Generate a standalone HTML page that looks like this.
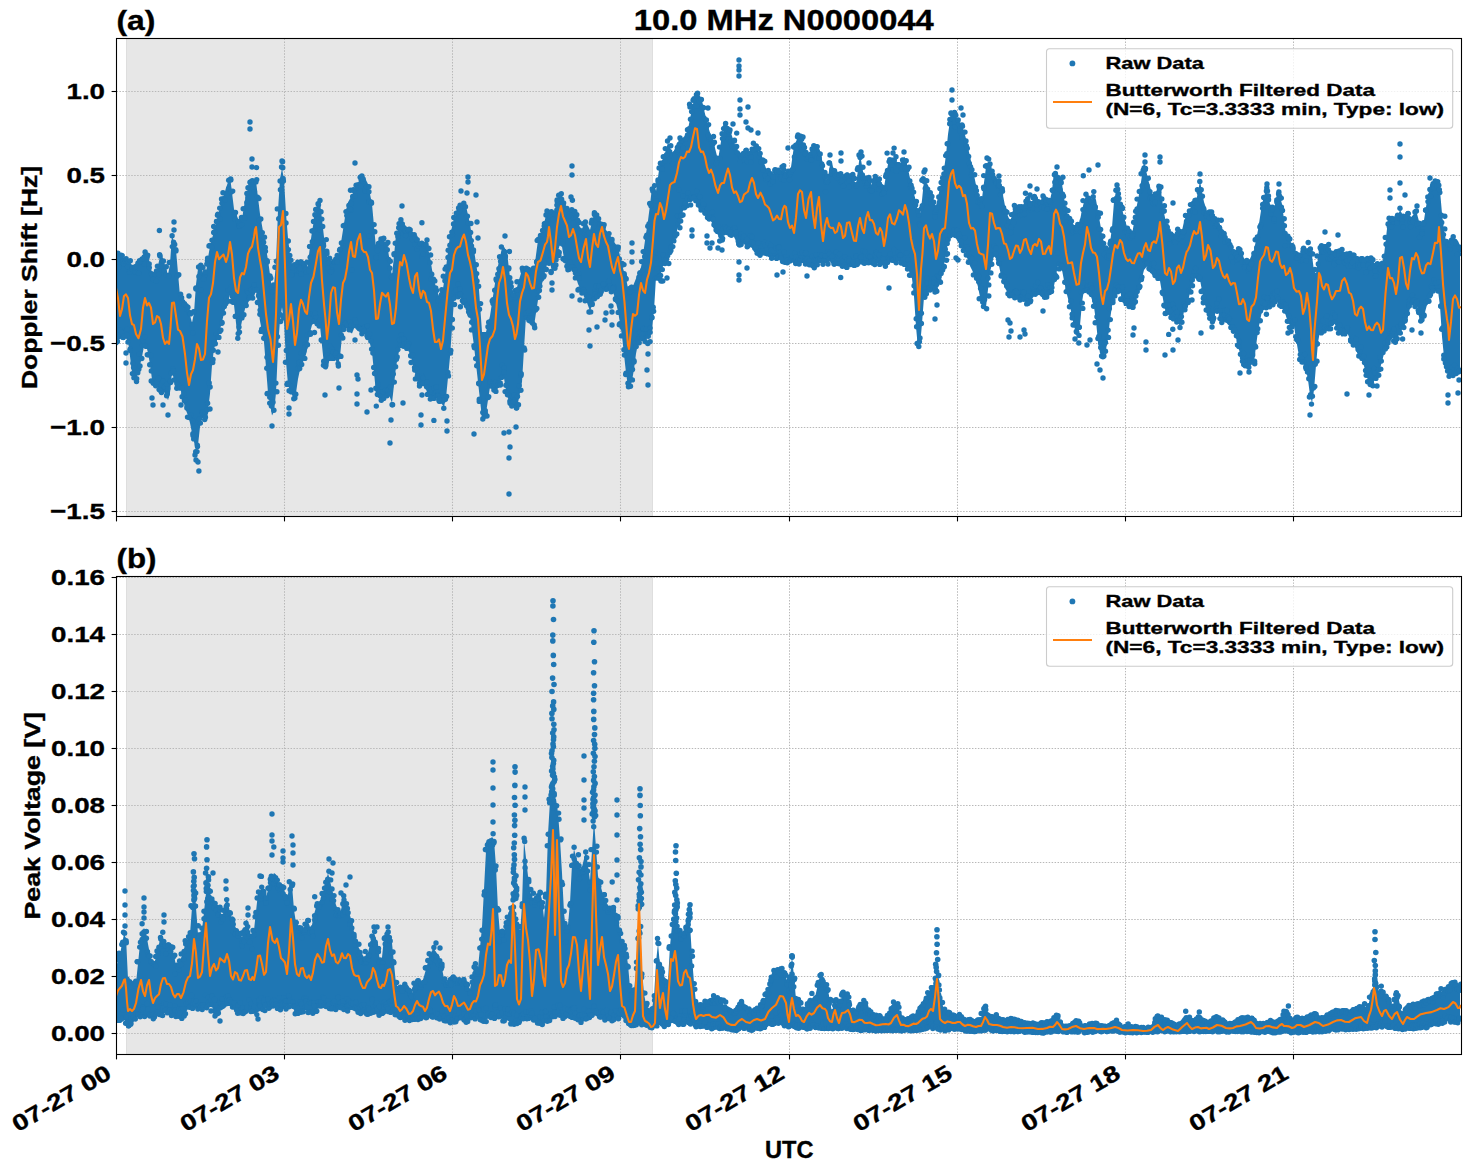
<!DOCTYPE html><html><head><meta charset="utf-8"><style>html,body{margin:0;padding:0;background:#fff;}svg{display:block;}text{font-family:"Liberation Sans",sans-serif;font-weight:bold;fill:#000;stroke:#000;stroke-width:0.35px;}</style></head><body>
<svg width="1471" height="1172" viewBox="0 0 1471 1172">
<rect width="1471" height="1172" fill="#fff"/>
<defs>
<clipPath id="c0"><rect x="116.5" y="38.5" width="1345" height="478"/></clipPath>
<clipPath id="c1"><rect x="116.5" y="576.5" width="1345" height="478"/></clipPath>
</defs>
<g clip-path="url(#c0)">
<rect x="126" y="38.5" width="527" height="478" fill="#e7e7e7"/>
<line x1="126.5" y1="38.5" x2="126.5" y2="516.5" stroke="#dedede" stroke-width="1"/>
<line x1="652.5" y1="38.5" x2="652.5" y2="516.5" stroke="#dedede" stroke-width="1"/>
<line x1="116.5" y1="38.5" x2="116.5" y2="516.5" stroke="#b8b8b8" stroke-width="1.05" stroke-dasharray="1.45,1.5"/>
<line x1="284.5" y1="38.5" x2="284.5" y2="516.5" stroke="#b8b8b8" stroke-width="1.05" stroke-dasharray="1.45,1.5"/>
<line x1="452.5" y1="38.5" x2="452.5" y2="516.5" stroke="#b8b8b8" stroke-width="1.05" stroke-dasharray="1.45,1.5"/>
<line x1="620.5" y1="38.5" x2="620.5" y2="516.5" stroke="#b8b8b8" stroke-width="1.05" stroke-dasharray="1.45,1.5"/>
<line x1="789.5" y1="38.5" x2="789.5" y2="516.5" stroke="#b8b8b8" stroke-width="1.05" stroke-dasharray="1.45,1.5"/>
<line x1="957.5" y1="38.5" x2="957.5" y2="516.5" stroke="#b8b8b8" stroke-width="1.05" stroke-dasharray="1.45,1.5"/>
<line x1="1125.5" y1="38.5" x2="1125.5" y2="516.5" stroke="#b8b8b8" stroke-width="1.05" stroke-dasharray="1.45,1.5"/>
<line x1="1293.5" y1="38.5" x2="1293.5" y2="516.5" stroke="#b8b8b8" stroke-width="1.05" stroke-dasharray="1.45,1.5"/>
<line x1="116.5" y1="91.5" x2="1461.5" y2="91.5" stroke="#b8b8b8" stroke-width="1.05" stroke-dasharray="1.45,1.5"/>
<line x1="116.5" y1="175.5" x2="1461.5" y2="175.5" stroke="#b8b8b8" stroke-width="1.05" stroke-dasharray="1.45,1.5"/>
<line x1="116.5" y1="259.5" x2="1461.5" y2="259.5" stroke="#b8b8b8" stroke-width="1.05" stroke-dasharray="1.45,1.5"/>
<line x1="116.5" y1="343.5" x2="1461.5" y2="343.5" stroke="#b8b8b8" stroke-width="1.05" stroke-dasharray="1.45,1.5"/>
<line x1="116.5" y1="427.5" x2="1461.5" y2="427.5" stroke="#b8b8b8" stroke-width="1.05" stroke-dasharray="1.45,1.5"/>
<line x1="116.5" y1="511.5" x2="1461.5" y2="511.5" stroke="#b8b8b8" stroke-width="1.05" stroke-dasharray="1.45,1.5"/>
<g fill="#1f77b4">
<path d="M116,255 L118,255 L120,255 L122,256.5 L124,258 L126,259 L128,260 L130,262.5 L132,265 L134,266.5 L136,268 L138,264.8 L140,261.6 L142,258 L144,254 L146,253.5 L148,256.5 L150,263 L152,273 L154,276 L156,272 L158,265.5 L160,256.5 L162,255.2 L164,261.8 L166,268.2 L168,274.8 L170,263.7 L172,235 L174,242.5 L176,250 L178,273 L180,296 L182,298 L184,300 L186,303.5 L188,308.5 L190,315 L192,323 L194,312.8 L196,284.2 L198,268.8 L200,266.2 L202,269 L204,277 L206,273.2 L208,257.8 L210,246.2 L212,238.8 L214,231 L216,223 L218,215.2 L220,207.8 L222,200.8 L224,194.4 L226,188 L228,182 L230,176 L232,192.5 L234,209 L236,214 L238,219 L240,219 L242,219 L244,206.5 L246,194 L248,189 L250,184 L252,182.5 L254,181 L256,181 L258,197.5 L260,214 L262,225.5 L264,237 L266,248.5 L268,260 L270,274.4 L272,288.8 L274,285 L276,263 L278,210.3 L280,178.8 L282,168.2 L284,179.8 L286,213.2 L288,238.2 L290,254.8 L292,263.8 L294,265.2 L296,265.2 L298,263.8 L300,263 L302,263 L304,265.5 L306,270.5 L308,264 L310,246 L312,231.4 L314,220.2 L316,209 L318,205.5 L320,202 L322,219.5 L324,237 L326,252.3 L328,260 L330,260 L332,260.8 L334,262.2 L336,261 L338,257 L340,248.8 L342,236.2 L344,223.5 L346,210.5 L348,202.2 L350,198.8 L352,195 L354,191 L356,187 L358,183 L360,179 L362,177.5 L364,176 L366,180 L368,184 L370,194 L372,204 L374,226 L376,248 L378,242.5 L380,237 L382,238.5 L384,240 L386,245 L388,250 L390,263 L392,276 L394,255.5 L396,235 L398,229.5 L400,224 L402,224 L404,224 L406,226 L408,228 L410,230.5 L412,233.5 L414,236.2 L416,238.8 L418,241.2 L420,243.8 L422,245 L424,245 L426,246.2 L428,248.8 L430,256.5 L432,269.5 L434,279.8 L436,287.2 L438,293.5 L440,298.5 L442,294.8 L444,282.2 L446,267.8 L448,251.4 L450,235 L452,227 L454,219 L456,214 L458,209 L460,206.5 L462,204 L464,205 L466,206 L468,215 L470,224 L472,237 L474,250 L476,263 L478,276 L480,304 L482,332 L484,332 L486,332 L488,324 L490,316 L492,302.8 L494,289.6 L496,277.2 L498,265.8 L500,256.2 L502,248.8 L504,246.8 L506,250.2 L508,260.5 L510,277.5 L512,288.5 L514,293.5 L516,291.7 L518,283 L520,276.5 L522,270 L524,269 L526,268 L528,269 L530,270 L532,270 L534,270 L536,255 L538,240 L540,236 L542,232 L544,224.8 L546,214.2 L548,209 L550,210.2 L552,212.8 L554,211.5 L556,206.5 L558,200.8 L560,194.2 L562,195.5 L564,204.5 L566,210.2 L568,212.8 L570,212.8 L572,210.2 L574,211.5 L576,216.5 L578,221.8 L580,227.2 L582,228.4 L584,225.2 L586,222 L588,226 L590,230 L592,222 L594,214 L596,216.5 L598,219 L600,220.5 L602,222 L604,226 L606,230 L608,232.5 L610,235 L612,238.5 L614,242 L616,244.5 L618,247 L620,256 L622,265 L624,271.4 L626,277.8 L628,288.5 L630,293.5 L632,288.5 L634,283.5 L636,278.5 L638,274.5 L640,271.5 L642,262.5 L644,247.5 L646,233.5 L648,220.5 L650,205 L652,187 L654,182.3 L656,191 L658,177 L660,163 L662,160.5 L664,158 L666,150 L668,142 L670,147.5 L672,153 L674,151 L676,149 L678,146.5 L680,143.5 L682,141.5 L684,140.5 L686,136.2 L688,128.8 L690,119.2 L692,107.8 L694,100 L696,96 L698,94.5 L700,95.5 L702,100.5 L704,109.5 L706,118 L708,126 L710,132.5 L712,137.5 L714,144 L716,152 L718,160 L720,147.5 L722,135 L724,130 L726,125 L728,127.5 L730,130 L732,136 L734,142 L736,147.5 L738,153 L740,153 L742,153 L744,151.5 L746,150 L748,151.5 L750,153 L752,149 L754,145 L756,147.5 L758,150 L760,154 L762,158 L764,162.8 L766,168.2 L768,172.2 L770,174.8 L772,174.8 L774,172.2 L776,171 L778,171 L780,171 L782,171 L784,171.3 L786,172 L788,173 L790,174 L792,160 L794,146 L796,141.5 L798,137 L800,138 L802,139 L804,146.5 L806,154 L808,152.8 L810,151.6 L812,149.8 L814,147.2 L816,146 L818,146 L820,150.5 L822,159.5 L824,169.2 L826,179.8 L828,178 L830,164 L832,162 L834,172 L836,176.2 L838,174.8 L840,174.8 L842,176.2 L844,177 L846,177 L848,176.4 L850,175.2 L852,174 L854,179.5 L856,185 L858,169.5 L860,154 L862,165.5 L864,177 L866,177 L868,177 L870,181 L872,185 L874,181 L876,177 L878,181 L880,185 L882,186 L884,187 L886,175.5 L888,164 L890,160.5 L892,157 L894,159 L896,161 L898,162.5 L900,163.5 L902,161.5 L904,156.5 L906,159 L908,169 L910,178 L912,186 L914,193.8 L916,201.2 L918,212.5 L920,215 L922,200 L924,180 L926,182.5 L928,185 L930,191.5 L932,198 L934,202 L936,206 L938,197 L940,188 L942,178.8 L944,169.6 L946,154.8 L948,134.2 L950,120.8 L952,114.2 L954,113 L956,117 L958,120.2 L960,122.8 L962,126.5 L964,131.5 L966,138.5 L968,147.5 L970,156.5 L972,165.5 L974,175 L976,185 L978,194 L980,202 L982,198.2 L984,182.6 L986,167 L988,166 L990,165 L992,172.5 L994,180 L996,180 L998,180 L1000,185 L1002,190 L1004,200.5 L1006,211 L1008,216 L1010,221 L1012,216 L1014,211 L1016,208.5 L1018,206 L1020,207 L1022,208 L1024,203 L1026,198 L1028,200 L1030,202 L1032,201.2 L1034,197.8 L1036,198.5 L1038,203.5 L1040,204.8 L1042,202.2 L1044,199.8 L1046,197.2 L1048,197.2 L1050,199.8 L1052,191 L1054,171 L1056,175 L1058,179 L1060,181.5 L1062,184 L1064,197 L1066,210 L1068,215 L1070,220 L1072,222.5 L1074,225 L1076,225 L1078,225 L1080,220 L1082,210 L1084,201.8 L1086,195.2 L1088,194.5 L1090,199.5 L1092,200 L1094,196 L1096,199.8 L1098,211.2 L1100,222.8 L1102,234.2 L1104,242.8 L1106,248.2 L1108,248.2 L1110,242.8 L1112,227.2 L1114,201.8 L1116,191.2 L1118,195.6 L1120,200 L1122,208.5 L1124,217 L1126,223.5 L1128,230 L1130,232.5 L1132,235 L1134,222.5 L1136,210 L1138,199.5 L1140,189 L1142,175 L1144,161 L1146,170 L1148,179 L1150,186.5 L1152,194 L1154,193 L1156,192 L1158,188 L1160,184 L1162,198.4 L1164,212.8 L1166,222.5 L1168,227.5 L1170,232.5 L1172,237.5 L1174,237 L1176,231 L1178,229.8 L1180,233.2 L1182,230.5 L1184,221.5 L1186,216 L1188,214 L1190,209 L1192,204 L1194,203 L1196,202 L1198,191.5 L1200,181 L1202,191.5 L1204,202 L1206,208 L1208,214 L1210,213.2 L1212,212.4 L1214,214 L1216,218 L1218,221.8 L1220,225.2 L1222,229 L1224,233 L1226,237.5 L1228,242.5 L1230,246.2 L1232,248.8 L1234,250 L1236,250 L1238,250 L1240,250 L1242,252.8 L1244,258.2 L1246,261 L1248,261 L1250,258.8 L1252,254.4 L1254,250 L1256,240 L1258,230 L1260,217 L1262,204 L1264,196.5 L1266,189 L1268,196.5 L1270,204 L1272,206.5 L1274,209 L1276,199 L1278,189 L1280,196.5 L1282,204 L1284,219.5 L1286,235 L1288,237.5 L1290,240 L1292,245 L1294,250 L1296,252 L1298,254 L1300,253.8 L1302,251.2 L1304,250 L1306,250 L1308,250 L1310,250 L1312,255.5 L1314,271 L1316,273.2 L1318,257.8 L1320,248.7 L1322,246 L1324,246 L1326,246 L1328,248.5 L1330,251 L1332,252 L1334,253 L1336,252 L1338,251 L1340,251 L1342,251 L1344,251.8 L1346,252.6 L1348,253.8 L1350,255.2 L1352,256 L1354,256 L1356,256 L1358,256 L1360,257.2 L1362,259.8 L1364,261 L1366,261 L1368,260.2 L1370,258.8 L1372,259.5 L1374,262.5 L1376,264.5 L1378,265.5 L1380,265.5 L1382,264.5 L1384,255.2 L1386,237.6 L1388,220 L1390,220 L1392,220 L1394,220 L1396,220 L1398,215 L1400,210 L1402,213.5 L1404,217 L1406,216 L1408,215 L1410,216 L1412,217 L1414,213.5 L1416,210 L1418,217.5 L1420,225 L1422,222.5 L1424,220 L1426,207 L1428,194 L1430,190 L1432,186 L1434,182.8 L1436,180.2 L1438,179 L1440,190.5 L1442,213.5 L1444,230.2 L1446,240.8 L1448,246 L1450,244.5 L1452,241.5 L1454,241.5 L1456,244.5 L1458,246.5 L1460,247.5 L1460,369.2 L1458,371.8 L1456,373 L1454,373 L1452,374.2 L1450,376.8 L1448,375.5 L1446,367.8 L1444,357.2 L1442,336.8 L1440,306.2 L1438,291 L1436,291 L1434,291 L1432,293 L1430,297 L1428,301 L1426,308.5 L1424,316 L1422,319 L1420,322 L1418,311.5 L1416,301 L1414,301 L1412,301 L1410,308.5 L1408,316 L1406,321.5 L1404,327 L1402,329.5 L1400,332 L1398,337 L1396,342 L1394,339.5 L1392,337 L1390,339.5 L1388,342 L1386,348 L1384,354 L1382,361 L1380,369 L1378,374.2 L1376,376.8 L1374,380.5 L1372,385.5 L1370,385.5 L1368,380.5 L1366,374 L1364,366 L1362,360.8 L1360,358.2 L1358,354.5 L1356,349.5 L1354,345.8 L1352,343.2 L1350,339.5 L1348,334.5 L1346,333 L1344,335 L1342,337 L1340,334.5 L1338,332 L1336,327 L1334,322 L1332,324.5 L1330,327 L1328,327 L1326,327 L1324,329.5 L1322,332 L1320,331.3 L1318,342.5 L1316,365.5 L1314,390 L1312,403 L1310,395.2 L1308,379.8 L1306,369.5 L1304,364.5 L1302,360.8 L1300,358.2 L1298,350.8 L1296,338.4 L1294,326 L1292,326 L1290,326 L1288,321 L1286,316 L1284,311 L1282,306 L1280,303.5 L1278,301 L1276,301 L1274,301 L1272,303.5 L1270,306 L1268,306 L1266,306 L1264,308.5 L1262,311 L1260,321 L1258,331 L1256,346.5 L1254,362 L1252,364 L1250,366 L1248,367 L1246,367 L1244,364.5 L1242,359.5 L1240,353.2 L1238,345.8 L1236,338 L1234,330 L1232,326 L1230,326 L1228,324.8 L1226,322.2 L1224,321 L1222,321 L1220,317.2 L1218,309.8 L1216,309.8 L1214,317.2 L1212,320 L1210,318 L1208,316 L1206,308.5 L1204,301 L1202,290.5 L1200,280 L1198,277.5 L1196,275 L1194,280 L1192,285 L1190,293 L1188,301 L1186,304.3 L1184,311.2 L1182,321.8 L1180,325.8 L1178,323.2 L1176,320.5 L1174,317.5 L1172,316 L1170,316 L1168,314.8 L1166,312.2 L1164,305 L1162,293 L1160,281 L1158,278 L1156,275 L1154,272.5 L1152,270 L1150,267.5 L1148,265 L1146,267.5 L1144,270 L1142,278 L1140,286 L1138,293.5 L1136,301 L1134,303.5 L1132,306 L1130,306 L1128,306 L1126,306 L1124,306 L1122,298.5 L1120,291 L1118,291 L1116,291 L1114,296 L1112,306 L1110,320 L1108,338 L1106,349.5 L1104,354.5 L1102,355.8 L1100,353.2 L1098,341.8 L1096,321.2 L1094,307.2 L1092,299.8 L1090,293.5 L1088,288.5 L1086,287.2 L1084,289.8 L1082,302.5 L1080,325.5 L1078,335 L1076,331 L1074,327 L1072,316.5 L1070,306 L1068,298.5 L1066,291 L1064,280.5 L1062,270 L1060,267.5 L1058,265 L1056,275.5 L1054,286 L1052,290.7 L1050,294 L1048,296 L1046,296.5 L1044,295.5 L1042,293.8 L1040,291.2 L1038,291.2 L1036,293.8 L1034,296.2 L1032,298.8 L1030,300.6 L1028,301.8 L1026,303 L1024,300 L1022,297 L1020,298.5 L1018,300 L1016,298.5 L1014,297 L1012,296 L1010,295 L1008,292.5 L1006,290 L1004,285 L1002,280 L1000,270.5 L998,261 L996,258.5 L994,256 L992,264 L990,272 L988,289.5 L986,307 L984,305 L982,303 L980,297 L978,287 L976,279.5 L974,274.5 L972,270 L970,266 L968,260.8 L966,254.2 L964,249.8 L962,247.2 L960,244.8 L958,242.2 L956,238.5 L954,233.5 L952,232.2 L950,234.8 L948,242.2 L946,254.8 L944,265.2 L942,273.6 L940,282 L938,284.5 L936,287 L934,289.5 L932,292 L930,289.5 L928,287 L926,292 L924,297 L922,323.7 L920,346 L918,348.5 L916,326.8 L914,296.2 L912,278.5 L910,273.5 L908,269 L906,265 L904,262.5 L902,261.5 L900,261 L898,261 L896,261 L894,261 L892,261 L890,262 L888,263 L886,264.5 L884,266 L882,264.5 L880,263 L878,263 L876,263 L874,264.5 L872,266 L870,263.5 L868,261 L866,262 L864,263 L862,263 L860,263 L858,264.5 L856,266 L854,264.5 L852,263 L850,264.2 L848,265.4 L846,266 L844,266 L842,265.2 L840,263.8 L838,263 L836,263 L834,262.5 L832,261.5 L830,261.5 L828,262.5 L826,263 L824,263 L822,263 L820,263 L818,263.8 L816,265.2 L814,266 L812,266 L810,265.4 L808,264.2 L806,263 L804,263 L802,263 L800,263 L798,263 L796,262 L794,261 L792,261 L790,261 L788,261 L786,261 L784,261.7 L782,260.8 L780,258.2 L778,257 L776,257 L774,257 L772,257 L770,255.8 L768,253.2 L766,252.8 L764,254.2 L762,254.6 L760,253.8 L758,253 L756,251 L754,249 L752,248 L750,247 L748,246 L746,245 L744,244 L742,243 L740,244 L738,245 L736,241 L734,237 L732,235 L730,233 L728,231 L726,229 L724,234 L722,239 L720,236 L718,233 L716,229.8 L714,226.6 L712,223 L710,219 L708,215.8 L706,213.2 L704,210.8 L702,208.2 L700,205.8 L698,203.2 L696,200.8 L694,198.2 L692,198.2 L690,200.8 L688,203 L686,205 L684,208.5 L682,213.5 L680,219.8 L678,227.2 L676,234.2 L674,240.6 L672,247 L670,254.5 L668,262 L666,262 L664,262 L662,269.5 L660,277 L658,277 L656,277 L654,310.3 L652,329.2 L650,333.8 L648,337.2 L646,339.8 L644,339.8 L642,337.2 L640,338.5 L638,343.5 L636,353.8 L634,369.2 L632,380.8 L630,388.2 L628,387 L626,372.8 L624,354.4 L622,336 L620,323.5 L618,311 L616,303 L614,295 L612,290 L610,285 L608,287.5 L606,290 L604,290 L602,290 L600,292.5 L598,295 L596,297.5 L594,300 L592,305.5 L590,311 L588,305.5 L586,300 L584,296 L582,292 L580,288 L578,284 L576,277.5 L574,268.5 L572,265.5 L570,268.5 L568,268.5 L566,265.5 L564,258.2 L562,246.8 L560,244.2 L558,250.8 L556,259.2 L554,269.8 L552,271 L550,263 L548,261.5 L546,268 L544,276 L542,284 L540,292 L538,300 L536,313 L534,326 L532,323.5 L530,321 L528,318.5 L526,316 L524,349 L522,382 L520,392.5 L518,403 L516,406.3 L514,406.8 L512,404.2 L510,401.5 L508,398.5 L506,390.8 L504,378.2 L502,375.8 L500,383.2 L498,388.2 L496,390.8 L494,391 L492,389 L490,387 L488,400 L486,413 L484,415.5 L482,418 L480,400 L478,382 L476,364 L474,346 L472,331 L470,316 L468,310.5 L466,305 L464,302.5 L462,300 L460,297.5 L458,295 L456,297.5 L454,300 L452,328.5 L450,357 L448,377.4 L446,397.8 L444,406.8 L442,404.2 L440,400.2 L438,394.8 L436,394 L434,398 L432,399.2 L430,397.8 L428,394.5 L426,389.5 L424,386.5 L422,385.5 L420,384.2 L418,382.8 L416,377.5 L414,368.5 L412,360.8 L410,354.2 L408,350 L406,348 L404,346 L402,346 L400,346 L398,356.5 L396,367 L394,385 L392,403 L390,397.5 L388,392 L386,394.5 L384,397 L382,398.5 L380,400 L378,396.5 L376,393 L374,372.5 L372,352 L370,344 L368,336 L366,335 L364,334 L362,332.5 L360,331 L358,329 L356,327 L354,328.5 L352,333.5 L350,332.2 L348,324.8 L346,322.2 L344,324.8 L342,336.2 L340,356.8 L338,365 L336,361 L334,357.2 L332,353.8 L330,357 L328,367 L326,369.7 L324,365 L322,345.5 L320,326 L318,323.5 L316,321 L314,323 L312,325 L310,332.5 L308,345.5 L306,354.5 L304,359.5 L302,364.5 L300,369.5 L298,379 L296,393 L294,398.2 L292,394.8 L290,390.2 L288,384.8 L286,361.8 L284,321.2 L282,307.2 L280,319.8 L278,348.3 L276,393 L274,411.7 L272,415.4 L270,404.2 L268,393 L266,367.5 L264,342 L262,331.5 L260,321 L258,305.5 L256,290 L254,297 L252,298.5 L250,300 L248,302.5 L246,305 L244,313 L242,321 L240,331 L238,341 L236,323 L234,305 L232,300 L230,295 L228,300 L226,305 L224,313.4 L222,321.8 L220,329.8 L218,337.2 L216,343.5 L214,348.5 L212,365.2 L210,393.8 L208,410.5 L206,415.5 L204,418 L202,418 L200,427 L198,445 L196,450 L194,442 L192,433 L190,423 L188,415.5 L186,410.5 L184,403.8 L182,395.4 L180,387 L178,387 L176,387 L174,379.5 L172,372 L170,392.7 L168,400.2 L166,394.8 L164,392 L162,392 L160,390.2 L158,386.8 L156,385.5 L154,386.5 L152,379.5 L150,364.5 L148,353 L146,345 L144,346.2 L142,356.8 L140,365.6 L138,372.8 L136,380 L134,376 L132,372 L130,356.5 L128,341 L126,338.5 L124,336 L122,337.5 L120,339 L118,340 L116,341Z"/>
<circle cx="115.3" cy="255.5" r="2.7"/><circle cx="115.1" cy="335.8" r="2.7"/><circle cx="115.7" cy="258.4" r="2.7"/><circle cx="116" cy="342.7" r="2.7"/><circle cx="117.9" cy="253.3" r="2.7"/><circle cx="117.2" cy="341.6" r="2.7"/><circle cx="118.7" cy="256.8" r="2.7"/><circle cx="117.4" cy="341.3" r="2.7"/><circle cx="120.9" cy="259.8" r="2.7"/><circle cx="119.8" cy="335" r="2.7"/><circle cx="119.1" cy="266.7" r="2.7"/><circle cx="119.6" cy="329.8" r="2.7"/><circle cx="121.2" cy="255.3" r="2.7"/><circle cx="122.6" cy="337.2" r="2.7"/><circle cx="122.2" cy="255.6" r="2.7"/><circle cx="121.7" cy="332.5" r="2.7"/><circle cx="123.1" cy="261.5" r="2.7"/><circle cx="123.4" cy="337.6" r="2.7"/><circle cx="123.9" cy="263.8" r="2.7"/><circle cx="124.2" cy="335.6" r="2.7"/><circle cx="125.6" cy="261.1" r="2.7"/><circle cx="126.4" cy="330.6" r="2.7"/><circle cx="126.1" cy="258.7" r="2.7"/><circle cx="126.8" cy="335.3" r="2.7"/><circle cx="127.6" cy="266.7" r="2.7"/><circle cx="127.2" cy="329.2" r="2.7"/><circle cx="128.5" cy="261.7" r="2.7"/><circle cx="128" cy="342.1" r="2.7"/><circle cx="130.3" cy="260.8" r="2.7"/><circle cx="130.1" cy="349.2" r="2.7"/><circle cx="129.6" cy="272" r="2.7"/><circle cx="130.2" cy="350.5" r="2.7"/><circle cx="131.9" cy="269.1" r="2.7"/><circle cx="132.9" cy="363.2" r="2.7"/><circle cx="132.3" cy="267.4" r="2.7"/><circle cx="132.4" cy="373.6" r="2.7"/><circle cx="135" cy="271.7" r="2.7"/><circle cx="133.6" cy="367.6" r="2.7"/><circle cx="134.3" cy="267.7" r="2.7"/><circle cx="133.9" cy="377.8" r="2.7"/><circle cx="135.2" cy="267" r="2.7"/><circle cx="136.5" cy="381.6" r="2.7"/><circle cx="135.5" cy="266.7" r="2.7"/><circle cx="136.7" cy="378.7" r="2.7"/><circle cx="137.9" cy="263.2" r="2.7"/><circle cx="138.8" cy="369.2" r="2.7"/><circle cx="138.7" cy="273.2" r="2.7"/><circle cx="137.8" cy="372.8" r="2.7"/><circle cx="140.8" cy="262.5" r="2.7"/><circle cx="139.3" cy="354.3" r="2.7"/><circle cx="139.5" cy="260.7" r="2.7"/><circle cx="140" cy="366" r="2.7"/><circle cx="141.5" cy="262.2" r="2.7"/><circle cx="141.8" cy="358.5" r="2.7"/><circle cx="142.1" cy="259" r="2.7"/><circle cx="142.4" cy="345.6" r="2.7"/><circle cx="144.2" cy="257" r="2.7"/><circle cx="143.1" cy="340.6" r="2.7"/><circle cx="144.6" cy="264" r="2.7"/><circle cx="144.6" cy="336.8" r="2.7"/><circle cx="145.8" cy="254.8" r="2.7"/><circle cx="146.3" cy="346.4" r="2.7"/><circle cx="145.1" cy="251.9" r="2.7"/><circle cx="145.3" cy="345.7" r="2.7"/><circle cx="147.1" cy="257.2" r="2.7"/><circle cx="147.3" cy="354.8" r="2.7"/><circle cx="147.7" cy="255.1" r="2.7"/><circle cx="148.7" cy="354.8" r="2.7"/><circle cx="149.3" cy="267.6" r="2.7"/><circle cx="149.7" cy="364.8" r="2.7"/><circle cx="149.2" cy="264" r="2.7"/><circle cx="151" cy="355.5" r="2.7"/><circle cx="152" cy="275.3" r="2.7"/><circle cx="151.2" cy="381" r="2.7"/><circle cx="151.5" cy="273.7" r="2.7"/><circle cx="151.3" cy="370.9" r="2.7"/><circle cx="154.9" cy="274.2" r="2.7"/><circle cx="153.3" cy="383.3" r="2.7"/><circle cx="153.1" cy="279.5" r="2.7"/><circle cx="155" cy="383.3" r="2.7"/><circle cx="156.4" cy="281.3" r="2.7"/><circle cx="155.7" cy="385.7" r="2.7"/><circle cx="156.5" cy="271" r="2.7"/><circle cx="156.6" cy="382.2" r="2.7"/><circle cx="157.4" cy="266.1" r="2.7"/><circle cx="159" cy="378.5" r="2.7"/><circle cx="158.6" cy="274.5" r="2.7"/><circle cx="158.5" cy="378.4" r="2.7"/><circle cx="160" cy="256" r="2.7"/><circle cx="159.1" cy="389.4" r="2.7"/><circle cx="159.6" cy="254.7" r="2.7"/><circle cx="160.4" cy="390.4" r="2.7"/><circle cx="161.9" cy="266.5" r="2.7"/><circle cx="163" cy="381.2" r="2.7"/><circle cx="161.7" cy="266.5" r="2.7"/><circle cx="161.5" cy="392.6" r="2.7"/><circle cx="163.4" cy="261" r="2.7"/><circle cx="164.8" cy="387.2" r="2.7"/><circle cx="164" cy="270.6" r="2.7"/><circle cx="164.6" cy="386.7" r="2.7"/><circle cx="166.3" cy="266.7" r="2.7"/><circle cx="166.6" cy="384.5" r="2.7"/><circle cx="166" cy="275.3" r="2.7"/><circle cx="166.6" cy="395.7" r="2.7"/><circle cx="168.6" cy="275.4" r="2.7"/><circle cx="167.8" cy="388.7" r="2.7"/><circle cx="168.9" cy="276.2" r="2.7"/><circle cx="167.3" cy="393.7" r="2.7"/><circle cx="169.3" cy="262.4" r="2.7"/><circle cx="170.6" cy="382.5" r="2.7"/><circle cx="170.7" cy="262.5" r="2.7"/><circle cx="170.3" cy="380.9" r="2.7"/><circle cx="172.1" cy="235.8" r="2.7"/><circle cx="171" cy="373.3" r="2.7"/><circle cx="172.3" cy="246.6" r="2.7"/><circle cx="172.9" cy="368.8" r="2.7"/><circle cx="174.7" cy="244.4" r="2.7"/><circle cx="173.4" cy="371" r="2.7"/><circle cx="173.6" cy="242.2" r="2.7"/><circle cx="174.2" cy="379.9" r="2.7"/><circle cx="175.8" cy="249.8" r="2.7"/><circle cx="176.8" cy="388.3" r="2.7"/><circle cx="175.9" cy="250.9" r="2.7"/><circle cx="176.8" cy="382.9" r="2.7"/><circle cx="178.8" cy="274.7" r="2.7"/><circle cx="178.1" cy="384.2" r="2.7"/><circle cx="177" cy="276.2" r="2.7"/><circle cx="177.4" cy="385" r="2.7"/><circle cx="180.6" cy="294.2" r="2.7"/><circle cx="179.9" cy="388" r="2.7"/><circle cx="180.1" cy="302.6" r="2.7"/><circle cx="180" cy="386.5" r="2.7"/><circle cx="182.6" cy="301.7" r="2.7"/><circle cx="182.1" cy="396.8" r="2.7"/><circle cx="181.6" cy="297.7" r="2.7"/><circle cx="182" cy="387.9" r="2.7"/><circle cx="184.5" cy="303.8" r="2.7"/><circle cx="183.9" cy="393.5" r="2.7"/><circle cx="184" cy="304.6" r="2.7"/><circle cx="184.4" cy="400.8" r="2.7"/><circle cx="186.1" cy="305.6" r="2.7"/><circle cx="186.9" cy="408" r="2.7"/><circle cx="186.8" cy="309.6" r="2.7"/><circle cx="185.5" cy="399.6" r="2.7"/><circle cx="188.9" cy="312.2" r="2.7"/><circle cx="187.3" cy="406.7" r="2.7"/><circle cx="187.9" cy="307.2" r="2.7"/><circle cx="187.5" cy="417.1" r="2.7"/><circle cx="190.3" cy="313.4" r="2.7"/><circle cx="190.8" cy="415.3" r="2.7"/><circle cx="190.4" cy="313.9" r="2.7"/><circle cx="189.3" cy="417.6" r="2.7"/><circle cx="192.9" cy="332.7" r="2.7"/><circle cx="192.9" cy="433.6" r="2.7"/><circle cx="192" cy="324.4" r="2.7"/><circle cx="192.7" cy="421" r="2.7"/><circle cx="193.9" cy="311.7" r="2.7"/><circle cx="193.7" cy="438.9" r="2.7"/><circle cx="193.6" cy="312" r="2.7"/><circle cx="193" cy="435.5" r="2.7"/><circle cx="195.9" cy="287.9" r="2.7"/><circle cx="195.7" cy="451.8" r="2.7"/><circle cx="196" cy="289" r="2.7"/><circle cx="197" cy="451.6" r="2.7"/><circle cx="198.9" cy="276.5" r="2.7"/><circle cx="197.5" cy="446.4" r="2.7"/><circle cx="198.6" cy="267" r="2.7"/><circle cx="197.3" cy="445.1" r="2.7"/><circle cx="200.8" cy="268" r="2.7"/><circle cx="199.5" cy="418.6" r="2.7"/><circle cx="200.8" cy="265.1" r="2.7"/><circle cx="200.4" cy="423.1" r="2.7"/><circle cx="201.1" cy="267.5" r="2.7"/><circle cx="201.9" cy="412.1" r="2.7"/><circle cx="202.9" cy="267.4" r="2.7"/><circle cx="202.6" cy="413" r="2.7"/><circle cx="204.7" cy="275.5" r="2.7"/><circle cx="204.7" cy="419.6" r="2.7"/><circle cx="203.7" cy="279.2" r="2.7"/><circle cx="204.9" cy="414.4" r="2.7"/><circle cx="205.3" cy="273.2" r="2.7"/><circle cx="205.5" cy="412.3" r="2.7"/><circle cx="205.3" cy="271.9" r="2.7"/><circle cx="205.4" cy="417.2" r="2.7"/><circle cx="207.6" cy="258.1" r="2.7"/><circle cx="207.6" cy="403.3" r="2.7"/><circle cx="207.4" cy="260.6" r="2.7"/><circle cx="207" cy="409.7" r="2.7"/><circle cx="209" cy="246" r="2.7"/><circle cx="210.1" cy="387" r="2.7"/><circle cx="209.9" cy="245.4" r="2.7"/><circle cx="209.2" cy="383" r="2.7"/><circle cx="211.9" cy="247.1" r="2.7"/><circle cx="212.7" cy="362.5" r="2.7"/><circle cx="212" cy="240.1" r="2.7"/><circle cx="213" cy="359.4" r="2.7"/><circle cx="214.7" cy="231.7" r="2.7"/><circle cx="214.3" cy="342.3" r="2.7"/><circle cx="213.7" cy="232.5" r="2.7"/><circle cx="213.3" cy="350.2" r="2.7"/><circle cx="216.5" cy="221.4" r="2.7"/><circle cx="215.3" cy="343.7" r="2.7"/><circle cx="216.7" cy="221.5" r="2.7"/><circle cx="216.3" cy="334.1" r="2.7"/><circle cx="217.5" cy="215.3" r="2.7"/><circle cx="217.9" cy="337.1" r="2.7"/><circle cx="217.9" cy="214.2" r="2.7"/><circle cx="218.9" cy="337.4" r="2.7"/><circle cx="220.1" cy="219.3" r="2.7"/><circle cx="220.9" cy="330.1" r="2.7"/><circle cx="219.7" cy="208.1" r="2.7"/><circle cx="219.8" cy="331.5" r="2.7"/><circle cx="222" cy="203.2" r="2.7"/><circle cx="222" cy="322.5" r="2.7"/><circle cx="221.5" cy="199" r="2.7"/><circle cx="221.8" cy="323.3" r="2.7"/><circle cx="223" cy="192.7" r="2.7"/><circle cx="223.5" cy="313.1" r="2.7"/><circle cx="224.1" cy="198.5" r="2.7"/><circle cx="224.3" cy="306.4" r="2.7"/><circle cx="226.8" cy="194.4" r="2.7"/><circle cx="225.7" cy="303.7" r="2.7"/><circle cx="225.3" cy="199.9" r="2.7"/><circle cx="226.3" cy="298.4" r="2.7"/><circle cx="228.7" cy="180.3" r="2.7"/><circle cx="228.3" cy="290.1" r="2.7"/><circle cx="228.6" cy="188.7" r="2.7"/><circle cx="228" cy="301.2" r="2.7"/><circle cx="230.7" cy="178.9" r="2.7"/><circle cx="230.7" cy="286.9" r="2.7"/><circle cx="230.8" cy="180.1" r="2.7"/><circle cx="230.4" cy="289.2" r="2.7"/><circle cx="231.1" cy="192" r="2.7"/><circle cx="231.7" cy="301.2" r="2.7"/><circle cx="232.7" cy="191.1" r="2.7"/><circle cx="232.3" cy="296.3" r="2.7"/><circle cx="234.4" cy="213.8" r="2.7"/><circle cx="233" cy="302.3" r="2.7"/><circle cx="234.5" cy="217" r="2.7"/><circle cx="234.1" cy="302.1" r="2.7"/><circle cx="235.1" cy="219.4" r="2.7"/><circle cx="235.5" cy="316.2" r="2.7"/><circle cx="235.5" cy="212.4" r="2.7"/><circle cx="235.4" cy="316.4" r="2.7"/><circle cx="239" cy="225.8" r="2.7"/><circle cx="237.8" cy="338.3" r="2.7"/><circle cx="238.4" cy="221.5" r="2.7"/><circle cx="238.2" cy="333.6" r="2.7"/><circle cx="239.2" cy="224.1" r="2.7"/><circle cx="239.5" cy="332.1" r="2.7"/><circle cx="239.6" cy="225.9" r="2.7"/><circle cx="239" cy="327.1" r="2.7"/><circle cx="241.5" cy="217.4" r="2.7"/><circle cx="242.4" cy="315.4" r="2.7"/><circle cx="241.6" cy="224.7" r="2.7"/><circle cx="241.9" cy="317.9" r="2.7"/><circle cx="243.2" cy="208.8" r="2.7"/><circle cx="243.4" cy="303.1" r="2.7"/><circle cx="244.9" cy="218.2" r="2.7"/><circle cx="243.9" cy="314.8" r="2.7"/><circle cx="246.9" cy="202.4" r="2.7"/><circle cx="245.5" cy="302.9" r="2.7"/><circle cx="246.9" cy="193.4" r="2.7"/><circle cx="246.2" cy="305.6" r="2.7"/><circle cx="248" cy="187.8" r="2.7"/><circle cx="247.3" cy="291.3" r="2.7"/><circle cx="248" cy="197.4" r="2.7"/><circle cx="248.4" cy="292.7" r="2.7"/><circle cx="250.8" cy="183.5" r="2.7"/><circle cx="249" cy="297.4" r="2.7"/><circle cx="250" cy="182.2" r="2.7"/><circle cx="249.6" cy="297.9" r="2.7"/><circle cx="251.7" cy="181.3" r="2.7"/><circle cx="252.7" cy="298.1" r="2.7"/><circle cx="252.5" cy="180.7" r="2.7"/><circle cx="251.2" cy="289.7" r="2.7"/><circle cx="254.4" cy="191.6" r="2.7"/><circle cx="253.6" cy="286.9" r="2.7"/><circle cx="253.8" cy="182.1" r="2.7"/><circle cx="254.2" cy="284.8" r="2.7"/><circle cx="255.9" cy="181.9" r="2.7"/><circle cx="255.1" cy="290" r="2.7"/><circle cx="256.7" cy="179.6" r="2.7"/><circle cx="256.9" cy="289.9" r="2.7"/><circle cx="257.5" cy="197.2" r="2.7"/><circle cx="257.4" cy="302.5" r="2.7"/><circle cx="258.9" cy="198.6" r="2.7"/><circle cx="258.6" cy="295.8" r="2.7"/><circle cx="260.8" cy="218.9" r="2.7"/><circle cx="260.1" cy="310.1" r="2.7"/><circle cx="259.1" cy="220.5" r="2.7"/><circle cx="259.9" cy="314.3" r="2.7"/><circle cx="262.3" cy="232.6" r="2.7"/><circle cx="261.1" cy="331.4" r="2.7"/><circle cx="261.3" cy="236.1" r="2.7"/><circle cx="261.7" cy="329.1" r="2.7"/><circle cx="264.5" cy="237.2" r="2.7"/><circle cx="263.5" cy="330.3" r="2.7"/><circle cx="263.6" cy="242.3" r="2.7"/><circle cx="263.8" cy="338.3" r="2.7"/><circle cx="265.3" cy="247.5" r="2.7"/><circle cx="266.8" cy="368.2" r="2.7"/><circle cx="265.4" cy="251.3" r="2.7"/><circle cx="267" cy="357.3" r="2.7"/><circle cx="267.3" cy="262.1" r="2.7"/><circle cx="267.2" cy="393.8" r="2.7"/><circle cx="267.2" cy="260.7" r="2.7"/><circle cx="267.5" cy="393.4" r="2.7"/><circle cx="270.8" cy="278.3" r="2.7"/><circle cx="269.8" cy="397.2" r="2.7"/><circle cx="270" cy="276" r="2.7"/><circle cx="269.7" cy="403.1" r="2.7"/><circle cx="271.6" cy="287.2" r="2.7"/><circle cx="271.3" cy="403.9" r="2.7"/><circle cx="272.3" cy="291.7" r="2.7"/><circle cx="271.4" cy="406.1" r="2.7"/><circle cx="273.5" cy="284.9" r="2.7"/><circle cx="273.9" cy="410.2" r="2.7"/><circle cx="274.7" cy="296.2" r="2.7"/><circle cx="273" cy="402.2" r="2.7"/><circle cx="276.4" cy="261.3" r="2.7"/><circle cx="275.9" cy="383.1" r="2.7"/><circle cx="275" cy="267.2" r="2.7"/><circle cx="276.9" cy="391.7" r="2.7"/><circle cx="278.7" cy="218.8" r="2.7"/><circle cx="277.5" cy="336.7" r="2.7"/><circle cx="277.3" cy="208.9" r="2.7"/><circle cx="278.4" cy="345.2" r="2.7"/><circle cx="280.4" cy="189.7" r="2.7"/><circle cx="280.5" cy="314.6" r="2.7"/><circle cx="280.1" cy="181" r="2.7"/><circle cx="280.6" cy="321.5" r="2.7"/><circle cx="282.8" cy="167.8" r="2.7"/><circle cx="281.6" cy="302.1" r="2.7"/><circle cx="281.5" cy="167" r="2.7"/><circle cx="282.4" cy="302.3" r="2.7"/><circle cx="283.1" cy="178.4" r="2.7"/><circle cx="284.2" cy="318.1" r="2.7"/><circle cx="283.4" cy="181" r="2.7"/><circle cx="283" cy="316.8" r="2.7"/><circle cx="285.9" cy="213.5" r="2.7"/><circle cx="286.3" cy="350.5" r="2.7"/><circle cx="286" cy="222.9" r="2.7"/><circle cx="285.5" cy="362.2" r="2.7"/><circle cx="288.4" cy="249.6" r="2.7"/><circle cx="287" cy="384.4" r="2.7"/><circle cx="288.3" cy="241" r="2.7"/><circle cx="287.5" cy="383.1" r="2.7"/><circle cx="290.9" cy="260.3" r="2.7"/><circle cx="289.1" cy="390.7" r="2.7"/><circle cx="289.8" cy="255.4" r="2.7"/><circle cx="289.4" cy="384.5" r="2.7"/><circle cx="292.5" cy="271.7" r="2.7"/><circle cx="291.4" cy="391.9" r="2.7"/><circle cx="291.6" cy="275.3" r="2.7"/><circle cx="291.5" cy="386.4" r="2.7"/><circle cx="294.5" cy="264.7" r="2.7"/><circle cx="294.9" cy="398.1" r="2.7"/><circle cx="293.4" cy="268" r="2.7"/><circle cx="293.8" cy="398.8" r="2.7"/><circle cx="296.9" cy="270.7" r="2.7"/><circle cx="295.8" cy="394.2" r="2.7"/><circle cx="296.9" cy="264.6" r="2.7"/><circle cx="295.1" cy="394.2" r="2.7"/><circle cx="297.8" cy="262.1" r="2.7"/><circle cx="298.8" cy="369" r="2.7"/><circle cx="299" cy="270.5" r="2.7"/><circle cx="297.7" cy="368.3" r="2.7"/><circle cx="300.9" cy="262.1" r="2.7"/><circle cx="299.1" cy="362.5" r="2.7"/><circle cx="299.8" cy="268.5" r="2.7"/><circle cx="299.7" cy="368.4" r="2.7"/><circle cx="301" cy="262" r="2.7"/><circle cx="301.7" cy="364.5" r="2.7"/><circle cx="301.2" cy="274.2" r="2.7"/><circle cx="301.4" cy="353.1" r="2.7"/><circle cx="304.6" cy="266.4" r="2.7"/><circle cx="303.9" cy="351.1" r="2.7"/><circle cx="303.9" cy="263.8" r="2.7"/><circle cx="304.8" cy="358.4" r="2.7"/><circle cx="305.7" cy="269.7" r="2.7"/><circle cx="305.1" cy="344.5" r="2.7"/><circle cx="306.6" cy="272.1" r="2.7"/><circle cx="305.1" cy="347.1" r="2.7"/><circle cx="307.1" cy="262.3" r="2.7"/><circle cx="307.5" cy="335" r="2.7"/><circle cx="308.8" cy="271" r="2.7"/><circle cx="307.5" cy="344.8" r="2.7"/><circle cx="310.2" cy="257.3" r="2.7"/><circle cx="310.4" cy="332.7" r="2.7"/><circle cx="309.6" cy="246.4" r="2.7"/><circle cx="310.5" cy="334.3" r="2.7"/><circle cx="312.3" cy="241.8" r="2.7"/><circle cx="311" cy="314" r="2.7"/><circle cx="312" cy="231" r="2.7"/><circle cx="312.9" cy="313.8" r="2.7"/><circle cx="313.5" cy="221.5" r="2.7"/><circle cx="314" cy="321.2" r="2.7"/><circle cx="313.4" cy="230.8" r="2.7"/><circle cx="314.5" cy="315" r="2.7"/><circle cx="316.5" cy="217.4" r="2.7"/><circle cx="315.7" cy="316.5" r="2.7"/><circle cx="315.7" cy="209.5" r="2.7"/><circle cx="315.2" cy="313.3" r="2.7"/><circle cx="318.5" cy="204.7" r="2.7"/><circle cx="317.1" cy="323.8" r="2.7"/><circle cx="318.1" cy="203.8" r="2.7"/><circle cx="319" cy="323" r="2.7"/><circle cx="321" cy="211.7" r="2.7"/><circle cx="319.2" cy="326.1" r="2.7"/><circle cx="320" cy="200.5" r="2.7"/><circle cx="319.9" cy="319.7" r="2.7"/><circle cx="321.8" cy="219.1" r="2.7"/><circle cx="322.3" cy="340.8" r="2.7"/><circle cx="322.7" cy="226.5" r="2.7"/><circle cx="321.2" cy="340" r="2.7"/><circle cx="323.6" cy="245.8" r="2.7"/><circle cx="323.7" cy="361.2" r="2.7"/><circle cx="323.4" cy="243.8" r="2.7"/><circle cx="323.5" cy="365.3" r="2.7"/><circle cx="326.8" cy="251.2" r="2.7"/><circle cx="325.7" cy="365.6" r="2.7"/><circle cx="327" cy="253.7" r="2.7"/><circle cx="325.5" cy="366.7" r="2.7"/><circle cx="328.3" cy="268.2" r="2.7"/><circle cx="327.2" cy="355" r="2.7"/><circle cx="328.6" cy="262.5" r="2.7"/><circle cx="328.8" cy="358.2" r="2.7"/><circle cx="329.6" cy="258.3" r="2.7"/><circle cx="329.4" cy="358.3" r="2.7"/><circle cx="330.2" cy="271.6" r="2.7"/><circle cx="329.7" cy="346.3" r="2.7"/><circle cx="331.9" cy="270.1" r="2.7"/><circle cx="332.6" cy="353.9" r="2.7"/><circle cx="331.2" cy="271.8" r="2.7"/><circle cx="332.2" cy="349.4" r="2.7"/><circle cx="333.7" cy="261.7" r="2.7"/><circle cx="333.4" cy="358.4" r="2.7"/><circle cx="334.2" cy="262" r="2.7"/><circle cx="333.4" cy="352" r="2.7"/><circle cx="335.7" cy="259.2" r="2.7"/><circle cx="335.4" cy="355.3" r="2.7"/><circle cx="335.4" cy="261.4" r="2.7"/><circle cx="336.1" cy="353.1" r="2.7"/><circle cx="337.2" cy="255.4" r="2.7"/><circle cx="338.1" cy="363.6" r="2.7"/><circle cx="337.2" cy="262" r="2.7"/><circle cx="338.4" cy="366" r="2.7"/><circle cx="339.6" cy="250.3" r="2.7"/><circle cx="340.9" cy="356.4" r="2.7"/><circle cx="340.1" cy="249.1" r="2.7"/><circle cx="339.8" cy="355.9" r="2.7"/><circle cx="343" cy="245.5" r="2.7"/><circle cx="341.4" cy="335.3" r="2.7"/><circle cx="341.4" cy="242.9" r="2.7"/><circle cx="342.8" cy="338" r="2.7"/><circle cx="344.6" cy="225.2" r="2.7"/><circle cx="344.8" cy="323.2" r="2.7"/><circle cx="343.3" cy="225.8" r="2.7"/><circle cx="344.1" cy="326.5" r="2.7"/><circle cx="346.8" cy="215.6" r="2.7"/><circle cx="346.2" cy="323.8" r="2.7"/><circle cx="346" cy="211.6" r="2.7"/><circle cx="345.6" cy="323.4" r="2.7"/><circle cx="348.9" cy="205.4" r="2.7"/><circle cx="348" cy="326.1" r="2.7"/><circle cx="348.9" cy="210.3" r="2.7"/><circle cx="347.3" cy="325.5" r="2.7"/><circle cx="351" cy="209.7" r="2.7"/><circle cx="349.1" cy="329.7" r="2.7"/><circle cx="349.8" cy="209.3" r="2.7"/><circle cx="350.2" cy="322.1" r="2.7"/><circle cx="351.3" cy="203.5" r="2.7"/><circle cx="351.4" cy="325.8" r="2.7"/><circle cx="352.7" cy="196.5" r="2.7"/><circle cx="351.4" cy="324.9" r="2.7"/><circle cx="353.8" cy="190.4" r="2.7"/><circle cx="353.8" cy="325.4" r="2.7"/><circle cx="353.5" cy="189.7" r="2.7"/><circle cx="354.8" cy="321.9" r="2.7"/><circle cx="356.1" cy="185.3" r="2.7"/><circle cx="355.1" cy="319.8" r="2.7"/><circle cx="355.2" cy="195.8" r="2.7"/><circle cx="356.1" cy="322.6" r="2.7"/><circle cx="357.6" cy="187.8" r="2.7"/><circle cx="358.2" cy="327.3" r="2.7"/><circle cx="358.3" cy="184.8" r="2.7"/><circle cx="357.9" cy="326.9" r="2.7"/><circle cx="360.2" cy="177.2" r="2.7"/><circle cx="359.5" cy="328.3" r="2.7"/><circle cx="360.6" cy="186.3" r="2.7"/><circle cx="359.4" cy="328.8" r="2.7"/><circle cx="361.2" cy="179.9" r="2.7"/><circle cx="361.9" cy="333.8" r="2.7"/><circle cx="361.9" cy="176" r="2.7"/><circle cx="361.1" cy="329.5" r="2.7"/><circle cx="363.2" cy="181" r="2.7"/><circle cx="364.6" cy="327.3" r="2.7"/><circle cx="363.1" cy="179" r="2.7"/><circle cx="363.8" cy="331.1" r="2.7"/><circle cx="365.3" cy="191.1" r="2.7"/><circle cx="367" cy="325.9" r="2.7"/><circle cx="366.6" cy="186.7" r="2.7"/><circle cx="367" cy="335.8" r="2.7"/><circle cx="368.9" cy="186.7" r="2.7"/><circle cx="367.3" cy="325.6" r="2.7"/><circle cx="368.9" cy="191.8" r="2.7"/><circle cx="367.7" cy="337.6" r="2.7"/><circle cx="369.3" cy="201.2" r="2.7"/><circle cx="369.5" cy="334" r="2.7"/><circle cx="369.3" cy="202.3" r="2.7"/><circle cx="370.8" cy="341.1" r="2.7"/><circle cx="371.5" cy="203.3" r="2.7"/><circle cx="371.6" cy="349.1" r="2.7"/><circle cx="371.4" cy="202.3" r="2.7"/><circle cx="372.9" cy="353" r="2.7"/><circle cx="374.8" cy="231.7" r="2.7"/><circle cx="374.6" cy="373.5" r="2.7"/><circle cx="374.1" cy="224.6" r="2.7"/><circle cx="373.7" cy="367.5" r="2.7"/><circle cx="376.1" cy="257.5" r="2.7"/><circle cx="376.8" cy="388.9" r="2.7"/><circle cx="377" cy="246.6" r="2.7"/><circle cx="375.8" cy="388.1" r="2.7"/><circle cx="377.5" cy="250.5" r="2.7"/><circle cx="378.2" cy="384.5" r="2.7"/><circle cx="378.5" cy="243.4" r="2.7"/><circle cx="377.4" cy="394.5" r="2.7"/><circle cx="379.1" cy="243.9" r="2.7"/><circle cx="379.5" cy="391.6" r="2.7"/><circle cx="381" cy="242" r="2.7"/><circle cx="380.3" cy="395.8" r="2.7"/><circle cx="381" cy="238.9" r="2.7"/><circle cx="381.3" cy="400.2" r="2.7"/><circle cx="381.9" cy="243.1" r="2.7"/><circle cx="382.8" cy="395.5" r="2.7"/><circle cx="383.5" cy="238.7" r="2.7"/><circle cx="383" cy="391.7" r="2.7"/><circle cx="383.7" cy="238.2" r="2.7"/><circle cx="383.7" cy="398.4" r="2.7"/><circle cx="386.2" cy="244.5" r="2.7"/><circle cx="385.4" cy="390.3" r="2.7"/><circle cx="385.9" cy="249.8" r="2.7"/><circle cx="386.9" cy="395.7" r="2.7"/><circle cx="387.3" cy="249.7" r="2.7"/><circle cx="388.3" cy="393.5" r="2.7"/><circle cx="388.6" cy="259.4" r="2.7"/><circle cx="387.5" cy="390.5" r="2.7"/><circle cx="390.3" cy="261.2" r="2.7"/><circle cx="389.7" cy="393.7" r="2.7"/><circle cx="389.9" cy="268.2" r="2.7"/><circle cx="390.5" cy="386.7" r="2.7"/><circle cx="392.8" cy="275.7" r="2.7"/><circle cx="392.1" cy="404.7" r="2.7"/><circle cx="391.5" cy="277.5" r="2.7"/><circle cx="392.6" cy="404.7" r="2.7"/><circle cx="394.1" cy="253.7" r="2.7"/><circle cx="393.3" cy="374.1" r="2.7"/><circle cx="394.2" cy="254.8" r="2.7"/><circle cx="394.3" cy="382.1" r="2.7"/><circle cx="395.3" cy="243.3" r="2.7"/><circle cx="395.6" cy="366.7" r="2.7"/><circle cx="396.8" cy="233.3" r="2.7"/><circle cx="396.4" cy="359.3" r="2.7"/><circle cx="398.7" cy="227.7" r="2.7"/><circle cx="397.9" cy="349.6" r="2.7"/><circle cx="397.9" cy="236.4" r="2.7"/><circle cx="397.2" cy="357" r="2.7"/><circle cx="399.1" cy="223.6" r="2.7"/><circle cx="400.5" cy="345.4" r="2.7"/><circle cx="400.7" cy="230" r="2.7"/><circle cx="399.5" cy="339.7" r="2.7"/><circle cx="401.9" cy="227.6" r="2.7"/><circle cx="402" cy="338.2" r="2.7"/><circle cx="402.3" cy="223.9" r="2.7"/><circle cx="401.4" cy="334.6" r="2.7"/><circle cx="403" cy="233.6" r="2.7"/><circle cx="403.5" cy="346.2" r="2.7"/><circle cx="404.9" cy="230.9" r="2.7"/><circle cx="403.7" cy="339" r="2.7"/><circle cx="405.7" cy="235.6" r="2.7"/><circle cx="406.8" cy="348.4" r="2.7"/><circle cx="406.4" cy="230.9" r="2.7"/><circle cx="407" cy="342.5" r="2.7"/><circle cx="408.7" cy="230.4" r="2.7"/><circle cx="408.7" cy="343.9" r="2.7"/><circle cx="408.4" cy="229.9" r="2.7"/><circle cx="407.6" cy="346.1" r="2.7"/><circle cx="410.2" cy="229.9" r="2.7"/><circle cx="410.8" cy="355.8" r="2.7"/><circle cx="409.1" cy="229.3" r="2.7"/><circle cx="410.9" cy="355.7" r="2.7"/><circle cx="411.3" cy="234.2" r="2.7"/><circle cx="411.1" cy="362.5" r="2.7"/><circle cx="412.3" cy="239.5" r="2.7"/><circle cx="412.5" cy="354.7" r="2.7"/><circle cx="414.2" cy="234.6" r="2.7"/><circle cx="414.6" cy="367.5" r="2.7"/><circle cx="414.8" cy="244.6" r="2.7"/><circle cx="414.7" cy="370.1" r="2.7"/><circle cx="416.9" cy="249.1" r="2.7"/><circle cx="415.4" cy="378.9" r="2.7"/><circle cx="415.1" cy="237.4" r="2.7"/><circle cx="416.6" cy="368.6" r="2.7"/><circle cx="418.7" cy="246.2" r="2.7"/><circle cx="417.6" cy="377.8" r="2.7"/><circle cx="417.2" cy="239.8" r="2.7"/><circle cx="417.4" cy="375.6" r="2.7"/><circle cx="419.8" cy="244.2" r="2.7"/><circle cx="419.5" cy="386" r="2.7"/><circle cx="420.4" cy="243.8" r="2.7"/><circle cx="419.6" cy="383.2" r="2.7"/><circle cx="422" cy="256.4" r="2.7"/><circle cx="422.2" cy="376.5" r="2.7"/><circle cx="421.8" cy="243.3" r="2.7"/><circle cx="422.5" cy="383.6" r="2.7"/><circle cx="424.4" cy="245.8" r="2.7"/><circle cx="423.4" cy="383.1" r="2.7"/><circle cx="423.2" cy="254.2" r="2.7"/><circle cx="423.3" cy="378.1" r="2.7"/><circle cx="425.4" cy="244.5" r="2.7"/><circle cx="427" cy="382.2" r="2.7"/><circle cx="426" cy="244.5" r="2.7"/><circle cx="426.6" cy="386.8" r="2.7"/><circle cx="428" cy="247.9" r="2.7"/><circle cx="428.7" cy="393.7" r="2.7"/><circle cx="428.9" cy="248.6" r="2.7"/><circle cx="427.4" cy="394.4" r="2.7"/><circle cx="430" cy="262.6" r="2.7"/><circle cx="430.3" cy="399.1" r="2.7"/><circle cx="430.6" cy="255" r="2.7"/><circle cx="430.6" cy="391.7" r="2.7"/><circle cx="431.7" cy="274.3" r="2.7"/><circle cx="431.8" cy="397.8" r="2.7"/><circle cx="431.2" cy="279.3" r="2.7"/><circle cx="431.1" cy="389.5" r="2.7"/><circle cx="433.5" cy="279.1" r="2.7"/><circle cx="434" cy="387.9" r="2.7"/><circle cx="434.8" cy="280.9" r="2.7"/><circle cx="433.9" cy="398.4" r="2.7"/><circle cx="436.5" cy="290.5" r="2.7"/><circle cx="436.3" cy="386.9" r="2.7"/><circle cx="435.7" cy="288" r="2.7"/><circle cx="436.7" cy="395.1" r="2.7"/><circle cx="438.5" cy="298.9" r="2.7"/><circle cx="437.9" cy="395.7" r="2.7"/><circle cx="438.2" cy="301" r="2.7"/><circle cx="437.9" cy="396" r="2.7"/><circle cx="439.5" cy="308.2" r="2.7"/><circle cx="439.6" cy="401.1" r="2.7"/><circle cx="440.7" cy="304.7" r="2.7"/><circle cx="439.3" cy="401.3" r="2.7"/><circle cx="441.7" cy="294.4" r="2.7"/><circle cx="441.3" cy="401.1" r="2.7"/><circle cx="441.4" cy="295.3" r="2.7"/><circle cx="442.5" cy="392.6" r="2.7"/><circle cx="444.9" cy="280.8" r="2.7"/><circle cx="443.8" cy="408.2" r="2.7"/><circle cx="444.6" cy="294.1" r="2.7"/><circle cx="443.9" cy="400" r="2.7"/><circle cx="446.3" cy="267" r="2.7"/><circle cx="445.4" cy="399.2" r="2.7"/><circle cx="445.1" cy="269.1" r="2.7"/><circle cx="446.6" cy="396.4" r="2.7"/><circle cx="448" cy="257.4" r="2.7"/><circle cx="447.9" cy="372.5" r="2.7"/><circle cx="448.2" cy="250.2" r="2.7"/><circle cx="448.5" cy="375.9" r="2.7"/><circle cx="449.9" cy="245.2" r="2.7"/><circle cx="450.5" cy="353" r="2.7"/><circle cx="449.5" cy="236.7" r="2.7"/><circle cx="450.8" cy="350.5" r="2.7"/><circle cx="452.4" cy="234.5" r="2.7"/><circle cx="452.4" cy="319.5" r="2.7"/><circle cx="451.9" cy="232.1" r="2.7"/><circle cx="452.3" cy="328.1" r="2.7"/><circle cx="453.8" cy="217.5" r="2.7"/><circle cx="454.4" cy="292.3" r="2.7"/><circle cx="453.5" cy="223.9" r="2.7"/><circle cx="453.9" cy="298.3" r="2.7"/><circle cx="455.8" cy="218.7" r="2.7"/><circle cx="456.9" cy="291.8" r="2.7"/><circle cx="456.3" cy="213.1" r="2.7"/><circle cx="455.8" cy="289.9" r="2.7"/><circle cx="458.9" cy="211.7" r="2.7"/><circle cx="458.1" cy="296.7" r="2.7"/><circle cx="458.6" cy="208" r="2.7"/><circle cx="458" cy="284.1" r="2.7"/><circle cx="460.1" cy="205.1" r="2.7"/><circle cx="460.4" cy="294.1" r="2.7"/><circle cx="460.3" cy="209.5" r="2.7"/><circle cx="460" cy="288.9" r="2.7"/><circle cx="462.9" cy="205.6" r="2.7"/><circle cx="462.4" cy="300.6" r="2.7"/><circle cx="462.5" cy="205.3" r="2.7"/><circle cx="463" cy="301.3" r="2.7"/><circle cx="463.1" cy="205.9" r="2.7"/><circle cx="463.8" cy="302.5" r="2.7"/><circle cx="463.8" cy="203.2" r="2.7"/><circle cx="464.4" cy="300.8" r="2.7"/><circle cx="465.5" cy="206.8" r="2.7"/><circle cx="466.5" cy="305.5" r="2.7"/><circle cx="466.1" cy="216.9" r="2.7"/><circle cx="466.6" cy="305.6" r="2.7"/><circle cx="467.4" cy="216.3" r="2.7"/><circle cx="468.6" cy="311.8" r="2.7"/><circle cx="468.3" cy="223.2" r="2.7"/><circle cx="468.1" cy="308.1" r="2.7"/><circle cx="470.9" cy="223.5" r="2.7"/><circle cx="470.3" cy="315.2" r="2.7"/><circle cx="470.6" cy="232.4" r="2.7"/><circle cx="469.6" cy="313.6" r="2.7"/><circle cx="471.3" cy="240.6" r="2.7"/><circle cx="471.7" cy="322.3" r="2.7"/><circle cx="471.5" cy="246" r="2.7"/><circle cx="471.5" cy="329.9" r="2.7"/><circle cx="473.4" cy="251.8" r="2.7"/><circle cx="474.4" cy="347.8" r="2.7"/><circle cx="473.5" cy="250" r="2.7"/><circle cx="474" cy="345.7" r="2.7"/><circle cx="476.3" cy="264.8" r="2.7"/><circle cx="475.7" cy="358.6" r="2.7"/><circle cx="476.7" cy="273.6" r="2.7"/><circle cx="476.7" cy="365.7" r="2.7"/><circle cx="478.6" cy="286.2" r="2.7"/><circle cx="478.7" cy="383.2" r="2.7"/><circle cx="477" cy="280.9" r="2.7"/><circle cx="478.9" cy="383.8" r="2.7"/><circle cx="479.5" cy="309.3" r="2.7"/><circle cx="479.3" cy="401.4" r="2.7"/><circle cx="480.6" cy="303.6" r="2.7"/><circle cx="479.3" cy="399.2" r="2.7"/><circle cx="482.6" cy="342.1" r="2.7"/><circle cx="482.8" cy="419" r="2.7"/><circle cx="482.6" cy="336.5" r="2.7"/><circle cx="482.8" cy="412.5" r="2.7"/><circle cx="484.7" cy="339.8" r="2.7"/><circle cx="484.4" cy="416.3" r="2.7"/><circle cx="484.5" cy="335.3" r="2.7"/><circle cx="484.8" cy="413.6" r="2.7"/><circle cx="485.5" cy="335.7" r="2.7"/><circle cx="485.3" cy="413.4" r="2.7"/><circle cx="485.1" cy="334.7" r="2.7"/><circle cx="485.3" cy="410.7" r="2.7"/><circle cx="488" cy="326.7" r="2.7"/><circle cx="488.7" cy="396.6" r="2.7"/><circle cx="488.7" cy="322.2" r="2.7"/><circle cx="488.1" cy="397.6" r="2.7"/><circle cx="490.7" cy="321.4" r="2.7"/><circle cx="489.8" cy="385.9" r="2.7"/><circle cx="489.2" cy="327.2" r="2.7"/><circle cx="490.3" cy="382.1" r="2.7"/><circle cx="492.2" cy="301" r="2.7"/><circle cx="492.9" cy="383.2" r="2.7"/><circle cx="493" cy="303.4" r="2.7"/><circle cx="492" cy="386" r="2.7"/><circle cx="493.1" cy="299.6" r="2.7"/><circle cx="494.3" cy="384.6" r="2.7"/><circle cx="494.7" cy="290.3" r="2.7"/><circle cx="493.9" cy="390" r="2.7"/><circle cx="496.5" cy="280.5" r="2.7"/><circle cx="495.9" cy="391.4" r="2.7"/><circle cx="496.1" cy="279" r="2.7"/><circle cx="495.6" cy="382.2" r="2.7"/><circle cx="497.8" cy="274.3" r="2.7"/><circle cx="497.5" cy="385.4" r="2.7"/><circle cx="498.9" cy="268.7" r="2.7"/><circle cx="498.6" cy="382.9" r="2.7"/><circle cx="499.6" cy="256.8" r="2.7"/><circle cx="500.2" cy="383" r="2.7"/><circle cx="500.6" cy="261.2" r="2.7"/><circle cx="500.4" cy="385" r="2.7"/><circle cx="502.1" cy="258.5" r="2.7"/><circle cx="501.6" cy="377.4" r="2.7"/><circle cx="501.4" cy="247" r="2.7"/><circle cx="502.2" cy="365.3" r="2.7"/><circle cx="504.6" cy="252.1" r="2.7"/><circle cx="504.2" cy="368" r="2.7"/><circle cx="504.3" cy="251.4" r="2.7"/><circle cx="504.2" cy="372.2" r="2.7"/><circle cx="505.4" cy="256" r="2.7"/><circle cx="505.9" cy="385.2" r="2.7"/><circle cx="505.2" cy="257.5" r="2.7"/><circle cx="505.1" cy="391.6" r="2.7"/><circle cx="508.8" cy="268" r="2.7"/><circle cx="507.7" cy="393.2" r="2.7"/><circle cx="508.6" cy="268.9" r="2.7"/><circle cx="507.5" cy="394.7" r="2.7"/><circle cx="509.8" cy="277.8" r="2.7"/><circle cx="509.9" cy="401.1" r="2.7"/><circle cx="510.9" cy="282.6" r="2.7"/><circle cx="510.1" cy="403.2" r="2.7"/><circle cx="511.2" cy="286.8" r="2.7"/><circle cx="512.2" cy="396.1" r="2.7"/><circle cx="511.9" cy="298.9" r="2.7"/><circle cx="511.8" cy="406" r="2.7"/><circle cx="514.9" cy="297.8" r="2.7"/><circle cx="514" cy="395" r="2.7"/><circle cx="513.2" cy="295.1" r="2.7"/><circle cx="513.4" cy="401.6" r="2.7"/><circle cx="515" cy="290.6" r="2.7"/><circle cx="516.4" cy="408.1" r="2.7"/><circle cx="516.9" cy="290.3" r="2.7"/><circle cx="516.7" cy="407.8" r="2.7"/><circle cx="517" cy="281.7" r="2.7"/><circle cx="517.5" cy="396.5" r="2.7"/><circle cx="517.4" cy="289.7" r="2.7"/><circle cx="518.5" cy="404.7" r="2.7"/><circle cx="520.7" cy="282.9" r="2.7"/><circle cx="519.2" cy="385.8" r="2.7"/><circle cx="520.4" cy="281.4" r="2.7"/><circle cx="520.9" cy="390.3" r="2.7"/><circle cx="522.9" cy="269.8" r="2.7"/><circle cx="521" cy="375.6" r="2.7"/><circle cx="522.3" cy="268.2" r="2.7"/><circle cx="521.2" cy="373.7" r="2.7"/><circle cx="524.5" cy="269.4" r="2.7"/><circle cx="524.7" cy="350" r="2.7"/><circle cx="523.1" cy="271.6" r="2.7"/><circle cx="524.1" cy="348" r="2.7"/><circle cx="526.4" cy="268.8" r="2.7"/><circle cx="526.6" cy="317.4" r="2.7"/><circle cx="526.3" cy="268.1" r="2.7"/><circle cx="525.8" cy="313.2" r="2.7"/><circle cx="528.6" cy="269.4" r="2.7"/><circle cx="528.6" cy="311.2" r="2.7"/><circle cx="527.6" cy="271.2" r="2.7"/><circle cx="528.9" cy="320.2" r="2.7"/><circle cx="530.7" cy="274" r="2.7"/><circle cx="530.2" cy="321" r="2.7"/><circle cx="530.7" cy="278.1" r="2.7"/><circle cx="529.6" cy="318.3" r="2.7"/><circle cx="532.8" cy="271" r="2.7"/><circle cx="532.4" cy="323.1" r="2.7"/><circle cx="532.8" cy="273" r="2.7"/><circle cx="531.6" cy="317.7" r="2.7"/><circle cx="533.5" cy="268.2" r="2.7"/><circle cx="534.2" cy="325" r="2.7"/><circle cx="534.8" cy="276.3" r="2.7"/><circle cx="534.7" cy="327.7" r="2.7"/><circle cx="536.7" cy="261.5" r="2.7"/><circle cx="535.5" cy="310.1" r="2.7"/><circle cx="536.6" cy="262.1" r="2.7"/><circle cx="536.8" cy="308.5" r="2.7"/><circle cx="537.2" cy="240.4" r="2.7"/><circle cx="538.6" cy="297.2" r="2.7"/><circle cx="538.5" cy="239.1" r="2.7"/><circle cx="537.5" cy="291.2" r="2.7"/><circle cx="540.4" cy="239.2" r="2.7"/><circle cx="539.4" cy="290.5" r="2.7"/><circle cx="540.5" cy="235.5" r="2.7"/><circle cx="539.9" cy="286.1" r="2.7"/><circle cx="542.6" cy="230.4" r="2.7"/><circle cx="541.5" cy="278.9" r="2.7"/><circle cx="542.8" cy="234.6" r="2.7"/><circle cx="542" cy="277.2" r="2.7"/><circle cx="544.2" cy="226.1" r="2.7"/><circle cx="543.4" cy="277.1" r="2.7"/><circle cx="544.4" cy="223.6" r="2.7"/><circle cx="544.1" cy="275.8" r="2.7"/><circle cx="546" cy="215" r="2.7"/><circle cx="545.1" cy="269.3" r="2.7"/><circle cx="545.7" cy="223.2" r="2.7"/><circle cx="546.3" cy="269.5" r="2.7"/><circle cx="547.3" cy="214.4" r="2.7"/><circle cx="547.7" cy="258.7" r="2.7"/><circle cx="547" cy="210.9" r="2.7"/><circle cx="549" cy="263.3" r="2.7"/><circle cx="550" cy="216.9" r="2.7"/><circle cx="549.5" cy="260.5" r="2.7"/><circle cx="549.9" cy="215.5" r="2.7"/><circle cx="550.5" cy="255.1" r="2.7"/><circle cx="552.9" cy="219.3" r="2.7"/><circle cx="551.1" cy="271.5" r="2.7"/><circle cx="551.4" cy="211.8" r="2.7"/><circle cx="551.1" cy="272.6" r="2.7"/><circle cx="554.7" cy="214.2" r="2.7"/><circle cx="554.9" cy="268.2" r="2.7"/><circle cx="553.1" cy="219.6" r="2.7"/><circle cx="553.8" cy="266.5" r="2.7"/><circle cx="556.9" cy="205.1" r="2.7"/><circle cx="556.1" cy="259.8" r="2.7"/><circle cx="556.9" cy="209.9" r="2.7"/><circle cx="555.8" cy="255.5" r="2.7"/><circle cx="557.3" cy="201.7" r="2.7"/><circle cx="559" cy="243" r="2.7"/><circle cx="557.1" cy="199.9" r="2.7"/><circle cx="557.7" cy="251.4" r="2.7"/><circle cx="560.8" cy="201" r="2.7"/><circle cx="559.1" cy="238.5" r="2.7"/><circle cx="560.4" cy="199.3" r="2.7"/><circle cx="561" cy="241" r="2.7"/><circle cx="561.3" cy="193.8" r="2.7"/><circle cx="562.9" cy="242" r="2.7"/><circle cx="561.6" cy="199.2" r="2.7"/><circle cx="562.5" cy="244.1" r="2.7"/><circle cx="563.6" cy="203" r="2.7"/><circle cx="563.2" cy="258.8" r="2.7"/><circle cx="563.3" cy="206" r="2.7"/><circle cx="563.3" cy="259" r="2.7"/><circle cx="565" cy="214.4" r="2.7"/><circle cx="565.4" cy="260.8" r="2.7"/><circle cx="566.9" cy="208.5" r="2.7"/><circle cx="566.9" cy="266.3" r="2.7"/><circle cx="568.8" cy="219.8" r="2.7"/><circle cx="567.9" cy="269.8" r="2.7"/><circle cx="568.9" cy="211.2" r="2.7"/><circle cx="568.3" cy="261.9" r="2.7"/><circle cx="569.7" cy="214.1" r="2.7"/><circle cx="570" cy="262.2" r="2.7"/><circle cx="569.3" cy="216.2" r="2.7"/><circle cx="569.1" cy="269.3" r="2.7"/><circle cx="572.1" cy="214.9" r="2.7"/><circle cx="572.7" cy="266.8" r="2.7"/><circle cx="571.8" cy="209.8" r="2.7"/><circle cx="571.5" cy="266.7" r="2.7"/><circle cx="573.7" cy="218.3" r="2.7"/><circle cx="574" cy="269.6" r="2.7"/><circle cx="574.8" cy="211.5" r="2.7"/><circle cx="575" cy="269.9" r="2.7"/><circle cx="576.8" cy="214.8" r="2.7"/><circle cx="575.4" cy="273" r="2.7"/><circle cx="575.6" cy="218.4" r="2.7"/><circle cx="575.4" cy="277.9" r="2.7"/><circle cx="579" cy="222.4" r="2.7"/><circle cx="578.9" cy="273.6" r="2.7"/><circle cx="577.6" cy="220.2" r="2.7"/><circle cx="577.1" cy="275.5" r="2.7"/><circle cx="579.6" cy="232.7" r="2.7"/><circle cx="579" cy="278.2" r="2.7"/><circle cx="579.7" cy="234" r="2.7"/><circle cx="579" cy="289.3" r="2.7"/><circle cx="582.1" cy="235.9" r="2.7"/><circle cx="581.9" cy="293" r="2.7"/><circle cx="581.4" cy="237.4" r="2.7"/><circle cx="581.3" cy="288.7" r="2.7"/><circle cx="584.5" cy="224.3" r="2.7"/><circle cx="583.4" cy="289.8" r="2.7"/><circle cx="583.2" cy="223.6" r="2.7"/><circle cx="584" cy="291.6" r="2.7"/><circle cx="585.4" cy="222" r="2.7"/><circle cx="586.4" cy="295.4" r="2.7"/><circle cx="586.2" cy="230.2" r="2.7"/><circle cx="585.1" cy="300.7" r="2.7"/><circle cx="587.8" cy="232.7" r="2.7"/><circle cx="587.1" cy="299" r="2.7"/><circle cx="587.7" cy="234.2" r="2.7"/><circle cx="588.7" cy="296.7" r="2.7"/><circle cx="589" cy="232.7" r="2.7"/><circle cx="590" cy="300.8" r="2.7"/><circle cx="589.5" cy="239.4" r="2.7"/><circle cx="590.7" cy="311.9" r="2.7"/><circle cx="591.3" cy="223" r="2.7"/><circle cx="592.2" cy="304.4" r="2.7"/><circle cx="592" cy="220.2" r="2.7"/><circle cx="592" cy="303.5" r="2.7"/><circle cx="594.4" cy="212.7" r="2.7"/><circle cx="594.7" cy="291.7" r="2.7"/><circle cx="594.4" cy="214.5" r="2.7"/><circle cx="594.5" cy="298.8" r="2.7"/><circle cx="596.7" cy="214.9" r="2.7"/><circle cx="596" cy="286.3" r="2.7"/><circle cx="596.1" cy="219.5" r="2.7"/><circle cx="595" cy="294.1" r="2.7"/><circle cx="597.4" cy="230.5" r="2.7"/><circle cx="597.2" cy="295.9" r="2.7"/><circle cx="598.6" cy="218.7" r="2.7"/><circle cx="597.2" cy="296.7" r="2.7"/><circle cx="599.4" cy="226.6" r="2.7"/><circle cx="600.2" cy="294.3" r="2.7"/><circle cx="600" cy="224.5" r="2.7"/><circle cx="599.2" cy="286.3" r="2.7"/><circle cx="602.4" cy="230.9" r="2.7"/><circle cx="601.2" cy="291.7" r="2.7"/><circle cx="602" cy="224.5" r="2.7"/><circle cx="601.2" cy="290.1" r="2.7"/><circle cx="603.3" cy="227.2" r="2.7"/><circle cx="604.7" cy="286.4" r="2.7"/><circle cx="604.1" cy="224.8" r="2.7"/><circle cx="603.3" cy="283.9" r="2.7"/><circle cx="606.9" cy="236.9" r="2.7"/><circle cx="605.8" cy="289.2" r="2.7"/><circle cx="606.1" cy="237.2" r="2.7"/><circle cx="606.9" cy="289.1" r="2.7"/><circle cx="607.7" cy="238" r="2.7"/><circle cx="607.7" cy="288.2" r="2.7"/><circle cx="609" cy="233.6" r="2.7"/><circle cx="608.8" cy="281.5" r="2.7"/><circle cx="610.7" cy="240.5" r="2.7"/><circle cx="610" cy="286.7" r="2.7"/><circle cx="610.9" cy="242.6" r="2.7"/><circle cx="609.8" cy="285.7" r="2.7"/><circle cx="611.7" cy="241.7" r="2.7"/><circle cx="611.1" cy="288" r="2.7"/><circle cx="612" cy="239.4" r="2.7"/><circle cx="611.3" cy="291.8" r="2.7"/><circle cx="614.6" cy="250.3" r="2.7"/><circle cx="614.3" cy="287.2" r="2.7"/><circle cx="614.8" cy="247.8" r="2.7"/><circle cx="613.1" cy="288.1" r="2.7"/><circle cx="615.5" cy="248.4" r="2.7"/><circle cx="615.5" cy="298.6" r="2.7"/><circle cx="616.8" cy="247.1" r="2.7"/><circle cx="615.5" cy="299.4" r="2.7"/><circle cx="617.9" cy="249.6" r="2.7"/><circle cx="617.6" cy="301.2" r="2.7"/><circle cx="618.3" cy="247.1" r="2.7"/><circle cx="618.2" cy="312.4" r="2.7"/><circle cx="620" cy="266.5" r="2.7"/><circle cx="619.9" cy="323.7" r="2.7"/><circle cx="619.3" cy="259" r="2.7"/><circle cx="619.3" cy="324.8" r="2.7"/><circle cx="621.8" cy="265.2" r="2.7"/><circle cx="621.5" cy="335.9" r="2.7"/><circle cx="622.1" cy="263.5" r="2.7"/><circle cx="622.2" cy="327.3" r="2.7"/><circle cx="624.3" cy="275.3" r="2.7"/><circle cx="624.4" cy="355.1" r="2.7"/><circle cx="624.1" cy="273.7" r="2.7"/><circle cx="623.9" cy="349.8" r="2.7"/><circle cx="625.5" cy="278.2" r="2.7"/><circle cx="626" cy="373.3" r="2.7"/><circle cx="626.2" cy="279" r="2.7"/><circle cx="625.7" cy="374.6" r="2.7"/><circle cx="627.5" cy="297.7" r="2.7"/><circle cx="628" cy="383.3" r="2.7"/><circle cx="629" cy="288.6" r="2.7"/><circle cx="628.5" cy="386.8" r="2.7"/><circle cx="629.1" cy="292.4" r="2.7"/><circle cx="629.9" cy="378.8" r="2.7"/><circle cx="629.8" cy="291.9" r="2.7"/><circle cx="630.5" cy="386.3" r="2.7"/><circle cx="631.5" cy="287.1" r="2.7"/><circle cx="632.5" cy="369.5" r="2.7"/><circle cx="631.7" cy="287.4" r="2.7"/><circle cx="632.4" cy="379.9" r="2.7"/><circle cx="634.7" cy="288.2" r="2.7"/><circle cx="634" cy="360.8" r="2.7"/><circle cx="634.5" cy="290.3" r="2.7"/><circle cx="634" cy="362" r="2.7"/><circle cx="636.4" cy="286.2" r="2.7"/><circle cx="635.3" cy="343.4" r="2.7"/><circle cx="635" cy="287.9" r="2.7"/><circle cx="636.2" cy="346.4" r="2.7"/><circle cx="638.9" cy="277.1" r="2.7"/><circle cx="637.8" cy="339.8" r="2.7"/><circle cx="638.7" cy="281.8" r="2.7"/><circle cx="637.8" cy="339.2" r="2.7"/><circle cx="639.9" cy="273.4" r="2.7"/><circle cx="639.6" cy="332.5" r="2.7"/><circle cx="640.1" cy="272.6" r="2.7"/><circle cx="639.6" cy="337.5" r="2.7"/><circle cx="642.7" cy="270.2" r="2.7"/><circle cx="641.9" cy="334.4" r="2.7"/><circle cx="641.6" cy="261.6" r="2.7"/><circle cx="642.2" cy="338.4" r="2.7"/><circle cx="643.2" cy="251.6" r="2.7"/><circle cx="643.6" cy="329.3" r="2.7"/><circle cx="644.7" cy="256.4" r="2.7"/><circle cx="643.4" cy="328.5" r="2.7"/><circle cx="646.8" cy="235.3" r="2.7"/><circle cx="645.1" cy="341.5" r="2.7"/><circle cx="646" cy="237.3" r="2.7"/><circle cx="646.5" cy="329.3" r="2.7"/><circle cx="649" cy="223.9" r="2.7"/><circle cx="648" cy="334.2" r="2.7"/><circle cx="647.8" cy="226.3" r="2.7"/><circle cx="648.2" cy="336.3" r="2.7"/><circle cx="650.9" cy="205.8" r="2.7"/><circle cx="650.1" cy="328.1" r="2.7"/><circle cx="649.7" cy="203.5" r="2.7"/><circle cx="650.1" cy="332.3" r="2.7"/><circle cx="652.8" cy="191" r="2.7"/><circle cx="652" cy="317.8" r="2.7"/><circle cx="652.2" cy="189" r="2.7"/><circle cx="651.7" cy="317.1" r="2.7"/><circle cx="654.6" cy="185.6" r="2.7"/><circle cx="653.6" cy="311.3" r="2.7"/><circle cx="654.7" cy="194.1" r="2.7"/><circle cx="653.2" cy="307.3" r="2.7"/><circle cx="656.4" cy="200.9" r="2.7"/><circle cx="657" cy="268.6" r="2.7"/><circle cx="655.8" cy="200.8" r="2.7"/><circle cx="655.6" cy="278.1" r="2.7"/><circle cx="658" cy="180" r="2.7"/><circle cx="657.4" cy="277.8" r="2.7"/><circle cx="658.2" cy="181.9" r="2.7"/><circle cx="659" cy="276.2" r="2.7"/><circle cx="659.1" cy="168" r="2.7"/><circle cx="660.6" cy="275.4" r="2.7"/><circle cx="660.4" cy="163.3" r="2.7"/><circle cx="659.6" cy="278.8" r="2.7"/><circle cx="662.2" cy="169.3" r="2.7"/><circle cx="661.4" cy="264" r="2.7"/><circle cx="662.1" cy="163.3" r="2.7"/><circle cx="662.3" cy="269.6" r="2.7"/><circle cx="665" cy="161.3" r="2.7"/><circle cx="663.8" cy="258" r="2.7"/><circle cx="663.3" cy="156.7" r="2.7"/><circle cx="663.2" cy="254.8" r="2.7"/><circle cx="665.3" cy="148.6" r="2.7"/><circle cx="666.6" cy="258.8" r="2.7"/><circle cx="666.6" cy="154.6" r="2.7"/><circle cx="665" cy="263.6" r="2.7"/><circle cx="667.6" cy="149.4" r="2.7"/><circle cx="667.7" cy="255.6" r="2.7"/><circle cx="667.5" cy="141" r="2.7"/><circle cx="668.8" cy="263.5" r="2.7"/><circle cx="669.7" cy="151.6" r="2.7"/><circle cx="669.8" cy="252.4" r="2.7"/><circle cx="670.8" cy="145.8" r="2.7"/><circle cx="670.9" cy="250.4" r="2.7"/><circle cx="672.2" cy="155" r="2.7"/><circle cx="671.1" cy="247.3" r="2.7"/><circle cx="672.7" cy="163.7" r="2.7"/><circle cx="672.8" cy="246.6" r="2.7"/><circle cx="673.6" cy="159.3" r="2.7"/><circle cx="674.9" cy="236.2" r="2.7"/><circle cx="674.9" cy="153.8" r="2.7"/><circle cx="673.8" cy="240.9" r="2.7"/><circle cx="675.4" cy="155.4" r="2.7"/><circle cx="676.8" cy="233.9" r="2.7"/><circle cx="676.6" cy="151.6" r="2.7"/><circle cx="675.3" cy="234.5" r="2.7"/><circle cx="677.4" cy="147.4" r="2.7"/><circle cx="677.6" cy="215.7" r="2.7"/><circle cx="677.2" cy="150.3" r="2.7"/><circle cx="677.8" cy="223.9" r="2.7"/><circle cx="679.1" cy="145" r="2.7"/><circle cx="680.7" cy="221.1" r="2.7"/><circle cx="679.5" cy="144.3" r="2.7"/><circle cx="679.6" cy="220.6" r="2.7"/><circle cx="681.1" cy="141.1" r="2.7"/><circle cx="681.7" cy="208" r="2.7"/><circle cx="682.4" cy="140.4" r="2.7"/><circle cx="681.5" cy="215" r="2.7"/><circle cx="683.3" cy="148.7" r="2.7"/><circle cx="684.7" cy="206.7" r="2.7"/><circle cx="683.3" cy="148.1" r="2.7"/><circle cx="684.4" cy="207.8" r="2.7"/><circle cx="686.9" cy="137.3" r="2.7"/><circle cx="686.9" cy="205.7" r="2.7"/><circle cx="685.5" cy="139" r="2.7"/><circle cx="685.3" cy="203" r="2.7"/><circle cx="687.5" cy="135" r="2.7"/><circle cx="688.2" cy="193" r="2.7"/><circle cx="687.5" cy="129.8" r="2.7"/><circle cx="687.4" cy="198.5" r="2.7"/><circle cx="689.2" cy="128.7" r="2.7"/><circle cx="690.1" cy="197.7" r="2.7"/><circle cx="690.5" cy="119.2" r="2.7"/><circle cx="690.3" cy="199.5" r="2.7"/><circle cx="691.6" cy="111.6" r="2.7"/><circle cx="691.2" cy="196.9" r="2.7"/><circle cx="692.7" cy="106.8" r="2.7"/><circle cx="692.3" cy="197.8" r="2.7"/><circle cx="694.1" cy="98.6" r="2.7"/><circle cx="694" cy="197.3" r="2.7"/><circle cx="693.1" cy="100.2" r="2.7"/><circle cx="693.5" cy="197.9" r="2.7"/><circle cx="696.4" cy="94.7" r="2.7"/><circle cx="695.8" cy="200.7" r="2.7"/><circle cx="696.5" cy="106.2" r="2.7"/><circle cx="696.7" cy="191.1" r="2.7"/><circle cx="697.6" cy="93.2" r="2.7"/><circle cx="698.4" cy="205" r="2.7"/><circle cx="697.7" cy="100" r="2.7"/><circle cx="698.3" cy="201.7" r="2.7"/><circle cx="699.5" cy="101.6" r="2.7"/><circle cx="699.7" cy="196.8" r="2.7"/><circle cx="699.4" cy="100.4" r="2.7"/><circle cx="700.8" cy="207.1" r="2.7"/><circle cx="702.4" cy="107.2" r="2.7"/><circle cx="701.1" cy="210" r="2.7"/><circle cx="701.4" cy="99.5" r="2.7"/><circle cx="701.8" cy="208" r="2.7"/><circle cx="703.6" cy="107.8" r="2.7"/><circle cx="703.4" cy="205.7" r="2.7"/><circle cx="704.1" cy="118.3" r="2.7"/><circle cx="703.5" cy="204.3" r="2.7"/><circle cx="706.4" cy="119.9" r="2.7"/><circle cx="705" cy="212.5" r="2.7"/><circle cx="706.6" cy="126.7" r="2.7"/><circle cx="705.1" cy="213.2" r="2.7"/><circle cx="708.2" cy="135.1" r="2.7"/><circle cx="707.5" cy="217.4" r="2.7"/><circle cx="708.6" cy="124.6" r="2.7"/><circle cx="708.8" cy="216.4" r="2.7"/><circle cx="709.2" cy="139.5" r="2.7"/><circle cx="709.8" cy="213" r="2.7"/><circle cx="710.7" cy="139.5" r="2.7"/><circle cx="709.2" cy="219" r="2.7"/><circle cx="711.8" cy="148.5" r="2.7"/><circle cx="712.4" cy="212.3" r="2.7"/><circle cx="712.7" cy="144.3" r="2.7"/><circle cx="711.9" cy="218.1" r="2.7"/><circle cx="714.4" cy="142.3" r="2.7"/><circle cx="714" cy="224.8" r="2.7"/><circle cx="713.3" cy="154.6" r="2.7"/><circle cx="713.1" cy="219.3" r="2.7"/><circle cx="716.6" cy="158.2" r="2.7"/><circle cx="716.1" cy="230" r="2.7"/><circle cx="716.3" cy="163.5" r="2.7"/><circle cx="715.5" cy="226.3" r="2.7"/><circle cx="717.7" cy="158.4" r="2.7"/><circle cx="717.4" cy="231.4" r="2.7"/><circle cx="717.3" cy="160.4" r="2.7"/><circle cx="718.3" cy="226.8" r="2.7"/><circle cx="719.5" cy="147.1" r="2.7"/><circle cx="719.9" cy="233" r="2.7"/><circle cx="719.7" cy="158.3" r="2.7"/><circle cx="720.8" cy="235.8" r="2.7"/><circle cx="722.1" cy="133.8" r="2.7"/><circle cx="722.6" cy="238.4" r="2.7"/><circle cx="722.5" cy="138.6" r="2.7"/><circle cx="722.3" cy="240" r="2.7"/><circle cx="723.9" cy="134.4" r="2.7"/><circle cx="724.7" cy="226.7" r="2.7"/><circle cx="723.6" cy="128.6" r="2.7"/><circle cx="723.4" cy="233.1" r="2.7"/><circle cx="725.6" cy="123.4" r="2.7"/><circle cx="726.4" cy="229.8" r="2.7"/><circle cx="725.2" cy="127.1" r="2.7"/><circle cx="725.9" cy="228.5" r="2.7"/><circle cx="727.3" cy="128.5" r="2.7"/><circle cx="727" cy="232.6" r="2.7"/><circle cx="728.5" cy="139.5" r="2.7"/><circle cx="728.4" cy="232.5" r="2.7"/><circle cx="730.1" cy="141.8" r="2.7"/><circle cx="730" cy="234.4" r="2.7"/><circle cx="729.4" cy="131.9" r="2.7"/><circle cx="729" cy="229.5" r="2.7"/><circle cx="732.3" cy="146.4" r="2.7"/><circle cx="732.9" cy="230.2" r="2.7"/><circle cx="731.5" cy="141.3" r="2.7"/><circle cx="731.3" cy="235.3" r="2.7"/><circle cx="734.5" cy="140.2" r="2.7"/><circle cx="733.6" cy="228.2" r="2.7"/><circle cx="734.3" cy="141.1" r="2.7"/><circle cx="734.9" cy="228.1" r="2.7"/><circle cx="736.6" cy="146.5" r="2.7"/><circle cx="736.5" cy="232.4" r="2.7"/><circle cx="735.4" cy="148" r="2.7"/><circle cx="735.6" cy="232.5" r="2.7"/><circle cx="738.1" cy="154" r="2.7"/><circle cx="738.7" cy="244" r="2.7"/><circle cx="737.1" cy="152.6" r="2.7"/><circle cx="738.3" cy="241.2" r="2.7"/><circle cx="740.4" cy="161.4" r="2.7"/><circle cx="740.9" cy="233.9" r="2.7"/><circle cx="740" cy="155.7" r="2.7"/><circle cx="739.6" cy="245.1" r="2.7"/><circle cx="741.2" cy="157.1" r="2.7"/><circle cx="741.3" cy="237.1" r="2.7"/><circle cx="742.9" cy="155" r="2.7"/><circle cx="741.1" cy="244.5" r="2.7"/><circle cx="743.4" cy="153.5" r="2.7"/><circle cx="743" cy="237.5" r="2.7"/><circle cx="744.7" cy="160.3" r="2.7"/><circle cx="743.9" cy="236.3" r="2.7"/><circle cx="746.3" cy="150.1" r="2.7"/><circle cx="745.8" cy="242" r="2.7"/><circle cx="745.9" cy="150.7" r="2.7"/><circle cx="746.7" cy="239.5" r="2.7"/><circle cx="747.3" cy="161.6" r="2.7"/><circle cx="747.9" cy="245.8" r="2.7"/><circle cx="747.7" cy="155.3" r="2.7"/><circle cx="747.2" cy="246.8" r="2.7"/><circle cx="749.9" cy="153.5" r="2.7"/><circle cx="750.8" cy="235.4" r="2.7"/><circle cx="750.9" cy="162.3" r="2.7"/><circle cx="750.2" cy="235.6" r="2.7"/><circle cx="751.1" cy="157.2" r="2.7"/><circle cx="752.2" cy="242.3" r="2.7"/><circle cx="752.1" cy="149.2" r="2.7"/><circle cx="752" cy="236.8" r="2.7"/><circle cx="753.6" cy="150.2" r="2.7"/><circle cx="754.8" cy="248.3" r="2.7"/><circle cx="753.4" cy="143.2" r="2.7"/><circle cx="753.9" cy="243.3" r="2.7"/><circle cx="756.3" cy="146" r="2.7"/><circle cx="756.2" cy="249.9" r="2.7"/><circle cx="756.1" cy="149.1" r="2.7"/><circle cx="755.8" cy="247.2" r="2.7"/><circle cx="757.4" cy="148.6" r="2.7"/><circle cx="758.1" cy="243.2" r="2.7"/><circle cx="758.7" cy="148.6" r="2.7"/><circle cx="757.2" cy="253.2" r="2.7"/><circle cx="759.5" cy="157.3" r="2.7"/><circle cx="760.1" cy="251.1" r="2.7"/><circle cx="760.1" cy="153.5" r="2.7"/><circle cx="760" cy="255.2" r="2.7"/><circle cx="761.2" cy="162.2" r="2.7"/><circle cx="761.1" cy="253.1" r="2.7"/><circle cx="762.7" cy="160" r="2.7"/><circle cx="762.4" cy="251" r="2.7"/><circle cx="763.2" cy="169.9" r="2.7"/><circle cx="764.4" cy="242.3" r="2.7"/><circle cx="764.7" cy="161.3" r="2.7"/><circle cx="763.3" cy="252.9" r="2.7"/><circle cx="766.1" cy="179.6" r="2.7"/><circle cx="765.3" cy="245.2" r="2.7"/><circle cx="765.1" cy="175.8" r="2.7"/><circle cx="765.7" cy="253.2" r="2.7"/><circle cx="768.2" cy="170.5" r="2.7"/><circle cx="767.6" cy="253.9" r="2.7"/><circle cx="767.9" cy="178.5" r="2.7"/><circle cx="768.2" cy="243.5" r="2.7"/><circle cx="770.1" cy="184.2" r="2.7"/><circle cx="770.7" cy="245.4" r="2.7"/><circle cx="770.5" cy="173.8" r="2.7"/><circle cx="770.5" cy="255" r="2.7"/><circle cx="772.7" cy="180.5" r="2.7"/><circle cx="771.7" cy="258.3" r="2.7"/><circle cx="772.9" cy="181.5" r="2.7"/><circle cx="771.1" cy="250.5" r="2.7"/><circle cx="773.2" cy="176.7" r="2.7"/><circle cx="774.6" cy="253.4" r="2.7"/><circle cx="774.9" cy="170.9" r="2.7"/><circle cx="773.5" cy="251.3" r="2.7"/><circle cx="775.9" cy="170.2" r="2.7"/><circle cx="776.2" cy="248.2" r="2.7"/><circle cx="775" cy="169.6" r="2.7"/><circle cx="776.6" cy="258.4" r="2.7"/><circle cx="778.1" cy="170.1" r="2.7"/><circle cx="778.4" cy="256.9" r="2.7"/><circle cx="777.3" cy="172.2" r="2.7"/><circle cx="778.1" cy="247.5" r="2.7"/><circle cx="780.6" cy="176.9" r="2.7"/><circle cx="779" cy="247.2" r="2.7"/><circle cx="779.3" cy="171.7" r="2.7"/><circle cx="780.7" cy="255.4" r="2.7"/><circle cx="781.1" cy="179" r="2.7"/><circle cx="782.6" cy="261.6" r="2.7"/><circle cx="781.8" cy="176.7" r="2.7"/><circle cx="781.3" cy="258.3" r="2.7"/><circle cx="783.8" cy="180.2" r="2.7"/><circle cx="784.2" cy="252.2" r="2.7"/><circle cx="783.7" cy="169.8" r="2.7"/><circle cx="784.8" cy="262.3" r="2.7"/><circle cx="785.1" cy="176.2" r="2.7"/><circle cx="785.7" cy="262" r="2.7"/><circle cx="786.2" cy="174.4" r="2.7"/><circle cx="785.7" cy="259.7" r="2.7"/><circle cx="788.2" cy="171.2" r="2.7"/><circle cx="787" cy="260.4" r="2.7"/><circle cx="789" cy="175.2" r="2.7"/><circle cx="787.3" cy="262.7" r="2.7"/><circle cx="789.5" cy="179.6" r="2.7"/><circle cx="790" cy="261" r="2.7"/><circle cx="790.1" cy="173.8" r="2.7"/><circle cx="790.9" cy="257.8" r="2.7"/><circle cx="791.1" cy="172" r="2.7"/><circle cx="792.5" cy="257.3" r="2.7"/><circle cx="792.5" cy="169.5" r="2.7"/><circle cx="792.3" cy="256.1" r="2.7"/><circle cx="793.6" cy="147" r="2.7"/><circle cx="794.7" cy="253.1" r="2.7"/><circle cx="794.4" cy="156.9" r="2.7"/><circle cx="794.5" cy="260.7" r="2.7"/><circle cx="796" cy="148.3" r="2.7"/><circle cx="795.7" cy="257" r="2.7"/><circle cx="795.8" cy="145.1" r="2.7"/><circle cx="795.7" cy="263.6" r="2.7"/><circle cx="799" cy="137.5" r="2.7"/><circle cx="797.7" cy="260.5" r="2.7"/><circle cx="797.5" cy="136.7" r="2.7"/><circle cx="797.3" cy="262.2" r="2.7"/><circle cx="800.7" cy="136.2" r="2.7"/><circle cx="799.9" cy="260.9" r="2.7"/><circle cx="799.6" cy="141.9" r="2.7"/><circle cx="799.1" cy="264" r="2.7"/><circle cx="801.6" cy="139.3" r="2.7"/><circle cx="802.1" cy="256.4" r="2.7"/><circle cx="801.7" cy="149.8" r="2.7"/><circle cx="802.2" cy="252.5" r="2.7"/><circle cx="803.4" cy="144.9" r="2.7"/><circle cx="805" cy="258.9" r="2.7"/><circle cx="804.5" cy="147.4" r="2.7"/><circle cx="804.7" cy="261.2" r="2.7"/><circle cx="806" cy="152.4" r="2.7"/><circle cx="805.6" cy="253" r="2.7"/><circle cx="805" cy="153.8" r="2.7"/><circle cx="805.5" cy="264" r="2.7"/><circle cx="807.4" cy="159" r="2.7"/><circle cx="807.4" cy="262.8" r="2.7"/><circle cx="808.7" cy="157.2" r="2.7"/><circle cx="807.4" cy="259" r="2.7"/><circle cx="810.9" cy="158.3" r="2.7"/><circle cx="809.2" cy="261" r="2.7"/><circle cx="810.8" cy="159.8" r="2.7"/><circle cx="809.3" cy="264.7" r="2.7"/><circle cx="812.1" cy="148.9" r="2.7"/><circle cx="812.3" cy="256.5" r="2.7"/><circle cx="811.4" cy="160.3" r="2.7"/><circle cx="812.5" cy="265.5" r="2.7"/><circle cx="813.8" cy="152.5" r="2.7"/><circle cx="813.7" cy="260.3" r="2.7"/><circle cx="813.8" cy="145.6" r="2.7"/><circle cx="814.3" cy="267.7" r="2.7"/><circle cx="816" cy="146.6" r="2.7"/><circle cx="815.5" cy="260.9" r="2.7"/><circle cx="815" cy="148.3" r="2.7"/><circle cx="816.1" cy="254.7" r="2.7"/><circle cx="817.1" cy="157.9" r="2.7"/><circle cx="818.4" cy="259.1" r="2.7"/><circle cx="817.2" cy="146.6" r="2.7"/><circle cx="817.3" cy="264.8" r="2.7"/><circle cx="819.2" cy="157.9" r="2.7"/><circle cx="819.8" cy="254.7" r="2.7"/><circle cx="820.2" cy="153.9" r="2.7"/><circle cx="820.3" cy="259.3" r="2.7"/><circle cx="821.7" cy="163.9" r="2.7"/><circle cx="821.5" cy="256.1" r="2.7"/><circle cx="822.5" cy="165.8" r="2.7"/><circle cx="821.6" cy="255.5" r="2.7"/><circle cx="825" cy="176.7" r="2.7"/><circle cx="823.6" cy="260.9" r="2.7"/><circle cx="824.9" cy="172.4" r="2.7"/><circle cx="823" cy="264.3" r="2.7"/><circle cx="826.3" cy="182.2" r="2.7"/><circle cx="825.7" cy="255.5" r="2.7"/><circle cx="825.5" cy="191.7" r="2.7"/><circle cx="825.2" cy="255.8" r="2.7"/><circle cx="827.3" cy="176.2" r="2.7"/><circle cx="828" cy="264.1" r="2.7"/><circle cx="827.4" cy="181.7" r="2.7"/><circle cx="827.7" cy="251.6" r="2.7"/><circle cx="829.4" cy="162.9" r="2.7"/><circle cx="830.8" cy="254.7" r="2.7"/><circle cx="829.1" cy="163" r="2.7"/><circle cx="829.5" cy="253.9" r="2.7"/><circle cx="832" cy="173.8" r="2.7"/><circle cx="831.7" cy="256.5" r="2.7"/><circle cx="831.9" cy="170" r="2.7"/><circle cx="832.8" cy="261" r="2.7"/><circle cx="834.5" cy="170.6" r="2.7"/><circle cx="834.3" cy="264.1" r="2.7"/><circle cx="834.7" cy="173.5" r="2.7"/><circle cx="834.1" cy="264.1" r="2.7"/><circle cx="836.8" cy="177.8" r="2.7"/><circle cx="836.3" cy="252" r="2.7"/><circle cx="835.5" cy="175.7" r="2.7"/><circle cx="835.9" cy="263.2" r="2.7"/><circle cx="837.4" cy="174.3" r="2.7"/><circle cx="838.3" cy="255.8" r="2.7"/><circle cx="839" cy="175" r="2.7"/><circle cx="838.1" cy="263.6" r="2.7"/><circle cx="840.7" cy="173.7" r="2.7"/><circle cx="839.5" cy="254.4" r="2.7"/><circle cx="840.6" cy="181.8" r="2.7"/><circle cx="839.7" cy="263.7" r="2.7"/><circle cx="842.8" cy="178.9" r="2.7"/><circle cx="842.4" cy="266.3" r="2.7"/><circle cx="841.9" cy="180.6" r="2.7"/><circle cx="842.8" cy="261.2" r="2.7"/><circle cx="844.8" cy="176.4" r="2.7"/><circle cx="844.6" cy="265.1" r="2.7"/><circle cx="843.4" cy="186.3" r="2.7"/><circle cx="845" cy="256.7" r="2.7"/><circle cx="845" cy="177.2" r="2.7"/><circle cx="846.9" cy="267.4" r="2.7"/><circle cx="846.8" cy="175.2" r="2.7"/><circle cx="846.5" cy="267.1" r="2.7"/><circle cx="847.3" cy="174.9" r="2.7"/><circle cx="847.2" cy="259.6" r="2.7"/><circle cx="848.8" cy="177.1" r="2.7"/><circle cx="848.8" cy="259" r="2.7"/><circle cx="849.1" cy="186.9" r="2.7"/><circle cx="850.6" cy="264.6" r="2.7"/><circle cx="849.1" cy="181.1" r="2.7"/><circle cx="849.5" cy="261.3" r="2.7"/><circle cx="851.2" cy="175.8" r="2.7"/><circle cx="853" cy="264.8" r="2.7"/><circle cx="852.8" cy="174.4" r="2.7"/><circle cx="852" cy="264.3" r="2.7"/><circle cx="853.9" cy="178.3" r="2.7"/><circle cx="854.4" cy="265.4" r="2.7"/><circle cx="854.5" cy="178.4" r="2.7"/><circle cx="853.2" cy="261.7" r="2.7"/><circle cx="856" cy="185.9" r="2.7"/><circle cx="855.7" cy="255.6" r="2.7"/><circle cx="856.9" cy="184.4" r="2.7"/><circle cx="856.5" cy="256.3" r="2.7"/><circle cx="857.4" cy="169.5" r="2.7"/><circle cx="857.1" cy="264.6" r="2.7"/><circle cx="858" cy="167.8" r="2.7"/><circle cx="858.1" cy="263" r="2.7"/><circle cx="859" cy="155" r="2.7"/><circle cx="860.3" cy="257.1" r="2.7"/><circle cx="860.1" cy="157.5" r="2.7"/><circle cx="861" cy="257.1" r="2.7"/><circle cx="862.4" cy="175" r="2.7"/><circle cx="861.6" cy="261.6" r="2.7"/><circle cx="862.9" cy="167.2" r="2.7"/><circle cx="861.8" cy="261.7" r="2.7"/><circle cx="863.3" cy="178.6" r="2.7"/><circle cx="863" cy="250.8" r="2.7"/><circle cx="864.9" cy="181.5" r="2.7"/><circle cx="864.2" cy="263.2" r="2.7"/><circle cx="865.5" cy="178.1" r="2.7"/><circle cx="865.2" cy="262.7" r="2.7"/><circle cx="866.6" cy="185.9" r="2.7"/><circle cx="865.1" cy="251.8" r="2.7"/><circle cx="867.6" cy="183" r="2.7"/><circle cx="868.1" cy="255.8" r="2.7"/><circle cx="868.9" cy="177.4" r="2.7"/><circle cx="868.5" cy="262.8" r="2.7"/><circle cx="870" cy="190.1" r="2.7"/><circle cx="871" cy="259.2" r="2.7"/><circle cx="870.3" cy="180.6" r="2.7"/><circle cx="869.8" cy="256.6" r="2.7"/><circle cx="871.8" cy="191.3" r="2.7"/><circle cx="872.2" cy="262.8" r="2.7"/><circle cx="871.6" cy="190.7" r="2.7"/><circle cx="872.1" cy="261.1" r="2.7"/><circle cx="874.2" cy="180.5" r="2.7"/><circle cx="874.8" cy="264.6" r="2.7"/><circle cx="874.4" cy="183.4" r="2.7"/><circle cx="874" cy="261.4" r="2.7"/><circle cx="875.3" cy="176.5" r="2.7"/><circle cx="876.1" cy="252.4" r="2.7"/><circle cx="876.1" cy="180.2" r="2.7"/><circle cx="875.5" cy="254.7" r="2.7"/><circle cx="878.6" cy="180" r="2.7"/><circle cx="878.3" cy="260.8" r="2.7"/><circle cx="878.8" cy="189.5" r="2.7"/><circle cx="877.1" cy="253.6" r="2.7"/><circle cx="880.7" cy="186.2" r="2.7"/><circle cx="879.2" cy="254.7" r="2.7"/><circle cx="879.5" cy="183.9" r="2.7"/><circle cx="879.7" cy="264.4" r="2.7"/><circle cx="882" cy="194.1" r="2.7"/><circle cx="881.2" cy="262.4" r="2.7"/><circle cx="883" cy="187.4" r="2.7"/><circle cx="881.9" cy="258.5" r="2.7"/><circle cx="884.6" cy="189.5" r="2.7"/><circle cx="883.3" cy="258.8" r="2.7"/><circle cx="883.7" cy="192.8" r="2.7"/><circle cx="883.5" cy="262.9" r="2.7"/><circle cx="885.7" cy="176.6" r="2.7"/><circle cx="885" cy="263.3" r="2.7"/><circle cx="886.1" cy="174.8" r="2.7"/><circle cx="885.4" cy="266.2" r="2.7"/><circle cx="887.5" cy="170.4" r="2.7"/><circle cx="887.5" cy="262.5" r="2.7"/><circle cx="887.2" cy="172.7" r="2.7"/><circle cx="888.7" cy="258" r="2.7"/><circle cx="889.8" cy="159.8" r="2.7"/><circle cx="890.2" cy="254.2" r="2.7"/><circle cx="889.1" cy="161.6" r="2.7"/><circle cx="889.7" cy="260" r="2.7"/><circle cx="891.6" cy="163.3" r="2.7"/><circle cx="892.3" cy="259.5" r="2.7"/><circle cx="891.7" cy="165.2" r="2.7"/><circle cx="892.2" cy="259.8" r="2.7"/><circle cx="893.4" cy="169.6" r="2.7"/><circle cx="894.4" cy="249.4" r="2.7"/><circle cx="894.3" cy="160.1" r="2.7"/><circle cx="893.1" cy="260.4" r="2.7"/><circle cx="895.8" cy="168.1" r="2.7"/><circle cx="896" cy="257.8" r="2.7"/><circle cx="896.5" cy="171.1" r="2.7"/><circle cx="896.2" cy="262.8" r="2.7"/><circle cx="897.9" cy="164.8" r="2.7"/><circle cx="897.8" cy="252.2" r="2.7"/><circle cx="898.8" cy="164.9" r="2.7"/><circle cx="898" cy="259" r="2.7"/><circle cx="900.6" cy="166.5" r="2.7"/><circle cx="900.5" cy="255.4" r="2.7"/><circle cx="899.1" cy="165" r="2.7"/><circle cx="900.1" cy="255.2" r="2.7"/><circle cx="902.5" cy="168.9" r="2.7"/><circle cx="901.4" cy="262.8" r="2.7"/><circle cx="902.6" cy="159.9" r="2.7"/><circle cx="901.2" cy="262.9" r="2.7"/><circle cx="904.1" cy="163.6" r="2.7"/><circle cx="904.4" cy="264.2" r="2.7"/><circle cx="904" cy="162.8" r="2.7"/><circle cx="904.4" cy="264.2" r="2.7"/><circle cx="906.2" cy="160.7" r="2.7"/><circle cx="906.6" cy="252.8" r="2.7"/><circle cx="905.3" cy="168.4" r="2.7"/><circle cx="906" cy="264.4" r="2.7"/><circle cx="909" cy="167.2" r="2.7"/><circle cx="907.5" cy="269" r="2.7"/><circle cx="907.5" cy="169.4" r="2.7"/><circle cx="908.1" cy="259.8" r="2.7"/><circle cx="909.8" cy="181" r="2.7"/><circle cx="909.6" cy="275.2" r="2.7"/><circle cx="910.6" cy="187.3" r="2.7"/><circle cx="909.5" cy="264.4" r="2.7"/><circle cx="911.1" cy="185.3" r="2.7"/><circle cx="911.7" cy="275.1" r="2.7"/><circle cx="912" cy="188.3" r="2.7"/><circle cx="911.7" cy="274.4" r="2.7"/><circle cx="913.4" cy="201.8" r="2.7"/><circle cx="914.1" cy="285.8" r="2.7"/><circle cx="913.6" cy="192.1" r="2.7"/><circle cx="913.8" cy="292.9" r="2.7"/><circle cx="915.6" cy="205.1" r="2.7"/><circle cx="916.6" cy="326.8" r="2.7"/><circle cx="916.4" cy="201.4" r="2.7"/><circle cx="916.2" cy="318.7" r="2.7"/><circle cx="918.9" cy="214.7" r="2.7"/><circle cx="918.8" cy="346.5" r="2.7"/><circle cx="917.9" cy="210.8" r="2.7"/><circle cx="917.1" cy="343.5" r="2.7"/><circle cx="919.1" cy="224.3" r="2.7"/><circle cx="919.4" cy="341.7" r="2.7"/><circle cx="920.1" cy="225.5" r="2.7"/><circle cx="920" cy="338" r="2.7"/><circle cx="922.3" cy="205.6" r="2.7"/><circle cx="921.4" cy="323.5" r="2.7"/><circle cx="921.3" cy="208.8" r="2.7"/><circle cx="921.4" cy="313.3" r="2.7"/><circle cx="923.2" cy="178.6" r="2.7"/><circle cx="924.9" cy="289.3" r="2.7"/><circle cx="924.3" cy="181.6" r="2.7"/><circle cx="924.8" cy="297.2" r="2.7"/><circle cx="925.3" cy="188.4" r="2.7"/><circle cx="926.4" cy="293.7" r="2.7"/><circle cx="926.7" cy="180.8" r="2.7"/><circle cx="925.5" cy="291.8" r="2.7"/><circle cx="927.6" cy="189.1" r="2.7"/><circle cx="927.3" cy="283.3" r="2.7"/><circle cx="927.6" cy="195.3" r="2.7"/><circle cx="927.3" cy="278.2" r="2.7"/><circle cx="931" cy="199.5" r="2.7"/><circle cx="929.1" cy="288.2" r="2.7"/><circle cx="930.3" cy="192.7" r="2.7"/><circle cx="930.1" cy="290" r="2.7"/><circle cx="931.9" cy="196.5" r="2.7"/><circle cx="931.9" cy="285.4" r="2.7"/><circle cx="931.2" cy="203.7" r="2.7"/><circle cx="931.2" cy="283.4" r="2.7"/><circle cx="935" cy="212.5" r="2.7"/><circle cx="934.1" cy="278.6" r="2.7"/><circle cx="933.7" cy="202.1" r="2.7"/><circle cx="934" cy="282.5" r="2.7"/><circle cx="935.2" cy="216.7" r="2.7"/><circle cx="936.7" cy="284.4" r="2.7"/><circle cx="936.1" cy="210.3" r="2.7"/><circle cx="935.3" cy="288.5" r="2.7"/><circle cx="938.8" cy="196.9" r="2.7"/><circle cx="937.5" cy="275.6" r="2.7"/><circle cx="937.1" cy="207.5" r="2.7"/><circle cx="938.9" cy="280.1" r="2.7"/><circle cx="940.9" cy="188.7" r="2.7"/><circle cx="939.1" cy="276.7" r="2.7"/><circle cx="939.9" cy="188.6" r="2.7"/><circle cx="940.5" cy="282.3" r="2.7"/><circle cx="942.6" cy="177.9" r="2.7"/><circle cx="941.1" cy="273.4" r="2.7"/><circle cx="941.2" cy="182.5" r="2.7"/><circle cx="942.6" cy="270" r="2.7"/><circle cx="943.9" cy="173.9" r="2.7"/><circle cx="944" cy="266.9" r="2.7"/><circle cx="944.3" cy="168.1" r="2.7"/><circle cx="944.2" cy="266.5" r="2.7"/><circle cx="945.7" cy="155.6" r="2.7"/><circle cx="945.3" cy="249.3" r="2.7"/><circle cx="946.9" cy="153.8" r="2.7"/><circle cx="946.7" cy="254.2" r="2.7"/><circle cx="948" cy="143.7" r="2.7"/><circle cx="947.2" cy="243.4" r="2.7"/><circle cx="947.2" cy="143.8" r="2.7"/><circle cx="948.1" cy="239.5" r="2.7"/><circle cx="949.9" cy="119.4" r="2.7"/><circle cx="950.1" cy="235.8" r="2.7"/><circle cx="949.7" cy="123.7" r="2.7"/><circle cx="949.8" cy="235.5" r="2.7"/><circle cx="951.3" cy="113.5" r="2.7"/><circle cx="952.7" cy="232.6" r="2.7"/><circle cx="952.8" cy="117.1" r="2.7"/><circle cx="952.9" cy="234" r="2.7"/><circle cx="954.6" cy="115.6" r="2.7"/><circle cx="954.4" cy="229.6" r="2.7"/><circle cx="954.5" cy="112.5" r="2.7"/><circle cx="953.5" cy="234.6" r="2.7"/><circle cx="955.8" cy="115.3" r="2.7"/><circle cx="955.6" cy="235.4" r="2.7"/><circle cx="955.2" cy="126.8" r="2.7"/><circle cx="955.5" cy="234.5" r="2.7"/><circle cx="958.6" cy="124.6" r="2.7"/><circle cx="957.1" cy="235.9" r="2.7"/><circle cx="958.2" cy="119.9" r="2.7"/><circle cx="957.1" cy="230.4" r="2.7"/><circle cx="960.4" cy="127.4" r="2.7"/><circle cx="959.7" cy="236.5" r="2.7"/><circle cx="959.9" cy="131" r="2.7"/><circle cx="959" cy="234.3" r="2.7"/><circle cx="961.8" cy="137.4" r="2.7"/><circle cx="961.2" cy="245.7" r="2.7"/><circle cx="962.5" cy="126.2" r="2.7"/><circle cx="961.3" cy="241.5" r="2.7"/><circle cx="963.3" cy="132.2" r="2.7"/><circle cx="963.4" cy="250.5" r="2.7"/><circle cx="965" cy="132.1" r="2.7"/><circle cx="964.6" cy="237.6" r="2.7"/><circle cx="966" cy="141" r="2.7"/><circle cx="966.8" cy="246.7" r="2.7"/><circle cx="966.3" cy="145.6" r="2.7"/><circle cx="966.3" cy="255" r="2.7"/><circle cx="968.6" cy="156.4" r="2.7"/><circle cx="968.4" cy="262.2" r="2.7"/><circle cx="967.3" cy="148.3" r="2.7"/><circle cx="968.3" cy="249.3" r="2.7"/><circle cx="969.3" cy="163.5" r="2.7"/><circle cx="970.9" cy="257.4" r="2.7"/><circle cx="970.5" cy="166.6" r="2.7"/><circle cx="970.6" cy="257.4" r="2.7"/><circle cx="971.9" cy="169.7" r="2.7"/><circle cx="972.6" cy="261.5" r="2.7"/><circle cx="971.6" cy="174.9" r="2.7"/><circle cx="972.1" cy="258.7" r="2.7"/><circle cx="973.2" cy="186" r="2.7"/><circle cx="974.6" cy="263" r="2.7"/><circle cx="974.7" cy="174.7" r="2.7"/><circle cx="973.4" cy="274.9" r="2.7"/><circle cx="975.5" cy="187.2" r="2.7"/><circle cx="976.8" cy="276.8" r="2.7"/><circle cx="976.4" cy="190.8" r="2.7"/><circle cx="976.6" cy="278.2" r="2.7"/><circle cx="978.4" cy="201.9" r="2.7"/><circle cx="978.7" cy="276.1" r="2.7"/><circle cx="977.2" cy="195.5" r="2.7"/><circle cx="978.7" cy="281.7" r="2.7"/><circle cx="980.2" cy="202.7" r="2.7"/><circle cx="980.6" cy="288.3" r="2.7"/><circle cx="980" cy="200.2" r="2.7"/><circle cx="979.2" cy="298.8" r="2.7"/><circle cx="981.8" cy="206.4" r="2.7"/><circle cx="981.9" cy="298.5" r="2.7"/><circle cx="981.4" cy="198.8" r="2.7"/><circle cx="982.7" cy="302.1" r="2.7"/><circle cx="983.6" cy="187.3" r="2.7"/><circle cx="983.5" cy="306.5" r="2.7"/><circle cx="983.9" cy="188.7" r="2.7"/><circle cx="984.6" cy="299.6" r="2.7"/><circle cx="986.4" cy="165.7" r="2.7"/><circle cx="986.6" cy="308.7" r="2.7"/><circle cx="985.5" cy="166.1" r="2.7"/><circle cx="985.7" cy="295.7" r="2.7"/><circle cx="988.8" cy="165.5" r="2.7"/><circle cx="988.8" cy="284.9" r="2.7"/><circle cx="988" cy="167.4" r="2.7"/><circle cx="988" cy="278.3" r="2.7"/><circle cx="989.4" cy="176.9" r="2.7"/><circle cx="989.3" cy="263.4" r="2.7"/><circle cx="989" cy="168.2" r="2.7"/><circle cx="990.9" cy="272.9" r="2.7"/><circle cx="992.6" cy="174.7" r="2.7"/><circle cx="991.7" cy="264.3" r="2.7"/><circle cx="992.1" cy="171.1" r="2.7"/><circle cx="992" cy="254.8" r="2.7"/><circle cx="994.9" cy="181.1" r="2.7"/><circle cx="994.3" cy="246.1" r="2.7"/><circle cx="994.2" cy="178.4" r="2.7"/><circle cx="994.9" cy="254" r="2.7"/><circle cx="996.3" cy="181" r="2.7"/><circle cx="995.8" cy="253.6" r="2.7"/><circle cx="996.4" cy="183.2" r="2.7"/><circle cx="996" cy="248.3" r="2.7"/><circle cx="999" cy="181" r="2.7"/><circle cx="998.7" cy="262.7" r="2.7"/><circle cx="998.1" cy="185.8" r="2.7"/><circle cx="998.5" cy="258.9" r="2.7"/><circle cx="1000.5" cy="194.8" r="2.7"/><circle cx="999.1" cy="263.5" r="2.7"/><circle cx="999.3" cy="185.5" r="2.7"/><circle cx="1000.8" cy="259.3" r="2.7"/><circle cx="1002.2" cy="188.8" r="2.7"/><circle cx="1001.1" cy="276" r="2.7"/><circle cx="1002.5" cy="191.3" r="2.7"/><circle cx="1001.6" cy="274.9" r="2.7"/><circle cx="1003.6" cy="207.8" r="2.7"/><circle cx="1003.8" cy="281.5" r="2.7"/><circle cx="1004.3" cy="212.2" r="2.7"/><circle cx="1004.4" cy="276.9" r="2.7"/><circle cx="1006.9" cy="212.2" r="2.7"/><circle cx="1006.4" cy="283.7" r="2.7"/><circle cx="1005.3" cy="211" r="2.7"/><circle cx="1006.7" cy="286" r="2.7"/><circle cx="1007.7" cy="223.9" r="2.7"/><circle cx="1008" cy="293.7" r="2.7"/><circle cx="1007.3" cy="225.6" r="2.7"/><circle cx="1007.3" cy="285.7" r="2.7"/><circle cx="1009.1" cy="221.4" r="2.7"/><circle cx="1009.8" cy="294.8" r="2.7"/><circle cx="1010.9" cy="232.5" r="2.7"/><circle cx="1009.6" cy="295.8" r="2.7"/><circle cx="1011.4" cy="227" r="2.7"/><circle cx="1011.9" cy="295.5" r="2.7"/><circle cx="1011.5" cy="214.6" r="2.7"/><circle cx="1011.8" cy="294.6" r="2.7"/><circle cx="1013.5" cy="222.4" r="2.7"/><circle cx="1014.8" cy="297.7" r="2.7"/><circle cx="1014.7" cy="213.1" r="2.7"/><circle cx="1014.6" cy="292" r="2.7"/><circle cx="1015.3" cy="208.9" r="2.7"/><circle cx="1015.9" cy="291.3" r="2.7"/><circle cx="1016.3" cy="212.2" r="2.7"/><circle cx="1015.6" cy="291.4" r="2.7"/><circle cx="1018.8" cy="207" r="2.7"/><circle cx="1017.6" cy="296.7" r="2.7"/><circle cx="1017.5" cy="210.9" r="2.7"/><circle cx="1017.1" cy="292.6" r="2.7"/><circle cx="1020.1" cy="215.5" r="2.7"/><circle cx="1020.9" cy="297.6" r="2.7"/><circle cx="1019.5" cy="206.9" r="2.7"/><circle cx="1020.1" cy="300.1" r="2.7"/><circle cx="1022.4" cy="215.1" r="2.7"/><circle cx="1022.6" cy="295.4" r="2.7"/><circle cx="1021.6" cy="206.6" r="2.7"/><circle cx="1022.9" cy="291.9" r="2.7"/><circle cx="1024.4" cy="208" r="2.7"/><circle cx="1023.8" cy="292.5" r="2.7"/><circle cx="1024.5" cy="213.9" r="2.7"/><circle cx="1023.8" cy="299.3" r="2.7"/><circle cx="1025.7" cy="206.1" r="2.7"/><circle cx="1026.7" cy="303.9" r="2.7"/><circle cx="1026" cy="201.3" r="2.7"/><circle cx="1026.8" cy="297.4" r="2.7"/><circle cx="1027.7" cy="198.8" r="2.7"/><circle cx="1027.8" cy="303.4" r="2.7"/><circle cx="1028.7" cy="202.8" r="2.7"/><circle cx="1028.2" cy="296.3" r="2.7"/><circle cx="1030.1" cy="203.5" r="2.7"/><circle cx="1030.7" cy="300.6" r="2.7"/><circle cx="1030.7" cy="209.8" r="2.7"/><circle cx="1030.3" cy="301.7" r="2.7"/><circle cx="1032" cy="208.4" r="2.7"/><circle cx="1032.8" cy="288.8" r="2.7"/><circle cx="1032.6" cy="208.2" r="2.7"/><circle cx="1032.8" cy="293.5" r="2.7"/><circle cx="1034.4" cy="196.5" r="2.7"/><circle cx="1034.2" cy="290.1" r="2.7"/><circle cx="1033.1" cy="197.7" r="2.7"/><circle cx="1034.6" cy="291.8" r="2.7"/><circle cx="1035.4" cy="198.5" r="2.7"/><circle cx="1035.2" cy="294.3" r="2.7"/><circle cx="1036.9" cy="204.2" r="2.7"/><circle cx="1035.7" cy="285.7" r="2.7"/><circle cx="1037.1" cy="209.6" r="2.7"/><circle cx="1037.7" cy="282.5" r="2.7"/><circle cx="1038.3" cy="201.7" r="2.7"/><circle cx="1037.6" cy="292.5" r="2.7"/><circle cx="1039.9" cy="203.1" r="2.7"/><circle cx="1040.6" cy="287.6" r="2.7"/><circle cx="1040.7" cy="203" r="2.7"/><circle cx="1039.4" cy="292.6" r="2.7"/><circle cx="1041.7" cy="207.1" r="2.7"/><circle cx="1042.1" cy="293.2" r="2.7"/><circle cx="1042.6" cy="201.7" r="2.7"/><circle cx="1042.7" cy="294.4" r="2.7"/><circle cx="1044.1" cy="207.9" r="2.7"/><circle cx="1044.6" cy="297.2" r="2.7"/><circle cx="1044" cy="198" r="2.7"/><circle cx="1043.1" cy="293.8" r="2.7"/><circle cx="1046.4" cy="202.1" r="2.7"/><circle cx="1045.8" cy="292.4" r="2.7"/><circle cx="1046.2" cy="200.2" r="2.7"/><circle cx="1046.7" cy="297" r="2.7"/><circle cx="1048.6" cy="209.4" r="2.7"/><circle cx="1047.7" cy="284.7" r="2.7"/><circle cx="1047.1" cy="209.1" r="2.7"/><circle cx="1047.3" cy="293.5" r="2.7"/><circle cx="1050.4" cy="201.9" r="2.7"/><circle cx="1049.9" cy="287.7" r="2.7"/><circle cx="1049.4" cy="200.5" r="2.7"/><circle cx="1049.6" cy="292.5" r="2.7"/><circle cx="1052.5" cy="190.2" r="2.7"/><circle cx="1051.9" cy="287.6" r="2.7"/><circle cx="1052.4" cy="190.2" r="2.7"/><circle cx="1051.5" cy="291.4" r="2.7"/><circle cx="1054.4" cy="174.7" r="2.7"/><circle cx="1054.5" cy="274.4" r="2.7"/><circle cx="1054.8" cy="182.1" r="2.7"/><circle cx="1054.4" cy="279.5" r="2.7"/><circle cx="1055.4" cy="173.4" r="2.7"/><circle cx="1056.7" cy="277.3" r="2.7"/><circle cx="1056.3" cy="181.5" r="2.7"/><circle cx="1055.7" cy="275.6" r="2.7"/><circle cx="1058.3" cy="178" r="2.7"/><circle cx="1057.6" cy="253" r="2.7"/><circle cx="1057.4" cy="177.3" r="2.7"/><circle cx="1058.8" cy="264.1" r="2.7"/><circle cx="1059.9" cy="189.6" r="2.7"/><circle cx="1059.2" cy="268.9" r="2.7"/><circle cx="1060.6" cy="180.4" r="2.7"/><circle cx="1061" cy="265.1" r="2.7"/><circle cx="1062.6" cy="194.3" r="2.7"/><circle cx="1062.6" cy="267.5" r="2.7"/><circle cx="1061.2" cy="182.7" r="2.7"/><circle cx="1062" cy="266.2" r="2.7"/><circle cx="1063.5" cy="196.3" r="2.7"/><circle cx="1064.8" cy="282.3" r="2.7"/><circle cx="1064.9" cy="203.3" r="2.7"/><circle cx="1063.9" cy="268.7" r="2.7"/><circle cx="1065.8" cy="216.7" r="2.7"/><circle cx="1066.7" cy="282.8" r="2.7"/><circle cx="1065" cy="208.8" r="2.7"/><circle cx="1066.2" cy="291.6" r="2.7"/><circle cx="1067" cy="216.2" r="2.7"/><circle cx="1068.6" cy="289.9" r="2.7"/><circle cx="1067.1" cy="217.3" r="2.7"/><circle cx="1068.1" cy="288.7" r="2.7"/><circle cx="1069.6" cy="218.4" r="2.7"/><circle cx="1070.8" cy="301.2" r="2.7"/><circle cx="1070.3" cy="222.6" r="2.7"/><circle cx="1069.5" cy="306.7" r="2.7"/><circle cx="1071.8" cy="232.7" r="2.7"/><circle cx="1072.2" cy="317.9" r="2.7"/><circle cx="1071.4" cy="221.2" r="2.7"/><circle cx="1072.2" cy="314.3" r="2.7"/><circle cx="1074.4" cy="230" r="2.7"/><circle cx="1073.1" cy="325" r="2.7"/><circle cx="1073.1" cy="231.6" r="2.7"/><circle cx="1073.8" cy="324.6" r="2.7"/><circle cx="1076.4" cy="230.6" r="2.7"/><circle cx="1076.3" cy="331.4" r="2.7"/><circle cx="1075.9" cy="231" r="2.7"/><circle cx="1076.8" cy="332.2" r="2.7"/><circle cx="1077.1" cy="229.4" r="2.7"/><circle cx="1079" cy="335.4" r="2.7"/><circle cx="1077.8" cy="224.5" r="2.7"/><circle cx="1078.6" cy="327.2" r="2.7"/><circle cx="1080.5" cy="225" r="2.7"/><circle cx="1079.2" cy="327.2" r="2.7"/><circle cx="1080.6" cy="231.7" r="2.7"/><circle cx="1079.1" cy="327.2" r="2.7"/><circle cx="1082.9" cy="209.6" r="2.7"/><circle cx="1082.3" cy="303.1" r="2.7"/><circle cx="1082.3" cy="220.7" r="2.7"/><circle cx="1081.5" cy="292.1" r="2.7"/><circle cx="1083" cy="200.6" r="2.7"/><circle cx="1083.2" cy="282.6" r="2.7"/><circle cx="1084.4" cy="213.4" r="2.7"/><circle cx="1084.6" cy="290.6" r="2.7"/><circle cx="1086" cy="194.2" r="2.7"/><circle cx="1086.6" cy="288.7" r="2.7"/><circle cx="1086.8" cy="205.1" r="2.7"/><circle cx="1086.7" cy="289" r="2.7"/><circle cx="1088.6" cy="198.2" r="2.7"/><circle cx="1088.2" cy="285.6" r="2.7"/><circle cx="1088.6" cy="198.8" r="2.7"/><circle cx="1087.1" cy="290.1" r="2.7"/><circle cx="1089.6" cy="203" r="2.7"/><circle cx="1089" cy="292.1" r="2.7"/><circle cx="1089" cy="206.4" r="2.7"/><circle cx="1090.6" cy="284.9" r="2.7"/><circle cx="1091.2" cy="202.2" r="2.7"/><circle cx="1091.4" cy="294.5" r="2.7"/><circle cx="1091.2" cy="201.8" r="2.7"/><circle cx="1092.1" cy="288.1" r="2.7"/><circle cx="1093.2" cy="196.8" r="2.7"/><circle cx="1094.7" cy="300.6" r="2.7"/><circle cx="1093.2" cy="205" r="2.7"/><circle cx="1093.6" cy="306.2" r="2.7"/><circle cx="1095.3" cy="207" r="2.7"/><circle cx="1097" cy="316.8" r="2.7"/><circle cx="1095" cy="207.1" r="2.7"/><circle cx="1095.2" cy="322.8" r="2.7"/><circle cx="1098.2" cy="217.2" r="2.7"/><circle cx="1097.9" cy="338.6" r="2.7"/><circle cx="1098.2" cy="212.8" r="2.7"/><circle cx="1098.8" cy="336.5" r="2.7"/><circle cx="1100.6" cy="229.5" r="2.7"/><circle cx="1100.7" cy="343" r="2.7"/><circle cx="1099.1" cy="229.2" r="2.7"/><circle cx="1100.7" cy="347.5" r="2.7"/><circle cx="1102.8" cy="236.1" r="2.7"/><circle cx="1102.9" cy="356.7" r="2.7"/><circle cx="1102.4" cy="236.2" r="2.7"/><circle cx="1101.6" cy="356" r="2.7"/><circle cx="1103.6" cy="243.5" r="2.7"/><circle cx="1103.9" cy="356" r="2.7"/><circle cx="1104.3" cy="254.5" r="2.7"/><circle cx="1104.5" cy="343.8" r="2.7"/><circle cx="1107" cy="257" r="2.7"/><circle cx="1105.5" cy="342.4" r="2.7"/><circle cx="1105.8" cy="248" r="2.7"/><circle cx="1105.5" cy="351.3" r="2.7"/><circle cx="1108.8" cy="258" r="2.7"/><circle cx="1108.5" cy="337.4" r="2.7"/><circle cx="1108.8" cy="255.8" r="2.7"/><circle cx="1108.1" cy="330.1" r="2.7"/><circle cx="1110.7" cy="241.3" r="2.7"/><circle cx="1110.3" cy="319.6" r="2.7"/><circle cx="1110.1" cy="243.8" r="2.7"/><circle cx="1109.3" cy="308.6" r="2.7"/><circle cx="1112.3" cy="230.5" r="2.7"/><circle cx="1112.9" cy="302.6" r="2.7"/><circle cx="1112.8" cy="228.8" r="2.7"/><circle cx="1112.9" cy="300.1" r="2.7"/><circle cx="1113.4" cy="200.2" r="2.7"/><circle cx="1114.8" cy="295.9" r="2.7"/><circle cx="1113.5" cy="200" r="2.7"/><circle cx="1115" cy="289.6" r="2.7"/><circle cx="1115.9" cy="190.3" r="2.7"/><circle cx="1116.4" cy="285.1" r="2.7"/><circle cx="1116.5" cy="198.2" r="2.7"/><circle cx="1115.5" cy="291.3" r="2.7"/><circle cx="1118.4" cy="193.8" r="2.7"/><circle cx="1117.5" cy="291.7" r="2.7"/><circle cx="1118.3" cy="207" r="2.7"/><circle cx="1118.3" cy="286.8" r="2.7"/><circle cx="1120.4" cy="204.3" r="2.7"/><circle cx="1119.1" cy="290.7" r="2.7"/><circle cx="1119" cy="198.4" r="2.7"/><circle cx="1119.3" cy="290.1" r="2.7"/><circle cx="1122" cy="207.1" r="2.7"/><circle cx="1122.4" cy="287" r="2.7"/><circle cx="1122.5" cy="208.5" r="2.7"/><circle cx="1121.2" cy="299.4" r="2.7"/><circle cx="1123.8" cy="217.3" r="2.7"/><circle cx="1123.9" cy="300.1" r="2.7"/><circle cx="1123.2" cy="223.6" r="2.7"/><circle cx="1123.7" cy="295.3" r="2.7"/><circle cx="1125.1" cy="232.1" r="2.7"/><circle cx="1125.5" cy="297.4" r="2.7"/><circle cx="1126.6" cy="232.6" r="2.7"/><circle cx="1125.6" cy="300.4" r="2.7"/><circle cx="1127.4" cy="228.2" r="2.7"/><circle cx="1127.3" cy="295.9" r="2.7"/><circle cx="1128.2" cy="235.4" r="2.7"/><circle cx="1127.4" cy="300.6" r="2.7"/><circle cx="1129.2" cy="231.3" r="2.7"/><circle cx="1129.8" cy="294.2" r="2.7"/><circle cx="1130.1" cy="237.8" r="2.7"/><circle cx="1129.1" cy="306.5" r="2.7"/><circle cx="1132.7" cy="233.2" r="2.7"/><circle cx="1132.9" cy="307.3" r="2.7"/><circle cx="1132.4" cy="235.9" r="2.7"/><circle cx="1132.6" cy="307.2" r="2.7"/><circle cx="1133.7" cy="222.2" r="2.7"/><circle cx="1133.2" cy="300.3" r="2.7"/><circle cx="1134.6" cy="222.2" r="2.7"/><circle cx="1133.8" cy="303.4" r="2.7"/><circle cx="1135.4" cy="217.3" r="2.7"/><circle cx="1135.4" cy="301.8" r="2.7"/><circle cx="1135.7" cy="211.2" r="2.7"/><circle cx="1135.9" cy="295.9" r="2.7"/><circle cx="1137.1" cy="208.9" r="2.7"/><circle cx="1138.7" cy="288" r="2.7"/><circle cx="1137.1" cy="199.1" r="2.7"/><circle cx="1137.2" cy="291.6" r="2.7"/><circle cx="1140.4" cy="191.2" r="2.7"/><circle cx="1139.2" cy="287.5" r="2.7"/><circle cx="1139.3" cy="191.5" r="2.7"/><circle cx="1139.9" cy="286.5" r="2.7"/><circle cx="1141.1" cy="173.7" r="2.7"/><circle cx="1141.9" cy="277.1" r="2.7"/><circle cx="1142.1" cy="185.8" r="2.7"/><circle cx="1141.4" cy="279.6" r="2.7"/><circle cx="1144.1" cy="167.9" r="2.7"/><circle cx="1144.9" cy="260.6" r="2.7"/><circle cx="1143.2" cy="170.2" r="2.7"/><circle cx="1144" cy="259" r="2.7"/><circle cx="1145.3" cy="169.6" r="2.7"/><circle cx="1145.4" cy="258.2" r="2.7"/><circle cx="1145.5" cy="168.5" r="2.7"/><circle cx="1145.9" cy="257" r="2.7"/><circle cx="1147.1" cy="185.7" r="2.7"/><circle cx="1147.6" cy="262.9" r="2.7"/><circle cx="1148.3" cy="178.3" r="2.7"/><circle cx="1147.2" cy="264.1" r="2.7"/><circle cx="1150" cy="198.3" r="2.7"/><circle cx="1149" cy="268.4" r="2.7"/><circle cx="1150" cy="191.8" r="2.7"/><circle cx="1149.9" cy="269.3" r="2.7"/><circle cx="1152.1" cy="200.9" r="2.7"/><circle cx="1152" cy="270.4" r="2.7"/><circle cx="1152.3" cy="198.5" r="2.7"/><circle cx="1152.6" cy="271.2" r="2.7"/><circle cx="1154.5" cy="204" r="2.7"/><circle cx="1153.7" cy="263.4" r="2.7"/><circle cx="1153.4" cy="203.1" r="2.7"/><circle cx="1154.2" cy="273" r="2.7"/><circle cx="1155.2" cy="202.1" r="2.7"/><circle cx="1155.1" cy="275.6" r="2.7"/><circle cx="1155.3" cy="194" r="2.7"/><circle cx="1156.5" cy="275.8" r="2.7"/><circle cx="1158.9" cy="192.1" r="2.7"/><circle cx="1158.4" cy="276.5" r="2.7"/><circle cx="1158.9" cy="186.2" r="2.7"/><circle cx="1158" cy="278.4" r="2.7"/><circle cx="1160.9" cy="187" r="2.7"/><circle cx="1161" cy="278.3" r="2.7"/><circle cx="1159.4" cy="188.7" r="2.7"/><circle cx="1159.4" cy="272.3" r="2.7"/><circle cx="1161.9" cy="210.6" r="2.7"/><circle cx="1162.9" cy="293.5" r="2.7"/><circle cx="1161.8" cy="198.9" r="2.7"/><circle cx="1162.3" cy="292.3" r="2.7"/><circle cx="1163.7" cy="211" r="2.7"/><circle cx="1164.7" cy="306" r="2.7"/><circle cx="1164.2" cy="211" r="2.7"/><circle cx="1163.9" cy="305.2" r="2.7"/><circle cx="1166.4" cy="226.3" r="2.7"/><circle cx="1165.5" cy="313.5" r="2.7"/><circle cx="1166.9" cy="221.2" r="2.7"/><circle cx="1165.3" cy="313.4" r="2.7"/><circle cx="1168.2" cy="230.7" r="2.7"/><circle cx="1167.1" cy="305" r="2.7"/><circle cx="1167.3" cy="227.1" r="2.7"/><circle cx="1167.9" cy="310.6" r="2.7"/><circle cx="1170.8" cy="234" r="2.7"/><circle cx="1170.7" cy="310.6" r="2.7"/><circle cx="1169.5" cy="243.7" r="2.7"/><circle cx="1169.8" cy="305.1" r="2.7"/><circle cx="1172.8" cy="235.8" r="2.7"/><circle cx="1171" cy="317.4" r="2.7"/><circle cx="1171.6" cy="237.6" r="2.7"/><circle cx="1172.7" cy="304.5" r="2.7"/><circle cx="1174.1" cy="238.7" r="2.7"/><circle cx="1174.6" cy="308.5" r="2.7"/><circle cx="1174" cy="242.3" r="2.7"/><circle cx="1173.5" cy="318.9" r="2.7"/><circle cx="1176.2" cy="236.4" r="2.7"/><circle cx="1176.8" cy="312.5" r="2.7"/><circle cx="1175.4" cy="242.4" r="2.7"/><circle cx="1176.8" cy="322.1" r="2.7"/><circle cx="1177.4" cy="233.7" r="2.7"/><circle cx="1177.5" cy="317.3" r="2.7"/><circle cx="1177.7" cy="229.3" r="2.7"/><circle cx="1178.4" cy="320.1" r="2.7"/><circle cx="1180.5" cy="231.7" r="2.7"/><circle cx="1179.9" cy="321" r="2.7"/><circle cx="1180.6" cy="238.9" r="2.7"/><circle cx="1180" cy="327.5" r="2.7"/><circle cx="1182.4" cy="236.2" r="2.7"/><circle cx="1181.4" cy="316.6" r="2.7"/><circle cx="1182.6" cy="241.8" r="2.7"/><circle cx="1181.9" cy="322.2" r="2.7"/><circle cx="1183.4" cy="232.8" r="2.7"/><circle cx="1184.9" cy="309.7" r="2.7"/><circle cx="1183.5" cy="231.5" r="2.7"/><circle cx="1183.7" cy="304.5" r="2.7"/><circle cx="1186.5" cy="221.5" r="2.7"/><circle cx="1185.4" cy="305.6" r="2.7"/><circle cx="1185.5" cy="215.4" r="2.7"/><circle cx="1185.3" cy="306.1" r="2.7"/><circle cx="1187.8" cy="215.5" r="2.7"/><circle cx="1188.2" cy="302.6" r="2.7"/><circle cx="1188.2" cy="224.9" r="2.7"/><circle cx="1188.4" cy="300.1" r="2.7"/><circle cx="1189.4" cy="210.9" r="2.7"/><circle cx="1189" cy="290.4" r="2.7"/><circle cx="1189.3" cy="214.7" r="2.7"/><circle cx="1190.9" cy="292" r="2.7"/><circle cx="1192.7" cy="211.4" r="2.7"/><circle cx="1192.3" cy="279.9" r="2.7"/><circle cx="1192.9" cy="210.2" r="2.7"/><circle cx="1192.5" cy="285.8" r="2.7"/><circle cx="1193.5" cy="203.2" r="2.7"/><circle cx="1194.2" cy="271.6" r="2.7"/><circle cx="1194.8" cy="212" r="2.7"/><circle cx="1193.4" cy="275.8" r="2.7"/><circle cx="1196.1" cy="200.2" r="2.7"/><circle cx="1195.5" cy="268.4" r="2.7"/><circle cx="1195" cy="200.4" r="2.7"/><circle cx="1196.4" cy="276" r="2.7"/><circle cx="1197.5" cy="189.7" r="2.7"/><circle cx="1198.4" cy="277.6" r="2.7"/><circle cx="1197" cy="203.4" r="2.7"/><circle cx="1198.9" cy="278.9" r="2.7"/><circle cx="1199.3" cy="192.5" r="2.7"/><circle cx="1200" cy="279.4" r="2.7"/><circle cx="1199.8" cy="181.5" r="2.7"/><circle cx="1199.5" cy="277.5" r="2.7"/><circle cx="1201.2" cy="189.8" r="2.7"/><circle cx="1201.2" cy="291.5" r="2.7"/><circle cx="1202.4" cy="196.3" r="2.7"/><circle cx="1202.6" cy="290.6" r="2.7"/><circle cx="1203.7" cy="208.6" r="2.7"/><circle cx="1203.4" cy="298.3" r="2.7"/><circle cx="1204.1" cy="212.6" r="2.7"/><circle cx="1203.3" cy="302.7" r="2.7"/><circle cx="1205.8" cy="214" r="2.7"/><circle cx="1205.5" cy="302.1" r="2.7"/><circle cx="1206.6" cy="215.9" r="2.7"/><circle cx="1206.2" cy="310" r="2.7"/><circle cx="1208.4" cy="213.2" r="2.7"/><circle cx="1208.6" cy="307.9" r="2.7"/><circle cx="1207.2" cy="213.5" r="2.7"/><circle cx="1208.1" cy="310.5" r="2.7"/><circle cx="1209.4" cy="212" r="2.7"/><circle cx="1209.2" cy="313.9" r="2.7"/><circle cx="1209.5" cy="218.2" r="2.7"/><circle cx="1209.8" cy="318.2" r="2.7"/><circle cx="1212.4" cy="215.7" r="2.7"/><circle cx="1212.4" cy="321.7" r="2.7"/><circle cx="1211.6" cy="211.9" r="2.7"/><circle cx="1212.4" cy="314.9" r="2.7"/><circle cx="1214.8" cy="218.6" r="2.7"/><circle cx="1213.6" cy="317.9" r="2.7"/><circle cx="1213.5" cy="219.4" r="2.7"/><circle cx="1213.5" cy="318.3" r="2.7"/><circle cx="1216.7" cy="225.4" r="2.7"/><circle cx="1216.9" cy="303.3" r="2.7"/><circle cx="1215.6" cy="225.9" r="2.7"/><circle cx="1216.4" cy="309.3" r="2.7"/><circle cx="1218.2" cy="220.1" r="2.7"/><circle cx="1217.1" cy="311.3" r="2.7"/><circle cx="1217.3" cy="224.8" r="2.7"/><circle cx="1218.8" cy="299" r="2.7"/><circle cx="1219.4" cy="227.5" r="2.7"/><circle cx="1220" cy="318.6" r="2.7"/><circle cx="1219.7" cy="228.4" r="2.7"/><circle cx="1220.1" cy="310.8" r="2.7"/><circle cx="1221.2" cy="236.5" r="2.7"/><circle cx="1221.8" cy="322.6" r="2.7"/><circle cx="1221.5" cy="231.6" r="2.7"/><circle cx="1221.4" cy="315.4" r="2.7"/><circle cx="1224" cy="233.4" r="2.7"/><circle cx="1224.5" cy="314.7" r="2.7"/><circle cx="1223.9" cy="234.1" r="2.7"/><circle cx="1224.9" cy="310.4" r="2.7"/><circle cx="1225.2" cy="242.2" r="2.7"/><circle cx="1226.3" cy="320.1" r="2.7"/><circle cx="1225.1" cy="237.5" r="2.7"/><circle cx="1226.8" cy="310.5" r="2.7"/><circle cx="1227.9" cy="241.2" r="2.7"/><circle cx="1227.6" cy="320" r="2.7"/><circle cx="1228.5" cy="240.9" r="2.7"/><circle cx="1227.9" cy="317.3" r="2.7"/><circle cx="1229.8" cy="244.7" r="2.7"/><circle cx="1230.9" cy="327.5" r="2.7"/><circle cx="1229.6" cy="244.6" r="2.7"/><circle cx="1229.3" cy="318.6" r="2.7"/><circle cx="1231.1" cy="247.3" r="2.7"/><circle cx="1232.1" cy="327" r="2.7"/><circle cx="1231.3" cy="257.4" r="2.7"/><circle cx="1232.5" cy="326.9" r="2.7"/><circle cx="1233.7" cy="251.8" r="2.7"/><circle cx="1233.5" cy="331.3" r="2.7"/><circle cx="1233.2" cy="261.6" r="2.7"/><circle cx="1234.5" cy="330.2" r="2.7"/><circle cx="1236.8" cy="259.9" r="2.7"/><circle cx="1236.9" cy="335.6" r="2.7"/><circle cx="1235.6" cy="254.4" r="2.7"/><circle cx="1236.4" cy="335.7" r="2.7"/><circle cx="1237.3" cy="256.7" r="2.7"/><circle cx="1238.9" cy="346.5" r="2.7"/><circle cx="1238.6" cy="248.6" r="2.7"/><circle cx="1237.5" cy="345.1" r="2.7"/><circle cx="1239.9" cy="249.8" r="2.7"/><circle cx="1239.3" cy="341.3" r="2.7"/><circle cx="1239.6" cy="259.1" r="2.7"/><circle cx="1240.5" cy="354.2" r="2.7"/><circle cx="1241.4" cy="253.5" r="2.7"/><circle cx="1242.6" cy="357.8" r="2.7"/><circle cx="1242.1" cy="262" r="2.7"/><circle cx="1242.5" cy="361.3" r="2.7"/><circle cx="1244.8" cy="262.7" r="2.7"/><circle cx="1243.7" cy="353.4" r="2.7"/><circle cx="1244.6" cy="267.2" r="2.7"/><circle cx="1243.7" cy="364.6" r="2.7"/><circle cx="1245.7" cy="262.1" r="2.7"/><circle cx="1245.2" cy="365.8" r="2.7"/><circle cx="1246.8" cy="260.5" r="2.7"/><circle cx="1246.3" cy="365.4" r="2.7"/><circle cx="1248.5" cy="270.8" r="2.7"/><circle cx="1248.8" cy="367.3" r="2.7"/><circle cx="1249" cy="269.1" r="2.7"/><circle cx="1248.5" cy="360.4" r="2.7"/><circle cx="1249.5" cy="267.1" r="2.7"/><circle cx="1249.8" cy="360.7" r="2.7"/><circle cx="1249.3" cy="267.6" r="2.7"/><circle cx="1249.7" cy="362.6" r="2.7"/><circle cx="1251.7" cy="262.8" r="2.7"/><circle cx="1252.7" cy="355.1" r="2.7"/><circle cx="1251.3" cy="264" r="2.7"/><circle cx="1252.5" cy="353.2" r="2.7"/><circle cx="1254.3" cy="255.7" r="2.7"/><circle cx="1254.7" cy="363.7" r="2.7"/><circle cx="1253.9" cy="253.5" r="2.7"/><circle cx="1254.6" cy="361.3" r="2.7"/><circle cx="1256.7" cy="247.7" r="2.7"/><circle cx="1255.7" cy="347.1" r="2.7"/><circle cx="1255.2" cy="239.7" r="2.7"/><circle cx="1255.1" cy="346" r="2.7"/><circle cx="1257.5" cy="237.9" r="2.7"/><circle cx="1257.1" cy="332.6" r="2.7"/><circle cx="1257.4" cy="236.9" r="2.7"/><circle cx="1257.8" cy="328.7" r="2.7"/><circle cx="1260.9" cy="225" r="2.7"/><circle cx="1260.3" cy="320.7" r="2.7"/><circle cx="1259.9" cy="226.9" r="2.7"/><circle cx="1260.5" cy="311" r="2.7"/><circle cx="1262.7" cy="204.4" r="2.7"/><circle cx="1261.2" cy="307.1" r="2.7"/><circle cx="1262.7" cy="208.2" r="2.7"/><circle cx="1262" cy="307.9" r="2.7"/><circle cx="1264.8" cy="198.1" r="2.7"/><circle cx="1263.4" cy="303" r="2.7"/><circle cx="1263.7" cy="197.5" r="2.7"/><circle cx="1264.4" cy="297.2" r="2.7"/><circle cx="1266.8" cy="187.7" r="2.7"/><circle cx="1266.2" cy="307.7" r="2.7"/><circle cx="1266.4" cy="190.9" r="2.7"/><circle cx="1265.2" cy="304.2" r="2.7"/><circle cx="1268.6" cy="199.7" r="2.7"/><circle cx="1267.7" cy="298.2" r="2.7"/><circle cx="1268.5" cy="196" r="2.7"/><circle cx="1267.4" cy="298" r="2.7"/><circle cx="1271" cy="213.7" r="2.7"/><circle cx="1269.8" cy="304.1" r="2.7"/><circle cx="1270.9" cy="210.3" r="2.7"/><circle cx="1269.6" cy="306.7" r="2.7"/><circle cx="1272.5" cy="207.1" r="2.7"/><circle cx="1272.1" cy="304.3" r="2.7"/><circle cx="1272.3" cy="209.3" r="2.7"/><circle cx="1272.9" cy="304.7" r="2.7"/><circle cx="1274.1" cy="221.2" r="2.7"/><circle cx="1273.4" cy="293.1" r="2.7"/><circle cx="1274.1" cy="219.2" r="2.7"/><circle cx="1274.7" cy="293.8" r="2.7"/><circle cx="1276.8" cy="200" r="2.7"/><circle cx="1275" cy="301.7" r="2.7"/><circle cx="1276.8" cy="201.9" r="2.7"/><circle cx="1276.9" cy="291" r="2.7"/><circle cx="1278.9" cy="192" r="2.7"/><circle cx="1277.3" cy="297.3" r="2.7"/><circle cx="1278.6" cy="193.9" r="2.7"/><circle cx="1278.2" cy="299.3" r="2.7"/><circle cx="1279.6" cy="196.3" r="2.7"/><circle cx="1280" cy="301.8" r="2.7"/><circle cx="1279.2" cy="198.9" r="2.7"/><circle cx="1279.7" cy="305.3" r="2.7"/><circle cx="1282.5" cy="210.4" r="2.7"/><circle cx="1281.5" cy="306.4" r="2.7"/><circle cx="1281.4" cy="207.1" r="2.7"/><circle cx="1282.8" cy="301.6" r="2.7"/><circle cx="1284.2" cy="218.8" r="2.7"/><circle cx="1284.5" cy="304.5" r="2.7"/><circle cx="1284.4" cy="225.8" r="2.7"/><circle cx="1284.7" cy="311.1" r="2.7"/><circle cx="1285.1" cy="245.6" r="2.7"/><circle cx="1285.9" cy="305" r="2.7"/><circle cx="1285.1" cy="233.5" r="2.7"/><circle cx="1286.4" cy="308.1" r="2.7"/><circle cx="1287.9" cy="236.3" r="2.7"/><circle cx="1289" cy="316" r="2.7"/><circle cx="1288.5" cy="238.1" r="2.7"/><circle cx="1287.4" cy="321.3" r="2.7"/><circle cx="1289.8" cy="239" r="2.7"/><circle cx="1289.6" cy="321.3" r="2.7"/><circle cx="1289.4" cy="239" r="2.7"/><circle cx="1289.4" cy="327.5" r="2.7"/><circle cx="1292" cy="245.4" r="2.7"/><circle cx="1292" cy="326.9" r="2.7"/><circle cx="1292.9" cy="247" r="2.7"/><circle cx="1292.9" cy="323.4" r="2.7"/><circle cx="1293.4" cy="252.4" r="2.7"/><circle cx="1293.3" cy="321.7" r="2.7"/><circle cx="1293.1" cy="249" r="2.7"/><circle cx="1294.9" cy="319.9" r="2.7"/><circle cx="1295.7" cy="253.5" r="2.7"/><circle cx="1295.7" cy="336.6" r="2.7"/><circle cx="1295.8" cy="257.9" r="2.7"/><circle cx="1296.7" cy="339.5" r="2.7"/><circle cx="1297" cy="257.9" r="2.7"/><circle cx="1298.5" cy="341.8" r="2.7"/><circle cx="1298.3" cy="254.9" r="2.7"/><circle cx="1297.8" cy="340.3" r="2.7"/><circle cx="1299.6" cy="255.6" r="2.7"/><circle cx="1300.3" cy="354.6" r="2.7"/><circle cx="1300.9" cy="260.5" r="2.7"/><circle cx="1299.7" cy="359.4" r="2.7"/><circle cx="1302.6" cy="260.3" r="2.7"/><circle cx="1302.4" cy="356.5" r="2.7"/><circle cx="1302.9" cy="251.9" r="2.7"/><circle cx="1301.8" cy="357.2" r="2.7"/><circle cx="1303.2" cy="249.1" r="2.7"/><circle cx="1304.6" cy="354.5" r="2.7"/><circle cx="1303.6" cy="248.2" r="2.7"/><circle cx="1304" cy="362" r="2.7"/><circle cx="1306.8" cy="251" r="2.7"/><circle cx="1306.1" cy="368.7" r="2.7"/><circle cx="1306.3" cy="260.7" r="2.7"/><circle cx="1305.7" cy="367" r="2.7"/><circle cx="1308.2" cy="251.3" r="2.7"/><circle cx="1307.5" cy="372" r="2.7"/><circle cx="1307.8" cy="251.1" r="2.7"/><circle cx="1308.8" cy="378.8" r="2.7"/><circle cx="1309.6" cy="253.4" r="2.7"/><circle cx="1310.6" cy="394.6" r="2.7"/><circle cx="1310.4" cy="248.9" r="2.7"/><circle cx="1309.4" cy="397" r="2.7"/><circle cx="1312.6" cy="253.9" r="2.7"/><circle cx="1311.5" cy="404.1" r="2.7"/><circle cx="1311.5" cy="253.8" r="2.7"/><circle cx="1312.4" cy="396.3" r="2.7"/><circle cx="1314.9" cy="281.2" r="2.7"/><circle cx="1314.8" cy="386.4" r="2.7"/><circle cx="1314.9" cy="269.5" r="2.7"/><circle cx="1313.4" cy="388.1" r="2.7"/><circle cx="1316.7" cy="280.2" r="2.7"/><circle cx="1315.2" cy="364.3" r="2.7"/><circle cx="1316.5" cy="282.7" r="2.7"/><circle cx="1317" cy="361.2" r="2.7"/><circle cx="1317.1" cy="256" r="2.7"/><circle cx="1317" cy="343.8" r="2.7"/><circle cx="1318.3" cy="264" r="2.7"/><circle cx="1317.3" cy="343.9" r="2.7"/><circle cx="1320.2" cy="247.8" r="2.7"/><circle cx="1320.9" cy="325.7" r="2.7"/><circle cx="1321" cy="249.6" r="2.7"/><circle cx="1319.8" cy="329.4" r="2.7"/><circle cx="1321.5" cy="245.8" r="2.7"/><circle cx="1323" cy="320.4" r="2.7"/><circle cx="1321.4" cy="252.2" r="2.7"/><circle cx="1321.3" cy="332.9" r="2.7"/><circle cx="1324.5" cy="246.8" r="2.7"/><circle cx="1324.1" cy="331.1" r="2.7"/><circle cx="1323.1" cy="251.8" r="2.7"/><circle cx="1324.6" cy="327.5" r="2.7"/><circle cx="1325.9" cy="250" r="2.7"/><circle cx="1326.2" cy="317.4" r="2.7"/><circle cx="1325.8" cy="246.7" r="2.7"/><circle cx="1326.7" cy="316" r="2.7"/><circle cx="1328.1" cy="258.8" r="2.7"/><circle cx="1327.4" cy="328.2" r="2.7"/><circle cx="1328.4" cy="249.7" r="2.7"/><circle cx="1328.6" cy="328.8" r="2.7"/><circle cx="1330" cy="258.7" r="2.7"/><circle cx="1330.6" cy="328.8" r="2.7"/><circle cx="1330.3" cy="252.6" r="2.7"/><circle cx="1330.5" cy="323.1" r="2.7"/><circle cx="1332.9" cy="253.5" r="2.7"/><circle cx="1332.9" cy="313.3" r="2.7"/><circle cx="1331.6" cy="256.6" r="2.7"/><circle cx="1331.5" cy="323.4" r="2.7"/><circle cx="1334.6" cy="262.7" r="2.7"/><circle cx="1334.6" cy="314.6" r="2.7"/><circle cx="1334.4" cy="264.5" r="2.7"/><circle cx="1334.5" cy="321.6" r="2.7"/><circle cx="1336.2" cy="251.8" r="2.7"/><circle cx="1336.7" cy="328.1" r="2.7"/><circle cx="1335.6" cy="254.7" r="2.7"/><circle cx="1335.2" cy="316.5" r="2.7"/><circle cx="1338.5" cy="261.7" r="2.7"/><circle cx="1338.5" cy="333.1" r="2.7"/><circle cx="1338.8" cy="254.9" r="2.7"/><circle cx="1337.9" cy="327.8" r="2.7"/><circle cx="1339.2" cy="261.7" r="2.7"/><circle cx="1339.2" cy="326.9" r="2.7"/><circle cx="1339.2" cy="251" r="2.7"/><circle cx="1339.9" cy="325.1" r="2.7"/><circle cx="1341.5" cy="257.6" r="2.7"/><circle cx="1342.3" cy="330.3" r="2.7"/><circle cx="1342" cy="249.5" r="2.7"/><circle cx="1341.4" cy="330.5" r="2.7"/><circle cx="1343.6" cy="257.1" r="2.7"/><circle cx="1344.8" cy="333.9" r="2.7"/><circle cx="1345" cy="262.7" r="2.7"/><circle cx="1344.1" cy="333.2" r="2.7"/><circle cx="1346.5" cy="260.8" r="2.7"/><circle cx="1346.7" cy="330.8" r="2.7"/><circle cx="1346.9" cy="254" r="2.7"/><circle cx="1345.2" cy="330.6" r="2.7"/><circle cx="1347.3" cy="260.8" r="2.7"/><circle cx="1347.1" cy="328.8" r="2.7"/><circle cx="1348.1" cy="265.7" r="2.7"/><circle cx="1347.3" cy="327.6" r="2.7"/><circle cx="1349.8" cy="260.3" r="2.7"/><circle cx="1350.6" cy="339.8" r="2.7"/><circle cx="1350" cy="253.5" r="2.7"/><circle cx="1350.7" cy="341" r="2.7"/><circle cx="1351.1" cy="265.9" r="2.7"/><circle cx="1351.9" cy="340.9" r="2.7"/><circle cx="1352.5" cy="262.5" r="2.7"/><circle cx="1352.9" cy="342.5" r="2.7"/><circle cx="1353.3" cy="255.1" r="2.7"/><circle cx="1353.2" cy="337.5" r="2.7"/><circle cx="1354" cy="255.1" r="2.7"/><circle cx="1353.3" cy="345.1" r="2.7"/><circle cx="1355.9" cy="266.7" r="2.7"/><circle cx="1355.5" cy="341.8" r="2.7"/><circle cx="1355.4" cy="266.3" r="2.7"/><circle cx="1356.2" cy="339.3" r="2.7"/><circle cx="1358.5" cy="267.6" r="2.7"/><circle cx="1358.1" cy="349.6" r="2.7"/><circle cx="1357.9" cy="265.1" r="2.7"/><circle cx="1358.8" cy="356" r="2.7"/><circle cx="1360.4" cy="265.4" r="2.7"/><circle cx="1359.5" cy="351.3" r="2.7"/><circle cx="1360.6" cy="259.5" r="2.7"/><circle cx="1360.8" cy="346.9" r="2.7"/><circle cx="1362.4" cy="258.7" r="2.7"/><circle cx="1361.8" cy="357.1" r="2.7"/><circle cx="1361.3" cy="258.8" r="2.7"/><circle cx="1362" cy="358.4" r="2.7"/><circle cx="1363.7" cy="260.9" r="2.7"/><circle cx="1364.5" cy="362.4" r="2.7"/><circle cx="1363.3" cy="265.2" r="2.7"/><circle cx="1363.7" cy="356.3" r="2.7"/><circle cx="1367" cy="272.3" r="2.7"/><circle cx="1366.2" cy="375.2" r="2.7"/><circle cx="1365.8" cy="272.5" r="2.7"/><circle cx="1365.6" cy="370.5" r="2.7"/><circle cx="1367.4" cy="258.5" r="2.7"/><circle cx="1367.6" cy="381.8" r="2.7"/><circle cx="1368.1" cy="265.1" r="2.7"/><circle cx="1368.4" cy="369.4" r="2.7"/><circle cx="1370.9" cy="259.7" r="2.7"/><circle cx="1370.1" cy="380.5" r="2.7"/><circle cx="1370.3" cy="268" r="2.7"/><circle cx="1370.2" cy="384.6" r="2.7"/><circle cx="1372.9" cy="259.7" r="2.7"/><circle cx="1372.9" cy="385.8" r="2.7"/><circle cx="1371" cy="257.9" r="2.7"/><circle cx="1371.4" cy="381.9" r="2.7"/><circle cx="1373.2" cy="265.4" r="2.7"/><circle cx="1374.3" cy="371.8" r="2.7"/><circle cx="1374.9" cy="268.3" r="2.7"/><circle cx="1374.4" cy="368.5" r="2.7"/><circle cx="1375" cy="270.9" r="2.7"/><circle cx="1375.9" cy="378.4" r="2.7"/><circle cx="1375.6" cy="276" r="2.7"/><circle cx="1375" cy="372.9" r="2.7"/><circle cx="1378.8" cy="267.1" r="2.7"/><circle cx="1378.6" cy="370" r="2.7"/><circle cx="1377.4" cy="263.7" r="2.7"/><circle cx="1378.7" cy="375.2" r="2.7"/><circle cx="1380.9" cy="264.1" r="2.7"/><circle cx="1380.8" cy="369.1" r="2.7"/><circle cx="1379.6" cy="268.6" r="2.7"/><circle cx="1379.8" cy="357.5" r="2.7"/><circle cx="1381.1" cy="270.6" r="2.7"/><circle cx="1383" cy="352.4" r="2.7"/><circle cx="1382.5" cy="263.1" r="2.7"/><circle cx="1381.3" cy="361.1" r="2.7"/><circle cx="1384.3" cy="256.2" r="2.7"/><circle cx="1385" cy="342.8" r="2.7"/><circle cx="1384.2" cy="267.3" r="2.7"/><circle cx="1383.3" cy="348.7" r="2.7"/><circle cx="1386.1" cy="244.2" r="2.7"/><circle cx="1386.8" cy="347.1" r="2.7"/><circle cx="1385.3" cy="237.4" r="2.7"/><circle cx="1385.3" cy="349.1" r="2.7"/><circle cx="1388.6" cy="224.2" r="2.7"/><circle cx="1388" cy="343.1" r="2.7"/><circle cx="1388.1" cy="224" r="2.7"/><circle cx="1388.1" cy="340.4" r="2.7"/><circle cx="1389.1" cy="218.2" r="2.7"/><circle cx="1389.5" cy="337.8" r="2.7"/><circle cx="1389.5" cy="227.2" r="2.7"/><circle cx="1389.5" cy="331" r="2.7"/><circle cx="1392" cy="218.5" r="2.7"/><circle cx="1391.7" cy="335.7" r="2.7"/><circle cx="1391.4" cy="227.3" r="2.7"/><circle cx="1392.7" cy="331.4" r="2.7"/><circle cx="1394" cy="222.1" r="2.7"/><circle cx="1394.2" cy="329" r="2.7"/><circle cx="1393.1" cy="219.1" r="2.7"/><circle cx="1393.7" cy="341" r="2.7"/><circle cx="1396.3" cy="218.5" r="2.7"/><circle cx="1395.6" cy="340.3" r="2.7"/><circle cx="1396.9" cy="223" r="2.7"/><circle cx="1395.3" cy="342.3" r="2.7"/><circle cx="1397.6" cy="215.3" r="2.7"/><circle cx="1398.4" cy="326.8" r="2.7"/><circle cx="1397.3" cy="216.8" r="2.7"/><circle cx="1397.2" cy="338.7" r="2.7"/><circle cx="1400.3" cy="218.9" r="2.7"/><circle cx="1400.3" cy="333.1" r="2.7"/><circle cx="1400" cy="208.3" r="2.7"/><circle cx="1399.2" cy="331.4" r="2.7"/><circle cx="1402.4" cy="220.4" r="2.7"/><circle cx="1401.3" cy="326.5" r="2.7"/><circle cx="1401.9" cy="219.1" r="2.7"/><circle cx="1401.2" cy="324.1" r="2.7"/><circle cx="1403" cy="227.1" r="2.7"/><circle cx="1403.8" cy="327.5" r="2.7"/><circle cx="1403.2" cy="216.3" r="2.7"/><circle cx="1405" cy="321.1" r="2.7"/><circle cx="1405.5" cy="216.6" r="2.7"/><circle cx="1405.4" cy="315.9" r="2.7"/><circle cx="1406.4" cy="217.4" r="2.7"/><circle cx="1405.3" cy="319.7" r="2.7"/><circle cx="1408.1" cy="213.4" r="2.7"/><circle cx="1408.8" cy="304" r="2.7"/><circle cx="1408" cy="213.6" r="2.7"/><circle cx="1407.4" cy="313.4" r="2.7"/><circle cx="1410" cy="221.6" r="2.7"/><circle cx="1409.6" cy="300.3" r="2.7"/><circle cx="1410.6" cy="226.7" r="2.7"/><circle cx="1409.3" cy="306.1" r="2.7"/><circle cx="1411.3" cy="219.6" r="2.7"/><circle cx="1412.4" cy="295.1" r="2.7"/><circle cx="1413" cy="221" r="2.7"/><circle cx="1412.4" cy="302.7" r="2.7"/><circle cx="1413.2" cy="221.5" r="2.7"/><circle cx="1413.1" cy="300.5" r="2.7"/><circle cx="1414.4" cy="217.6" r="2.7"/><circle cx="1414.4" cy="300.2" r="2.7"/><circle cx="1416.4" cy="211" r="2.7"/><circle cx="1417" cy="301" r="2.7"/><circle cx="1415" cy="211.9" r="2.7"/><circle cx="1416.5" cy="302.5" r="2.7"/><circle cx="1418.3" cy="226.8" r="2.7"/><circle cx="1418.7" cy="312.6" r="2.7"/><circle cx="1417.2" cy="223.9" r="2.7"/><circle cx="1418.3" cy="310.3" r="2.7"/><circle cx="1419.1" cy="223.2" r="2.7"/><circle cx="1420.7" cy="321.1" r="2.7"/><circle cx="1419.6" cy="237.1" r="2.7"/><circle cx="1420.6" cy="311.8" r="2.7"/><circle cx="1422.2" cy="231.8" r="2.7"/><circle cx="1422.3" cy="307.5" r="2.7"/><circle cx="1422.1" cy="233.6" r="2.7"/><circle cx="1422" cy="319.8" r="2.7"/><circle cx="1423.7" cy="222.6" r="2.7"/><circle cx="1424" cy="314.9" r="2.7"/><circle cx="1423.4" cy="224.2" r="2.7"/><circle cx="1424" cy="316" r="2.7"/><circle cx="1425.8" cy="209.9" r="2.7"/><circle cx="1425.4" cy="303" r="2.7"/><circle cx="1425.6" cy="210.3" r="2.7"/><circle cx="1426.4" cy="301.1" r="2.7"/><circle cx="1428" cy="201.6" r="2.7"/><circle cx="1428.9" cy="301.3" r="2.7"/><circle cx="1427.8" cy="197" r="2.7"/><circle cx="1427.8" cy="300.9" r="2.7"/><circle cx="1430.6" cy="196.3" r="2.7"/><circle cx="1430.5" cy="294.4" r="2.7"/><circle cx="1429.9" cy="189.4" r="2.7"/><circle cx="1429.6" cy="296.1" r="2.7"/><circle cx="1432.5" cy="186.9" r="2.7"/><circle cx="1431.4" cy="286.3" r="2.7"/><circle cx="1432.6" cy="185.6" r="2.7"/><circle cx="1432.4" cy="287.7" r="2.7"/><circle cx="1434.4" cy="187.7" r="2.7"/><circle cx="1433.1" cy="291" r="2.7"/><circle cx="1433.1" cy="183.7" r="2.7"/><circle cx="1434" cy="279.6" r="2.7"/><circle cx="1436.9" cy="185.8" r="2.7"/><circle cx="1435.5" cy="282.9" r="2.7"/><circle cx="1435.2" cy="180.9" r="2.7"/><circle cx="1436.5" cy="283.1" r="2.7"/><circle cx="1437.7" cy="181.6" r="2.7"/><circle cx="1438" cy="291.1" r="2.7"/><circle cx="1438.8" cy="185.3" r="2.7"/><circle cx="1438.7" cy="282" r="2.7"/><circle cx="1439.8" cy="192.5" r="2.7"/><circle cx="1440.9" cy="305.9" r="2.7"/><circle cx="1439.3" cy="189.6" r="2.7"/><circle cx="1440.8" cy="306.2" r="2.7"/><circle cx="1441.7" cy="222.5" r="2.7"/><circle cx="1442.8" cy="327.7" r="2.7"/><circle cx="1441.4" cy="215.3" r="2.7"/><circle cx="1441.7" cy="329.3" r="2.7"/><circle cx="1444.8" cy="228.9" r="2.7"/><circle cx="1443.8" cy="355.3" r="2.7"/><circle cx="1443.5" cy="234.6" r="2.7"/><circle cx="1443.8" cy="359" r="2.7"/><circle cx="1445" cy="241.9" r="2.7"/><circle cx="1446.5" cy="366.7" r="2.7"/><circle cx="1446.4" cy="241.4" r="2.7"/><circle cx="1445.4" cy="363" r="2.7"/><circle cx="1448.3" cy="244.2" r="2.7"/><circle cx="1447.6" cy="370.9" r="2.7"/><circle cx="1448.7" cy="245.3" r="2.7"/><circle cx="1447.5" cy="365.3" r="2.7"/><circle cx="1450.1" cy="248.7" r="2.7"/><circle cx="1449.1" cy="376.3" r="2.7"/><circle cx="1450.3" cy="245" r="2.7"/><circle cx="1450" cy="372.3" r="2.7"/><circle cx="1451.4" cy="240.2" r="2.7"/><circle cx="1451.8" cy="373.9" r="2.7"/><circle cx="1452.8" cy="242.5" r="2.7"/><circle cx="1453" cy="375.6" r="2.7"/><circle cx="1454.7" cy="241.1" r="2.7"/><circle cx="1454.2" cy="373.3" r="2.7"/><circle cx="1453.1" cy="242.6" r="2.7"/><circle cx="1454.6" cy="365.1" r="2.7"/><circle cx="1456.6" cy="244.4" r="2.7"/><circle cx="1457" cy="370.5" r="2.7"/><circle cx="1455.8" cy="242.8" r="2.7"/><circle cx="1456.2" cy="373.5" r="2.7"/><circle cx="1458.7" cy="254.1" r="2.7"/><circle cx="1457.8" cy="368.2" r="2.7"/><circle cx="1457.2" cy="254.5" r="2.7"/><circle cx="1458.5" cy="371.9" r="2.7"/><circle cx="1461" cy="249.5" r="2.7"/><circle cx="1459.9" cy="370.7" r="2.7"/><circle cx="1459" cy="246.9" r="2.7"/><circle cx="1459.2" cy="370.7" r="2.7"/>
<circle cx="159.4" cy="230.5" r="2.7"/>
<circle cx="198.9" cy="471" r="2.7"/>
<circle cx="206.8" cy="264.1" r="2.7"/>
<circle cx="213.7" cy="226.5" r="2.7"/>
<circle cx="256.5" cy="167.6" r="2.7"/>
<circle cx="282.6" cy="161.7" r="2.7"/>
<circle cx="314.9" cy="214.7" r="2.7"/>
<circle cx="314.5" cy="332.5" r="2.7"/>
<circle cx="326.3" cy="239.6" r="2.7"/>
<circle cx="331.5" cy="358.3" r="2.7"/>
<circle cx="343.7" cy="329.5" r="2.7"/>
<circle cx="350.5" cy="190.3" r="2.7"/>
<circle cx="376.3" cy="406.1" r="2.7"/>
<circle cx="387.9" cy="242.5" r="2.7"/>
<circle cx="400.9" cy="219.8" r="2.7"/>
<circle cx="421.9" cy="222.8" r="2.7"/>
<circle cx="433.9" cy="420.4" r="2.7"/>
<circle cx="438.8" cy="399.5" r="2.7"/>
<circle cx="441.8" cy="289.8" r="2.7"/>
<circle cx="443.3" cy="276.3" r="2.7"/>
<circle cx="454.5" cy="304.5" r="2.7"/>
<circle cx="460.4" cy="306.7" r="2.7"/>
<circle cx="509.4" cy="251.5" r="2.7"/>
<circle cx="555.9" cy="264.9" r="2.7"/>
<circle cx="558.7" cy="195.2" r="2.7"/>
<circle cx="558.9" cy="255.6" r="2.7"/>
<circle cx="559.2" cy="252.4" r="2.7"/>
<circle cx="572.4" cy="200.2" r="2.7"/>
<circle cx="624" cy="264.6" r="2.7"/>
<circle cx="639.2" cy="342.7" r="2.7"/>
<circle cx="647.8" cy="343.5" r="2.7"/>
<circle cx="650.1" cy="341.6" r="2.7"/>
<circle cx="662.8" cy="281" r="2.7"/>
<circle cx="679.9" cy="227.7" r="2.7"/>
<circle cx="689.6" cy="104.3" r="2.7"/>
<circle cx="690.6" cy="204.9" r="2.7"/>
<circle cx="713.5" cy="136.4" r="2.7"/>
<circle cx="719.7" cy="241" r="2.7"/>
<circle cx="736.7" cy="133.1" r="2.7"/>
<circle cx="783.7" cy="165.7" r="2.7"/>
<circle cx="840.7" cy="277.5" r="2.7"/>
<circle cx="862" cy="156.1" r="2.7"/>
<circle cx="879.3" cy="178.9" r="2.7"/>
<circle cx="887.1" cy="153.1" r="2.7"/>
<circle cx="894.1" cy="148.1" r="2.7"/>
<circle cx="896" cy="156.8" r="2.7"/>
<circle cx="921.9" cy="180.2" r="2.7"/>
<circle cx="936.8" cy="291.2" r="2.7"/>
<circle cx="946.5" cy="260.3" r="2.7"/>
<circle cx="947.5" cy="253.7" r="2.7"/>
<circle cx="983.7" cy="175.6" r="2.7"/>
<circle cx="988.7" cy="159.1" r="2.7"/>
<circle cx="988.8" cy="296" r="2.7"/>
<circle cx="1014.4" cy="205.5" r="2.7"/>
<circle cx="1025.5" cy="193.2" r="2.7"/>
<circle cx="1062.9" cy="177.3" r="2.7"/>
<circle cx="1068" cy="210.6" r="2.7"/>
<circle cx="1078.8" cy="343" r="2.7"/>
<circle cx="1082.8" cy="308.4" r="2.7"/>
<circle cx="1083.3" cy="175.8" r="2.7"/>
<circle cx="1093.8" cy="191.6" r="2.7"/>
<circle cx="1100.4" cy="213.2" r="2.7"/>
<circle cx="1117.7" cy="189.3" r="2.7"/>
<circle cx="1120.8" cy="298.9" r="2.7"/>
<circle cx="1164.4" cy="205.8" r="2.7"/>
<circle cx="1168.7" cy="334.4" r="2.7"/>
<circle cx="1172.8" cy="329.2" r="2.7"/>
<circle cx="1190.5" cy="204.6" r="2.7"/>
<circle cx="1221.2" cy="220.2" r="2.7"/>
<circle cx="1266.4" cy="314.2" r="2.7"/>
<circle cx="1267.5" cy="190.9" r="2.7"/>
<circle cx="1281.3" cy="198.1" r="2.7"/>
<circle cx="1291" cy="331.6" r="2.7"/>
<circle cx="1308.2" cy="242.5" r="2.7"/>
<circle cx="1328.7" cy="244.4" r="2.7"/>
<circle cx="1402.6" cy="339" r="2.7"/>
<circle cx="1415" cy="306.6" r="2.7"/>
<circle cx="1444.8" cy="216.3" r="2.7"/>
<circle cx="1453.2" cy="236.8" r="2.7"/>
<circle cx="126" cy="353" r="2.7"/>
<circle cx="126" cy="363" r="2.7"/>
<circle cx="152" cy="398" r="2.7"/>
<circle cx="153" cy="405" r="2.7"/>
<circle cx="163" cy="405" r="2.7"/>
<circle cx="168" cy="415" r="2.7"/>
<circle cx="174" cy="222" r="2.7"/>
<circle cx="174" cy="230" r="2.7"/>
<circle cx="189" cy="296" r="2.7"/>
<circle cx="201" cy="290" r="2.7"/>
<circle cx="218" cy="352" r="2.7"/>
<circle cx="210" cy="409" r="2.7"/>
<circle cx="181" cy="405" r="2.7"/>
<circle cx="195" cy="455" r="2.7"/>
<circle cx="196" cy="460" r="2.7"/>
<circle cx="198" cy="462" r="2.7"/>
<circle cx="252" cy="159" r="2.7"/>
<circle cx="252" cy="167" r="2.7"/>
<circle cx="250" cy="122" r="2.7"/>
<circle cx="250" cy="129" r="2.7"/>
<circle cx="282" cy="161" r="2.7"/>
<circle cx="320" cy="230" r="2.7"/>
<circle cx="355" cy="163" r="2.7"/>
<circle cx="369" cy="236" r="2.7"/>
<circle cx="352" cy="270" r="2.7"/>
<circle cx="355" cy="340" r="2.7"/>
<circle cx="357" cy="375" r="2.7"/>
<circle cx="358" cy="379" r="2.7"/>
<circle cx="289" cy="408" r="2.7"/>
<circle cx="289" cy="414" r="2.7"/>
<circle cx="325" cy="395" r="2.7"/>
<circle cx="339" cy="388" r="2.7"/>
<circle cx="357" cy="394" r="2.7"/>
<circle cx="357" cy="404" r="2.7"/>
<circle cx="390" cy="443" r="2.7"/>
<circle cx="367" cy="412" r="2.7"/>
<circle cx="371" cy="390" r="2.7"/>
<circle cx="272" cy="426" r="2.7"/>
<circle cx="402" cy="206" r="2.7"/>
<circle cx="427" cy="240" r="2.7"/>
<circle cx="468" cy="177" r="2.7"/>
<circle cx="468" cy="182" r="2.7"/>
<circle cx="461" cy="191" r="2.7"/>
<circle cx="467" cy="193" r="2.7"/>
<circle cx="476" cy="195" r="2.7"/>
<circle cx="477" cy="222" r="2.7"/>
<circle cx="478" cy="238" r="2.7"/>
<circle cx="505" cy="236" r="2.7"/>
<circle cx="391" cy="420" r="2.7"/>
<circle cx="422" cy="395" r="2.7"/>
<circle cx="421" cy="415" r="2.7"/>
<circle cx="421" cy="425" r="2.7"/>
<circle cx="447" cy="421" r="2.7"/>
<circle cx="447" cy="431" r="2.7"/>
<circle cx="474" cy="434" r="2.7"/>
<circle cx="487" cy="416" r="2.7"/>
<circle cx="504" cy="433" r="2.7"/>
<circle cx="509" cy="432" r="2.7"/>
<circle cx="510" cy="447" r="2.7"/>
<circle cx="509" cy="458" r="2.7"/>
<circle cx="516" cy="427" r="2.7"/>
<circle cx="403" cy="403" r="2.7"/>
<circle cx="509" cy="494" r="2.7"/>
<circle cx="572" cy="166" r="2.7"/>
<circle cx="572" cy="175" r="2.7"/>
<circle cx="571" cy="197" r="2.7"/>
<circle cx="552" cy="283" r="2.7"/>
<circle cx="552" cy="290" r="2.7"/>
<circle cx="578" cy="290" r="2.7"/>
<circle cx="580" cy="300" r="2.7"/>
<circle cx="589" cy="312" r="2.7"/>
<circle cx="589" cy="330" r="2.7"/>
<circle cx="597" cy="327" r="2.7"/>
<circle cx="605" cy="320" r="2.7"/>
<circle cx="606" cy="313" r="2.7"/>
<circle cx="611" cy="306" r="2.7"/>
<circle cx="612" cy="312" r="2.7"/>
<circle cx="612" cy="325" r="2.7"/>
<circle cx="632" cy="243" r="2.7"/>
<circle cx="632" cy="252" r="2.7"/>
<circle cx="632" cy="262" r="2.7"/>
<circle cx="648" cy="354" r="2.7"/>
<circle cx="647" cy="370" r="2.7"/>
<circle cx="648" cy="385" r="2.7"/>
<circle cx="590" cy="346" r="2.7"/>
<circle cx="572" cy="296" r="2.7"/>
<circle cx="739" cy="60" r="2.7"/>
<circle cx="739" cy="66" r="2.7"/>
<circle cx="739" cy="70" r="2.7"/>
<circle cx="739" cy="76" r="2.7"/>
<circle cx="740" cy="100" r="2.7"/>
<circle cx="740" cy="109" r="2.7"/>
<circle cx="748" cy="107" r="2.7"/>
<circle cx="690" cy="107" r="2.7"/>
<circle cx="708" cy="108" r="2.7"/>
<circle cx="740" cy="115" r="2.7"/>
<circle cx="746" cy="122" r="2.7"/>
<circle cx="748" cy="128" r="2.7"/>
<circle cx="751" cy="130" r="2.7"/>
<circle cx="758" cy="133" r="2.7"/>
<circle cx="670" cy="138" r="2.7"/>
<circle cx="680" cy="138" r="2.7"/>
<circle cx="733" cy="124" r="2.7"/>
<circle cx="730" cy="130" r="2.7"/>
<circle cx="683" cy="196" r="2.7"/>
<circle cx="683" cy="215" r="2.7"/>
<circle cx="692" cy="230" r="2.7"/>
<circle cx="692" cy="236" r="2.7"/>
<circle cx="707" cy="236" r="2.7"/>
<circle cx="707" cy="243" r="2.7"/>
<circle cx="710" cy="248" r="2.7"/>
<circle cx="712" cy="243" r="2.7"/>
<circle cx="718" cy="248" r="2.7"/>
<circle cx="722" cy="250" r="2.7"/>
<circle cx="730" cy="232" r="2.7"/>
<circle cx="739" cy="262" r="2.7"/>
<circle cx="739" cy="275" r="2.7"/>
<circle cx="739" cy="280" r="2.7"/>
<circle cx="747" cy="268" r="2.7"/>
<circle cx="777" cy="275" r="2.7"/>
<circle cx="783" cy="272" r="2.7"/>
<circle cx="656" cy="258" r="2.7"/>
<circle cx="655" cy="252" r="2.7"/>
<circle cx="667" cy="278" r="2.7"/>
<circle cx="661" cy="281" r="2.7"/>
<circle cx="788" cy="148" r="2.7"/>
<circle cx="782" cy="167" r="2.7"/>
<circle cx="679" cy="190" r="2.7"/>
<circle cx="681" cy="216" r="2.7"/>
<circle cx="889" cy="288" r="2.7"/>
<circle cx="807" cy="276" r="2.7"/>
<circle cx="798" cy="135" r="2.7"/>
<circle cx="803" cy="137" r="2.7"/>
<circle cx="830" cy="155" r="2.7"/>
<circle cx="841" cy="153" r="2.7"/>
<circle cx="841" cy="161" r="2.7"/>
<circle cx="861" cy="152" r="2.7"/>
<circle cx="869" cy="163" r="2.7"/>
<circle cx="893" cy="153" r="2.7"/>
<circle cx="904" cy="152" r="2.7"/>
<circle cx="924" cy="172" r="2.7"/>
<circle cx="952" cy="90" r="2.7"/>
<circle cx="952" cy="100" r="2.7"/>
<circle cx="951" cy="113" r="2.7"/>
<circle cx="961" cy="108" r="2.7"/>
<circle cx="963" cy="115" r="2.7"/>
<circle cx="962" cy="125" r="2.7"/>
<circle cx="987" cy="158" r="2.7"/>
<circle cx="990" cy="164" r="2.7"/>
<circle cx="999" cy="176" r="2.7"/>
<circle cx="1030" cy="186" r="2.7"/>
<circle cx="1030" cy="195" r="2.7"/>
<circle cx="1030" cy="205" r="2.7"/>
<circle cx="1037" cy="189" r="2.7"/>
<circle cx="1043" cy="196" r="2.7"/>
<circle cx="925" cy="170" r="2.7"/>
<circle cx="958" cy="260" r="2.7"/>
<circle cx="956" cy="258" r="2.7"/>
<circle cx="937" cy="305" r="2.7"/>
<circle cx="935" cy="292" r="2.7"/>
<circle cx="935" cy="319" r="2.7"/>
<circle cx="1008" cy="320" r="2.7"/>
<circle cx="1010" cy="323" r="2.7"/>
<circle cx="1011" cy="331" r="2.7"/>
<circle cx="1009" cy="337" r="2.7"/>
<circle cx="1020" cy="337" r="2.7"/>
<circle cx="1024" cy="330" r="2.7"/>
<circle cx="1025" cy="334" r="2.7"/>
<circle cx="1043" cy="311" r="2.7"/>
<circle cx="1057" cy="167" r="2.7"/>
<circle cx="1089" cy="170" r="2.7"/>
<circle cx="1098" cy="165" r="2.7"/>
<circle cx="1117" cy="185" r="2.7"/>
<circle cx="1145" cy="155" r="2.7"/>
<circle cx="1145" cy="162" r="2.7"/>
<circle cx="1160" cy="157" r="2.7"/>
<circle cx="1160" cy="162" r="2.7"/>
<circle cx="1173" cy="203" r="2.7"/>
<circle cx="1087" cy="345" r="2.7"/>
<circle cx="1075" cy="339" r="2.7"/>
<circle cx="1090" cy="340" r="2.7"/>
<circle cx="1097" cy="364" r="2.7"/>
<circle cx="1100" cy="370" r="2.7"/>
<circle cx="1103" cy="378" r="2.7"/>
<circle cx="1134" cy="328" r="2.7"/>
<circle cx="1133" cy="335" r="2.7"/>
<circle cx="1146" cy="342" r="2.7"/>
<circle cx="1146" cy="350" r="2.7"/>
<circle cx="1165" cy="355" r="2.7"/>
<circle cx="1173" cy="350" r="2.7"/>
<circle cx="1178" cy="340" r="2.7"/>
<circle cx="1200" cy="174" r="2.7"/>
<circle cx="1267" cy="184" r="2.7"/>
<circle cx="1279" cy="184" r="2.7"/>
<circle cx="1325" cy="232" r="2.7"/>
<circle cx="1192" cy="300" r="2.7"/>
<circle cx="1204" cy="297" r="2.7"/>
<circle cx="1212" cy="327" r="2.7"/>
<circle cx="1213" cy="320" r="2.7"/>
<circle cx="1201" cy="333" r="2.7"/>
<circle cx="1288" cy="333" r="2.7"/>
<circle cx="1240" cy="373" r="2.7"/>
<circle cx="1249" cy="372" r="2.7"/>
<circle cx="1302" cy="362" r="2.7"/>
<circle cx="1310" cy="415" r="2.7"/>
<circle cx="1400" cy="144" r="2.7"/>
<circle cx="1400" cy="157" r="2.7"/>
<circle cx="1400" cy="183" r="2.7"/>
<circle cx="1390" cy="190" r="2.7"/>
<circle cx="1390" cy="198" r="2.7"/>
<circle cx="1405" cy="195" r="2.7"/>
<circle cx="1417" cy="206" r="2.7"/>
<circle cx="1430" cy="178" r="2.7"/>
<circle cx="1338" cy="235" r="2.7"/>
<circle cx="1412" cy="330" r="2.7"/>
<circle cx="1421" cy="333" r="2.7"/>
<circle cx="1347" cy="394" r="2.7"/>
<circle cx="1369" cy="395" r="2.7"/>
<circle cx="1377" cy="386" r="2.7"/>
<circle cx="1448" cy="395" r="2.7"/>
<circle cx="1448" cy="403" r="2.7"/>
<circle cx="1458" cy="393" r="2.7"/>
<circle cx="1459" cy="380" r="2.7"/>
</g>
<polyline points="116,288 118,298.2 120,316 122,309.2 124,296 126,294.4 128,298 130,315.3 132,324 134,325.2 136,334 138.5,338.2 141,329 143,307.8 145,298 147,305.5 149,303 151,307.6 153,324 155,322.5 157,316 159,317.3 161,324 163,337.8 165,344 167,341.3 169,344 170.5,327.7 172,303 174,302.6 176,316 178,329.7 180,331 182.5,336.5 185,354 187,372.6 189,385 191,374.3 193,370 195,359.2 197,344 199,348.6 201,360 203,359.4 205,354 207,321.3 209,298 211,294.1 213,283 215,262.1 217,252 219,259.3 221,257 223.5,254.5 226,262 228,255.6 230,242 232,254.5 234,278 236,290.9 238,293 240,277.4 242,273 244,274.3 246,267 248,253.6 250,249 252,246.5 254,237 255,229.7 256,227 258,247.8 260,260 262,271.6 264,293 266,314 268,329 270.5,339.2 273,362 274.5,344.4 276,314 277.5,264.2 279,227 281,225.1 283,211 285,265.5 287,329 289,319.5 291,304 293,321.1 295,345 297,332.7 299,309 301,299.8 303,304 305,311.3 307,314 309,296.9 311,283 313.5,276.6 316,263 318,251.2 320,247 322,280.5 324,304 325.5,318.8 327,339 329,322 331,293 333,287.3 335,288 337,312 339,324 341,299.9 343,283 345,278.8 347,268 349,252 351,242 353,256.3 355,257 357.5,240.5 360,234 362,249.1 364,252 366,252.1 368,257 370,269.8 372,273 374,290.3 376,319 378,318.4 380,304 382,292.8 384,295 386,296.6 388,293 390,304.6 392,324 394,323 396,308 398,280.3 400,262 402,265.3 404,255 406.5,263.2 409,278 411,287.7 413,293 415,276.3 417,273 419,288.9 421,298 423,290.7 425,293 427,301.9 429,303 431,311.1 433,329 435,342 437,342 439,339.3 441,349 443,340.4 445,319 447.5,292.6 450,273 452,269.6 454,255 456,249.3 458,247 460,246.4 462,239 464,234.5 466,242 468,254.9 470,262 472,271.7 474,288 476,308 478,319 480,346.7 482,380 484,374.3 486,360 488,345.8 490,339 492.5,336 495,329 497,299.4 499,283 501,277.5 503,267 505,279.5 507,303 509,314.8 511,319 513,326.2 515,339 516.5,334 518,324 520,301.5 522,293 524,287.4 526,273 528,275.9 530,283 532,288.6 534,288 536,271.2 538,262 540.5,260.5 543,252 545,244.7 547,242 548,236.2 549,227 551,241.9 553,262 555,248 557,227 559,213.8 561,206 563,216.3 565,221 567,225.7 569,237 571,235.2 573,229 575,235.2 577,247 579,258.1 581,262 583.5,248.5 586,239 588,257.6 590,267 592,248.8 594,234 596,244 598,247 600,233.7 602,227 604,236.2 606,242 608,246 610,257 612,267.1 614,273 616,263.3 618,257 620,270.1 622,278 624.5,302.2 627,334 628,345.3 629,349 631,329.7 633,314 635,315.8 637,314 639,295 641,283 643,290.3 645,293 647,279.6 649,273 651,262.6 653,240 654.5,220.7 656,214 658,214.3 660,203 662,208.1 664,219 666,210.6 668,198 670,184.9 672,183 674.5,182.1 677,173 679,162.3 681,157 683,158.4 685,157 687,151.6 689,152 691,147.2 693,137 695,128.3 697,129 699,147.4 701,152 703,151.6 705,157 707,167 709,173 711,169.7 713,175 715.5,185.9 718,193 720,185.4 722,183 724,183 726,175 728,168.5 730,175 732,187.3 734,193 736,191.4 738,196 740,202.2 742,201 744,194.6 746,193 748,191.5 750,183 752,178 754,183 756,194 758,198 760.5,192.6 763,198 765,204.5 767,206 769,208.1 771,214 773,220.4 775,219 777,215.6 779,219 781,219.3 783,209 784.5,205.8 786,207 788,222.1 790,228 792,225.6 794,233 796,217.4 798,194 800,190.3 802,192 804,210.1 806,218 808.5,199.2 811,192 813,214.4 815,228 817,208.1 819,197 821,224.5 823,241 825,225.2 827,218 829,226.2 831,228 833,227.8 835,233 837,231.5 839,223 841,226.6 843,238 845,235.8 847,223 849.5,222.3 852,233 854,240.8 856,241 858,226.3 860,218 862,228.3 864,233 866,218.5 868,212 870,220.3 872,220 874,224 876,233 878,234.6 880,228 882,231.9 884,246 886,235.3 888,218 890,214.3 892,223 894.5,224.4 897,218 899,210.3 901,212 903,214.6 905,205 907,211.2 909,223 911,238.7 913,248 915,254.1 917,274 918,294.4 919,310 920,285.9 921,269 922.5,252.9 924,228 926,225.3 928,234 930,238.6 932,234 934,241.2 936,259 938,250.8 940,234 942.5,229.2 945,228 947,207.4 949,182 951,173.7 953,170 955,183.2 957,188 959,185.8 961,188 963,196.2 965,195 967,203.8 969,223 971,228.4 973,228 975,230.6 977,244 979,252.6 981,254 983.5,254.7 986,269 988,244.9 990,213 992,213.7 994,223 996,228.9 998,228 1000,228.3 1002,234 1004,243.6 1006,244 1008,250 1010,259 1012,257.4 1014,251 1016,245.5 1018,246 1020,252.9 1022,249 1024,240 1026,239 1028.5,248.6 1031,254 1033,245.8 1035,244 1037,245.9 1039,239 1041,241.7 1043,254 1045,253.8 1047,249 1049,246.2 1051,254 1052.5,237.6 1054,214 1056,209.7 1058,214 1060,223.8 1062,227 1064,236.7 1066,253 1068,263.3 1070,263 1072,262.3 1074,273 1076.5,284.8 1079,284 1081,263 1083,253 1085,244.5 1087,227 1089,235.1 1091,248 1093,252.6 1095,253 1097,256.8 1099,273 1101,293.9 1103,304 1105,291.3 1107,289 1109,281.5 1111,268 1113,254 1115,245 1117.5,248.2 1120,240 1122,242.6 1124,253 1126,258.7 1128,261 1130,259.4 1132,263 1134,263.3 1136,258 1138,253.4 1140,253 1142,256.9 1144,248 1146,243.2 1148,250 1150,251 1152,243 1154,241.4 1156,243 1158,235.9 1160,222 1162.5,245.2 1165,273 1167,275 1169,268 1171,271.6 1173,284 1175,280.9 1177,268 1179,265.5 1181,273 1183,267.7 1185,258 1186.5,252.2 1188,250 1190,245.5 1192,237 1194,231.1 1196,234 1198,232.9 1200,222 1202,236.8 1204,260 1206,255.5 1208,245 1210.5,250.5 1213,268 1215,265.3 1217,258 1219,260.9 1221,270 1223,275.7 1225,278 1227,274.3 1229,281 1231,284.9 1233,283 1235,283.3 1237,293 1239,304.1 1241,304 1243,299.2 1245,304 1247,319.2 1249,321 1251.5,306.7 1254,304 1256,297.4 1258,278 1260,261.6 1262,258 1264,255 1266,247 1268,247.8 1270,260 1272,261.8 1274,258 1276,251.6 1278,252 1280,263.7 1282,268 1284,265.7 1286,275 1288,273.3 1290,268 1292,274.8 1294,288 1296.5,291.7 1299,291 1301,295.9 1303,314 1305,308 1307,293 1309,305.5 1311,329 1312,349.1 1313,360 1314,336.1 1315,324 1317,301.7 1319,273 1320.5,276.4 1322,286 1324,289.4 1326,284 1328,285 1330,294 1332,299.3 1334,296 1336,291 1338,291 1340,290.8 1342,281 1344.5,278.1 1347,284 1349,292.7 1351,294 1353,300.7 1355,314 1357,315.7 1359,309 1361,306.7 1363,309 1365,322 1367,330 1369,326.4 1371,330 1373,330.2 1375,325 1377,322.7 1379,325 1381,332.8 1383,330 1385.5,293.3 1388,268 1390,278.1 1392,278 1394,282.9 1396,294 1398,281.6 1400,258 1402,256.9 1404,268 1406,283.4 1408,289 1410,270.8 1412,258 1414,259.4 1416,253 1418,257 1420,268 1422,273.5 1424,273 1426,265.4 1428,263 1430.5,264.1 1433,253 1435,242.8 1437,243 1438,241.7 1439,227 1441,252.6 1443,284 1445,304.9 1447,319 1448,324.9 1449,340 1451,321.9 1453,299 1455,295.4 1457,299 1459,307.7 1461,307" fill="none" stroke="#ff7f0e" stroke-width="2.08" stroke-linejoin="round"/>
</g>
<rect x="116.5" y="38.5" width="1345" height="478" fill="none" stroke="#000" stroke-width="1.1"/>
<line x1="116.5" y1="516.5" x2="116.5" y2="521.4" stroke="#000" stroke-width="1.1"/>
<line x1="284.5" y1="516.5" x2="284.5" y2="521.4" stroke="#000" stroke-width="1.1"/>
<line x1="452.5" y1="516.5" x2="452.5" y2="521.4" stroke="#000" stroke-width="1.1"/>
<line x1="620.5" y1="516.5" x2="620.5" y2="521.4" stroke="#000" stroke-width="1.1"/>
<line x1="789.5" y1="516.5" x2="789.5" y2="521.4" stroke="#000" stroke-width="1.1"/>
<line x1="957.5" y1="516.5" x2="957.5" y2="521.4" stroke="#000" stroke-width="1.1"/>
<line x1="1125.5" y1="516.5" x2="1125.5" y2="521.4" stroke="#000" stroke-width="1.1"/>
<line x1="1293.5" y1="516.5" x2="1293.5" y2="521.4" stroke="#000" stroke-width="1.1"/>
<line x1="111.6" y1="91.5" x2="116.5" y2="91.5" stroke="#000" stroke-width="1.1"/>
<line x1="111.6" y1="175.5" x2="116.5" y2="175.5" stroke="#000" stroke-width="1.1"/>
<line x1="111.6" y1="259.5" x2="116.5" y2="259.5" stroke="#000" stroke-width="1.1"/>
<line x1="111.6" y1="343.5" x2="116.5" y2="343.5" stroke="#000" stroke-width="1.1"/>
<line x1="111.6" y1="427.5" x2="116.5" y2="427.5" stroke="#000" stroke-width="1.1"/>
<line x1="111.6" y1="511.5" x2="116.5" y2="511.5" stroke="#000" stroke-width="1.1"/>
<text x="105" y="98.7" font-size="22.8" text-anchor="end" textLength="38.5" lengthAdjust="spacingAndGlyphs">1.0</text>
<text x="105" y="182.7" font-size="22.8" text-anchor="end" textLength="38.5" lengthAdjust="spacingAndGlyphs">0.5</text>
<text x="105" y="266.7" font-size="22.8" text-anchor="end" textLength="38.5" lengthAdjust="spacingAndGlyphs">0.0</text>
<text x="105" y="350.7" font-size="22.8" text-anchor="end" textLength="55" lengthAdjust="spacingAndGlyphs">−0.5</text>
<text x="105" y="434.7" font-size="22.8" text-anchor="end" textLength="55" lengthAdjust="spacingAndGlyphs">−1.0</text>
<text x="105" y="518.7" font-size="22.8" text-anchor="end" textLength="55" lengthAdjust="spacingAndGlyphs">−1.5</text>
<rect x="1046.5" y="48.8" width="406.2" height="79.5" rx="3" fill="#fff" fill-opacity="0.8" stroke="#cccccc" stroke-width="1.1"/>
<circle cx="1072.4" cy="63.4" r="2.9" fill="#1f77b4"/>
<line x1="1053" y1="102" x2="1092" y2="102" stroke="#ff7f0e" stroke-width="2.08"/>
<text x="1105.5" y="68.9" font-size="17" text-anchor="start" textLength="98.5" lengthAdjust="spacingAndGlyphs">Raw Data</text>
<text x="1105.5" y="95.7" font-size="17" text-anchor="start" textLength="269.5" lengthAdjust="spacingAndGlyphs">Butterworth Filtered Data</text>
<text x="1105.5" y="115.4" font-size="17" text-anchor="start" textLength="338.5" lengthAdjust="spacingAndGlyphs">(N=6, Tc=3.3333 min, Type: low)</text>
<text x="116.5" y="30" font-size="28.3" text-anchor="start" textLength="39" lengthAdjust="spacingAndGlyphs">(a)</text>
<g clip-path="url(#c1)">
<rect x="126" y="576.5" width="527" height="478" fill="#e7e7e7"/>
<line x1="126.5" y1="576.5" x2="126.5" y2="1054.5" stroke="#dedede" stroke-width="1"/>
<line x1="652.5" y1="576.5" x2="652.5" y2="1054.5" stroke="#dedede" stroke-width="1"/>
<line x1="116.5" y1="576.5" x2="116.5" y2="1054.5" stroke="#b8b8b8" stroke-width="1.05" stroke-dasharray="1.45,1.5"/>
<line x1="284.5" y1="576.5" x2="284.5" y2="1054.5" stroke="#b8b8b8" stroke-width="1.05" stroke-dasharray="1.45,1.5"/>
<line x1="452.5" y1="576.5" x2="452.5" y2="1054.5" stroke="#b8b8b8" stroke-width="1.05" stroke-dasharray="1.45,1.5"/>
<line x1="620.5" y1="576.5" x2="620.5" y2="1054.5" stroke="#b8b8b8" stroke-width="1.05" stroke-dasharray="1.45,1.5"/>
<line x1="789.5" y1="576.5" x2="789.5" y2="1054.5" stroke="#b8b8b8" stroke-width="1.05" stroke-dasharray="1.45,1.5"/>
<line x1="957.5" y1="576.5" x2="957.5" y2="1054.5" stroke="#b8b8b8" stroke-width="1.05" stroke-dasharray="1.45,1.5"/>
<line x1="1125.5" y1="576.5" x2="1125.5" y2="1054.5" stroke="#b8b8b8" stroke-width="1.05" stroke-dasharray="1.45,1.5"/>
<line x1="1293.5" y1="576.5" x2="1293.5" y2="1054.5" stroke="#b8b8b8" stroke-width="1.05" stroke-dasharray="1.45,1.5"/>
<line x1="116.5" y1="1033.5" x2="1461.5" y2="1033.5" stroke="#b8b8b8" stroke-width="1.05" stroke-dasharray="1.45,1.5"/>
<line x1="116.5" y1="976.5" x2="1461.5" y2="976.5" stroke="#b8b8b8" stroke-width="1.05" stroke-dasharray="1.45,1.5"/>
<line x1="116.5" y1="919.5" x2="1461.5" y2="919.5" stroke="#b8b8b8" stroke-width="1.05" stroke-dasharray="1.45,1.5"/>
<line x1="116.5" y1="862.5" x2="1461.5" y2="862.5" stroke="#b8b8b8" stroke-width="1.05" stroke-dasharray="1.45,1.5"/>
<line x1="116.5" y1="805.5" x2="1461.5" y2="805.5" stroke="#b8b8b8" stroke-width="1.05" stroke-dasharray="1.45,1.5"/>
<line x1="116.5" y1="748.5" x2="1461.5" y2="748.5" stroke="#b8b8b8" stroke-width="1.05" stroke-dasharray="1.45,1.5"/>
<line x1="116.5" y1="691.5" x2="1461.5" y2="691.5" stroke="#b8b8b8" stroke-width="1.05" stroke-dasharray="1.45,1.5"/>
<line x1="116.5" y1="634.5" x2="1461.5" y2="634.5" stroke="#b8b8b8" stroke-width="1.05" stroke-dasharray="1.45,1.5"/>
<line x1="116.5" y1="577.5" x2="1461.5" y2="577.5" stroke="#b8b8b8" stroke-width="1.05" stroke-dasharray="1.45,1.5"/>
<g fill="#1f77b4">
<path d="M116,967 L118,960.5 L120,954 L122,944 L124,934 L126,938 L128,979 L130,983 L132,987 L134,985 L136,983 L138,963.4 L140,943.8 L142,932 L144,928 L146,932 L148,944 L150,954.2 L152,962.8 L154,963.8 L156,957.2 L158,949 L160,939 L162,937 L164,943 L166,946 L168,946 L170,947 L172,949 L174,955.2 L176,965.8 L178,968 L180,962 L182,955.6 L184,948.8 L186,942 L188,938 L190,934 L192,907.5 L194,881 L196,907.5 L198,934 L200,932 L202,930 L204,911.5 L206,893 L208,893 L210,893 L212,899 L214,905 L216,905 L218,905 L220,911.5 L222,918 L224,909.6 L226,901.2 L228,902.2 L230,912.8 L232,920 L234,924 L236,928 L238,932 L240,935 L242,937 L244,932 L246,920 L248,921 L250,935 L252,938 L254,930 L256,911.5 L258,893 L260,890.5 L262,888 L264,893 L266,898 L268,889.5 L270,881 L272,877 L274,873 L276,874.5 L278,881.5 L280,885 L282,885 L284,889 L286,897 L288,894 L290,880 L292,885.2 L294,909.8 L296,923 L298,925 L300,927 L302,929 L304,927 L306,921 L308,921 L310,927 L312,924.8 L314,914.2 L316,907.4 L318,904.2 L320,901 L322,895 L324,889 L326,881 L328,873 L330,881 L332,889 L334,897 L336,905 L338,909.5 L340,914 L342,905.5 L344,897 L346,903 L348,909 L350,915.5 L352,922 L354,932 L356,942 L358,946 L360,950 L362,953.8 L364,957.2 L366,956.8 L368,952.2 L370,945 L372,935 L374,933 L376,939 L378,948.2 L380,960.8 L382,957.3 L384,938 L386,935 L388,932 L390,937.5 L392,943 L394,963.5 L396,984 L398,986.5 L400,989 L402,987.5 L404,986 L406,988 L408,990 L410,991.8 L412,993.2 L414,990.8 L416,984.2 L418,982.2 L420,984.8 L422,982.8 L424,976.2 L426,969.2 L428,961.8 L430,955.5 L432,950.5 L434,949.2 L436,951.8 L438,955.5 L440,960.5 L442,968.2 L444,978.8 L446,983.4 L448,982.2 L450,981 L452,979.5 L454,978 L456,981 L458,984 L460,981 L462,978 L464,981 L466,984 L468,986.5 L470,989 L472,978.5 L474,968 L476,968 L478,968 L480,947.5 L482,927 L484,889 L486,851 L488,845.5 L490,840 L492,836.7 L494,840 L496,866.8 L498,910.2 L500,933.5 L502,936.5 L504,932.8 L506,922.2 L508,914.5 L510,909.5 L512,904.5 L514,907 L516,917 L518,926 L520,934 L522,905.3 L524,840 L526,858 L528,876 L530,889 L532,902 L534,899.5 L536,897 L538,894.6 L540,892.2 L542,900 L544,918 L546,896 L548,834 L550,800.8 L552,796.2 L554,796.5 L556,799 L558,812.5 L560,839.5 L562,873 L564,913 L566,930.2 L568,924.8 L570,902.8 L572,864.2 L574,849 L576,857 L578,863.5 L580,868.5 L582,867 L584,859 L586,851 L588,866 L590,881 L592,850.5 L594,820 L596,848 L598,876 L600,883.5 L602,891 L604,896.5 L606,902 L608,905 L610,908 L612,908 L614,908 L616,913 L618,918 L620,930.5 L622,943 L624,947 L626,951 L628,964.5 L630,987.5 L632,996.5 L634,991.5 L636,969.8 L638,931.2 L640,931.2 L642,969.8 L644,994 L646,1004 L648,1010.2 L650,1012.8 L652,1008.5 L654,997.5 L656,962 L658,943.3 L660,966 L662,964.7 L664,972.8 L666,990.2 L668,981.2 L670,945.8 L672,925.2 L674,919.8 L676,919.3 L678,924 L680,930 L682,936 L684,932 L686,928 L688,926 L690,924 L692,956.7 L694,983 L696,1003 L698,1004.6 L700,1006.2 L702,1006.2 L704,1004.6 L706,1003 L708,1002.3 L710,1001.7 L712,1001 L714,1000.5 L716,1000 L718,999.5 L720,999 L722,1002.4 L724,1005.9 L726,1009.3 L728,1011.4 L730,1012.1 L732,1012.9 L734,1013.6 L736,1012.1 L738,1008.4 L740,1004.7 L742,1001 L744,1004 L746,1007 L748,1010 L750,1013 L752,1012.4 L754,1011.9 L756,1011.3 L758,1009.5 L760,1006.5 L762,1003.5 L764,1000.5 L766,995.3 L768,987.9 L770,980.4 L772,973 L774,971.2 L776,969.5 L778,967.8 L780,966 L782,969.7 L784,973.3 L786,977 L788,984.3 L790,977.3 L792,956 L794,977.5 L796,999 L798,1001 L800,1003 L802,1008.5 L804,1014 L806,1008.8 L808,1003.6 L810,1001 L812,1001 L814,1001 L816,992.7 L818,984.3 L820,976 L822,979.2 L824,982.4 L826,986 L828,990 L830,1001 L832,1012 L834,1002.7 L836,1001.5 L838,1008.5 L840,1006 L842,994 L844,994 L846,994 L848,994 L850,1003 L852,1012 L854,1012 L856,1012 L858,1010 L860,1006 L862,1002 L864,1005.2 L866,1008.4 L868,1011.2 L870,1013.5 L872,1015.8 L874,1017 L876,1017 L878,1017 L880,1017.3 L882,1017.9 L884,1018.4 L886,1019 L888,1016.2 L890,1013.4 L892,1010.2 L894,1006.5 L896,1002.8 L898,1005.5 L900,1014.5 L902,1019.4 L904,1020.2 L906,1021 L908,1020.2 L910,1019.4 L912,1018.6 L914,1017.8 L916,1017 L918,1013 L920,1009 L922,1006.6 L924,1004.2 L926,999.8 L928,993.2 L930,989.5 L932,988.5 L934,988 L936,988 L938,990.7 L940,996 L942,1002.8 L944,1009.6 L946,1013.2 L948,1013.6 L950,1014 L952,1015.2 L954,1016.4 L956,1016.8 L958,1016.4 L960,1016 L962,1018.4 L964,1020.8 L966,1021.8 L968,1021.4 L970,1021 L972,1021.7 L974,1022.3 L976,1023 L978,1021.4 L980,1019.8 L982,1015.2 L984,1007.8 L986,1007.5 L988,1014.5 L990,1018.1 L992,1018.4 L994,1018.6 L996,1018.9 L998,1019.5 L1000,1020.5 L1002,1021.5 L1004,1021.8 L1006,1021.2 L1008,1020.8 L1010,1020.2 L1012,1020.3 L1014,1020.9 L1016,1021.4 L1018,1022 L1020,1022.7 L1022,1023.3 L1024,1024 L1026,1024.7 L1028,1025 L1030,1025 L1032,1025 L1034,1025 L1036,1025 L1038,1025 L1040,1024.8 L1042,1024.6 L1044,1024.3 L1046,1024.1 L1048,1023.5 L1050,1022.5 L1052,1021.5 L1054,1019.5 L1056,1016.5 L1058,1017.4 L1060,1022.2 L1062,1026.7 L1064,1027 L1066,1027.4 L1068,1027.7 L1070,1026.2 L1072,1024.5 L1074,1022.8 L1076,1021 L1078,1022.8 L1080,1024.5 L1082,1026.2 L1084,1027.7 L1086,1027.1 L1088,1026.4 L1090,1025.6 L1092,1024.8 L1094,1024 L1096,1025 L1098,1026 L1100,1026.7 L1102,1026.9 L1104,1027.2 L1106,1027.4 L1108,1026.7 L1110,1026 L1112,1025.3 L1114,1024.4 L1116,1024.6 L1118,1025.7 L1120,1026.7 L1122,1027.7 L1124,1027.7 L1126,1027.7 L1128,1027.7 L1130,1027.7 L1132,1027.7 L1134,1027.8 L1136,1027.9 L1138,1028 L1140,1028.2 L1142,1028.3 L1144,1028.4 L1146,1028.4 L1148,1028.4 L1150,1028.4 L1152,1027.2 L1154,1023.9 L1156,1020.4 L1158,1017 L1160,1020.2 L1162,1023.4 L1164,1024.4 L1166,1023.2 L1168,1022 L1170,1023.2 L1172,1024.4 L1174,1025.6 L1176,1026.6 L1178,1027.4 L1180,1025.8 L1182,1023.6 L1184,1021.3 L1186,1019.1 L1188,1019.2 L1190,1021.6 L1192,1024 L1194,1022 L1196,1020 L1198,1018 L1200,1019.3 L1202,1020.7 L1204,1022 L1206,1022.8 L1208,1023.6 L1210,1023.1 L1212,1021.4 L1214,1019.6 L1216,1017.9 L1218,1017.9 L1220,1019.7 L1222,1021.4 L1224,1023.2 L1226,1025 L1228,1025 L1230,1025 L1232,1025 L1234,1024.3 L1236,1022.9 L1238,1021.4 L1240,1020 L1242,1019.6 L1244,1019.3 L1246,1018.9 L1248,1018.5 L1250,1018.2 L1252,1019.2 L1254,1021.6 L1256,1024 L1258,1024.6 L1260,1025.1 L1262,1025.7 L1264,1025.3 L1266,1024 L1268,1022.7 L1270,1022.2 L1272,1022.8 L1274,1023.2 L1276,1023.8 L1278,1023 L1280,1021 L1282,1019 L1284,1016 L1286,1013 L1288,1016.3 L1290,1019.7 L1292,1023 L1294,1021 L1296,1019 L1298,1018.3 L1300,1018.9 L1302,1019.4 L1304,1020 L1306,1019.1 L1308,1018.2 L1310,1017.3 L1312,1016.4 L1314,1015.5 L1316,1015.6 L1318,1016.9 L1320,1018.1 L1322,1019.4 L1324,1019.3 L1326,1017.9 L1328,1016.5 L1330,1015.1 L1332,1013.7 L1334,1012.8 L1336,1012.2 L1338,1011.8 L1340,1011.2 L1342,1011.2 L1344,1011.8 L1346,1012.2 L1348,1012.8 L1350,1012.6 L1352,1011.8 L1354,1010.9 L1356,1010.1 L1358,1009.2 L1360,1008.4 L1362,1008.7 L1364,1010 L1366,1011.3 L1368,1007.2 L1370,997.8 L1372,993 L1374,993 L1376,993 L1378,992.8 L1380,992.4 L1382,992 L1384,993 L1386,994 L1388,998.7 L1390,1003.3 L1392,1008 L1394,1001.2 L1396,994.4 L1398,995.7 L1400,1005 L1402,1014.3 L1404,1015.5 L1406,1008.5 L1408,1005.1 L1410,1005.4 L1412,1005.7 L1414,1006 L1416,1005.3 L1418,1004.7 L1420,1004 L1422,1003.3 L1424,1002.7 L1426,1002 L1428,1000.7 L1430,999.5 L1432,998.2 L1434,996.9 L1436,995.6 L1438,994.9 L1440,994.6 L1442,994.3 L1444,994 L1446,991.1 L1448,988.2 L1450,985.3 L1452,982.4 L1454,983 L1456,987 L1458,991 L1460,989 L1460,1021 L1458,1021 L1456,1020.6 L1454,1020.2 L1452,1020.1 L1450,1020.3 L1448,1020.6 L1446,1020.8 L1444,1021 L1442,1021.6 L1440,1022.1 L1438,1022.7 L1436,1023.3 L1434,1023.8 L1432,1024.4 L1430,1024.9 L1428,1025.5 L1426,1026 L1424,1026.2 L1422,1026.3 L1420,1026.5 L1418,1026.7 L1416,1026.8 L1414,1027 L1412,1027 L1410,1027 L1408,1027 L1406,1027.2 L1404,1027.8 L1402,1027.8 L1400,1027.5 L1398,1027.2 L1396,1026.8 L1394,1026.4 L1392,1026 L1390,1026 L1388,1026 L1386,1026 L1384,1026 L1382,1026 L1380,1026 L1378,1026 L1376,1026 L1374,1026 L1372,1026 L1370,1026.2 L1368,1026.8 L1366,1027 L1364,1027 L1362,1027 L1360,1027.1 L1358,1027.2 L1356,1027.4 L1354,1027.6 L1352,1027.8 L1350,1027.9 L1348,1028 L1346,1028 L1344,1028 L1342,1028 L1340,1028 L1338,1028 L1336,1028 L1334,1028 L1332,1028.2 L1330,1028.6 L1328,1029 L1326,1029.4 L1324,1029.8 L1322,1030 L1320,1030 L1318,1030 L1316,1030 L1314,1030.1 L1312,1030.3 L1310,1030.5 L1308,1030.6 L1306,1030.8 L1304,1031 L1302,1031 L1300,1031 L1298,1031 L1296,1031 L1294,1031 L1292,1031 L1290,1030.7 L1288,1030.3 L1286,1030 L1284,1030 L1282,1030 L1280,1030.4 L1278,1030.8 L1276,1031 L1274,1031 L1272,1031 L1270,1031 L1268,1031 L1266,1031 L1264,1031 L1262,1031 L1260,1031 L1258,1031 L1256,1031 L1254,1030.6 L1252,1030.2 L1250,1030 L1248,1030 L1246,1030 L1244,1030 L1242,1030 L1240,1030 L1238,1030 L1236,1030 L1234,1030 L1232,1030 L1230,1030 L1228,1030 L1226,1030 L1224,1030 L1222,1030 L1220,1030 L1218,1030 L1216,1030 L1214,1030 L1212,1030 L1210,1030 L1208,1030 L1206,1030 L1204,1030 L1202,1030 L1200,1030 L1198,1030 L1196,1030 L1194,1030 L1192,1030 L1190,1030 L1188,1030 L1186,1030 L1184,1030 L1182,1030 L1180,1030 L1178,1030.6 L1176,1030.2 L1174,1030 L1172,1030 L1170,1030 L1168,1030 L1166,1030 L1164,1030 L1162,1030 L1160,1030 L1158,1030 L1156,1030.3 L1154,1030.6 L1152,1031 L1150,1031.6 L1148,1031.6 L1146,1031.6 L1144,1031.6 L1142,1031.6 L1140,1031.5 L1138,1031.5 L1136,1031.4 L1134,1031.3 L1132,1031.3 L1130,1031.3 L1128,1031.3 L1126,1031.3 L1124,1031.3 L1122,1031.3 L1120,1030.6 L1118,1029.9 L1116,1029.3 L1114,1029.1 L1112,1029.3 L1110,1029.8 L1108,1030.2 L1106,1030.6 L1104,1030.5 L1102,1030.4 L1100,1030.3 L1098,1030 L1096,1030 L1094,1030 L1092,1030.2 L1090,1030.4 L1088,1030.6 L1086,1030.9 L1084,1031.3 L1082,1030.8 L1080,1030.5 L1078,1030.2 L1076,1030 L1074,1030.2 L1072,1030.5 L1070,1030.8 L1068,1031.3 L1066,1031 L1064,1030.6 L1062,1030.3 L1060,1030 L1058,1030 L1056,1030.2 L1054,1030.8 L1052,1031 L1050,1031 L1048,1031 L1046,1031 L1044,1031 L1042,1031 L1040,1031 L1038,1031 L1036,1031 L1034,1031 L1032,1031 L1030,1031 L1028,1031 L1026,1030.9 L1024,1030.7 L1022,1030.4 L1020,1030.2 L1018,1030 L1016,1030 L1014,1030 L1012,1030 L1010,1030 L1008,1030 L1006,1030 L1004,1030 L1002,1029.8 L1000,1029.5 L998,1029.2 L996,1029 L994,1029 L992,1029 L990,1029 L988,1029 L986,1029 L984,1029 L982,1029 L980,1029.2 L978,1029.6 L976,1030 L974,1030 L972,1030 L970,1030 L968,1029.6 L966,1029.2 L964,1028.8 L962,1028.4 L960,1028 L958,1027.6 L956,1027.2 L954,1027.2 L952,1027.6 L950,1028 L948,1028.4 L946,1028.8 L944,1029 L942,1029 L940,1029 L938,1027.7 L936,1027 L934,1027 L932,1027 L930,1027 L928,1027 L926,1027 L924,1027.2 L922,1027.6 L920,1028 L918,1028.5 L916,1029 L914,1029 L912,1029 L910,1029 L908,1029 L906,1029 L904,1029 L902,1029 L900,1029 L898,1029 L896,1029 L894,1029 L892,1029 L890,1029 L888,1029 L886,1029 L884,1029 L882,1029 L880,1029 L878,1029 L876,1029 L874,1029 L872,1029 L870,1029 L868,1029 L866,1029 L864,1029 L862,1029 L860,1028.6 L858,1028.2 L856,1028 L854,1028 L852,1028 L850,1027.5 L848,1027 L846,1027 L844,1027 L842,1027 L840,1027 L838,1027 L836,1027 L834,1027 L832,1027 L830,1027 L828,1027 L826,1027 L824,1027 L822,1027 L820,1027 L818,1026.7 L816,1026.3 L814,1026 L812,1026.4 L810,1026.8 L808,1027 L806,1027 L804,1027 L802,1027 L800,1027 L798,1026.5 L796,1026 L794,1026.5 L792,1027 L790,1027 L788,1027 L786,1027 L784,1025 L782,1023 L780,1021 L778,1021.5 L776,1022 L774,1022.5 L772,1023 L770,1024.1 L768,1025.3 L766,1026.4 L764,1027 L762,1027 L760,1027 L758,1027 L756,1027.3 L754,1027.9 L752,1028.4 L750,1029 L748,1028.5 L746,1028 L744,1027.5 L742,1027 L740,1027.6 L738,1028.1 L736,1028.7 L734,1028.8 L732,1028.2 L730,1027.8 L728,1027.2 L726,1027 L724,1027 L722,1027 L720,1027 L718,1027 L716,1027 L714,1027 L712,1027 L710,1026.3 L708,1025.7 L706,1025 L704,1025 L702,1025 L700,1025 L698,1025 L696,1025 L694,1023.7 L692,1023 L690,1023 L688,1023 L686,1023 L684,1023 L682,1023 L680,1023 L678,1023 L676,1023 L674,1023 L672,1023 L670,1023.5 L668,1024.5 L666,1025 L664,1025 L662,1025 L660,1025 L658,1025 L656,1026 L654,1026.8 L652,1026.2 L650,1025.5 L648,1024.5 L646,1024 L644,1024 L642,1023.2 L640,1021.8 L638,1021.8 L636,1023.2 L634,1024 L632,1024 L630,1023.2 L628,1021.8 L626,1020.2 L624,1018.6 L622,1017 L620,1017 L618,1017 L616,1018.5 L614,1020 L612,1020 L610,1020 L608,1020 L606,1020 L604,1018.5 L602,1017 L600,1017 L598,1017 L596,1016 L594,1015 L592,1016 L590,1017 L588,1018.5 L586,1020 L584,1021.2 L582,1022.4 L580,1022.2 L578,1020.8 L576,1020 L574,1020 L572,1019.2 L570,1017.8 L568,1017.8 L566,1019.2 L564,1019.2 L562,1017.8 L560,1017 L558,1017 L556,1017 L554,1017 L552,1017.8 L550,1019.2 L548,1020.8 L546,1022.2 L544,1023 L542,1023 L540,1022.4 L538,1021.2 L536,1020 L534,1020 L532,1020 L530,1018.5 L528,1017 L526,1017 L524,1017 L522,1021 L520,1023 L518,1023 L516,1023 L514,1023 L512,1023 L510,1022.2 L508,1020.8 L506,1020 L504,1020 L502,1019.2 L500,1017.8 L498,1017 L496,1017 L494,1017 L492,1017 L490,1017 L488,1018.5 L486,1020 L484,1020 L482,1020 L480,1018 L478,1016 L476,1017.5 L474,1019 L472,1019 L470,1019 L468,1020 L466,1021 L464,1020 L462,1019 L460,1019 L458,1019 L456,1020 L454,1021 L452,1021 L450,1021 L448,1020.2 L446,1019.4 L444,1019 L442,1019 L440,1018.2 L438,1016.8 L436,1016 L434,1016 L432,1016 L430,1016 L428,1016 L426,1016 L424,1016 L422,1016 L420,1016.8 L418,1018.2 L416,1019 L414,1019 L412,1019 L410,1019 L408,1019 L406,1019 L404,1019 L402,1017.5 L400,1016 L398,1014.5 L396,1013 L394,1012.5 L392,1012 L390,1011 L388,1010 L386,1011 L384,1012 L382,1013.3 L380,1013.5 L378,1012.5 L376,1011.5 L374,1010.5 L372,1010.5 L370,1011.5 L368,1012.5 L366,1013.5 L364,1013.5 L362,1012.5 L360,1012 L358,1012 L356,1012 L354,1011 L352,1010 L350,1010 L348,1010 L346,1009 L344,1008 L342,1007 L340,1006 L338,1007 L336,1008 L334,1008 L332,1008 L330,1007 L328,1006 L326,1006 L324,1006 L322,1007 L320,1008 L318,1008.8 L316,1009.6 L314,1011 L312,1013 L310,1013 L308,1011 L306,1010 L304,1010 L302,1010.5 L300,1011.5 L298,1012 L296,1012 L294,1010 L292,1006 L290,1004.5 L288,1005.5 L286,1007 L284,1009 L282,1009.5 L280,1008.5 L278,1007.5 L276,1006.5 L274,1006 L272,1006 L270,1006 L268,1007 L266,1008 L264,1009 L262,1010 L260,1011 L258,1012 L256,1013 L254,1014 L252,1012.7 L250,1011.5 L248,1010.5 L246,1011.5 L244,1014.5 L242,1015 L240,1013 L238,1011.5 L236,1010.5 L234,1009 L232,1007 L230,1006 L228,1006 L226,1006.8 L224,1008.4 L222,1010 L220,1011 L218,1012 L216,1011 L214,1010 L212,1007 L210,1004 L208,1005 L206,1006 L204,1008 L202,1010 L200,1010 L198,1010 L196,1009 L194,1008 L192,1007 L190,1006 L188,1009 L186,1012 L184,1014.4 L182,1016.8 L180,1018 L178,1018 L176,1017 L174,1015 L172,1014.5 L170,1015.5 L168,1015 L166,1013 L164,1013 L162,1015 L160,1015.5 L158,1014.5 L156,1015 L154,1017 L152,1017 L150,1015 L148,1014.5 L146,1015.5 L144,1016 L142,1016 L140,1016.4 L138,1017.2 L136,1018 L134,1020 L132,1022 L130,1023 L128,1024 L126,1022 L124,1020 L122,1020 L120,1020 L118,1019 L116,1018Z"/>
<circle cx="116.8" cy="968.4" r="2.7"/><circle cx="116.3" cy="1015.5" r="2.7"/><circle cx="116.6" cy="969.6" r="2.7"/><circle cx="115" cy="1017.7" r="2.7"/><circle cx="118.6" cy="969.9" r="2.7"/><circle cx="117.2" cy="1020.4" r="2.7"/><circle cx="118.3" cy="959.7" r="2.7"/><circle cx="117" cy="1020.4" r="2.7"/><circle cx="119" cy="956.4" r="2.7"/><circle cx="119.8" cy="1020.3" r="2.7"/><circle cx="119" cy="953.2" r="2.7"/><circle cx="119.5" cy="1020.3" r="2.7"/><circle cx="121.8" cy="944.5" r="2.7"/><circle cx="121.6" cy="1019.1" r="2.7"/><circle cx="122.7" cy="942.2" r="2.7"/><circle cx="122" cy="1013.2" r="2.7"/><circle cx="123.5" cy="932.2" r="2.7"/><circle cx="123.9" cy="1010" r="2.7"/><circle cx="124.6" cy="933.3" r="2.7"/><circle cx="123.2" cy="1010.2" r="2.7"/><circle cx="126.1" cy="940.8" r="2.7"/><circle cx="125.6" cy="1023.3" r="2.7"/><circle cx="126.3" cy="942.7" r="2.7"/><circle cx="126.2" cy="1017.1" r="2.7"/><circle cx="127.1" cy="979.1" r="2.7"/><circle cx="128.7" cy="1025.8" r="2.7"/><circle cx="128.8" cy="984.5" r="2.7"/><circle cx="128.5" cy="1025.7" r="2.7"/><circle cx="129.7" cy="981.7" r="2.7"/><circle cx="130.7" cy="1024.2" r="2.7"/><circle cx="130.7" cy="987.2" r="2.7"/><circle cx="130.9" cy="1023" r="2.7"/><circle cx="132.1" cy="986.1" r="2.7"/><circle cx="131.5" cy="1019.9" r="2.7"/><circle cx="131.2" cy="986.8" r="2.7"/><circle cx="131.4" cy="1018.7" r="2.7"/><circle cx="133.6" cy="983.5" r="2.7"/><circle cx="134.3" cy="1018.2" r="2.7"/><circle cx="134.7" cy="985.8" r="2.7"/><circle cx="133.4" cy="1017.1" r="2.7"/><circle cx="135.3" cy="983.9" r="2.7"/><circle cx="135.3" cy="1019" r="2.7"/><circle cx="135.7" cy="981.3" r="2.7"/><circle cx="136.3" cy="1013.7" r="2.7"/><circle cx="137.4" cy="961.8" r="2.7"/><circle cx="138.1" cy="1014.4" r="2.7"/><circle cx="137.2" cy="961.6" r="2.7"/><circle cx="138.2" cy="1014.7" r="2.7"/><circle cx="140.5" cy="942.2" r="2.7"/><circle cx="140.2" cy="1016.8" r="2.7"/><circle cx="139.7" cy="947.1" r="2.7"/><circle cx="139.8" cy="1005.4" r="2.7"/><circle cx="142.1" cy="933.7" r="2.7"/><circle cx="143" cy="1007.2" r="2.7"/><circle cx="142.1" cy="939.4" r="2.7"/><circle cx="142.3" cy="1009.6" r="2.7"/><circle cx="144.9" cy="939.3" r="2.7"/><circle cx="143.4" cy="1008.8" r="2.7"/><circle cx="143.9" cy="931.9" r="2.7"/><circle cx="144.6" cy="1016.5" r="2.7"/><circle cx="146.4" cy="931.5" r="2.7"/><circle cx="145.9" cy="1012.8" r="2.7"/><circle cx="146.4" cy="938.2" r="2.7"/><circle cx="147" cy="1003.5" r="2.7"/><circle cx="147.5" cy="951.8" r="2.7"/><circle cx="148" cy="1009.1" r="2.7"/><circle cx="147.9" cy="954.7" r="2.7"/><circle cx="147.1" cy="1013.6" r="2.7"/><circle cx="150.1" cy="956" r="2.7"/><circle cx="149.2" cy="1015" r="2.7"/><circle cx="149.1" cy="956.2" r="2.7"/><circle cx="149.9" cy="1016.1" r="2.7"/><circle cx="152" cy="963" r="2.7"/><circle cx="151.8" cy="1014.9" r="2.7"/><circle cx="151" cy="961.4" r="2.7"/><circle cx="152.9" cy="1014.5" r="2.7"/><circle cx="153.7" cy="963.4" r="2.7"/><circle cx="154.5" cy="1017.1" r="2.7"/><circle cx="154.6" cy="965.4" r="2.7"/><circle cx="153.3" cy="1018.8" r="2.7"/><circle cx="155.7" cy="956.4" r="2.7"/><circle cx="155.8" cy="1014.2" r="2.7"/><circle cx="155.9" cy="966.3" r="2.7"/><circle cx="156.9" cy="1012.1" r="2.7"/><circle cx="158.2" cy="953.5" r="2.7"/><circle cx="157.7" cy="1006.8" r="2.7"/><circle cx="158.9" cy="947.3" r="2.7"/><circle cx="158.2" cy="1011.6" r="2.7"/><circle cx="160.5" cy="937.4" r="2.7"/><circle cx="160.3" cy="1014.4" r="2.7"/><circle cx="160.8" cy="939.1" r="2.7"/><circle cx="159.6" cy="1014.5" r="2.7"/><circle cx="161.4" cy="946.9" r="2.7"/><circle cx="162" cy="1015.1" r="2.7"/><circle cx="161.2" cy="948.8" r="2.7"/><circle cx="162.6" cy="1015.6" r="2.7"/><circle cx="163.8" cy="941.4" r="2.7"/><circle cx="164.4" cy="1005.5" r="2.7"/><circle cx="163.2" cy="950.6" r="2.7"/><circle cx="163.7" cy="1003.4" r="2.7"/><circle cx="165.9" cy="953.7" r="2.7"/><circle cx="166" cy="1003.9" r="2.7"/><circle cx="165.3" cy="945.7" r="2.7"/><circle cx="165.1" cy="1010.5" r="2.7"/><circle cx="168.7" cy="944.9" r="2.7"/><circle cx="168.7" cy="1011.2" r="2.7"/><circle cx="168" cy="944.9" r="2.7"/><circle cx="167.2" cy="1012.8" r="2.7"/><circle cx="170.8" cy="946.8" r="2.7"/><circle cx="170" cy="1009.3" r="2.7"/><circle cx="170.7" cy="951.3" r="2.7"/><circle cx="170.2" cy="1004.9" r="2.7"/><circle cx="172.7" cy="947.3" r="2.7"/><circle cx="171.5" cy="1015.6" r="2.7"/><circle cx="172" cy="947.7" r="2.7"/><circle cx="171.9" cy="1010.9" r="2.7"/><circle cx="173.3" cy="957" r="2.7"/><circle cx="174.1" cy="1009.8" r="2.7"/><circle cx="174.7" cy="955.3" r="2.7"/><circle cx="174.8" cy="1006.1" r="2.7"/><circle cx="175.1" cy="974" r="2.7"/><circle cx="175.9" cy="1016.5" r="2.7"/><circle cx="176.5" cy="965.1" r="2.7"/><circle cx="175.3" cy="1010" r="2.7"/><circle cx="178.9" cy="969.6" r="2.7"/><circle cx="177.9" cy="1011.5" r="2.7"/><circle cx="177.9" cy="966.5" r="2.7"/><circle cx="178.6" cy="1016.3" r="2.7"/><circle cx="179.6" cy="961" r="2.7"/><circle cx="179" cy="1008.9" r="2.7"/><circle cx="179.2" cy="965.3" r="2.7"/><circle cx="179.8" cy="1012.7" r="2.7"/><circle cx="181.4" cy="964.5" r="2.7"/><circle cx="181.5" cy="1008.8" r="2.7"/><circle cx="181.2" cy="953.9" r="2.7"/><circle cx="181.8" cy="1018.4" r="2.7"/><circle cx="183.7" cy="959.3" r="2.7"/><circle cx="183.1" cy="1008.6" r="2.7"/><circle cx="184.1" cy="951.5" r="2.7"/><circle cx="184.2" cy="1015.9" r="2.7"/><circle cx="185.7" cy="944" r="2.7"/><circle cx="186.4" cy="1003.6" r="2.7"/><circle cx="185.2" cy="940.7" r="2.7"/><circle cx="185.5" cy="1013.7" r="2.7"/><circle cx="188.9" cy="942.9" r="2.7"/><circle cx="188.7" cy="997.6" r="2.7"/><circle cx="188.6" cy="936.7" r="2.7"/><circle cx="187.9" cy="1001.8" r="2.7"/><circle cx="190.2" cy="946.1" r="2.7"/><circle cx="189.4" cy="1007.3" r="2.7"/><circle cx="190.2" cy="932.7" r="2.7"/><circle cx="190.7" cy="1001.2" r="2.7"/><circle cx="191" cy="905.7" r="2.7"/><circle cx="191.5" cy="995.4" r="2.7"/><circle cx="192.7" cy="907.4" r="2.7"/><circle cx="192.6" cy="1008.4" r="2.7"/><circle cx="194.1" cy="891" r="2.7"/><circle cx="193" cy="1003.5" r="2.7"/><circle cx="194.2" cy="885.5" r="2.7"/><circle cx="194" cy="1000.6" r="2.7"/><circle cx="195.4" cy="906.1" r="2.7"/><circle cx="195.2" cy="1003.7" r="2.7"/><circle cx="195.5" cy="906.1" r="2.7"/><circle cx="196.1" cy="1001.1" r="2.7"/><circle cx="198.9" cy="934.9" r="2.7"/><circle cx="197.5" cy="1005.9" r="2.7"/><circle cx="198.7" cy="937.8" r="2.7"/><circle cx="197.9" cy="1009" r="2.7"/><circle cx="201" cy="936" r="2.7"/><circle cx="199.4" cy="1005" r="2.7"/><circle cx="199.6" cy="936.1" r="2.7"/><circle cx="200.4" cy="1007.6" r="2.7"/><circle cx="202" cy="928.2" r="2.7"/><circle cx="202.2" cy="1009.6" r="2.7"/><circle cx="201.9" cy="938.4" r="2.7"/><circle cx="201.6" cy="1005.1" r="2.7"/><circle cx="204" cy="911.3" r="2.7"/><circle cx="203.4" cy="1004.7" r="2.7"/><circle cx="204" cy="918.8" r="2.7"/><circle cx="203.5" cy="1007.1" r="2.7"/><circle cx="206.8" cy="901.7" r="2.7"/><circle cx="205.5" cy="995.2" r="2.7"/><circle cx="206.3" cy="891.4" r="2.7"/><circle cx="206.7" cy="1007.8" r="2.7"/><circle cx="207.7" cy="898.7" r="2.7"/><circle cx="208.4" cy="1003" r="2.7"/><circle cx="207.7" cy="891.9" r="2.7"/><circle cx="208.4" cy="997.3" r="2.7"/><circle cx="209.2" cy="897.1" r="2.7"/><circle cx="209.5" cy="1004.6" r="2.7"/><circle cx="210.3" cy="891.3" r="2.7"/><circle cx="210.8" cy="1000.1" r="2.7"/><circle cx="212.8" cy="902.6" r="2.7"/><circle cx="212" cy="1004.6" r="2.7"/><circle cx="211.9" cy="899" r="2.7"/><circle cx="212" cy="996.2" r="2.7"/><circle cx="213.7" cy="903.2" r="2.7"/><circle cx="214.2" cy="1010.8" r="2.7"/><circle cx="214" cy="908" r="2.7"/><circle cx="214.5" cy="999.4" r="2.7"/><circle cx="215.1" cy="903.5" r="2.7"/><circle cx="216.2" cy="1004.9" r="2.7"/><circle cx="216" cy="910.3" r="2.7"/><circle cx="215.9" cy="1012.7" r="2.7"/><circle cx="218.2" cy="913.7" r="2.7"/><circle cx="217.2" cy="1013.7" r="2.7"/><circle cx="218.1" cy="915.1" r="2.7"/><circle cx="218.4" cy="1013" r="2.7"/><circle cx="220.7" cy="922.1" r="2.7"/><circle cx="220.6" cy="1005.9" r="2.7"/><circle cx="219.9" cy="910" r="2.7"/><circle cx="219.7" cy="1002.8" r="2.7"/><circle cx="222.7" cy="916.8" r="2.7"/><circle cx="221" cy="1003.8" r="2.7"/><circle cx="222.1" cy="916.4" r="2.7"/><circle cx="222.2" cy="998.8" r="2.7"/><circle cx="223.2" cy="919.1" r="2.7"/><circle cx="223.4" cy="1004.4" r="2.7"/><circle cx="223.3" cy="910.2" r="2.7"/><circle cx="223.1" cy="1006.1" r="2.7"/><circle cx="226.3" cy="906.5" r="2.7"/><circle cx="226.5" cy="996.7" r="2.7"/><circle cx="226.7" cy="899.6" r="2.7"/><circle cx="226.9" cy="1003.3" r="2.7"/><circle cx="227.2" cy="905" r="2.7"/><circle cx="227.3" cy="999.8" r="2.7"/><circle cx="228.1" cy="914.1" r="2.7"/><circle cx="228" cy="995.9" r="2.7"/><circle cx="230.3" cy="913.3" r="2.7"/><circle cx="229.9" cy="999.7" r="2.7"/><circle cx="229.8" cy="912.7" r="2.7"/><circle cx="229.5" cy="999.6" r="2.7"/><circle cx="232" cy="918.9" r="2.7"/><circle cx="231.1" cy="1001.6" r="2.7"/><circle cx="232.9" cy="919.9" r="2.7"/><circle cx="232.5" cy="1007.1" r="2.7"/><circle cx="233.2" cy="924.3" r="2.7"/><circle cx="234.7" cy="1006.4" r="2.7"/><circle cx="233.1" cy="931.6" r="2.7"/><circle cx="234.2" cy="1002.8" r="2.7"/><circle cx="236.3" cy="930.6" r="2.7"/><circle cx="235.4" cy="1007.4" r="2.7"/><circle cx="235.3" cy="934" r="2.7"/><circle cx="236.7" cy="1010.2" r="2.7"/><circle cx="238" cy="935.9" r="2.7"/><circle cx="238" cy="1005.2" r="2.7"/><circle cx="238.1" cy="933.2" r="2.7"/><circle cx="237.7" cy="1013.3" r="2.7"/><circle cx="241" cy="933.3" r="2.7"/><circle cx="240.3" cy="1002.8" r="2.7"/><circle cx="240.7" cy="933.9" r="2.7"/><circle cx="240.6" cy="1012.9" r="2.7"/><circle cx="242.2" cy="942.2" r="2.7"/><circle cx="241.5" cy="1008.1" r="2.7"/><circle cx="242.1" cy="945.7" r="2.7"/><circle cx="242.7" cy="1007.8" r="2.7"/><circle cx="243.8" cy="931.8" r="2.7"/><circle cx="243.2" cy="1013.6" r="2.7"/><circle cx="244.4" cy="941.5" r="2.7"/><circle cx="244.1" cy="1011.8" r="2.7"/><circle cx="245.1" cy="929.6" r="2.7"/><circle cx="246.4" cy="1010.6" r="2.7"/><circle cx="246" cy="923.3" r="2.7"/><circle cx="245.4" cy="1011.7" r="2.7"/><circle cx="247.7" cy="926.6" r="2.7"/><circle cx="248.8" cy="999.7" r="2.7"/><circle cx="247.6" cy="932.5" r="2.7"/><circle cx="247.2" cy="1007.5" r="2.7"/><circle cx="249.1" cy="935.9" r="2.7"/><circle cx="250.9" cy="1008.7" r="2.7"/><circle cx="249.7" cy="942.3" r="2.7"/><circle cx="250.9" cy="1011.5" r="2.7"/><circle cx="252.7" cy="936.3" r="2.7"/><circle cx="251.1" cy="1003.6" r="2.7"/><circle cx="252.3" cy="949.1" r="2.7"/><circle cx="251.9" cy="1011.4" r="2.7"/><circle cx="254.1" cy="934.5" r="2.7"/><circle cx="254.8" cy="1004.6" r="2.7"/><circle cx="253" cy="930.5" r="2.7"/><circle cx="254.3" cy="1006.4" r="2.7"/><circle cx="255.1" cy="916.8" r="2.7"/><circle cx="256.8" cy="1014.6" r="2.7"/><circle cx="255.9" cy="912.5" r="2.7"/><circle cx="255.4" cy="1001.4" r="2.7"/><circle cx="257.1" cy="898" r="2.7"/><circle cx="258.5" cy="1008.2" r="2.7"/><circle cx="258.5" cy="891.9" r="2.7"/><circle cx="258.7" cy="1000.5" r="2.7"/><circle cx="260.9" cy="898.3" r="2.7"/><circle cx="260.1" cy="1004.6" r="2.7"/><circle cx="260.6" cy="899" r="2.7"/><circle cx="260.3" cy="1006.1" r="2.7"/><circle cx="261.7" cy="887.1" r="2.7"/><circle cx="262.7" cy="1009.5" r="2.7"/><circle cx="261.6" cy="895.6" r="2.7"/><circle cx="261.1" cy="997.9" r="2.7"/><circle cx="263.7" cy="891.4" r="2.7"/><circle cx="264.9" cy="1010.6" r="2.7"/><circle cx="263.8" cy="893.9" r="2.7"/><circle cx="264.1" cy="999.9" r="2.7"/><circle cx="265.9" cy="902.9" r="2.7"/><circle cx="266.9" cy="1005.8" r="2.7"/><circle cx="266.1" cy="898" r="2.7"/><circle cx="265.3" cy="1005.5" r="2.7"/><circle cx="268" cy="888.3" r="2.7"/><circle cx="267.9" cy="999" r="2.7"/><circle cx="268.9" cy="887.9" r="2.7"/><circle cx="268.8" cy="1008.2" r="2.7"/><circle cx="270.3" cy="879.3" r="2.7"/><circle cx="269.5" cy="1007.2" r="2.7"/><circle cx="270.5" cy="882.7" r="2.7"/><circle cx="269.8" cy="1004.1" r="2.7"/><circle cx="272" cy="878.5" r="2.7"/><circle cx="272.9" cy="1006" r="2.7"/><circle cx="271.3" cy="876.2" r="2.7"/><circle cx="271.7" cy="1002.4" r="2.7"/><circle cx="273.1" cy="879.5" r="2.7"/><circle cx="273.7" cy="1000.3" r="2.7"/><circle cx="273.6" cy="883.6" r="2.7"/><circle cx="273.6" cy="1004.1" r="2.7"/><circle cx="275.6" cy="877.8" r="2.7"/><circle cx="275.8" cy="1000.9" r="2.7"/><circle cx="275.6" cy="880.8" r="2.7"/><circle cx="276.1" cy="1004.3" r="2.7"/><circle cx="278.3" cy="887.9" r="2.7"/><circle cx="277.2" cy="1005.7" r="2.7"/><circle cx="277.3" cy="880.1" r="2.7"/><circle cx="277.4" cy="1008.4" r="2.7"/><circle cx="279.7" cy="890.4" r="2.7"/><circle cx="279.5" cy="998.3" r="2.7"/><circle cx="279.4" cy="884.7" r="2.7"/><circle cx="280.4" cy="1009.7" r="2.7"/><circle cx="281.5" cy="889" r="2.7"/><circle cx="282.4" cy="1001.3" r="2.7"/><circle cx="282.2" cy="886.8" r="2.7"/><circle cx="281.9" cy="1004.2" r="2.7"/><circle cx="283.7" cy="887.5" r="2.7"/><circle cx="283.7" cy="998" r="2.7"/><circle cx="283.2" cy="894" r="2.7"/><circle cx="284.7" cy="1001.5" r="2.7"/><circle cx="285.7" cy="898.1" r="2.7"/><circle cx="285.5" cy="1004" r="2.7"/><circle cx="285.3" cy="896.4" r="2.7"/><circle cx="286" cy="1001.1" r="2.7"/><circle cx="288.9" cy="905.2" r="2.7"/><circle cx="288.9" cy="996" r="2.7"/><circle cx="287" cy="902.8" r="2.7"/><circle cx="289" cy="1006.8" r="2.7"/><circle cx="290.2" cy="889.5" r="2.7"/><circle cx="289.9" cy="999.8" r="2.7"/><circle cx="289.3" cy="881.8" r="2.7"/><circle cx="289.5" cy="1001" r="2.7"/><circle cx="292.7" cy="883.9" r="2.7"/><circle cx="292.8" cy="1002" r="2.7"/><circle cx="292.2" cy="885.4" r="2.7"/><circle cx="292.7" cy="1006" r="2.7"/><circle cx="294.3" cy="909.1" r="2.7"/><circle cx="293.7" cy="1006.3" r="2.7"/><circle cx="294" cy="908.2" r="2.7"/><circle cx="294.6" cy="1006.8" r="2.7"/><circle cx="295.4" cy="922.3" r="2.7"/><circle cx="296.6" cy="1011.7" r="2.7"/><circle cx="296.3" cy="922.6" r="2.7"/><circle cx="295.2" cy="1013.7" r="2.7"/><circle cx="298" cy="931.3" r="2.7"/><circle cx="297.9" cy="1013.4" r="2.7"/><circle cx="297.8" cy="935.9" r="2.7"/><circle cx="297.8" cy="1008.3" r="2.7"/><circle cx="299.1" cy="929.9" r="2.7"/><circle cx="300.2" cy="1001.8" r="2.7"/><circle cx="299.6" cy="927.8" r="2.7"/><circle cx="300.9" cy="1012.3" r="2.7"/><circle cx="301.8" cy="937.8" r="2.7"/><circle cx="302.1" cy="1006.1" r="2.7"/><circle cx="301.1" cy="928.3" r="2.7"/><circle cx="301.3" cy="1003.7" r="2.7"/><circle cx="303" cy="930.8" r="2.7"/><circle cx="303.3" cy="1011.8" r="2.7"/><circle cx="304.2" cy="932.3" r="2.7"/><circle cx="304.3" cy="998" r="2.7"/><circle cx="305" cy="924.1" r="2.7"/><circle cx="306" cy="998.7" r="2.7"/><circle cx="305.1" cy="930.2" r="2.7"/><circle cx="306" cy="1001.3" r="2.7"/><circle cx="307.8" cy="920.4" r="2.7"/><circle cx="308.2" cy="1012.6" r="2.7"/><circle cx="308.4" cy="920.4" r="2.7"/><circle cx="308.4" cy="1011.9" r="2.7"/><circle cx="310.4" cy="931.7" r="2.7"/><circle cx="309.6" cy="1001.9" r="2.7"/><circle cx="309.8" cy="932.8" r="2.7"/><circle cx="310.7" cy="1003.1" r="2.7"/><circle cx="312.2" cy="932" r="2.7"/><circle cx="312.8" cy="1013.2" r="2.7"/><circle cx="312.9" cy="936.3" r="2.7"/><circle cx="312.6" cy="1012.3" r="2.7"/><circle cx="314.7" cy="920" r="2.7"/><circle cx="313.9" cy="1003" r="2.7"/><circle cx="314.6" cy="915.6" r="2.7"/><circle cx="314.1" cy="1005.7" r="2.7"/><circle cx="315.1" cy="916.9" r="2.7"/><circle cx="315.9" cy="1011.4" r="2.7"/><circle cx="316.7" cy="905.9" r="2.7"/><circle cx="316.8" cy="1011.1" r="2.7"/><circle cx="317.3" cy="903.7" r="2.7"/><circle cx="318.4" cy="1001.7" r="2.7"/><circle cx="318.2" cy="905.8" r="2.7"/><circle cx="318.9" cy="1005.2" r="2.7"/><circle cx="320.1" cy="903.9" r="2.7"/><circle cx="319.8" cy="1005.7" r="2.7"/><circle cx="319.2" cy="906.9" r="2.7"/><circle cx="320.9" cy="1002" r="2.7"/><circle cx="322.1" cy="902.2" r="2.7"/><circle cx="321.2" cy="1006.1" r="2.7"/><circle cx="322.1" cy="893.5" r="2.7"/><circle cx="322.7" cy="997.4" r="2.7"/><circle cx="324.5" cy="888.1" r="2.7"/><circle cx="324" cy="997.9" r="2.7"/><circle cx="323.4" cy="898.2" r="2.7"/><circle cx="324" cy="1005.4" r="2.7"/><circle cx="325.9" cy="887.6" r="2.7"/><circle cx="326.7" cy="1005.7" r="2.7"/><circle cx="325.8" cy="882.3" r="2.7"/><circle cx="326" cy="1006.5" r="2.7"/><circle cx="327.7" cy="879.2" r="2.7"/><circle cx="328" cy="1000.6" r="2.7"/><circle cx="328.9" cy="871.2" r="2.7"/><circle cx="328.1" cy="1005.9" r="2.7"/><circle cx="329.4" cy="892.3" r="2.7"/><circle cx="329.4" cy="1008.6" r="2.7"/><circle cx="330.7" cy="879.9" r="2.7"/><circle cx="329.1" cy="1003.9" r="2.7"/><circle cx="332" cy="888.9" r="2.7"/><circle cx="331.6" cy="1008.9" r="2.7"/><circle cx="331.9" cy="899.1" r="2.7"/><circle cx="332.2" cy="1008.4" r="2.7"/><circle cx="334" cy="895.6" r="2.7"/><circle cx="333.2" cy="1002.8" r="2.7"/><circle cx="333.6" cy="900.6" r="2.7"/><circle cx="334.2" cy="1001.1" r="2.7"/><circle cx="336.2" cy="915.2" r="2.7"/><circle cx="335.4" cy="1008.9" r="2.7"/><circle cx="336.6" cy="911.2" r="2.7"/><circle cx="335.8" cy="1009.6" r="2.7"/><circle cx="337.9" cy="909.6" r="2.7"/><circle cx="338.1" cy="997.5" r="2.7"/><circle cx="338.5" cy="916.4" r="2.7"/><circle cx="338.2" cy="1007" r="2.7"/><circle cx="339.9" cy="915.1" r="2.7"/><circle cx="340.3" cy="1002.7" r="2.7"/><circle cx="340.7" cy="913" r="2.7"/><circle cx="339.6" cy="1007" r="2.7"/><circle cx="343" cy="914.5" r="2.7"/><circle cx="342.9" cy="1006" r="2.7"/><circle cx="342.9" cy="903.8" r="2.7"/><circle cx="341.1" cy="1007.7" r="2.7"/><circle cx="343.3" cy="904.3" r="2.7"/><circle cx="343" cy="1000.9" r="2.7"/><circle cx="343.7" cy="895.7" r="2.7"/><circle cx="343.9" cy="1009.5" r="2.7"/><circle cx="346.5" cy="903.8" r="2.7"/><circle cx="346.9" cy="1006.3" r="2.7"/><circle cx="345.3" cy="911.9" r="2.7"/><circle cx="346.8" cy="998.6" r="2.7"/><circle cx="348.1" cy="912.8" r="2.7"/><circle cx="347.6" cy="1011" r="2.7"/><circle cx="347.4" cy="908.4" r="2.7"/><circle cx="347.6" cy="1005.4" r="2.7"/><circle cx="350.1" cy="922.9" r="2.7"/><circle cx="349.2" cy="1001.5" r="2.7"/><circle cx="350" cy="924.4" r="2.7"/><circle cx="349.5" cy="1005.1" r="2.7"/><circle cx="351.8" cy="928" r="2.7"/><circle cx="352.2" cy="1003.5" r="2.7"/><circle cx="351.6" cy="920.8" r="2.7"/><circle cx="351" cy="1002.9" r="2.7"/><circle cx="354.1" cy="936.9" r="2.7"/><circle cx="353.7" cy="1004.6" r="2.7"/><circle cx="354" cy="934.5" r="2.7"/><circle cx="353.1" cy="1004" r="2.7"/><circle cx="355.5" cy="944.9" r="2.7"/><circle cx="355.5" cy="1007.9" r="2.7"/><circle cx="355.5" cy="941.3" r="2.7"/><circle cx="355.7" cy="1002.3" r="2.7"/><circle cx="358.5" cy="954.8" r="2.7"/><circle cx="358.1" cy="1012.2" r="2.7"/><circle cx="358.9" cy="944.2" r="2.7"/><circle cx="357.2" cy="1007.6" r="2.7"/><circle cx="360" cy="952.5" r="2.7"/><circle cx="359.6" cy="1007.3" r="2.7"/><circle cx="360.2" cy="958.7" r="2.7"/><circle cx="360.6" cy="1013.6" r="2.7"/><circle cx="361.6" cy="961.5" r="2.7"/><circle cx="362.7" cy="1007.5" r="2.7"/><circle cx="361.1" cy="961.5" r="2.7"/><circle cx="361.5" cy="1005.5" r="2.7"/><circle cx="364.4" cy="963.3" r="2.7"/><circle cx="364.8" cy="1012" r="2.7"/><circle cx="365" cy="963.3" r="2.7"/><circle cx="364.1" cy="1004.8" r="2.7"/><circle cx="366.3" cy="961.9" r="2.7"/><circle cx="366" cy="1012.7" r="2.7"/><circle cx="365.4" cy="958.8" r="2.7"/><circle cx="366.7" cy="1014" r="2.7"/><circle cx="368.4" cy="959.6" r="2.7"/><circle cx="368" cy="1007.7" r="2.7"/><circle cx="368.3" cy="955.3" r="2.7"/><circle cx="367.9" cy="1014.3" r="2.7"/><circle cx="369.4" cy="955.6" r="2.7"/><circle cx="369.2" cy="1009.4" r="2.7"/><circle cx="370.6" cy="944.7" r="2.7"/><circle cx="370.6" cy="1013.2" r="2.7"/><circle cx="372.7" cy="943" r="2.7"/><circle cx="372.9" cy="1010.7" r="2.7"/><circle cx="371.9" cy="936.1" r="2.7"/><circle cx="372.1" cy="999.4" r="2.7"/><circle cx="373.2" cy="938.8" r="2.7"/><circle cx="373.5" cy="1012.3" r="2.7"/><circle cx="374.6" cy="931.6" r="2.7"/><circle cx="374.9" cy="1010.8" r="2.7"/><circle cx="375.4" cy="944.7" r="2.7"/><circle cx="375.6" cy="1005.2" r="2.7"/><circle cx="375.2" cy="942.2" r="2.7"/><circle cx="376.6" cy="1002.9" r="2.7"/><circle cx="378.4" cy="951.8" r="2.7"/><circle cx="377.3" cy="1012.1" r="2.7"/><circle cx="378.5" cy="948.5" r="2.7"/><circle cx="377.3" cy="1009.3" r="2.7"/><circle cx="380" cy="960" r="2.7"/><circle cx="379.1" cy="1015.3" r="2.7"/><circle cx="379.3" cy="961.9" r="2.7"/><circle cx="379.3" cy="1006.5" r="2.7"/><circle cx="382.6" cy="962.6" r="2.7"/><circle cx="382.1" cy="1013.4" r="2.7"/><circle cx="382.2" cy="966.6" r="2.7"/><circle cx="383" cy="1012.7" r="2.7"/><circle cx="384.9" cy="937.8" r="2.7"/><circle cx="383.8" cy="1011.7" r="2.7"/><circle cx="384.3" cy="938.4" r="2.7"/><circle cx="384.4" cy="1002.3" r="2.7"/><circle cx="387" cy="934.1" r="2.7"/><circle cx="386" cy="1004.5" r="2.7"/><circle cx="385.2" cy="944" r="2.7"/><circle cx="386.6" cy="1006.6" r="2.7"/><circle cx="388.3" cy="939.5" r="2.7"/><circle cx="388" cy="1011.6" r="2.7"/><circle cx="388.2" cy="931.9" r="2.7"/><circle cx="387.9" cy="1008.6" r="2.7"/><circle cx="390.2" cy="940.9" r="2.7"/><circle cx="389.6" cy="1001.2" r="2.7"/><circle cx="389.4" cy="937.5" r="2.7"/><circle cx="390.7" cy="1012.4" r="2.7"/><circle cx="391.3" cy="953" r="2.7"/><circle cx="392.8" cy="1011.2" r="2.7"/><circle cx="393" cy="951.9" r="2.7"/><circle cx="391.6" cy="1000.5" r="2.7"/><circle cx="393.5" cy="961.8" r="2.7"/><circle cx="393" cy="1011" r="2.7"/><circle cx="393.9" cy="962.8" r="2.7"/><circle cx="393.3" cy="1008.9" r="2.7"/><circle cx="395.7" cy="982.4" r="2.7"/><circle cx="395.2" cy="1014.7" r="2.7"/><circle cx="396.6" cy="982.4" r="2.7"/><circle cx="395.1" cy="1009.7" r="2.7"/><circle cx="398.7" cy="989" r="2.7"/><circle cx="397.6" cy="1013.2" r="2.7"/><circle cx="397.2" cy="989.2" r="2.7"/><circle cx="398.9" cy="1016.3" r="2.7"/><circle cx="400.8" cy="987.7" r="2.7"/><circle cx="399.1" cy="1014" r="2.7"/><circle cx="400.3" cy="987.3" r="2.7"/><circle cx="400.3" cy="1017.5" r="2.7"/><circle cx="401.5" cy="989.1" r="2.7"/><circle cx="401.4" cy="1017.3" r="2.7"/><circle cx="402.3" cy="990.9" r="2.7"/><circle cx="402.2" cy="1015.7" r="2.7"/><circle cx="404.8" cy="984.3" r="2.7"/><circle cx="404" cy="1016.1" r="2.7"/><circle cx="404" cy="987.2" r="2.7"/><circle cx="404.1" cy="1016.3" r="2.7"/><circle cx="406" cy="987.1" r="2.7"/><circle cx="405" cy="1020.2" r="2.7"/><circle cx="406.7" cy="988.5" r="2.7"/><circle cx="405.4" cy="1016.9" r="2.7"/><circle cx="408.2" cy="990.3" r="2.7"/><circle cx="407.9" cy="1018.2" r="2.7"/><circle cx="408.4" cy="990.3" r="2.7"/><circle cx="408" cy="1015.7" r="2.7"/><circle cx="410.4" cy="994" r="2.7"/><circle cx="409.5" cy="1020.6" r="2.7"/><circle cx="409.7" cy="990.9" r="2.7"/><circle cx="409.6" cy="1018.9" r="2.7"/><circle cx="412.5" cy="997.1" r="2.7"/><circle cx="412.4" cy="1019.6" r="2.7"/><circle cx="411.3" cy="996.5" r="2.7"/><circle cx="412.9" cy="1018.1" r="2.7"/><circle cx="414.8" cy="990.2" r="2.7"/><circle cx="413.6" cy="1016.5" r="2.7"/><circle cx="414.6" cy="989.2" r="2.7"/><circle cx="413.7" cy="1019.3" r="2.7"/><circle cx="416.5" cy="984.6" r="2.7"/><circle cx="416.8" cy="1014.7" r="2.7"/><circle cx="415.4" cy="987.2" r="2.7"/><circle cx="415" cy="1019.3" r="2.7"/><circle cx="417.7" cy="981" r="2.7"/><circle cx="418" cy="1019.6" r="2.7"/><circle cx="418.3" cy="980.7" r="2.7"/><circle cx="417.5" cy="1018.2" r="2.7"/><circle cx="419.7" cy="986.7" r="2.7"/><circle cx="420.7" cy="1018.5" r="2.7"/><circle cx="420.8" cy="987.3" r="2.7"/><circle cx="419.5" cy="1017.6" r="2.7"/><circle cx="421.3" cy="984.9" r="2.7"/><circle cx="422.3" cy="1011.1" r="2.7"/><circle cx="421.1" cy="983.7" r="2.7"/><circle cx="421.8" cy="1016.9" r="2.7"/><circle cx="423.3" cy="982.4" r="2.7"/><circle cx="423.2" cy="1014.2" r="2.7"/><circle cx="424.5" cy="982.3" r="2.7"/><circle cx="424.5" cy="1011.9" r="2.7"/><circle cx="425.5" cy="968.1" r="2.7"/><circle cx="426.1" cy="1017.7" r="2.7"/><circle cx="425.4" cy="967.6" r="2.7"/><circle cx="426.8" cy="1017.2" r="2.7"/><circle cx="427.6" cy="967.4" r="2.7"/><circle cx="427.3" cy="1007.5" r="2.7"/><circle cx="427.8" cy="960.4" r="2.7"/><circle cx="427.2" cy="1010.1" r="2.7"/><circle cx="430.1" cy="961.9" r="2.7"/><circle cx="429.7" cy="1009.5" r="2.7"/><circle cx="429.2" cy="953.8" r="2.7"/><circle cx="430" cy="1010.7" r="2.7"/><circle cx="431.4" cy="957.1" r="2.7"/><circle cx="431.4" cy="1016.1" r="2.7"/><circle cx="432.4" cy="958.6" r="2.7"/><circle cx="432.5" cy="1017.1" r="2.7"/><circle cx="433.9" cy="947.5" r="2.7"/><circle cx="434.5" cy="1016.3" r="2.7"/><circle cx="434.4" cy="955.2" r="2.7"/><circle cx="433.1" cy="1016.8" r="2.7"/><circle cx="436.4" cy="956.1" r="2.7"/><circle cx="436.7" cy="1017.8" r="2.7"/><circle cx="435.7" cy="960.6" r="2.7"/><circle cx="436.3" cy="1013.4" r="2.7"/><circle cx="438.3" cy="964.4" r="2.7"/><circle cx="438.5" cy="1014.4" r="2.7"/><circle cx="437.1" cy="957.6" r="2.7"/><circle cx="437.8" cy="1013.9" r="2.7"/><circle cx="439.8" cy="960.7" r="2.7"/><circle cx="439.6" cy="1019" r="2.7"/><circle cx="440.8" cy="965.9" r="2.7"/><circle cx="440.7" cy="1016.8" r="2.7"/><circle cx="442" cy="966.8" r="2.7"/><circle cx="442.6" cy="1014.4" r="2.7"/><circle cx="441.3" cy="968.7" r="2.7"/><circle cx="442.2" cy="1011.2" r="2.7"/><circle cx="443.7" cy="981.2" r="2.7"/><circle cx="444.1" cy="1020.5" r="2.7"/><circle cx="444.8" cy="978.9" r="2.7"/><circle cx="444.5" cy="1016.5" r="2.7"/><circle cx="446.5" cy="984.7" r="2.7"/><circle cx="447" cy="1020.9" r="2.7"/><circle cx="446.2" cy="984.8" r="2.7"/><circle cx="445.2" cy="1020.7" r="2.7"/><circle cx="448.5" cy="984.9" r="2.7"/><circle cx="447.5" cy="1017.9" r="2.7"/><circle cx="448.5" cy="982.9" r="2.7"/><circle cx="448.8" cy="1018.1" r="2.7"/><circle cx="450.5" cy="979.4" r="2.7"/><circle cx="450.3" cy="1022.8" r="2.7"/><circle cx="449.1" cy="982.2" r="2.7"/><circle cx="450.3" cy="1020.7" r="2.7"/><circle cx="451.2" cy="984.5" r="2.7"/><circle cx="452.6" cy="1019.9" r="2.7"/><circle cx="452.8" cy="978" r="2.7"/><circle cx="451.7" cy="1015.1" r="2.7"/><circle cx="453.3" cy="976.9" r="2.7"/><circle cx="453.8" cy="1022" r="2.7"/><circle cx="454.9" cy="981.3" r="2.7"/><circle cx="454.9" cy="1019.3" r="2.7"/><circle cx="456.3" cy="981.3" r="2.7"/><circle cx="455.8" cy="1021.8" r="2.7"/><circle cx="455.3" cy="979.2" r="2.7"/><circle cx="455.2" cy="1016" r="2.7"/><circle cx="458.1" cy="983.3" r="2.7"/><circle cx="457.1" cy="1018.2" r="2.7"/><circle cx="458.4" cy="982.4" r="2.7"/><circle cx="457.2" cy="1019.1" r="2.7"/><circle cx="459.7" cy="981.6" r="2.7"/><circle cx="459.1" cy="1012.9" r="2.7"/><circle cx="459.1" cy="979.7" r="2.7"/><circle cx="460.9" cy="1017.7" r="2.7"/><circle cx="461.2" cy="981.9" r="2.7"/><circle cx="461.7" cy="1017.6" r="2.7"/><circle cx="462.4" cy="984.4" r="2.7"/><circle cx="461.5" cy="1017" r="2.7"/><circle cx="464.1" cy="981.4" r="2.7"/><circle cx="464.1" cy="1020.1" r="2.7"/><circle cx="463.8" cy="979.4" r="2.7"/><circle cx="463.8" cy="1013.9" r="2.7"/><circle cx="466.5" cy="984.8" r="2.7"/><circle cx="466.5" cy="1017.2" r="2.7"/><circle cx="466.4" cy="983.9" r="2.7"/><circle cx="466.2" cy="1022.2" r="2.7"/><circle cx="467.4" cy="984.7" r="2.7"/><circle cx="467.7" cy="1021.4" r="2.7"/><circle cx="467" cy="989.1" r="2.7"/><circle cx="467.2" cy="1016" r="2.7"/><circle cx="470.9" cy="993.2" r="2.7"/><circle cx="470.7" cy="1017.8" r="2.7"/><circle cx="469.9" cy="993.1" r="2.7"/><circle cx="469.1" cy="1015.7" r="2.7"/><circle cx="472.3" cy="982.3" r="2.7"/><circle cx="471.3" cy="1015.2" r="2.7"/><circle cx="472" cy="976.9" r="2.7"/><circle cx="472.4" cy="1017" r="2.7"/><circle cx="474.1" cy="966.9" r="2.7"/><circle cx="473.5" cy="1011" r="2.7"/><circle cx="474.9" cy="973.7" r="2.7"/><circle cx="473.9" cy="1015.4" r="2.7"/><circle cx="475.9" cy="968.7" r="2.7"/><circle cx="475.1" cy="1018.9" r="2.7"/><circle cx="475.3" cy="967.5" r="2.7"/><circle cx="475.7" cy="1010.9" r="2.7"/><circle cx="478.1" cy="974.1" r="2.7"/><circle cx="478.8" cy="1009.6" r="2.7"/><circle cx="477.9" cy="971.8" r="2.7"/><circle cx="478.1" cy="1016.8" r="2.7"/><circle cx="480.7" cy="947.8" r="2.7"/><circle cx="480.3" cy="1019.7" r="2.7"/><circle cx="479.8" cy="948.1" r="2.7"/><circle cx="481" cy="1014.6" r="2.7"/><circle cx="481.7" cy="939.1" r="2.7"/><circle cx="482.9" cy="1008.7" r="2.7"/><circle cx="482.1" cy="930.2" r="2.7"/><circle cx="482.6" cy="1020.8" r="2.7"/><circle cx="484.5" cy="891.6" r="2.7"/><circle cx="484.2" cy="1009.5" r="2.7"/><circle cx="484.1" cy="895" r="2.7"/><circle cx="483.9" cy="1021.3" r="2.7"/><circle cx="485.4" cy="849.4" r="2.7"/><circle cx="485.8" cy="1008.2" r="2.7"/><circle cx="485.9" cy="849.8" r="2.7"/><circle cx="486.2" cy="1021.6" r="2.7"/><circle cx="487.4" cy="845" r="2.7"/><circle cx="488.9" cy="1013.5" r="2.7"/><circle cx="488.4" cy="843.7" r="2.7"/><circle cx="488" cy="1014.4" r="2.7"/><circle cx="489" cy="841.7" r="2.7"/><circle cx="490" cy="1016.2" r="2.7"/><circle cx="491" cy="840.6" r="2.7"/><circle cx="490.7" cy="1016.3" r="2.7"/><circle cx="492.6" cy="844.9" r="2.7"/><circle cx="492" cy="1014.3" r="2.7"/><circle cx="491.2" cy="845.5" r="2.7"/><circle cx="491" cy="1017.5" r="2.7"/><circle cx="493.9" cy="842.7" r="2.7"/><circle cx="494.9" cy="1005.8" r="2.7"/><circle cx="494" cy="841.5" r="2.7"/><circle cx="494.5" cy="1018.4" r="2.7"/><circle cx="495.3" cy="869.9" r="2.7"/><circle cx="495.1" cy="1007.5" r="2.7"/><circle cx="496" cy="866" r="2.7"/><circle cx="495.3" cy="1004.9" r="2.7"/><circle cx="498.6" cy="910.1" r="2.7"/><circle cx="498.9" cy="1016.4" r="2.7"/><circle cx="497.5" cy="908.5" r="2.7"/><circle cx="498.7" cy="1016.7" r="2.7"/><circle cx="500.3" cy="932.1" r="2.7"/><circle cx="500.9" cy="1008" r="2.7"/><circle cx="499.1" cy="941.6" r="2.7"/><circle cx="499.4" cy="1015.2" r="2.7"/><circle cx="501.5" cy="935.2" r="2.7"/><circle cx="502.2" cy="1012.5" r="2.7"/><circle cx="501.6" cy="935.2" r="2.7"/><circle cx="502.9" cy="1020.9" r="2.7"/><circle cx="503.9" cy="939.9" r="2.7"/><circle cx="505" cy="1008.7" r="2.7"/><circle cx="503.5" cy="932.1" r="2.7"/><circle cx="504.3" cy="1020.8" r="2.7"/><circle cx="506" cy="926.6" r="2.7"/><circle cx="506.1" cy="1012.5" r="2.7"/><circle cx="506.3" cy="922.7" r="2.7"/><circle cx="505.1" cy="1008.9" r="2.7"/><circle cx="507.3" cy="917.1" r="2.7"/><circle cx="507.9" cy="1013.8" r="2.7"/><circle cx="508.3" cy="923.3" r="2.7"/><circle cx="508.2" cy="1009.5" r="2.7"/><circle cx="510.9" cy="913.8" r="2.7"/><circle cx="509.7" cy="1014.2" r="2.7"/><circle cx="510.8" cy="908.1" r="2.7"/><circle cx="510.8" cy="1023.9" r="2.7"/><circle cx="512.3" cy="915.2" r="2.7"/><circle cx="512.2" cy="1011.9" r="2.7"/><circle cx="512.2" cy="911.5" r="2.7"/><circle cx="511.2" cy="1023.5" r="2.7"/><circle cx="513.9" cy="913.9" r="2.7"/><circle cx="514.1" cy="1024.3" r="2.7"/><circle cx="513.5" cy="906.9" r="2.7"/><circle cx="514.2" cy="1013.5" r="2.7"/><circle cx="516.6" cy="924" r="2.7"/><circle cx="515.9" cy="1021.1" r="2.7"/><circle cx="515.7" cy="918.9" r="2.7"/><circle cx="516.8" cy="1015.4" r="2.7"/><circle cx="518.4" cy="926.2" r="2.7"/><circle cx="517" cy="1023.6" r="2.7"/><circle cx="518.6" cy="931.8" r="2.7"/><circle cx="519" cy="1022.4" r="2.7"/><circle cx="519.6" cy="940.5" r="2.7"/><circle cx="520.7" cy="1015.8" r="2.7"/><circle cx="520.8" cy="932.8" r="2.7"/><circle cx="519.5" cy="1021.1" r="2.7"/><circle cx="522.1" cy="906.5" r="2.7"/><circle cx="521.6" cy="1017.8" r="2.7"/><circle cx="522.3" cy="903.7" r="2.7"/><circle cx="522.4" cy="1014.6" r="2.7"/><circle cx="524.7" cy="841.4" r="2.7"/><circle cx="523.3" cy="1018.8" r="2.7"/><circle cx="524.1" cy="838.2" r="2.7"/><circle cx="523.5" cy="1013.8" r="2.7"/><circle cx="525" cy="861.2" r="2.7"/><circle cx="526.9" cy="1018.7" r="2.7"/><circle cx="525.1" cy="867.7" r="2.7"/><circle cx="526" cy="1011.7" r="2.7"/><circle cx="528.7" cy="879.4" r="2.7"/><circle cx="528.9" cy="1011.9" r="2.7"/><circle cx="528.8" cy="881.8" r="2.7"/><circle cx="528.6" cy="1018.4" r="2.7"/><circle cx="530.8" cy="889.5" r="2.7"/><circle cx="530.9" cy="1010.7" r="2.7"/><circle cx="529.8" cy="896.1" r="2.7"/><circle cx="530.6" cy="1015.3" r="2.7"/><circle cx="532.1" cy="900.3" r="2.7"/><circle cx="532.4" cy="1016.1" r="2.7"/><circle cx="532.2" cy="902.7" r="2.7"/><circle cx="531.8" cy="1013.2" r="2.7"/><circle cx="534.8" cy="905.3" r="2.7"/><circle cx="534.1" cy="1019" r="2.7"/><circle cx="534.7" cy="902.1" r="2.7"/><circle cx="533.6" cy="1020.1" r="2.7"/><circle cx="536.3" cy="898.3" r="2.7"/><circle cx="537" cy="1021.1" r="2.7"/><circle cx="536.5" cy="899.9" r="2.7"/><circle cx="535.1" cy="1018.4" r="2.7"/><circle cx="538.1" cy="895.8" r="2.7"/><circle cx="539" cy="1022.7" r="2.7"/><circle cx="537.9" cy="898.8" r="2.7"/><circle cx="537.5" cy="1023" r="2.7"/><circle cx="540.3" cy="892.9" r="2.7"/><circle cx="540" cy="1023.3" r="2.7"/><circle cx="540.1" cy="892.1" r="2.7"/><circle cx="540" cy="1016.5" r="2.7"/><circle cx="542.2" cy="907" r="2.7"/><circle cx="542.3" cy="1024.5" r="2.7"/><circle cx="542.5" cy="902.6" r="2.7"/><circle cx="541.7" cy="1012.2" r="2.7"/><circle cx="543.5" cy="927" r="2.7"/><circle cx="543" cy="1017.8" r="2.7"/><circle cx="543.9" cy="926.5" r="2.7"/><circle cx="544" cy="1020.8" r="2.7"/><circle cx="545.5" cy="897.1" r="2.7"/><circle cx="546.3" cy="1016.3" r="2.7"/><circle cx="545.5" cy="894.3" r="2.7"/><circle cx="545.6" cy="1011.5" r="2.7"/><circle cx="548.2" cy="834.2" r="2.7"/><circle cx="548.9" cy="1019.7" r="2.7"/><circle cx="547.3" cy="845.8" r="2.7"/><circle cx="547.3" cy="1021.3" r="2.7"/><circle cx="549.6" cy="802.8" r="2.7"/><circle cx="550.8" cy="1013.6" r="2.7"/><circle cx="549.1" cy="799.2" r="2.7"/><circle cx="549.6" cy="1020.6" r="2.7"/><circle cx="551.9" cy="795" r="2.7"/><circle cx="552.5" cy="1016.8" r="2.7"/><circle cx="553" cy="807.7" r="2.7"/><circle cx="552.3" cy="1016" r="2.7"/><circle cx="554.2" cy="795.2" r="2.7"/><circle cx="554.8" cy="1007.3" r="2.7"/><circle cx="553.3" cy="795.3" r="2.7"/><circle cx="554.4" cy="1006.9" r="2.7"/><circle cx="555.1" cy="806.3" r="2.7"/><circle cx="555" cy="1012.3" r="2.7"/><circle cx="556.6" cy="805.8" r="2.7"/><circle cx="555" cy="1016.5" r="2.7"/><circle cx="559" cy="819.2" r="2.7"/><circle cx="557.7" cy="1012.3" r="2.7"/><circle cx="558.6" cy="813.1" r="2.7"/><circle cx="557.7" cy="1005.5" r="2.7"/><circle cx="561" cy="839" r="2.7"/><circle cx="559.9" cy="1015.2" r="2.7"/><circle cx="560.4" cy="839.9" r="2.7"/><circle cx="559.9" cy="1005.2" r="2.7"/><circle cx="561.8" cy="882.1" r="2.7"/><circle cx="562.6" cy="1016" r="2.7"/><circle cx="562.5" cy="884.6" r="2.7"/><circle cx="562.7" cy="1011.6" r="2.7"/><circle cx="564.9" cy="923.4" r="2.7"/><circle cx="563.8" cy="1016" r="2.7"/><circle cx="564.1" cy="911.2" r="2.7"/><circle cx="563" cy="1018.4" r="2.7"/><circle cx="565.6" cy="942.3" r="2.7"/><circle cx="565" cy="1008.5" r="2.7"/><circle cx="566.6" cy="931.2" r="2.7"/><circle cx="566.3" cy="1013.6" r="2.7"/><circle cx="567.2" cy="927.4" r="2.7"/><circle cx="568.5" cy="1009.1" r="2.7"/><circle cx="568.1" cy="927.2" r="2.7"/><circle cx="568" cy="1009.7" r="2.7"/><circle cx="570" cy="905.2" r="2.7"/><circle cx="570.5" cy="1011" r="2.7"/><circle cx="570.6" cy="903.4" r="2.7"/><circle cx="570.3" cy="1016.6" r="2.7"/><circle cx="572.8" cy="865.4" r="2.7"/><circle cx="572.6" cy="1008.4" r="2.7"/><circle cx="571.7" cy="865.4" r="2.7"/><circle cx="572.2" cy="1017.4" r="2.7"/><circle cx="574.1" cy="847.3" r="2.7"/><circle cx="573.1" cy="1009.4" r="2.7"/><circle cx="574.1" cy="858.8" r="2.7"/><circle cx="574.4" cy="1007.9" r="2.7"/><circle cx="576.5" cy="863.5" r="2.7"/><circle cx="575.2" cy="1018.3" r="2.7"/><circle cx="576.8" cy="866.1" r="2.7"/><circle cx="575.4" cy="1013.5" r="2.7"/><circle cx="578" cy="866.3" r="2.7"/><circle cx="578" cy="1019.8" r="2.7"/><circle cx="579" cy="865.7" r="2.7"/><circle cx="579" cy="1015.9" r="2.7"/><circle cx="579.4" cy="878.7" r="2.7"/><circle cx="579.8" cy="1014.8" r="2.7"/><circle cx="580.1" cy="872.8" r="2.7"/><circle cx="579.6" cy="1015.4" r="2.7"/><circle cx="581.7" cy="872.7" r="2.7"/><circle cx="582" cy="1014.7" r="2.7"/><circle cx="583" cy="872.1" r="2.7"/><circle cx="581" cy="1022.4" r="2.7"/><circle cx="584" cy="868.9" r="2.7"/><circle cx="584.7" cy="1016" r="2.7"/><circle cx="583.8" cy="868.8" r="2.7"/><circle cx="583.8" cy="1009.3" r="2.7"/><circle cx="586.7" cy="857.6" r="2.7"/><circle cx="585.8" cy="1019" r="2.7"/><circle cx="585.7" cy="852" r="2.7"/><circle cx="586.7" cy="1018.4" r="2.7"/><circle cx="589" cy="864.4" r="2.7"/><circle cx="588.1" cy="1010.7" r="2.7"/><circle cx="587.6" cy="871.1" r="2.7"/><circle cx="588.7" cy="1011.2" r="2.7"/><circle cx="590" cy="882.2" r="2.7"/><circle cx="589.5" cy="1017.6" r="2.7"/><circle cx="590.3" cy="890" r="2.7"/><circle cx="590.3" cy="1014.9" r="2.7"/><circle cx="591" cy="849.6" r="2.7"/><circle cx="592.2" cy="1015.1" r="2.7"/><circle cx="592.1" cy="849.6" r="2.7"/><circle cx="591.5" cy="1015.5" r="2.7"/><circle cx="593.7" cy="826.8" r="2.7"/><circle cx="594.5" cy="1008.1" r="2.7"/><circle cx="593.1" cy="821.1" r="2.7"/><circle cx="594.1" cy="1006.2" r="2.7"/><circle cx="596.4" cy="852.1" r="2.7"/><circle cx="596.8" cy="1012.4" r="2.7"/><circle cx="596.9" cy="846.2" r="2.7"/><circle cx="595.8" cy="1011.3" r="2.7"/><circle cx="598.8" cy="886.2" r="2.7"/><circle cx="597" cy="1012.7" r="2.7"/><circle cx="597.8" cy="880.8" r="2.7"/><circle cx="598.7" cy="1013" r="2.7"/><circle cx="600.7" cy="882.2" r="2.7"/><circle cx="599.5" cy="1016.6" r="2.7"/><circle cx="599.2" cy="881.8" r="2.7"/><circle cx="600.1" cy="1017.1" r="2.7"/><circle cx="601.3" cy="901.9" r="2.7"/><circle cx="601.7" cy="1016.9" r="2.7"/><circle cx="601.7" cy="896.1" r="2.7"/><circle cx="601.3" cy="1011.4" r="2.7"/><circle cx="604.2" cy="894.8" r="2.7"/><circle cx="603.3" cy="1012" r="2.7"/><circle cx="604.3" cy="894.8" r="2.7"/><circle cx="604.9" cy="1020.1" r="2.7"/><circle cx="605.3" cy="907.9" r="2.7"/><circle cx="605.1" cy="1018.4" r="2.7"/><circle cx="605.7" cy="900.5" r="2.7"/><circle cx="606.8" cy="1010.4" r="2.7"/><circle cx="608.3" cy="912.1" r="2.7"/><circle cx="608" cy="1015.9" r="2.7"/><circle cx="608" cy="910.3" r="2.7"/><circle cx="608.7" cy="1018.6" r="2.7"/><circle cx="609.8" cy="908.3" r="2.7"/><circle cx="610.9" cy="1014.3" r="2.7"/><circle cx="609.9" cy="908.7" r="2.7"/><circle cx="609.4" cy="1018.5" r="2.7"/><circle cx="612.6" cy="908.9" r="2.7"/><circle cx="612" cy="1020.8" r="2.7"/><circle cx="612.2" cy="908.1" r="2.7"/><circle cx="611.2" cy="1012.5" r="2.7"/><circle cx="613.4" cy="910.6" r="2.7"/><circle cx="614.4" cy="1014.8" r="2.7"/><circle cx="613.5" cy="907.5" r="2.7"/><circle cx="613.7" cy="1019.7" r="2.7"/><circle cx="616.7" cy="922.9" r="2.7"/><circle cx="615.8" cy="1010.7" r="2.7"/><circle cx="615.4" cy="915.2" r="2.7"/><circle cx="616.9" cy="1016.3" r="2.7"/><circle cx="617.8" cy="916.5" r="2.7"/><circle cx="618.7" cy="1017.8" r="2.7"/><circle cx="618" cy="918.3" r="2.7"/><circle cx="618.4" cy="1018.7" r="2.7"/><circle cx="620.6" cy="933.5" r="2.7"/><circle cx="620.5" cy="1010.5" r="2.7"/><circle cx="619.5" cy="930.3" r="2.7"/><circle cx="619.1" cy="1012.7" r="2.7"/><circle cx="622.4" cy="953.8" r="2.7"/><circle cx="621.7" cy="1014.3" r="2.7"/><circle cx="622.1" cy="941.4" r="2.7"/><circle cx="621.2" cy="1009.5" r="2.7"/><circle cx="624.4" cy="945.5" r="2.7"/><circle cx="624.6" cy="1016.2" r="2.7"/><circle cx="625" cy="948.6" r="2.7"/><circle cx="623.6" cy="1009.2" r="2.7"/><circle cx="626.2" cy="954.2" r="2.7"/><circle cx="626.6" cy="1018.2" r="2.7"/><circle cx="626.6" cy="956.9" r="2.7"/><circle cx="626" cy="1020.5" r="2.7"/><circle cx="628.2" cy="967" r="2.7"/><circle cx="628.6" cy="1023.5" r="2.7"/><circle cx="627.3" cy="965.9" r="2.7"/><circle cx="628.1" cy="1014.7" r="2.7"/><circle cx="630.5" cy="990.3" r="2.7"/><circle cx="630.8" cy="1021.5" r="2.7"/><circle cx="629.7" cy="985.8" r="2.7"/><circle cx="630.3" cy="1024.6" r="2.7"/><circle cx="631.1" cy="995.2" r="2.7"/><circle cx="631.3" cy="1025.6" r="2.7"/><circle cx="631.9" cy="997" r="2.7"/><circle cx="631" cy="1024" r="2.7"/><circle cx="633.5" cy="992.2" r="2.7"/><circle cx="633.1" cy="1025.6" r="2.7"/><circle cx="633.8" cy="990" r="2.7"/><circle cx="633.9" cy="1025.4" r="2.7"/><circle cx="636.5" cy="968.5" r="2.7"/><circle cx="635.6" cy="1016.4" r="2.7"/><circle cx="636.9" cy="968.1" r="2.7"/><circle cx="636.3" cy="1024.8" r="2.7"/><circle cx="638" cy="938.4" r="2.7"/><circle cx="637.3" cy="1011.9" r="2.7"/><circle cx="638.8" cy="937.7" r="2.7"/><circle cx="638.7" cy="1011.8" r="2.7"/><circle cx="640" cy="933.2" r="2.7"/><circle cx="639.8" cy="1012.8" r="2.7"/><circle cx="639.1" cy="931" r="2.7"/><circle cx="639.3" cy="1022.4" r="2.7"/><circle cx="641.6" cy="977.5" r="2.7"/><circle cx="642.9" cy="1023" r="2.7"/><circle cx="641.9" cy="973.9" r="2.7"/><circle cx="641.7" cy="1024.8" r="2.7"/><circle cx="644.9" cy="993.1" r="2.7"/><circle cx="644.9" cy="1024.2" r="2.7"/><circle cx="643.1" cy="993" r="2.7"/><circle cx="643.2" cy="1020.3" r="2.7"/><circle cx="646.2" cy="1005.4" r="2.7"/><circle cx="646.7" cy="1025.2" r="2.7"/><circle cx="647" cy="1003.4" r="2.7"/><circle cx="646.9" cy="1024" r="2.7"/><circle cx="647.8" cy="1011.7" r="2.7"/><circle cx="648.5" cy="1024.3" r="2.7"/><circle cx="647" cy="1010.3" r="2.7"/><circle cx="648.5" cy="1024.3" r="2.7"/><circle cx="649.2" cy="1011.2" r="2.7"/><circle cx="650.1" cy="1027.3" r="2.7"/><circle cx="650.7" cy="1011" r="2.7"/><circle cx="651" cy="1026.5" r="2.7"/><circle cx="651.9" cy="1009.3" r="2.7"/><circle cx="651.9" cy="1027.8" r="2.7"/><circle cx="652.7" cy="1008.6" r="2.7"/><circle cx="651.6" cy="1024.5" r="2.7"/><circle cx="654.3" cy="995.7" r="2.7"/><circle cx="654.3" cy="1025.1" r="2.7"/><circle cx="654.6" cy="1000.2" r="2.7"/><circle cx="654.6" cy="1025.6" r="2.7"/><circle cx="656.9" cy="960.7" r="2.7"/><circle cx="655.2" cy="1021.2" r="2.7"/><circle cx="656.3" cy="960.9" r="2.7"/><circle cx="656.9" cy="1025.9" r="2.7"/><circle cx="658" cy="943.3" r="2.7"/><circle cx="658.9" cy="1022.1" r="2.7"/><circle cx="658.8" cy="943.6" r="2.7"/><circle cx="658.1" cy="1018.5" r="2.7"/><circle cx="660.8" cy="974.9" r="2.7"/><circle cx="660.1" cy="1019.4" r="2.7"/><circle cx="659.4" cy="964.3" r="2.7"/><circle cx="659.2" cy="1020.9" r="2.7"/><circle cx="661.7" cy="968.8" r="2.7"/><circle cx="662.6" cy="1024.2" r="2.7"/><circle cx="662.5" cy="971.9" r="2.7"/><circle cx="662.1" cy="1023.5" r="2.7"/><circle cx="664.9" cy="981.2" r="2.7"/><circle cx="663.2" cy="1022.1" r="2.7"/><circle cx="663.1" cy="979.8" r="2.7"/><circle cx="664.3" cy="1026.5" r="2.7"/><circle cx="666.5" cy="989" r="2.7"/><circle cx="665.3" cy="1022.8" r="2.7"/><circle cx="667" cy="994.7" r="2.7"/><circle cx="667" cy="1023.1" r="2.7"/><circle cx="667.9" cy="985.7" r="2.7"/><circle cx="668.9" cy="1019.8" r="2.7"/><circle cx="667.2" cy="984.4" r="2.7"/><circle cx="668.4" cy="1024.5" r="2.7"/><circle cx="669.3" cy="946.8" r="2.7"/><circle cx="669.3" cy="1021.3" r="2.7"/><circle cx="669.2" cy="948.2" r="2.7"/><circle cx="669.4" cy="1016.9" r="2.7"/><circle cx="671.2" cy="936" r="2.7"/><circle cx="672.3" cy="1018.1" r="2.7"/><circle cx="672.3" cy="924.5" r="2.7"/><circle cx="672.2" cy="1019.4" r="2.7"/><circle cx="674" cy="918.9" r="2.7"/><circle cx="674.2" cy="1014.3" r="2.7"/><circle cx="673.7" cy="919.4" r="2.7"/><circle cx="673.1" cy="1013.4" r="2.7"/><circle cx="676" cy="921.8" r="2.7"/><circle cx="675" cy="1021.2" r="2.7"/><circle cx="676.7" cy="917.9" r="2.7"/><circle cx="675.6" cy="1020.8" r="2.7"/><circle cx="677.1" cy="926.1" r="2.7"/><circle cx="678.7" cy="1024.5" r="2.7"/><circle cx="677.4" cy="931.2" r="2.7"/><circle cx="677.2" cy="1022.6" r="2.7"/><circle cx="680" cy="930.4" r="2.7"/><circle cx="680" cy="1015.9" r="2.7"/><circle cx="681" cy="938.9" r="2.7"/><circle cx="679.1" cy="1019.1" r="2.7"/><circle cx="682.3" cy="934.8" r="2.7"/><circle cx="682.8" cy="1024.3" r="2.7"/><circle cx="681.1" cy="934.3" r="2.7"/><circle cx="681.8" cy="1010.9" r="2.7"/><circle cx="684.2" cy="935.7" r="2.7"/><circle cx="683.7" cy="1024.3" r="2.7"/><circle cx="684.5" cy="933" r="2.7"/><circle cx="684.4" cy="1015.3" r="2.7"/><circle cx="685.9" cy="927.1" r="2.7"/><circle cx="685.3" cy="1012.6" r="2.7"/><circle cx="686.2" cy="928.8" r="2.7"/><circle cx="685.1" cy="1010.9" r="2.7"/><circle cx="687.9" cy="932" r="2.7"/><circle cx="688.7" cy="1019.7" r="2.7"/><circle cx="688.2" cy="924.5" r="2.7"/><circle cx="688.5" cy="1022.6" r="2.7"/><circle cx="689.8" cy="930.4" r="2.7"/><circle cx="690.5" cy="1024.1" r="2.7"/><circle cx="690.1" cy="930.1" r="2.7"/><circle cx="690.9" cy="1016" r="2.7"/><circle cx="692.4" cy="956.2" r="2.7"/><circle cx="691.5" cy="1015.6" r="2.7"/><circle cx="691.6" cy="965.9" r="2.7"/><circle cx="692.2" cy="1012.7" r="2.7"/><circle cx="694.8" cy="989.2" r="2.7"/><circle cx="693.7" cy="1019.8" r="2.7"/><circle cx="694.2" cy="983.6" r="2.7"/><circle cx="693.8" cy="1019.5" r="2.7"/><circle cx="695.4" cy="1005.4" r="2.7"/><circle cx="695.3" cy="1025" r="2.7"/><circle cx="695.6" cy="1001.5" r="2.7"/><circle cx="696.1" cy="1026.8" r="2.7"/><circle cx="697.8" cy="1005" r="2.7"/><circle cx="698.1" cy="1023.5" r="2.7"/><circle cx="697.2" cy="1005.4" r="2.7"/><circle cx="697" cy="1026" r="2.7"/><circle cx="700.7" cy="1004.6" r="2.7"/><circle cx="700.2" cy="1026.6" r="2.7"/><circle cx="700.3" cy="1005.3" r="2.7"/><circle cx="700.7" cy="1023.2" r="2.7"/><circle cx="702.9" cy="1008.6" r="2.7"/><circle cx="703" cy="1025.8" r="2.7"/><circle cx="701.6" cy="1007.3" r="2.7"/><circle cx="702" cy="1026" r="2.7"/><circle cx="703.2" cy="1006.4" r="2.7"/><circle cx="704.3" cy="1022.8" r="2.7"/><circle cx="703.8" cy="1004.9" r="2.7"/><circle cx="703.8" cy="1025.8" r="2.7"/><circle cx="705.9" cy="1004.2" r="2.7"/><circle cx="706.8" cy="1023.9" r="2.7"/><circle cx="705" cy="1001.3" r="2.7"/><circle cx="705.4" cy="1022.2" r="2.7"/><circle cx="707.8" cy="1004.3" r="2.7"/><circle cx="707" cy="1027" r="2.7"/><circle cx="708.2" cy="1001.9" r="2.7"/><circle cx="707" cy="1027.4" r="2.7"/><circle cx="710.8" cy="1000.6" r="2.7"/><circle cx="709.5" cy="1024.6" r="2.7"/><circle cx="709.8" cy="1001.2" r="2.7"/><circle cx="709.6" cy="1025" r="2.7"/><circle cx="712" cy="1000.3" r="2.7"/><circle cx="711.9" cy="1028.2" r="2.7"/><circle cx="712" cy="1002.8" r="2.7"/><circle cx="711.7" cy="1028.7" r="2.7"/><circle cx="713.5" cy="1001.1" r="2.7"/><circle cx="714.1" cy="1027.5" r="2.7"/><circle cx="713.4" cy="999.9" r="2.7"/><circle cx="713.1" cy="1024.1" r="2.7"/><circle cx="715.2" cy="1003.3" r="2.7"/><circle cx="716.1" cy="1026.5" r="2.7"/><circle cx="716.3" cy="999.6" r="2.7"/><circle cx="715.6" cy="1023.9" r="2.7"/><circle cx="717.4" cy="997.8" r="2.7"/><circle cx="718.2" cy="1023.9" r="2.7"/><circle cx="717.8" cy="1001.5" r="2.7"/><circle cx="718.4" cy="1027.8" r="2.7"/><circle cx="720.8" cy="999.7" r="2.7"/><circle cx="719.7" cy="1028.5" r="2.7"/><circle cx="720.8" cy="1000.6" r="2.7"/><circle cx="720.6" cy="1027" r="2.7"/><circle cx="722.3" cy="1000.8" r="2.7"/><circle cx="722.4" cy="1027.9" r="2.7"/><circle cx="721.4" cy="1001.4" r="2.7"/><circle cx="722.4" cy="1028.1" r="2.7"/><circle cx="724.8" cy="1006.9" r="2.7"/><circle cx="723.1" cy="1027.6" r="2.7"/><circle cx="723.5" cy="1007.5" r="2.7"/><circle cx="724" cy="1025.9" r="2.7"/><circle cx="725.1" cy="1008.7" r="2.7"/><circle cx="726.5" cy="1028.4" r="2.7"/><circle cx="726.8" cy="1008.7" r="2.7"/><circle cx="726.1" cy="1025.8" r="2.7"/><circle cx="727" cy="1013.4" r="2.7"/><circle cx="728.1" cy="1028.1" r="2.7"/><circle cx="728.7" cy="1009.6" r="2.7"/><circle cx="728.2" cy="1028.9" r="2.7"/><circle cx="729.8" cy="1010.8" r="2.7"/><circle cx="729.6" cy="1028.4" r="2.7"/><circle cx="730.3" cy="1010.6" r="2.7"/><circle cx="729.2" cy="1027.7" r="2.7"/><circle cx="731.2" cy="1014.8" r="2.7"/><circle cx="731.6" cy="1029.7" r="2.7"/><circle cx="732" cy="1011.8" r="2.7"/><circle cx="731.2" cy="1026.8" r="2.7"/><circle cx="734.2" cy="1013.4" r="2.7"/><circle cx="733.7" cy="1030.1" r="2.7"/><circle cx="734.8" cy="1012.9" r="2.7"/><circle cx="734" cy="1028" r="2.7"/><circle cx="735.7" cy="1010.4" r="2.7"/><circle cx="735.9" cy="1027.6" r="2.7"/><circle cx="736.3" cy="1011.2" r="2.7"/><circle cx="736.3" cy="1030.5" r="2.7"/><circle cx="737.2" cy="1009.2" r="2.7"/><circle cx="738.7" cy="1028.8" r="2.7"/><circle cx="738.1" cy="1007.2" r="2.7"/><circle cx="738.1" cy="1029.1" r="2.7"/><circle cx="739.7" cy="1004.1" r="2.7"/><circle cx="740.4" cy="1024.8" r="2.7"/><circle cx="739.7" cy="1008.1" r="2.7"/><circle cx="739.7" cy="1027.8" r="2.7"/><circle cx="741.7" cy="1003.8" r="2.7"/><circle cx="741.4" cy="1025.7" r="2.7"/><circle cx="741.5" cy="1001.4" r="2.7"/><circle cx="741.7" cy="1023.8" r="2.7"/><circle cx="744.1" cy="1007.1" r="2.7"/><circle cx="744.1" cy="1028.4" r="2.7"/><circle cx="744.4" cy="1006.9" r="2.7"/><circle cx="744.1" cy="1025.4" r="2.7"/><circle cx="745.3" cy="1007.5" r="2.7"/><circle cx="746.3" cy="1026.2" r="2.7"/><circle cx="745.6" cy="1007.6" r="2.7"/><circle cx="746.1" cy="1026.6" r="2.7"/><circle cx="749" cy="1008.9" r="2.7"/><circle cx="748.4" cy="1027.4" r="2.7"/><circle cx="748.4" cy="1011.5" r="2.7"/><circle cx="748.9" cy="1029.3" r="2.7"/><circle cx="750.3" cy="1014.6" r="2.7"/><circle cx="750" cy="1029.8" r="2.7"/><circle cx="750.8" cy="1011.2" r="2.7"/><circle cx="750.2" cy="1027.9" r="2.7"/><circle cx="752.6" cy="1011.8" r="2.7"/><circle cx="751.8" cy="1030.2" r="2.7"/><circle cx="752.2" cy="1011.1" r="2.7"/><circle cx="752.2" cy="1029.5" r="2.7"/><circle cx="753.8" cy="1013.4" r="2.7"/><circle cx="753" cy="1029.5" r="2.7"/><circle cx="753.9" cy="1013" r="2.7"/><circle cx="753.1" cy="1028.6" r="2.7"/><circle cx="755" cy="1009.6" r="2.7"/><circle cx="755.1" cy="1025.8" r="2.7"/><circle cx="755.9" cy="1010.1" r="2.7"/><circle cx="755.4" cy="1027.5" r="2.7"/><circle cx="758.3" cy="1009.8" r="2.7"/><circle cx="757.2" cy="1024.7" r="2.7"/><circle cx="757.2" cy="1008.3" r="2.7"/><circle cx="757.4" cy="1028.2" r="2.7"/><circle cx="760.6" cy="1004.7" r="2.7"/><circle cx="760.5" cy="1028.2" r="2.7"/><circle cx="760.6" cy="1008.1" r="2.7"/><circle cx="760.2" cy="1028.8" r="2.7"/><circle cx="762.3" cy="1005.8" r="2.7"/><circle cx="761.9" cy="1026.4" r="2.7"/><circle cx="762.1" cy="1005.6" r="2.7"/><circle cx="762" cy="1027.8" r="2.7"/><circle cx="763.4" cy="1000.5" r="2.7"/><circle cx="764.7" cy="1025.7" r="2.7"/><circle cx="763" cy="1001.7" r="2.7"/><circle cx="764.5" cy="1027.4" r="2.7"/><circle cx="766" cy="993.7" r="2.7"/><circle cx="766.1" cy="1024.6" r="2.7"/><circle cx="765" cy="994.6" r="2.7"/><circle cx="765.3" cy="1024.4" r="2.7"/><circle cx="768" cy="989.5" r="2.7"/><circle cx="767.2" cy="1022.4" r="2.7"/><circle cx="768.5" cy="993.5" r="2.7"/><circle cx="767.4" cy="1020.8" r="2.7"/><circle cx="769.8" cy="983.9" r="2.7"/><circle cx="770.4" cy="1020.9" r="2.7"/><circle cx="770.9" cy="980.8" r="2.7"/><circle cx="769.9" cy="1023.6" r="2.7"/><circle cx="771.3" cy="977.1" r="2.7"/><circle cx="771.7" cy="1016.3" r="2.7"/><circle cx="771.3" cy="979.5" r="2.7"/><circle cx="772.2" cy="1024.4" r="2.7"/><circle cx="773.9" cy="970.5" r="2.7"/><circle cx="774.4" cy="1023.5" r="2.7"/><circle cx="774.4" cy="975.8" r="2.7"/><circle cx="773.1" cy="1023.9" r="2.7"/><circle cx="775.2" cy="972.1" r="2.7"/><circle cx="776.1" cy="1017.6" r="2.7"/><circle cx="776.6" cy="977.1" r="2.7"/><circle cx="776.7" cy="1018.4" r="2.7"/><circle cx="777.6" cy="969.6" r="2.7"/><circle cx="778.4" cy="1023.2" r="2.7"/><circle cx="778.3" cy="971.6" r="2.7"/><circle cx="777.9" cy="1019.6" r="2.7"/><circle cx="779.8" cy="973.8" r="2.7"/><circle cx="780.9" cy="1022.3" r="2.7"/><circle cx="780.8" cy="971.3" r="2.7"/><circle cx="779.9" cy="1012.1" r="2.7"/><circle cx="782" cy="968.4" r="2.7"/><circle cx="781.8" cy="1021.4" r="2.7"/><circle cx="781.5" cy="975.1" r="2.7"/><circle cx="781.4" cy="1014.6" r="2.7"/><circle cx="784.7" cy="972.9" r="2.7"/><circle cx="784.4" cy="1025.8" r="2.7"/><circle cx="783.8" cy="972.8" r="2.7"/><circle cx="783.5" cy="1023.7" r="2.7"/><circle cx="786.9" cy="982.6" r="2.7"/><circle cx="785.3" cy="1019.9" r="2.7"/><circle cx="785.9" cy="975.2" r="2.7"/><circle cx="786.1" cy="1022.6" r="2.7"/><circle cx="789" cy="990.7" r="2.7"/><circle cx="787.5" cy="1024" r="2.7"/><circle cx="787.1" cy="984.6" r="2.7"/><circle cx="788.5" cy="1026.8" r="2.7"/><circle cx="789.4" cy="977.1" r="2.7"/><circle cx="790.8" cy="1025.1" r="2.7"/><circle cx="789.2" cy="980.5" r="2.7"/><circle cx="789.5" cy="1026.2" r="2.7"/><circle cx="791.8" cy="964.1" r="2.7"/><circle cx="792.8" cy="1025" r="2.7"/><circle cx="791.9" cy="956.2" r="2.7"/><circle cx="791.6" cy="1015.4" r="2.7"/><circle cx="794.3" cy="979.4" r="2.7"/><circle cx="794.3" cy="1026.6" r="2.7"/><circle cx="794.7" cy="978.2" r="2.7"/><circle cx="794.5" cy="1024.4" r="2.7"/><circle cx="796.4" cy="999.6" r="2.7"/><circle cx="795.3" cy="1026.5" r="2.7"/><circle cx="795.7" cy="998.4" r="2.7"/><circle cx="796.5" cy="1027.8" r="2.7"/><circle cx="798" cy="1001.2" r="2.7"/><circle cx="797.1" cy="1025.1" r="2.7"/><circle cx="798.4" cy="999.4" r="2.7"/><circle cx="798.7" cy="1028.3" r="2.7"/><circle cx="800.9" cy="1003" r="2.7"/><circle cx="799.8" cy="1024.6" r="2.7"/><circle cx="799.9" cy="1002.2" r="2.7"/><circle cx="799.9" cy="1025.3" r="2.7"/><circle cx="803" cy="1009.3" r="2.7"/><circle cx="802" cy="1026" r="2.7"/><circle cx="802" cy="1009.4" r="2.7"/><circle cx="801.8" cy="1027" r="2.7"/><circle cx="805" cy="1015.3" r="2.7"/><circle cx="804.1" cy="1027.4" r="2.7"/><circle cx="804.1" cy="1012.3" r="2.7"/><circle cx="803.5" cy="1025.8" r="2.7"/><circle cx="805.5" cy="1009.9" r="2.7"/><circle cx="805.6" cy="1026.3" r="2.7"/><circle cx="806.6" cy="1008.9" r="2.7"/><circle cx="806.7" cy="1028.8" r="2.7"/><circle cx="807.5" cy="1003.7" r="2.7"/><circle cx="808.1" cy="1028" r="2.7"/><circle cx="807.4" cy="1005.1" r="2.7"/><circle cx="807.5" cy="1028.7" r="2.7"/><circle cx="809.8" cy="1002" r="2.7"/><circle cx="810.5" cy="1024.9" r="2.7"/><circle cx="810.2" cy="1000.4" r="2.7"/><circle cx="810.2" cy="1028.3" r="2.7"/><circle cx="811.5" cy="1002" r="2.7"/><circle cx="811.3" cy="1025.2" r="2.7"/><circle cx="812.1" cy="1004.6" r="2.7"/><circle cx="812.3" cy="1023.2" r="2.7"/><circle cx="814.5" cy="999.7" r="2.7"/><circle cx="813.8" cy="1025.2" r="2.7"/><circle cx="814.5" cy="1002.3" r="2.7"/><circle cx="813.4" cy="1024.8" r="2.7"/><circle cx="816.8" cy="997.6" r="2.7"/><circle cx="816.9" cy="1026.3" r="2.7"/><circle cx="815.7" cy="997.9" r="2.7"/><circle cx="815.5" cy="1027.6" r="2.7"/><circle cx="817.3" cy="985.3" r="2.7"/><circle cx="818.5" cy="1027.6" r="2.7"/><circle cx="818.2" cy="982.5" r="2.7"/><circle cx="818.4" cy="1026.4" r="2.7"/><circle cx="820" cy="975.4" r="2.7"/><circle cx="819" cy="1027.9" r="2.7"/><circle cx="819.7" cy="982.3" r="2.7"/><circle cx="820.9" cy="1027.3" r="2.7"/><circle cx="822.1" cy="979.4" r="2.7"/><circle cx="821.8" cy="1028.4" r="2.7"/><circle cx="822.6" cy="985.2" r="2.7"/><circle cx="822.8" cy="1021.8" r="2.7"/><circle cx="823.1" cy="981.5" r="2.7"/><circle cx="824.3" cy="1028.5" r="2.7"/><circle cx="823.7" cy="984.1" r="2.7"/><circle cx="823.4" cy="1023.5" r="2.7"/><circle cx="825.8" cy="988" r="2.7"/><circle cx="826.6" cy="1028.4" r="2.7"/><circle cx="826.6" cy="984.8" r="2.7"/><circle cx="825.9" cy="1023.3" r="2.7"/><circle cx="827.4" cy="990.4" r="2.7"/><circle cx="828.4" cy="1028.5" r="2.7"/><circle cx="828.1" cy="989.8" r="2.7"/><circle cx="827.5" cy="1027.2" r="2.7"/><circle cx="830.5" cy="999.5" r="2.7"/><circle cx="829.3" cy="1027.3" r="2.7"/><circle cx="829.3" cy="1003.8" r="2.7"/><circle cx="829.3" cy="1028.3" r="2.7"/><circle cx="832.6" cy="1011.7" r="2.7"/><circle cx="832.8" cy="1028.8" r="2.7"/><circle cx="832.7" cy="1012.3" r="2.7"/><circle cx="831.9" cy="1027.8" r="2.7"/><circle cx="833.5" cy="1001" r="2.7"/><circle cx="833.6" cy="1024.4" r="2.7"/><circle cx="834.7" cy="1005.5" r="2.7"/><circle cx="833.3" cy="1024" r="2.7"/><circle cx="836.7" cy="1001.1" r="2.7"/><circle cx="835.5" cy="1027.9" r="2.7"/><circle cx="836.1" cy="999.7" r="2.7"/><circle cx="835.4" cy="1026.6" r="2.7"/><circle cx="838.3" cy="1007.2" r="2.7"/><circle cx="838.6" cy="1028.5" r="2.7"/><circle cx="837.8" cy="1010.2" r="2.7"/><circle cx="838.1" cy="1028.6" r="2.7"/><circle cx="839.2" cy="1004.9" r="2.7"/><circle cx="840.1" cy="1026" r="2.7"/><circle cx="839.5" cy="1004.8" r="2.7"/><circle cx="840.8" cy="1025.9" r="2.7"/><circle cx="842.2" cy="993.5" r="2.7"/><circle cx="841.9" cy="1028.2" r="2.7"/><circle cx="841.6" cy="995.1" r="2.7"/><circle cx="842.1" cy="1025.7" r="2.7"/><circle cx="843.2" cy="992.2" r="2.7"/><circle cx="843.3" cy="1027.1" r="2.7"/><circle cx="844.2" cy="994.9" r="2.7"/><circle cx="844.8" cy="1025.5" r="2.7"/><circle cx="846.5" cy="995.4" r="2.7"/><circle cx="846.7" cy="1028.6" r="2.7"/><circle cx="846.2" cy="998.4" r="2.7"/><circle cx="846.1" cy="1023.6" r="2.7"/><circle cx="847.3" cy="994" r="2.7"/><circle cx="848.4" cy="1026.6" r="2.7"/><circle cx="848.8" cy="997.1" r="2.7"/><circle cx="848.9" cy="1026.3" r="2.7"/><circle cx="849" cy="1002.3" r="2.7"/><circle cx="850.1" cy="1027.9" r="2.7"/><circle cx="849.5" cy="1004.8" r="2.7"/><circle cx="850.4" cy="1029.3" r="2.7"/><circle cx="852.7" cy="1010.5" r="2.7"/><circle cx="851.3" cy="1028.2" r="2.7"/><circle cx="852.5" cy="1011.6" r="2.7"/><circle cx="852.9" cy="1029.4" r="2.7"/><circle cx="853.3" cy="1010.2" r="2.7"/><circle cx="854.4" cy="1028.1" r="2.7"/><circle cx="854.8" cy="1012" r="2.7"/><circle cx="853.1" cy="1029.5" r="2.7"/><circle cx="855.7" cy="1011.7" r="2.7"/><circle cx="855.8" cy="1028.9" r="2.7"/><circle cx="855.6" cy="1013.4" r="2.7"/><circle cx="856.1" cy="1027.6" r="2.7"/><circle cx="858.8" cy="1008.8" r="2.7"/><circle cx="857.6" cy="1029.5" r="2.7"/><circle cx="858.4" cy="1008.5" r="2.7"/><circle cx="857.7" cy="1027.6" r="2.7"/><circle cx="860.2" cy="1004.4" r="2.7"/><circle cx="860.1" cy="1029.5" r="2.7"/><circle cx="859" cy="1006.8" r="2.7"/><circle cx="860.6" cy="1030.4" r="2.7"/><circle cx="861.2" cy="1004.9" r="2.7"/><circle cx="861.9" cy="1030.3" r="2.7"/><circle cx="861.6" cy="1004.6" r="2.7"/><circle cx="861.2" cy="1025.3" r="2.7"/><circle cx="863.1" cy="1008" r="2.7"/><circle cx="864.9" cy="1028.4" r="2.7"/><circle cx="864.8" cy="1006.6" r="2.7"/><circle cx="864.9" cy="1029.8" r="2.7"/><circle cx="865.5" cy="1010.7" r="2.7"/><circle cx="866.8" cy="1027.6" r="2.7"/><circle cx="865.8" cy="1007" r="2.7"/><circle cx="866.1" cy="1027.6" r="2.7"/><circle cx="867.9" cy="1013.1" r="2.7"/><circle cx="867.3" cy="1029.6" r="2.7"/><circle cx="868.7" cy="1009.9" r="2.7"/><circle cx="868.8" cy="1030.3" r="2.7"/><circle cx="870.1" cy="1014.4" r="2.7"/><circle cx="869" cy="1030.2" r="2.7"/><circle cx="870.7" cy="1011.8" r="2.7"/><circle cx="870.9" cy="1027.2" r="2.7"/><circle cx="872.9" cy="1014.5" r="2.7"/><circle cx="871.7" cy="1029.9" r="2.7"/><circle cx="872.6" cy="1017" r="2.7"/><circle cx="871.6" cy="1028.9" r="2.7"/><circle cx="873.4" cy="1015.3" r="2.7"/><circle cx="873.4" cy="1030.4" r="2.7"/><circle cx="873.6" cy="1016.5" r="2.7"/><circle cx="874.8" cy="1030.5" r="2.7"/><circle cx="875" cy="1015.9" r="2.7"/><circle cx="876.1" cy="1030.8" r="2.7"/><circle cx="876.1" cy="1015.2" r="2.7"/><circle cx="875.9" cy="1030.8" r="2.7"/><circle cx="878.1" cy="1016.7" r="2.7"/><circle cx="878.7" cy="1030.5" r="2.7"/><circle cx="878.6" cy="1018.3" r="2.7"/><circle cx="878.9" cy="1027.9" r="2.7"/><circle cx="880.1" cy="1016.1" r="2.7"/><circle cx="880.6" cy="1030" r="2.7"/><circle cx="879.5" cy="1015.7" r="2.7"/><circle cx="880.1" cy="1029.9" r="2.7"/><circle cx="881.7" cy="1019.1" r="2.7"/><circle cx="881.8" cy="1030.8" r="2.7"/><circle cx="881.2" cy="1018.6" r="2.7"/><circle cx="882.2" cy="1029.7" r="2.7"/><circle cx="883.7" cy="1018.9" r="2.7"/><circle cx="884.9" cy="1029.4" r="2.7"/><circle cx="884.1" cy="1019.5" r="2.7"/><circle cx="884.3" cy="1030.3" r="2.7"/><circle cx="886.4" cy="1019" r="2.7"/><circle cx="885.8" cy="1029.2" r="2.7"/><circle cx="885.7" cy="1019" r="2.7"/><circle cx="885.2" cy="1030.5" r="2.7"/><circle cx="887.3" cy="1015.7" r="2.7"/><circle cx="887.6" cy="1030.4" r="2.7"/><circle cx="887.8" cy="1015.1" r="2.7"/><circle cx="888.1" cy="1027.6" r="2.7"/><circle cx="889.8" cy="1013.1" r="2.7"/><circle cx="890.6" cy="1029.3" r="2.7"/><circle cx="890" cy="1013" r="2.7"/><circle cx="889.4" cy="1030.1" r="2.7"/><circle cx="891.2" cy="1008.7" r="2.7"/><circle cx="891.1" cy="1030.2" r="2.7"/><circle cx="892.1" cy="1009.5" r="2.7"/><circle cx="892.5" cy="1030.7" r="2.7"/><circle cx="894.2" cy="1006.1" r="2.7"/><circle cx="894.6" cy="1029.5" r="2.7"/><circle cx="893.2" cy="1007.5" r="2.7"/><circle cx="893.5" cy="1028.8" r="2.7"/><circle cx="895.7" cy="1004.7" r="2.7"/><circle cx="895.1" cy="1030.3" r="2.7"/><circle cx="895.2" cy="1006.7" r="2.7"/><circle cx="896.9" cy="1030.2" r="2.7"/><circle cx="897.8" cy="1003.7" r="2.7"/><circle cx="898.4" cy="1029.4" r="2.7"/><circle cx="898.9" cy="1007.3" r="2.7"/><circle cx="897.2" cy="1029.9" r="2.7"/><circle cx="899" cy="1013" r="2.7"/><circle cx="900.2" cy="1030.3" r="2.7"/><circle cx="899.2" cy="1015.8" r="2.7"/><circle cx="900.8" cy="1030.4" r="2.7"/><circle cx="901.8" cy="1018.9" r="2.7"/><circle cx="901.1" cy="1030.8" r="2.7"/><circle cx="902.2" cy="1017.9" r="2.7"/><circle cx="902" cy="1030.8" r="2.7"/><circle cx="903" cy="1020.6" r="2.7"/><circle cx="903.8" cy="1030.4" r="2.7"/><circle cx="904.5" cy="1019.8" r="2.7"/><circle cx="903.9" cy="1029.2" r="2.7"/><circle cx="906.3" cy="1019.7" r="2.7"/><circle cx="906.9" cy="1029.9" r="2.7"/><circle cx="906.2" cy="1020.3" r="2.7"/><circle cx="906" cy="1029.2" r="2.7"/><circle cx="908.3" cy="1019.4" r="2.7"/><circle cx="909" cy="1029.5" r="2.7"/><circle cx="908" cy="1018.8" r="2.7"/><circle cx="908.6" cy="1027.9" r="2.7"/><circle cx="909.6" cy="1018.8" r="2.7"/><circle cx="909.8" cy="1030.6" r="2.7"/><circle cx="909.9" cy="1018.4" r="2.7"/><circle cx="910" cy="1030.5" r="2.7"/><circle cx="911.2" cy="1018" r="2.7"/><circle cx="912.4" cy="1029.3" r="2.7"/><circle cx="911.5" cy="1017" r="2.7"/><circle cx="911.9" cy="1030.8" r="2.7"/><circle cx="913.8" cy="1017.7" r="2.7"/><circle cx="914.2" cy="1029.5" r="2.7"/><circle cx="913.1" cy="1016" r="2.7"/><circle cx="914.8" cy="1029.8" r="2.7"/><circle cx="915.9" cy="1017.1" r="2.7"/><circle cx="915.3" cy="1030.4" r="2.7"/><circle cx="916.5" cy="1016.8" r="2.7"/><circle cx="915.2" cy="1030.1" r="2.7"/><circle cx="918.4" cy="1011.7" r="2.7"/><circle cx="917.8" cy="1027.7" r="2.7"/><circle cx="917.8" cy="1014.4" r="2.7"/><circle cx="917.4" cy="1030.3" r="2.7"/><circle cx="920.4" cy="1010.9" r="2.7"/><circle cx="919.6" cy="1029.7" r="2.7"/><circle cx="920" cy="1008.2" r="2.7"/><circle cx="920.8" cy="1029.8" r="2.7"/><circle cx="921.5" cy="1006.6" r="2.7"/><circle cx="922.1" cy="1029.4" r="2.7"/><circle cx="922.4" cy="1009.1" r="2.7"/><circle cx="922.7" cy="1025.6" r="2.7"/><circle cx="923.1" cy="1005.1" r="2.7"/><circle cx="924.2" cy="1028.2" r="2.7"/><circle cx="923.4" cy="1003.7" r="2.7"/><circle cx="924.7" cy="1028.9" r="2.7"/><circle cx="925.6" cy="1001.1" r="2.7"/><circle cx="926.7" cy="1027" r="2.7"/><circle cx="926.3" cy="998.2" r="2.7"/><circle cx="926.8" cy="1028.2" r="2.7"/><circle cx="928.9" cy="996.5" r="2.7"/><circle cx="928" cy="1027.3" r="2.7"/><circle cx="927.7" cy="992.6" r="2.7"/><circle cx="928.9" cy="1022.2" r="2.7"/><circle cx="930.8" cy="995.5" r="2.7"/><circle cx="930.3" cy="1026.3" r="2.7"/><circle cx="929.9" cy="994.4" r="2.7"/><circle cx="930.6" cy="1022" r="2.7"/><circle cx="931.7" cy="987.8" r="2.7"/><circle cx="931.3" cy="1024.4" r="2.7"/><circle cx="931.4" cy="987.6" r="2.7"/><circle cx="932.8" cy="1028.6" r="2.7"/><circle cx="934.6" cy="994.3" r="2.7"/><circle cx="934.5" cy="1026.1" r="2.7"/><circle cx="933.9" cy="990.6" r="2.7"/><circle cx="933.3" cy="1026" r="2.7"/><circle cx="935.7" cy="987" r="2.7"/><circle cx="936.3" cy="1027.2" r="2.7"/><circle cx="935.5" cy="987" r="2.7"/><circle cx="936.6" cy="1022.3" r="2.7"/><circle cx="938.6" cy="995.8" r="2.7"/><circle cx="938" cy="1028.9" r="2.7"/><circle cx="938.6" cy="994.7" r="2.7"/><circle cx="938" cy="1028.7" r="2.7"/><circle cx="939" cy="997.2" r="2.7"/><circle cx="940.5" cy="1030.1" r="2.7"/><circle cx="939.9" cy="997.9" r="2.7"/><circle cx="940.1" cy="1027.9" r="2.7"/><circle cx="941.2" cy="1002.1" r="2.7"/><circle cx="942.5" cy="1027.2" r="2.7"/><circle cx="942.5" cy="1002.5" r="2.7"/><circle cx="942.4" cy="1026.5" r="2.7"/><circle cx="944.9" cy="1011.1" r="2.7"/><circle cx="944.9" cy="1030.8" r="2.7"/><circle cx="944.6" cy="1009.1" r="2.7"/><circle cx="943.2" cy="1028" r="2.7"/><circle cx="945.2" cy="1013.1" r="2.7"/><circle cx="945.7" cy="1028.2" r="2.7"/><circle cx="945.5" cy="1012.2" r="2.7"/><circle cx="946.3" cy="1027.8" r="2.7"/><circle cx="948.5" cy="1012.3" r="2.7"/><circle cx="948.6" cy="1029.9" r="2.7"/><circle cx="948.5" cy="1013.5" r="2.7"/><circle cx="949" cy="1028.5" r="2.7"/><circle cx="949.9" cy="1014.2" r="2.7"/><circle cx="950.1" cy="1028.3" r="2.7"/><circle cx="949.6" cy="1012.7" r="2.7"/><circle cx="950.6" cy="1027.3" r="2.7"/><circle cx="952.4" cy="1016.5" r="2.7"/><circle cx="951.8" cy="1028.3" r="2.7"/><circle cx="952.3" cy="1015.3" r="2.7"/><circle cx="952.5" cy="1026.4" r="2.7"/><circle cx="953.6" cy="1015.3" r="2.7"/><circle cx="954.6" cy="1029" r="2.7"/><circle cx="953.8" cy="1015.4" r="2.7"/><circle cx="954" cy="1029" r="2.7"/><circle cx="955.6" cy="1017.5" r="2.7"/><circle cx="956.5" cy="1027.1" r="2.7"/><circle cx="956.2" cy="1016.5" r="2.7"/><circle cx="956.3" cy="1028.7" r="2.7"/><circle cx="958.9" cy="1015.9" r="2.7"/><circle cx="957.7" cy="1028.3" r="2.7"/><circle cx="958.2" cy="1017.2" r="2.7"/><circle cx="958.3" cy="1028.8" r="2.7"/><circle cx="959.4" cy="1014.4" r="2.7"/><circle cx="959.9" cy="1027.1" r="2.7"/><circle cx="959.4" cy="1016.5" r="2.7"/><circle cx="959.5" cy="1028.8" r="2.7"/><circle cx="962.2" cy="1018.7" r="2.7"/><circle cx="961.8" cy="1029.5" r="2.7"/><circle cx="961.4" cy="1016.8" r="2.7"/><circle cx="961.6" cy="1028.5" r="2.7"/><circle cx="963.8" cy="1019.1" r="2.7"/><circle cx="965" cy="1029.8" r="2.7"/><circle cx="963.8" cy="1019.7" r="2.7"/><circle cx="964.4" cy="1027.7" r="2.7"/><circle cx="965.8" cy="1020.9" r="2.7"/><circle cx="965.3" cy="1030.7" r="2.7"/><circle cx="966.3" cy="1020.9" r="2.7"/><circle cx="966" cy="1030.9" r="2.7"/><circle cx="968.2" cy="1019.8" r="2.7"/><circle cx="968.3" cy="1030.9" r="2.7"/><circle cx="967.8" cy="1021.6" r="2.7"/><circle cx="967.2" cy="1030.8" r="2.7"/><circle cx="970.2" cy="1019.5" r="2.7"/><circle cx="969.3" cy="1029.7" r="2.7"/><circle cx="970.8" cy="1022.1" r="2.7"/><circle cx="970.1" cy="1031.2" r="2.7"/><circle cx="971.7" cy="1021.5" r="2.7"/><circle cx="972.4" cy="1031.2" r="2.7"/><circle cx="971.9" cy="1020.8" r="2.7"/><circle cx="971.2" cy="1030.6" r="2.7"/><circle cx="973.6" cy="1021.4" r="2.7"/><circle cx="974" cy="1031.6" r="2.7"/><circle cx="974.1" cy="1022.2" r="2.7"/><circle cx="974.3" cy="1030.8" r="2.7"/><circle cx="977" cy="1022" r="2.7"/><circle cx="975" cy="1031.5" r="2.7"/><circle cx="976.4" cy="1022.4" r="2.7"/><circle cx="975.8" cy="1031.2" r="2.7"/><circle cx="977.5" cy="1020.1" r="2.7"/><circle cx="978.7" cy="1029.3" r="2.7"/><circle cx="978.1" cy="1020" r="2.7"/><circle cx="977.3" cy="1030.5" r="2.7"/><circle cx="980.1" cy="1019.8" r="2.7"/><circle cx="980.8" cy="1028" r="2.7"/><circle cx="979.5" cy="1020.5" r="2.7"/><circle cx="980.6" cy="1030.9" r="2.7"/><circle cx="982.4" cy="1013.6" r="2.7"/><circle cx="982.4" cy="1030.6" r="2.7"/><circle cx="981.2" cy="1013.5" r="2.7"/><circle cx="982" cy="1028" r="2.7"/><circle cx="984.9" cy="1007.3" r="2.7"/><circle cx="983.5" cy="1027.5" r="2.7"/><circle cx="983.8" cy="1008.8" r="2.7"/><circle cx="983.6" cy="1029.4" r="2.7"/><circle cx="985.6" cy="1006.2" r="2.7"/><circle cx="985.4" cy="1030.2" r="2.7"/><circle cx="985.8" cy="1009.7" r="2.7"/><circle cx="986.6" cy="1028.8" r="2.7"/><circle cx="987.3" cy="1014.7" r="2.7"/><circle cx="988.9" cy="1027.4" r="2.7"/><circle cx="987.7" cy="1015.5" r="2.7"/><circle cx="988.3" cy="1028.1" r="2.7"/><circle cx="989.8" cy="1016.3" r="2.7"/><circle cx="990.1" cy="1029.1" r="2.7"/><circle cx="990.6" cy="1019.1" r="2.7"/><circle cx="991" cy="1028.5" r="2.7"/><circle cx="992.8" cy="1017.1" r="2.7"/><circle cx="992.6" cy="1030.8" r="2.7"/><circle cx="992" cy="1016.6" r="2.7"/><circle cx="991.1" cy="1030" r="2.7"/><circle cx="994.6" cy="1018.3" r="2.7"/><circle cx="993.5" cy="1030.5" r="2.7"/><circle cx="994.1" cy="1018.8" r="2.7"/><circle cx="993.6" cy="1030.8" r="2.7"/><circle cx="995.6" cy="1019.8" r="2.7"/><circle cx="995.9" cy="1030.4" r="2.7"/><circle cx="996.6" cy="1019.5" r="2.7"/><circle cx="996.3" cy="1030.1" r="2.7"/><circle cx="997.1" cy="1017.7" r="2.7"/><circle cx="998.3" cy="1030.4" r="2.7"/><circle cx="997.1" cy="1017.8" r="2.7"/><circle cx="997.4" cy="1028.6" r="2.7"/><circle cx="999.2" cy="1018.7" r="2.7"/><circle cx="999.6" cy="1031.2" r="2.7"/><circle cx="1000.3" cy="1020" r="2.7"/><circle cx="1000" cy="1030.9" r="2.7"/><circle cx="1002.2" cy="1020.2" r="2.7"/><circle cx="1002.2" cy="1031.5" r="2.7"/><circle cx="1002.8" cy="1019.7" r="2.7"/><circle cx="1002.1" cy="1031.4" r="2.7"/><circle cx="1003.9" cy="1020.2" r="2.7"/><circle cx="1004.3" cy="1031.4" r="2.7"/><circle cx="1004.7" cy="1022" r="2.7"/><circle cx="1003.9" cy="1028.9" r="2.7"/><circle cx="1005.7" cy="1020.6" r="2.7"/><circle cx="1006" cy="1031.4" r="2.7"/><circle cx="1005.1" cy="1022.3" r="2.7"/><circle cx="1005.6" cy="1029.9" r="2.7"/><circle cx="1007.5" cy="1020.3" r="2.7"/><circle cx="1008" cy="1030" r="2.7"/><circle cx="1007.9" cy="1019.4" r="2.7"/><circle cx="1007.2" cy="1031.8" r="2.7"/><circle cx="1009.2" cy="1021" r="2.7"/><circle cx="1010.3" cy="1031.1" r="2.7"/><circle cx="1010.9" cy="1018.5" r="2.7"/><circle cx="1010.9" cy="1031.6" r="2.7"/><circle cx="1012.2" cy="1019.3" r="2.7"/><circle cx="1011.2" cy="1030.5" r="2.7"/><circle cx="1012.5" cy="1019.5" r="2.7"/><circle cx="1012.5" cy="1029.7" r="2.7"/><circle cx="1013.3" cy="1020.7" r="2.7"/><circle cx="1014" cy="1031.1" r="2.7"/><circle cx="1014.5" cy="1019.1" r="2.7"/><circle cx="1014.1" cy="1031.7" r="2.7"/><circle cx="1015.3" cy="1020" r="2.7"/><circle cx="1016.2" cy="1029" r="2.7"/><circle cx="1016.2" cy="1021.5" r="2.7"/><circle cx="1016.7" cy="1030.6" r="2.7"/><circle cx="1017.8" cy="1020.2" r="2.7"/><circle cx="1018.2" cy="1031.5" r="2.7"/><circle cx="1018.8" cy="1020.9" r="2.7"/><circle cx="1017.5" cy="1031.5" r="2.7"/><circle cx="1020.4" cy="1023.5" r="2.7"/><circle cx="1019.7" cy="1031.2" r="2.7"/><circle cx="1019.3" cy="1022.7" r="2.7"/><circle cx="1019.5" cy="1030.2" r="2.7"/><circle cx="1021.1" cy="1023.7" r="2.7"/><circle cx="1022.7" cy="1029.6" r="2.7"/><circle cx="1021.3" cy="1021.5" r="2.7"/><circle cx="1022.6" cy="1029.6" r="2.7"/><circle cx="1024.6" cy="1022.6" r="2.7"/><circle cx="1023.5" cy="1031.2" r="2.7"/><circle cx="1023.8" cy="1023.8" r="2.7"/><circle cx="1024.7" cy="1032.3" r="2.7"/><circle cx="1025.5" cy="1024.6" r="2.7"/><circle cx="1026.4" cy="1031.9" r="2.7"/><circle cx="1025.5" cy="1023.5" r="2.7"/><circle cx="1026.9" cy="1031.6" r="2.7"/><circle cx="1027.5" cy="1023.3" r="2.7"/><circle cx="1029" cy="1031.9" r="2.7"/><circle cx="1027" cy="1026.2" r="2.7"/><circle cx="1027.3" cy="1031.3" r="2.7"/><circle cx="1029.3" cy="1023.4" r="2.7"/><circle cx="1031" cy="1031.8" r="2.7"/><circle cx="1029.7" cy="1026" r="2.7"/><circle cx="1030.4" cy="1030.3" r="2.7"/><circle cx="1032.8" cy="1023.2" r="2.7"/><circle cx="1033" cy="1032.4" r="2.7"/><circle cx="1032.8" cy="1023.3" r="2.7"/><circle cx="1032" cy="1031.8" r="2.7"/><circle cx="1034" cy="1023.4" r="2.7"/><circle cx="1034.1" cy="1030.9" r="2.7"/><circle cx="1034.1" cy="1026.1" r="2.7"/><circle cx="1033.3" cy="1030.2" r="2.7"/><circle cx="1036.2" cy="1025" r="2.7"/><circle cx="1035.7" cy="1030.3" r="2.7"/><circle cx="1036.6" cy="1024.1" r="2.7"/><circle cx="1035.7" cy="1032.5" r="2.7"/><circle cx="1038.3" cy="1025.5" r="2.7"/><circle cx="1037" cy="1031.8" r="2.7"/><circle cx="1037.8" cy="1025.1" r="2.7"/><circle cx="1037.8" cy="1032.5" r="2.7"/><circle cx="1040.7" cy="1023.1" r="2.7"/><circle cx="1040.9" cy="1030.7" r="2.7"/><circle cx="1039.3" cy="1024.6" r="2.7"/><circle cx="1041" cy="1032" r="2.7"/><circle cx="1041.7" cy="1022.8" r="2.7"/><circle cx="1041.3" cy="1032.7" r="2.7"/><circle cx="1042.2" cy="1023.1" r="2.7"/><circle cx="1042.7" cy="1032.8" r="2.7"/><circle cx="1043.3" cy="1023.3" r="2.7"/><circle cx="1044" cy="1032.7" r="2.7"/><circle cx="1044" cy="1023.1" r="2.7"/><circle cx="1043.7" cy="1032.7" r="2.7"/><circle cx="1045.2" cy="1023.3" r="2.7"/><circle cx="1046.7" cy="1031.8" r="2.7"/><circle cx="1045.3" cy="1023.6" r="2.7"/><circle cx="1045.2" cy="1031.4" r="2.7"/><circle cx="1047" cy="1021.8" r="2.7"/><circle cx="1047.4" cy="1031.7" r="2.7"/><circle cx="1047.2" cy="1022.1" r="2.7"/><circle cx="1047.3" cy="1030.3" r="2.7"/><circle cx="1050.6" cy="1022.3" r="2.7"/><circle cx="1050.2" cy="1032" r="2.7"/><circle cx="1050.6" cy="1021.2" r="2.7"/><circle cx="1049.2" cy="1031.2" r="2.7"/><circle cx="1051.3" cy="1021.4" r="2.7"/><circle cx="1051.4" cy="1031.9" r="2.7"/><circle cx="1052.3" cy="1020.6" r="2.7"/><circle cx="1051.7" cy="1031" r="2.7"/><circle cx="1053.9" cy="1017.7" r="2.7"/><circle cx="1054.1" cy="1029.9" r="2.7"/><circle cx="1054.5" cy="1019.1" r="2.7"/><circle cx="1054.9" cy="1031" r="2.7"/><circle cx="1056.5" cy="1018" r="2.7"/><circle cx="1055.3" cy="1029.5" r="2.7"/><circle cx="1056.4" cy="1015.1" r="2.7"/><circle cx="1056.7" cy="1030.6" r="2.7"/><circle cx="1057.7" cy="1017.8" r="2.7"/><circle cx="1058.3" cy="1031.6" r="2.7"/><circle cx="1058" cy="1015.7" r="2.7"/><circle cx="1057.8" cy="1031.4" r="2.7"/><circle cx="1060.3" cy="1021.9" r="2.7"/><circle cx="1059.1" cy="1030.4" r="2.7"/><circle cx="1060.4" cy="1022.9" r="2.7"/><circle cx="1060.2" cy="1029.2" r="2.7"/><circle cx="1062.8" cy="1026.7" r="2.7"/><circle cx="1062.3" cy="1029.9" r="2.7"/><circle cx="1061" cy="1025.2" r="2.7"/><circle cx="1062.7" cy="1030" r="2.7"/><circle cx="1063.4" cy="1026.2" r="2.7"/><circle cx="1064.7" cy="1031.3" r="2.7"/><circle cx="1063.3" cy="1027.4" r="2.7"/><circle cx="1063.4" cy="1031.9" r="2.7"/><circle cx="1065.5" cy="1027.7" r="2.7"/><circle cx="1065.8" cy="1030" r="2.7"/><circle cx="1065.8" cy="1026.1" r="2.7"/><circle cx="1066.8" cy="1032.3" r="2.7"/><circle cx="1067.8" cy="1026.2" r="2.7"/><circle cx="1067.1" cy="1032.2" r="2.7"/><circle cx="1069" cy="1026.5" r="2.7"/><circle cx="1067.8" cy="1030.4" r="2.7"/><circle cx="1070.8" cy="1026.9" r="2.7"/><circle cx="1070.5" cy="1030.2" r="2.7"/><circle cx="1070" cy="1025.7" r="2.7"/><circle cx="1070.2" cy="1030.8" r="2.7"/><circle cx="1071.4" cy="1025.6" r="2.7"/><circle cx="1072.5" cy="1029.8" r="2.7"/><circle cx="1072.7" cy="1023.5" r="2.7"/><circle cx="1071.8" cy="1031.9" r="2.7"/><circle cx="1074.9" cy="1022.2" r="2.7"/><circle cx="1074.7" cy="1031.7" r="2.7"/><circle cx="1074.8" cy="1022.5" r="2.7"/><circle cx="1074.3" cy="1031.6" r="2.7"/><circle cx="1076.8" cy="1021.7" r="2.7"/><circle cx="1076.7" cy="1030.1" r="2.7"/><circle cx="1076.1" cy="1020.6" r="2.7"/><circle cx="1076" cy="1031.6" r="2.7"/><circle cx="1078.9" cy="1023.8" r="2.7"/><circle cx="1077.6" cy="1032" r="2.7"/><circle cx="1078.7" cy="1021.3" r="2.7"/><circle cx="1078.5" cy="1031.9" r="2.7"/><circle cx="1079.7" cy="1022.9" r="2.7"/><circle cx="1079.3" cy="1029.4" r="2.7"/><circle cx="1079.5" cy="1024" r="2.7"/><circle cx="1079.1" cy="1030.4" r="2.7"/><circle cx="1081.5" cy="1026.1" r="2.7"/><circle cx="1081.7" cy="1029.8" r="2.7"/><circle cx="1081.1" cy="1026" r="2.7"/><circle cx="1082.3" cy="1029.8" r="2.7"/><circle cx="1084.5" cy="1028.8" r="2.7"/><circle cx="1084.5" cy="1032.8" r="2.7"/><circle cx="1083.4" cy="1026.8" r="2.7"/><circle cx="1084.3" cy="1030.3" r="2.7"/><circle cx="1085.1" cy="1026" r="2.7"/><circle cx="1085.1" cy="1031.1" r="2.7"/><circle cx="1085.1" cy="1025.7" r="2.7"/><circle cx="1086.5" cy="1032.4" r="2.7"/><circle cx="1089" cy="1025" r="2.7"/><circle cx="1088.6" cy="1032" r="2.7"/><circle cx="1088.3" cy="1026.4" r="2.7"/><circle cx="1087.3" cy="1031.1" r="2.7"/><circle cx="1090.8" cy="1026" r="2.7"/><circle cx="1089.4" cy="1031.1" r="2.7"/><circle cx="1089.5" cy="1023.9" r="2.7"/><circle cx="1089.6" cy="1029.3" r="2.7"/><circle cx="1092.1" cy="1023.4" r="2.7"/><circle cx="1092.6" cy="1032" r="2.7"/><circle cx="1091.6" cy="1025" r="2.7"/><circle cx="1092.8" cy="1032" r="2.7"/><circle cx="1094.5" cy="1024.3" r="2.7"/><circle cx="1094.9" cy="1031.6" r="2.7"/><circle cx="1093.1" cy="1023.7" r="2.7"/><circle cx="1094.4" cy="1028.9" r="2.7"/><circle cx="1096.8" cy="1023.4" r="2.7"/><circle cx="1096.3" cy="1030.5" r="2.7"/><circle cx="1095.4" cy="1023.2" r="2.7"/><circle cx="1095" cy="1029.7" r="2.7"/><circle cx="1097.1" cy="1024.4" r="2.7"/><circle cx="1097.3" cy="1030.5" r="2.7"/><circle cx="1097.9" cy="1026.2" r="2.7"/><circle cx="1098.8" cy="1029.8" r="2.7"/><circle cx="1099.4" cy="1028.1" r="2.7"/><circle cx="1100.6" cy="1031.2" r="2.7"/><circle cx="1100.9" cy="1025.7" r="2.7"/><circle cx="1100.3" cy="1031.3" r="2.7"/><circle cx="1102.4" cy="1025.9" r="2.7"/><circle cx="1101.8" cy="1031.4" r="2.7"/><circle cx="1102.7" cy="1027.3" r="2.7"/><circle cx="1101.3" cy="1031.7" r="2.7"/><circle cx="1104.5" cy="1026.1" r="2.7"/><circle cx="1104.4" cy="1030.2" r="2.7"/><circle cx="1103.5" cy="1028" r="2.7"/><circle cx="1103" cy="1030.8" r="2.7"/><circle cx="1106.2" cy="1026.8" r="2.7"/><circle cx="1106.6" cy="1031.5" r="2.7"/><circle cx="1105.9" cy="1026.5" r="2.7"/><circle cx="1105.4" cy="1030.2" r="2.7"/><circle cx="1107.8" cy="1026.9" r="2.7"/><circle cx="1107.2" cy="1031.6" r="2.7"/><circle cx="1108.6" cy="1026.8" r="2.7"/><circle cx="1108.7" cy="1030" r="2.7"/><circle cx="1110.6" cy="1026" r="2.7"/><circle cx="1110.2" cy="1029.1" r="2.7"/><circle cx="1109.3" cy="1025.5" r="2.7"/><circle cx="1109.2" cy="1031.1" r="2.7"/><circle cx="1111.8" cy="1023.6" r="2.7"/><circle cx="1112.1" cy="1030.7" r="2.7"/><circle cx="1111.5" cy="1025.8" r="2.7"/><circle cx="1112.7" cy="1028.6" r="2.7"/><circle cx="1114.2" cy="1022.9" r="2.7"/><circle cx="1113.1" cy="1030.7" r="2.7"/><circle cx="1113.4" cy="1022.9" r="2.7"/><circle cx="1113.1" cy="1030.9" r="2.7"/><circle cx="1116.7" cy="1024.9" r="2.7"/><circle cx="1115.1" cy="1028.7" r="2.7"/><circle cx="1116.7" cy="1022.8" r="2.7"/><circle cx="1115.7" cy="1030.5" r="2.7"/><circle cx="1118.1" cy="1025.6" r="2.7"/><circle cx="1117.3" cy="1031.1" r="2.7"/><circle cx="1118.4" cy="1024" r="2.7"/><circle cx="1117.1" cy="1029.1" r="2.7"/><circle cx="1120" cy="1025.3" r="2.7"/><circle cx="1120" cy="1031.9" r="2.7"/><circle cx="1119.5" cy="1026.1" r="2.7"/><circle cx="1119.8" cy="1032.1" r="2.7"/><circle cx="1121.3" cy="1028.3" r="2.7"/><circle cx="1122.6" cy="1031.7" r="2.7"/><circle cx="1121.7" cy="1027.4" r="2.7"/><circle cx="1122.6" cy="1030.1" r="2.7"/><circle cx="1123.6" cy="1029.2" r="2.7"/><circle cx="1123.9" cy="1031.9" r="2.7"/><circle cx="1124.2" cy="1028.5" r="2.7"/><circle cx="1124" cy="1031.6" r="2.7"/><circle cx="1125.7" cy="1028.7" r="2.7"/><circle cx="1125.4" cy="1032.7" r="2.7"/><circle cx="1125.2" cy="1026.5" r="2.7"/><circle cx="1126.1" cy="1029.9" r="2.7"/><circle cx="1127.9" cy="1028.3" r="2.7"/><circle cx="1127.5" cy="1031.7" r="2.7"/><circle cx="1127.8" cy="1028.7" r="2.7"/><circle cx="1128.5" cy="1032.1" r="2.7"/><circle cx="1131" cy="1028.6" r="2.7"/><circle cx="1129.8" cy="1031.9" r="2.7"/><circle cx="1129.8" cy="1028.4" r="2.7"/><circle cx="1130" cy="1032.6" r="2.7"/><circle cx="1131.5" cy="1026.7" r="2.7"/><circle cx="1131.7" cy="1030.8" r="2.7"/><circle cx="1131.6" cy="1027.6" r="2.7"/><circle cx="1132.6" cy="1032.7" r="2.7"/><circle cx="1134.4" cy="1028.3" r="2.7"/><circle cx="1133.3" cy="1031.4" r="2.7"/><circle cx="1134.7" cy="1027.3" r="2.7"/><circle cx="1134.2" cy="1030.8" r="2.7"/><circle cx="1135.3" cy="1027.9" r="2.7"/><circle cx="1136.7" cy="1032.8" r="2.7"/><circle cx="1135.5" cy="1026.5" r="2.7"/><circle cx="1136.4" cy="1032.1" r="2.7"/><circle cx="1138.7" cy="1028.4" r="2.7"/><circle cx="1137.5" cy="1030.1" r="2.7"/><circle cx="1137.2" cy="1027" r="2.7"/><circle cx="1137.2" cy="1032.3" r="2.7"/><circle cx="1140.1" cy="1029.7" r="2.7"/><circle cx="1139.1" cy="1031.8" r="2.7"/><circle cx="1139.5" cy="1029.5" r="2.7"/><circle cx="1139.4" cy="1030.8" r="2.7"/><circle cx="1141.3" cy="1027.5" r="2.7"/><circle cx="1141.6" cy="1031.7" r="2.7"/><circle cx="1142.4" cy="1028.3" r="2.7"/><circle cx="1141.3" cy="1032.5" r="2.7"/><circle cx="1143.8" cy="1028.2" r="2.7"/><circle cx="1143.7" cy="1032" r="2.7"/><circle cx="1143.2" cy="1027.4" r="2.7"/><circle cx="1144.3" cy="1031" r="2.7"/><circle cx="1146.3" cy="1028.8" r="2.7"/><circle cx="1145.4" cy="1031.8" r="2.7"/><circle cx="1146.1" cy="1029.8" r="2.7"/><circle cx="1145.5" cy="1031.9" r="2.7"/><circle cx="1149" cy="1027.8" r="2.7"/><circle cx="1148.6" cy="1032.1" r="2.7"/><circle cx="1148.2" cy="1027.3" r="2.7"/><circle cx="1147.5" cy="1032.4" r="2.7"/><circle cx="1149.8" cy="1027.6" r="2.7"/><circle cx="1149.8" cy="1031.3" r="2.7"/><circle cx="1149.3" cy="1029.6" r="2.7"/><circle cx="1149.9" cy="1030.5" r="2.7"/><circle cx="1151.8" cy="1027.6" r="2.7"/><circle cx="1152.8" cy="1032.3" r="2.7"/><circle cx="1152.4" cy="1026.9" r="2.7"/><circle cx="1152.4" cy="1031.6" r="2.7"/><circle cx="1154.5" cy="1024.9" r="2.7"/><circle cx="1153.7" cy="1029.5" r="2.7"/><circle cx="1154.8" cy="1022.5" r="2.7"/><circle cx="1154.8" cy="1030.1" r="2.7"/><circle cx="1155.8" cy="1019.4" r="2.7"/><circle cx="1155.4" cy="1029.3" r="2.7"/><circle cx="1155.3" cy="1018.8" r="2.7"/><circle cx="1155.8" cy="1031.6" r="2.7"/><circle cx="1157.9" cy="1015.9" r="2.7"/><circle cx="1157.7" cy="1031.8" r="2.7"/><circle cx="1157.1" cy="1016.4" r="2.7"/><circle cx="1158.8" cy="1030.7" r="2.7"/><circle cx="1160.9" cy="1019.9" r="2.7"/><circle cx="1160" cy="1029.4" r="2.7"/><circle cx="1159.1" cy="1018.4" r="2.7"/><circle cx="1160.7" cy="1030.6" r="2.7"/><circle cx="1161.3" cy="1022.1" r="2.7"/><circle cx="1162.1" cy="1029.9" r="2.7"/><circle cx="1161.3" cy="1022.5" r="2.7"/><circle cx="1162.1" cy="1030.6" r="2.7"/><circle cx="1164.8" cy="1024.3" r="2.7"/><circle cx="1164.7" cy="1031.8" r="2.7"/><circle cx="1163.8" cy="1023.1" r="2.7"/><circle cx="1164.6" cy="1031.3" r="2.7"/><circle cx="1165.1" cy="1022.2" r="2.7"/><circle cx="1165.3" cy="1030.9" r="2.7"/><circle cx="1165.1" cy="1021.4" r="2.7"/><circle cx="1165.9" cy="1031.2" r="2.7"/><circle cx="1167.3" cy="1020.2" r="2.7"/><circle cx="1168.1" cy="1029.3" r="2.7"/><circle cx="1168.1" cy="1023.1" r="2.7"/><circle cx="1168.4" cy="1029" r="2.7"/><circle cx="1169.1" cy="1022.1" r="2.7"/><circle cx="1170.6" cy="1031.7" r="2.7"/><circle cx="1169.6" cy="1023" r="2.7"/><circle cx="1170.3" cy="1031.6" r="2.7"/><circle cx="1171.5" cy="1025.3" r="2.7"/><circle cx="1172.1" cy="1028.8" r="2.7"/><circle cx="1171.4" cy="1022.8" r="2.7"/><circle cx="1172.9" cy="1030.1" r="2.7"/><circle cx="1173.5" cy="1024" r="2.7"/><circle cx="1173.4" cy="1031.7" r="2.7"/><circle cx="1173.8" cy="1024.1" r="2.7"/><circle cx="1174.3" cy="1031.5" r="2.7"/><circle cx="1175.5" cy="1025.3" r="2.7"/><circle cx="1175.3" cy="1031.1" r="2.7"/><circle cx="1175.2" cy="1025" r="2.7"/><circle cx="1176.3" cy="1031.8" r="2.7"/><circle cx="1178" cy="1026.2" r="2.7"/><circle cx="1178.2" cy="1029.3" r="2.7"/><circle cx="1177.8" cy="1026.7" r="2.7"/><circle cx="1177.6" cy="1031" r="2.7"/><circle cx="1179.3" cy="1024" r="2.7"/><circle cx="1179.4" cy="1031.7" r="2.7"/><circle cx="1179.2" cy="1024.5" r="2.7"/><circle cx="1179.4" cy="1030.4" r="2.7"/><circle cx="1182.4" cy="1022.8" r="2.7"/><circle cx="1182.5" cy="1030.8" r="2.7"/><circle cx="1181.9" cy="1023.8" r="2.7"/><circle cx="1181.1" cy="1031.5" r="2.7"/><circle cx="1183.7" cy="1021.2" r="2.7"/><circle cx="1183.2" cy="1031.4" r="2.7"/><circle cx="1184.8" cy="1019.7" r="2.7"/><circle cx="1184.7" cy="1030.9" r="2.7"/><circle cx="1185.5" cy="1019.6" r="2.7"/><circle cx="1186.8" cy="1031.5" r="2.7"/><circle cx="1186.2" cy="1017.6" r="2.7"/><circle cx="1185.9" cy="1029.1" r="2.7"/><circle cx="1188.9" cy="1018.2" r="2.7"/><circle cx="1188.9" cy="1029.4" r="2.7"/><circle cx="1187.4" cy="1019.1" r="2.7"/><circle cx="1187" cy="1031.8" r="2.7"/><circle cx="1190.1" cy="1022.4" r="2.7"/><circle cx="1190.9" cy="1029.3" r="2.7"/><circle cx="1190.9" cy="1020.1" r="2.7"/><circle cx="1189.4" cy="1031.4" r="2.7"/><circle cx="1193" cy="1022.6" r="2.7"/><circle cx="1191.7" cy="1029.1" r="2.7"/><circle cx="1192.6" cy="1023.1" r="2.7"/><circle cx="1192.8" cy="1029.7" r="2.7"/><circle cx="1193.5" cy="1020.8" r="2.7"/><circle cx="1194.9" cy="1030.8" r="2.7"/><circle cx="1194.7" cy="1021.6" r="2.7"/><circle cx="1194" cy="1031.6" r="2.7"/><circle cx="1196.1" cy="1020.8" r="2.7"/><circle cx="1196.6" cy="1029.7" r="2.7"/><circle cx="1196.4" cy="1019" r="2.7"/><circle cx="1195.9" cy="1030.1" r="2.7"/><circle cx="1198.6" cy="1017.3" r="2.7"/><circle cx="1199" cy="1029.2" r="2.7"/><circle cx="1198.4" cy="1016.9" r="2.7"/><circle cx="1198.7" cy="1030.6" r="2.7"/><circle cx="1199.9" cy="1017.8" r="2.7"/><circle cx="1200.6" cy="1031.5" r="2.7"/><circle cx="1199" cy="1019.3" r="2.7"/><circle cx="1199.3" cy="1031.7" r="2.7"/><circle cx="1202.6" cy="1020.2" r="2.7"/><circle cx="1201.2" cy="1031.3" r="2.7"/><circle cx="1202.2" cy="1020.1" r="2.7"/><circle cx="1201.5" cy="1031" r="2.7"/><circle cx="1203.5" cy="1020.8" r="2.7"/><circle cx="1203.8" cy="1029.6" r="2.7"/><circle cx="1204.1" cy="1021.9" r="2.7"/><circle cx="1203.6" cy="1031.5" r="2.7"/><circle cx="1206.7" cy="1022.6" r="2.7"/><circle cx="1205.3" cy="1029.2" r="2.7"/><circle cx="1205.2" cy="1021.3" r="2.7"/><circle cx="1205.8" cy="1031.6" r="2.7"/><circle cx="1208.8" cy="1023.6" r="2.7"/><circle cx="1207.3" cy="1030.5" r="2.7"/><circle cx="1207.3" cy="1022.4" r="2.7"/><circle cx="1208.1" cy="1031.4" r="2.7"/><circle cx="1209.3" cy="1022.3" r="2.7"/><circle cx="1210.8" cy="1031.4" r="2.7"/><circle cx="1210.2" cy="1022.8" r="2.7"/><circle cx="1209.6" cy="1031.3" r="2.7"/><circle cx="1211" cy="1021.5" r="2.7"/><circle cx="1212.9" cy="1030.3" r="2.7"/><circle cx="1211.1" cy="1021" r="2.7"/><circle cx="1212.6" cy="1031.8" r="2.7"/><circle cx="1213.8" cy="1018" r="2.7"/><circle cx="1214.4" cy="1030.3" r="2.7"/><circle cx="1214.4" cy="1018.2" r="2.7"/><circle cx="1213.9" cy="1029.2" r="2.7"/><circle cx="1216.4" cy="1016.8" r="2.7"/><circle cx="1216.4" cy="1029.2" r="2.7"/><circle cx="1216.6" cy="1019" r="2.7"/><circle cx="1215.5" cy="1028.8" r="2.7"/><circle cx="1217.4" cy="1017.8" r="2.7"/><circle cx="1217.7" cy="1031.7" r="2.7"/><circle cx="1217.6" cy="1019.1" r="2.7"/><circle cx="1218.9" cy="1031.3" r="2.7"/><circle cx="1220.5" cy="1020.8" r="2.7"/><circle cx="1220.6" cy="1031.2" r="2.7"/><circle cx="1219" cy="1017.9" r="2.7"/><circle cx="1219.7" cy="1031.8" r="2.7"/><circle cx="1222.7" cy="1020" r="2.7"/><circle cx="1222.7" cy="1031" r="2.7"/><circle cx="1221.7" cy="1020.6" r="2.7"/><circle cx="1221.1" cy="1031.3" r="2.7"/><circle cx="1224.9" cy="1022.3" r="2.7"/><circle cx="1224.9" cy="1028.9" r="2.7"/><circle cx="1223.9" cy="1021.5" r="2.7"/><circle cx="1223.3" cy="1029.6" r="2.7"/><circle cx="1225.4" cy="1023.2" r="2.7"/><circle cx="1226.5" cy="1031.7" r="2.7"/><circle cx="1227" cy="1024.9" r="2.7"/><circle cx="1226.4" cy="1031.8" r="2.7"/><circle cx="1227.4" cy="1025.3" r="2.7"/><circle cx="1229" cy="1031.7" r="2.7"/><circle cx="1227.1" cy="1025.3" r="2.7"/><circle cx="1228.3" cy="1031.6" r="2.7"/><circle cx="1229.9" cy="1023.4" r="2.7"/><circle cx="1229.2" cy="1031.7" r="2.7"/><circle cx="1230.1" cy="1024.1" r="2.7"/><circle cx="1229" cy="1029.5" r="2.7"/><circle cx="1231.1" cy="1023.8" r="2.7"/><circle cx="1231.3" cy="1030.6" r="2.7"/><circle cx="1232.9" cy="1023.7" r="2.7"/><circle cx="1232.3" cy="1030.3" r="2.7"/><circle cx="1233.4" cy="1023.8" r="2.7"/><circle cx="1234.9" cy="1030.2" r="2.7"/><circle cx="1234.7" cy="1022.5" r="2.7"/><circle cx="1233.4" cy="1031.3" r="2.7"/><circle cx="1236.7" cy="1022.6" r="2.7"/><circle cx="1235.4" cy="1031.6" r="2.7"/><circle cx="1235.4" cy="1022" r="2.7"/><circle cx="1237" cy="1030.8" r="2.7"/><circle cx="1237.9" cy="1019.6" r="2.7"/><circle cx="1237.3" cy="1031.6" r="2.7"/><circle cx="1238.9" cy="1020.9" r="2.7"/><circle cx="1238.1" cy="1030.9" r="2.7"/><circle cx="1240.7" cy="1019.9" r="2.7"/><circle cx="1239.7" cy="1029" r="2.7"/><circle cx="1240.8" cy="1018.4" r="2.7"/><circle cx="1240.8" cy="1030.5" r="2.7"/><circle cx="1242.6" cy="1018" r="2.7"/><circle cx="1241.3" cy="1031.7" r="2.7"/><circle cx="1241.7" cy="1017.9" r="2.7"/><circle cx="1242.3" cy="1031.1" r="2.7"/><circle cx="1243.9" cy="1020.2" r="2.7"/><circle cx="1243.8" cy="1030.5" r="2.7"/><circle cx="1243.5" cy="1018.1" r="2.7"/><circle cx="1243.5" cy="1031.8" r="2.7"/><circle cx="1246.6" cy="1018.9" r="2.7"/><circle cx="1245.9" cy="1030.1" r="2.7"/><circle cx="1245.4" cy="1017.9" r="2.7"/><circle cx="1247" cy="1031.5" r="2.7"/><circle cx="1247.8" cy="1018.1" r="2.7"/><circle cx="1248" cy="1030.6" r="2.7"/><circle cx="1247.8" cy="1017.2" r="2.7"/><circle cx="1248.8" cy="1031" r="2.7"/><circle cx="1249.6" cy="1019" r="2.7"/><circle cx="1249.4" cy="1030.9" r="2.7"/><circle cx="1249.3" cy="1019.4" r="2.7"/><circle cx="1249" cy="1030.8" r="2.7"/><circle cx="1251.9" cy="1018.3" r="2.7"/><circle cx="1251.3" cy="1032" r="2.7"/><circle cx="1251.9" cy="1018.4" r="2.7"/><circle cx="1251.1" cy="1031.5" r="2.7"/><circle cx="1253.7" cy="1020.3" r="2.7"/><circle cx="1254.2" cy="1032.3" r="2.7"/><circle cx="1254.1" cy="1020.1" r="2.7"/><circle cx="1253" cy="1030.7" r="2.7"/><circle cx="1256.3" cy="1023.2" r="2.7"/><circle cx="1256.4" cy="1030.3" r="2.7"/><circle cx="1256.3" cy="1024.5" r="2.7"/><circle cx="1256.6" cy="1032.5" r="2.7"/><circle cx="1258" cy="1024.7" r="2.7"/><circle cx="1257.1" cy="1030.2" r="2.7"/><circle cx="1257.7" cy="1025.3" r="2.7"/><circle cx="1258.6" cy="1031.7" r="2.7"/><circle cx="1260" cy="1023.5" r="2.7"/><circle cx="1259.1" cy="1032.8" r="2.7"/><circle cx="1259.4" cy="1026.1" r="2.7"/><circle cx="1259.2" cy="1032" r="2.7"/><circle cx="1262" cy="1026.6" r="2.7"/><circle cx="1261.5" cy="1030.5" r="2.7"/><circle cx="1261.5" cy="1024.8" r="2.7"/><circle cx="1262.4" cy="1031.5" r="2.7"/><circle cx="1264.2" cy="1024.8" r="2.7"/><circle cx="1264.9" cy="1032.3" r="2.7"/><circle cx="1263.3" cy="1023.5" r="2.7"/><circle cx="1264.9" cy="1031.2" r="2.7"/><circle cx="1265.5" cy="1024.5" r="2.7"/><circle cx="1265.9" cy="1030.1" r="2.7"/><circle cx="1266.3" cy="1023.4" r="2.7"/><circle cx="1266.8" cy="1031.4" r="2.7"/><circle cx="1267.6" cy="1023.4" r="2.7"/><circle cx="1267.6" cy="1030.3" r="2.7"/><circle cx="1267.3" cy="1022.5" r="2.7"/><circle cx="1267.6" cy="1031.3" r="2.7"/><circle cx="1270.3" cy="1023.4" r="2.7"/><circle cx="1270.9" cy="1032.1" r="2.7"/><circle cx="1270.5" cy="1020.5" r="2.7"/><circle cx="1269" cy="1031.3" r="2.7"/><circle cx="1271.2" cy="1021.8" r="2.7"/><circle cx="1271.2" cy="1029.8" r="2.7"/><circle cx="1272.1" cy="1022.4" r="2.7"/><circle cx="1272.9" cy="1032.7" r="2.7"/><circle cx="1274.2" cy="1022.7" r="2.7"/><circle cx="1273.3" cy="1032.4" r="2.7"/><circle cx="1273.1" cy="1021.9" r="2.7"/><circle cx="1274" cy="1032.6" r="2.7"/><circle cx="1276.5" cy="1022.6" r="2.7"/><circle cx="1275.4" cy="1032.7" r="2.7"/><circle cx="1276.4" cy="1023" r="2.7"/><circle cx="1275.4" cy="1032.3" r="2.7"/><circle cx="1277.7" cy="1021.3" r="2.7"/><circle cx="1278.6" cy="1032" r="2.7"/><circle cx="1277.7" cy="1021.5" r="2.7"/><circle cx="1277.4" cy="1030.7" r="2.7"/><circle cx="1280.9" cy="1019.2" r="2.7"/><circle cx="1279.6" cy="1029.6" r="2.7"/><circle cx="1279.9" cy="1019.6" r="2.7"/><circle cx="1280.6" cy="1032" r="2.7"/><circle cx="1282.4" cy="1019.7" r="2.7"/><circle cx="1282.7" cy="1031.1" r="2.7"/><circle cx="1281.4" cy="1020" r="2.7"/><circle cx="1281.3" cy="1030.2" r="2.7"/><circle cx="1284.6" cy="1017.7" r="2.7"/><circle cx="1284.5" cy="1030.9" r="2.7"/><circle cx="1283.1" cy="1014.7" r="2.7"/><circle cx="1283.2" cy="1030.6" r="2.7"/><circle cx="1286.7" cy="1012.4" r="2.7"/><circle cx="1285.5" cy="1030.1" r="2.7"/><circle cx="1286.1" cy="1011.5" r="2.7"/><circle cx="1286.8" cy="1030.4" r="2.7"/><circle cx="1287.9" cy="1014.7" r="2.7"/><circle cx="1287.8" cy="1031.1" r="2.7"/><circle cx="1287.8" cy="1014.8" r="2.7"/><circle cx="1287.4" cy="1030.8" r="2.7"/><circle cx="1290.1" cy="1018.4" r="2.7"/><circle cx="1290" cy="1029.7" r="2.7"/><circle cx="1289.1" cy="1018.4" r="2.7"/><circle cx="1289.7" cy="1031.4" r="2.7"/><circle cx="1291.9" cy="1021.3" r="2.7"/><circle cx="1291.7" cy="1031.4" r="2.7"/><circle cx="1292.3" cy="1023" r="2.7"/><circle cx="1291.1" cy="1032.8" r="2.7"/><circle cx="1294.2" cy="1020.3" r="2.7"/><circle cx="1293.5" cy="1031.6" r="2.7"/><circle cx="1294.4" cy="1019.7" r="2.7"/><circle cx="1294.1" cy="1032.1" r="2.7"/><circle cx="1296.3" cy="1017.5" r="2.7"/><circle cx="1295" cy="1031.8" r="2.7"/><circle cx="1296.6" cy="1019.3" r="2.7"/><circle cx="1296.9" cy="1029.6" r="2.7"/><circle cx="1297.9" cy="1018.4" r="2.7"/><circle cx="1298.4" cy="1032.4" r="2.7"/><circle cx="1297.6" cy="1017.3" r="2.7"/><circle cx="1298.2" cy="1032.7" r="2.7"/><circle cx="1300.5" cy="1018.9" r="2.7"/><circle cx="1299.4" cy="1032.6" r="2.7"/><circle cx="1299.3" cy="1018.6" r="2.7"/><circle cx="1300.9" cy="1030.1" r="2.7"/><circle cx="1301.5" cy="1019.1" r="2.7"/><circle cx="1302.5" cy="1031.5" r="2.7"/><circle cx="1302.3" cy="1018.2" r="2.7"/><circle cx="1302.8" cy="1031.4" r="2.7"/><circle cx="1304.3" cy="1020.2" r="2.7"/><circle cx="1304.8" cy="1031.6" r="2.7"/><circle cx="1304.4" cy="1019.6" r="2.7"/><circle cx="1303.2" cy="1032.3" r="2.7"/><circle cx="1305.4" cy="1018.5" r="2.7"/><circle cx="1305.4" cy="1029.6" r="2.7"/><circle cx="1305.7" cy="1020" r="2.7"/><circle cx="1306.2" cy="1032.4" r="2.7"/><circle cx="1309" cy="1016.9" r="2.7"/><circle cx="1307.2" cy="1030.9" r="2.7"/><circle cx="1307.2" cy="1016.9" r="2.7"/><circle cx="1308.1" cy="1031.4" r="2.7"/><circle cx="1310.3" cy="1016" r="2.7"/><circle cx="1310.6" cy="1031.3" r="2.7"/><circle cx="1309.5" cy="1017.3" r="2.7"/><circle cx="1309.1" cy="1029.7" r="2.7"/><circle cx="1311.1" cy="1014.9" r="2.7"/><circle cx="1312.1" cy="1028.8" r="2.7"/><circle cx="1313" cy="1017.3" r="2.7"/><circle cx="1312.8" cy="1032" r="2.7"/><circle cx="1314.4" cy="1013.7" r="2.7"/><circle cx="1313.8" cy="1029.3" r="2.7"/><circle cx="1314.5" cy="1016.7" r="2.7"/><circle cx="1313.6" cy="1030.7" r="2.7"/><circle cx="1315.2" cy="1014" r="2.7"/><circle cx="1316" cy="1030.4" r="2.7"/><circle cx="1316.1" cy="1014.1" r="2.7"/><circle cx="1315.6" cy="1031.7" r="2.7"/><circle cx="1317.3" cy="1016.9" r="2.7"/><circle cx="1317.3" cy="1030.6" r="2.7"/><circle cx="1317.4" cy="1017.9" r="2.7"/><circle cx="1318.8" cy="1028.7" r="2.7"/><circle cx="1319.6" cy="1019.4" r="2.7"/><circle cx="1319.1" cy="1030.1" r="2.7"/><circle cx="1320.4" cy="1019.4" r="2.7"/><circle cx="1319.3" cy="1031.8" r="2.7"/><circle cx="1321.7" cy="1017.7" r="2.7"/><circle cx="1322.6" cy="1029.1" r="2.7"/><circle cx="1322.6" cy="1018.1" r="2.7"/><circle cx="1322.1" cy="1031.8" r="2.7"/><circle cx="1323.2" cy="1018.2" r="2.7"/><circle cx="1324.3" cy="1029" r="2.7"/><circle cx="1324.3" cy="1020.5" r="2.7"/><circle cx="1323.3" cy="1030.2" r="2.7"/><circle cx="1326.8" cy="1017.1" r="2.7"/><circle cx="1326.3" cy="1030" r="2.7"/><circle cx="1325.7" cy="1017" r="2.7"/><circle cx="1325.4" cy="1031.2" r="2.7"/><circle cx="1327.2" cy="1014.9" r="2.7"/><circle cx="1328.5" cy="1030.8" r="2.7"/><circle cx="1328.4" cy="1018" r="2.7"/><circle cx="1327.4" cy="1028.3" r="2.7"/><circle cx="1329.8" cy="1016" r="2.7"/><circle cx="1329.5" cy="1027.7" r="2.7"/><circle cx="1330.1" cy="1013.8" r="2.7"/><circle cx="1329.5" cy="1030.1" r="2.7"/><circle cx="1332.6" cy="1014.1" r="2.7"/><circle cx="1332.3" cy="1026.4" r="2.7"/><circle cx="1331.9" cy="1012.6" r="2.7"/><circle cx="1332.2" cy="1028.4" r="2.7"/><circle cx="1334.1" cy="1014.3" r="2.7"/><circle cx="1334" cy="1026.2" r="2.7"/><circle cx="1333.1" cy="1012" r="2.7"/><circle cx="1334" cy="1029.2" r="2.7"/><circle cx="1335.9" cy="1010.5" r="2.7"/><circle cx="1335.5" cy="1029.7" r="2.7"/><circle cx="1336.8" cy="1013.7" r="2.7"/><circle cx="1336.2" cy="1029.7" r="2.7"/><circle cx="1337.1" cy="1011.2" r="2.7"/><circle cx="1338.1" cy="1029.2" r="2.7"/><circle cx="1338.1" cy="1011" r="2.7"/><circle cx="1338.2" cy="1029.7" r="2.7"/><circle cx="1339.4" cy="1011.3" r="2.7"/><circle cx="1340.9" cy="1028.1" r="2.7"/><circle cx="1340.2" cy="1012.9" r="2.7"/><circle cx="1340.5" cy="1028.4" r="2.7"/><circle cx="1342.4" cy="1010.6" r="2.7"/><circle cx="1342.1" cy="1029" r="2.7"/><circle cx="1342.2" cy="1011.9" r="2.7"/><circle cx="1341.8" cy="1028" r="2.7"/><circle cx="1344.3" cy="1010.7" r="2.7"/><circle cx="1343.9" cy="1028.7" r="2.7"/><circle cx="1343.6" cy="1010.8" r="2.7"/><circle cx="1344.8" cy="1027.9" r="2.7"/><circle cx="1346.3" cy="1010.7" r="2.7"/><circle cx="1346.3" cy="1028.4" r="2.7"/><circle cx="1345.8" cy="1012.5" r="2.7"/><circle cx="1345.7" cy="1029.8" r="2.7"/><circle cx="1348.3" cy="1012.3" r="2.7"/><circle cx="1348.3" cy="1026.4" r="2.7"/><circle cx="1347.7" cy="1012.9" r="2.7"/><circle cx="1347.3" cy="1027.2" r="2.7"/><circle cx="1350" cy="1013.9" r="2.7"/><circle cx="1350.4" cy="1028.6" r="2.7"/><circle cx="1351" cy="1012.2" r="2.7"/><circle cx="1349.1" cy="1029.6" r="2.7"/><circle cx="1351.5" cy="1011.7" r="2.7"/><circle cx="1353" cy="1029.2" r="2.7"/><circle cx="1351.6" cy="1011.4" r="2.7"/><circle cx="1351.5" cy="1028.8" r="2.7"/><circle cx="1353.3" cy="1009.6" r="2.7"/><circle cx="1354.5" cy="1025.5" r="2.7"/><circle cx="1353.2" cy="1009.9" r="2.7"/><circle cx="1354.8" cy="1025.5" r="2.7"/><circle cx="1356.7" cy="1008.4" r="2.7"/><circle cx="1357" cy="1027.6" r="2.7"/><circle cx="1355.9" cy="1009.4" r="2.7"/><circle cx="1356.2" cy="1029.2" r="2.7"/><circle cx="1358.8" cy="1007.9" r="2.7"/><circle cx="1358.8" cy="1028.7" r="2.7"/><circle cx="1358.6" cy="1008.2" r="2.7"/><circle cx="1358.9" cy="1026.5" r="2.7"/><circle cx="1359.7" cy="1008.4" r="2.7"/><circle cx="1359.5" cy="1028.4" r="2.7"/><circle cx="1359.6" cy="1006.7" r="2.7"/><circle cx="1360.6" cy="1028.2" r="2.7"/><circle cx="1362" cy="1006.9" r="2.7"/><circle cx="1361.3" cy="1027.3" r="2.7"/><circle cx="1361.4" cy="1009.3" r="2.7"/><circle cx="1361.3" cy="1026.1" r="2.7"/><circle cx="1363.6" cy="1011.6" r="2.7"/><circle cx="1363.3" cy="1028.7" r="2.7"/><circle cx="1363.3" cy="1008.5" r="2.7"/><circle cx="1364.9" cy="1028.2" r="2.7"/><circle cx="1365.8" cy="1010.3" r="2.7"/><circle cx="1365.1" cy="1026.3" r="2.7"/><circle cx="1366.7" cy="1009.6" r="2.7"/><circle cx="1365.3" cy="1028.1" r="2.7"/><circle cx="1368.5" cy="1005.8" r="2.7"/><circle cx="1367.8" cy="1024.1" r="2.7"/><circle cx="1367.9" cy="1008.1" r="2.7"/><circle cx="1367.6" cy="1028.2" r="2.7"/><circle cx="1369.5" cy="997.1" r="2.7"/><circle cx="1369.2" cy="1023.8" r="2.7"/><circle cx="1370.5" cy="997.3" r="2.7"/><circle cx="1370.9" cy="1028" r="2.7"/><circle cx="1372.3" cy="994.4" r="2.7"/><circle cx="1371.4" cy="1027.3" r="2.7"/><circle cx="1373" cy="996.5" r="2.7"/><circle cx="1372.6" cy="1027.8" r="2.7"/><circle cx="1373.2" cy="991.7" r="2.7"/><circle cx="1373.2" cy="1024.7" r="2.7"/><circle cx="1374.7" cy="996.5" r="2.7"/><circle cx="1373.3" cy="1026.9" r="2.7"/><circle cx="1376.5" cy="993.6" r="2.7"/><circle cx="1376.4" cy="1027.8" r="2.7"/><circle cx="1375.8" cy="991.4" r="2.7"/><circle cx="1375.2" cy="1027.4" r="2.7"/><circle cx="1377.6" cy="993.6" r="2.7"/><circle cx="1378.8" cy="1021.7" r="2.7"/><circle cx="1378" cy="995.2" r="2.7"/><circle cx="1377.7" cy="1024.3" r="2.7"/><circle cx="1380.1" cy="992.7" r="2.7"/><circle cx="1379.9" cy="1026" r="2.7"/><circle cx="1381" cy="996.1" r="2.7"/><circle cx="1380.7" cy="1023.4" r="2.7"/><circle cx="1381.1" cy="991.3" r="2.7"/><circle cx="1382" cy="1027.1" r="2.7"/><circle cx="1382.5" cy="994.9" r="2.7"/><circle cx="1382.6" cy="1021.6" r="2.7"/><circle cx="1383.1" cy="992.2" r="2.7"/><circle cx="1383.7" cy="1025.6" r="2.7"/><circle cx="1384.8" cy="996.8" r="2.7"/><circle cx="1384.5" cy="1025.2" r="2.7"/><circle cx="1386" cy="996.3" r="2.7"/><circle cx="1386.9" cy="1025.9" r="2.7"/><circle cx="1386.1" cy="997" r="2.7"/><circle cx="1385.3" cy="1021.1" r="2.7"/><circle cx="1388.1" cy="1000.8" r="2.7"/><circle cx="1387.3" cy="1026.8" r="2.7"/><circle cx="1388.7" cy="999.4" r="2.7"/><circle cx="1388.8" cy="1027.4" r="2.7"/><circle cx="1389.4" cy="1006.6" r="2.7"/><circle cx="1390" cy="1025.8" r="2.7"/><circle cx="1389.2" cy="1002.4" r="2.7"/><circle cx="1390.9" cy="1027.2" r="2.7"/><circle cx="1392.9" cy="1009.5" r="2.7"/><circle cx="1392" cy="1026.4" r="2.7"/><circle cx="1391.9" cy="1006.3" r="2.7"/><circle cx="1393" cy="1026" r="2.7"/><circle cx="1394.3" cy="999.5" r="2.7"/><circle cx="1394.9" cy="1028.2" r="2.7"/><circle cx="1394.4" cy="999.8" r="2.7"/><circle cx="1393.4" cy="1025.5" r="2.7"/><circle cx="1395.8" cy="994.6" r="2.7"/><circle cx="1395.8" cy="1028.2" r="2.7"/><circle cx="1396.4" cy="992.7" r="2.7"/><circle cx="1396.1" cy="1022" r="2.7"/><circle cx="1398" cy="995.4" r="2.7"/><circle cx="1398.5" cy="1028.7" r="2.7"/><circle cx="1397.2" cy="997.6" r="2.7"/><circle cx="1397.2" cy="1027.5" r="2.7"/><circle cx="1399" cy="1006.1" r="2.7"/><circle cx="1399.1" cy="1025.2" r="2.7"/><circle cx="1399.4" cy="1007" r="2.7"/><circle cx="1400.4" cy="1027.4" r="2.7"/><circle cx="1402.7" cy="1015.7" r="2.7"/><circle cx="1402.4" cy="1029.5" r="2.7"/><circle cx="1401.3" cy="1013.4" r="2.7"/><circle cx="1402.9" cy="1028.6" r="2.7"/><circle cx="1404.4" cy="1013.7" r="2.7"/><circle cx="1404.8" cy="1028.3" r="2.7"/><circle cx="1403.5" cy="1014.7" r="2.7"/><circle cx="1403.2" cy="1027" r="2.7"/><circle cx="1405.6" cy="1009.2" r="2.7"/><circle cx="1405.3" cy="1029" r="2.7"/><circle cx="1405.3" cy="1010.1" r="2.7"/><circle cx="1405.3" cy="1025.2" r="2.7"/><circle cx="1407.1" cy="1007.8" r="2.7"/><circle cx="1408.1" cy="1026.2" r="2.7"/><circle cx="1408.9" cy="1005.5" r="2.7"/><circle cx="1409" cy="1028.3" r="2.7"/><circle cx="1410.6" cy="1005.6" r="2.7"/><circle cx="1411" cy="1028.3" r="2.7"/><circle cx="1409.9" cy="1006.6" r="2.7"/><circle cx="1410.8" cy="1028.4" r="2.7"/><circle cx="1413" cy="1005.9" r="2.7"/><circle cx="1412.5" cy="1024.8" r="2.7"/><circle cx="1411.3" cy="1006.8" r="2.7"/><circle cx="1412.4" cy="1025.2" r="2.7"/><circle cx="1413.1" cy="1004.3" r="2.7"/><circle cx="1413.4" cy="1028.7" r="2.7"/><circle cx="1414.5" cy="1007.4" r="2.7"/><circle cx="1413.7" cy="1026.1" r="2.7"/><circle cx="1415.3" cy="1008" r="2.7"/><circle cx="1415.9" cy="1028.2" r="2.7"/><circle cx="1416.5" cy="1004.1" r="2.7"/><circle cx="1416.5" cy="1024.9" r="2.7"/><circle cx="1418.2" cy="1003.7" r="2.7"/><circle cx="1418.1" cy="1027.7" r="2.7"/><circle cx="1417.3" cy="1004.7" r="2.7"/><circle cx="1418.6" cy="1024.6" r="2.7"/><circle cx="1419.2" cy="1005.6" r="2.7"/><circle cx="1420.5" cy="1027.8" r="2.7"/><circle cx="1420.2" cy="1005.8" r="2.7"/><circle cx="1419.9" cy="1023.7" r="2.7"/><circle cx="1421.9" cy="1002" r="2.7"/><circle cx="1421.8" cy="1027.4" r="2.7"/><circle cx="1421.6" cy="1005.1" r="2.7"/><circle cx="1422.2" cy="1025.1" r="2.7"/><circle cx="1424" cy="1000.9" r="2.7"/><circle cx="1424.3" cy="1023.7" r="2.7"/><circle cx="1424.3" cy="1005" r="2.7"/><circle cx="1423.1" cy="1022.7" r="2.7"/><circle cx="1425.4" cy="1001.6" r="2.7"/><circle cx="1425.6" cy="1024.3" r="2.7"/><circle cx="1426.3" cy="1003" r="2.7"/><circle cx="1426.2" cy="1027.8" r="2.7"/><circle cx="1427.5" cy="999.9" r="2.7"/><circle cx="1428.3" cy="1024.5" r="2.7"/><circle cx="1428.4" cy="999.4" r="2.7"/><circle cx="1427.1" cy="1027.2" r="2.7"/><circle cx="1430.9" cy="1002.3" r="2.7"/><circle cx="1431" cy="1021.5" r="2.7"/><circle cx="1430.1" cy="1001.2" r="2.7"/><circle cx="1430.1" cy="1024.7" r="2.7"/><circle cx="1432.9" cy="1001.7" r="2.7"/><circle cx="1431.4" cy="1024.6" r="2.7"/><circle cx="1431.8" cy="998.5" r="2.7"/><circle cx="1432.8" cy="1022" r="2.7"/><circle cx="1433.2" cy="997.9" r="2.7"/><circle cx="1433.3" cy="1023.4" r="2.7"/><circle cx="1434.6" cy="997.3" r="2.7"/><circle cx="1433.9" cy="1022.5" r="2.7"/><circle cx="1436.9" cy="994.2" r="2.7"/><circle cx="1436" cy="1020.2" r="2.7"/><circle cx="1436.4" cy="993.9" r="2.7"/><circle cx="1435.8" cy="1023.7" r="2.7"/><circle cx="1437.5" cy="994.3" r="2.7"/><circle cx="1438.3" cy="1024.3" r="2.7"/><circle cx="1437.9" cy="995.2" r="2.7"/><circle cx="1438" cy="1020.7" r="2.7"/><circle cx="1439.5" cy="993.1" r="2.7"/><circle cx="1440.3" cy="1021.6" r="2.7"/><circle cx="1440.5" cy="995.7" r="2.7"/><circle cx="1440.5" cy="1022.8" r="2.7"/><circle cx="1441.5" cy="995" r="2.7"/><circle cx="1442.3" cy="1023.2" r="2.7"/><circle cx="1442.9" cy="997.1" r="2.7"/><circle cx="1442.6" cy="1019" r="2.7"/><circle cx="1443.5" cy="994.8" r="2.7"/><circle cx="1444.7" cy="1022" r="2.7"/><circle cx="1444" cy="992.9" r="2.7"/><circle cx="1443" cy="1020.5" r="2.7"/><circle cx="1445.4" cy="989.5" r="2.7"/><circle cx="1446.6" cy="1018.1" r="2.7"/><circle cx="1445.3" cy="989.4" r="2.7"/><circle cx="1445.3" cy="1016.3" r="2.7"/><circle cx="1448.2" cy="991.2" r="2.7"/><circle cx="1448.5" cy="1016.8" r="2.7"/><circle cx="1448.5" cy="986.6" r="2.7"/><circle cx="1447.1" cy="1018.3" r="2.7"/><circle cx="1449.6" cy="990.2" r="2.7"/><circle cx="1450" cy="1020" r="2.7"/><circle cx="1450.1" cy="986.4" r="2.7"/><circle cx="1450.7" cy="1022" r="2.7"/><circle cx="1451.2" cy="983.4" r="2.7"/><circle cx="1451.4" cy="1019.3" r="2.7"/><circle cx="1452.4" cy="982.7" r="2.7"/><circle cx="1451.3" cy="1016.9" r="2.7"/><circle cx="1454.9" cy="982.3" r="2.7"/><circle cx="1453.4" cy="1018.3" r="2.7"/><circle cx="1453.5" cy="984.7" r="2.7"/><circle cx="1454.3" cy="1021.9" r="2.7"/><circle cx="1455.3" cy="985.4" r="2.7"/><circle cx="1456.9" cy="1018.6" r="2.7"/><circle cx="1456.5" cy="985.3" r="2.7"/><circle cx="1455.1" cy="1022.1" r="2.7"/><circle cx="1457" cy="989.2" r="2.7"/><circle cx="1458.8" cy="1018.9" r="2.7"/><circle cx="1457.3" cy="989.2" r="2.7"/><circle cx="1457.8" cy="1022.8" r="2.7"/><circle cx="1459.4" cy="988.3" r="2.7"/><circle cx="1459.2" cy="1017.9" r="2.7"/><circle cx="1459.3" cy="990.5" r="2.7"/><circle cx="1459.3" cy="1019.3" r="2.7"/>
<circle cx="142.1" cy="923.8" r="2.7"/>
<circle cx="157" cy="950.9" r="2.7"/>
<circle cx="162.8" cy="932.2" r="2.7"/>
<circle cx="198.2" cy="925.8" r="2.7"/>
<circle cx="220" cy="907.1" r="2.7"/>
<circle cx="261.4" cy="876.4" r="2.7"/>
<circle cx="273.8" cy="847" r="2.7"/>
<circle cx="314.7" cy="896.7" r="2.7"/>
<circle cx="365.3" cy="951.4" r="2.7"/>
<circle cx="414" cy="983.3" r="2.7"/>
<circle cx="442" cy="964.1" r="2.7"/>
<circle cx="475.4" cy="963.8" r="2.7"/>
<circle cx="493.1" cy="833.8" r="2.7"/>
<circle cx="502.3" cy="931.3" r="2.7"/>
<circle cx="520.4" cy="926.6" r="2.7"/>
<circle cx="533.4" cy="893.2" r="2.7"/>
<circle cx="572.5" cy="856.1" r="2.7"/>
<circle cx="578.4" cy="854.8" r="2.7"/>
<circle cx="597.3" cy="867" r="2.7"/>
<circle cx="612.2" cy="882" r="2.7"/>
<circle cx="636.5" cy="962.1" r="2.7"/>
<circle cx="640.7" cy="926.4" r="2.7"/>
<circle cx="657.5" cy="938.5" r="2.7"/>
<circle cx="665.6" cy="981.5" r="2.7"/>
<circle cx="674.5" cy="910.6" r="2.7"/>
<circle cx="676.8" cy="904.9" r="2.7"/>
<circle cx="688.4" cy="914.3" r="2.7"/>
<circle cx="692.1" cy="951.1" r="2.7"/>
<circle cx="713.6" cy="995.8" r="2.7"/>
<circle cx="723.5" cy="1000.1" r="2.7"/>
<circle cx="725.7" cy="1002" r="2.7"/>
<circle cx="811.9" cy="993.4" r="2.7"/>
<circle cx="821.2" cy="974.4" r="2.7"/>
<circle cx="840.6" cy="1001.1" r="2.7"/>
<circle cx="863.8" cy="1000.5" r="2.7"/>
<circle cx="865.6" cy="1003.2" r="2.7"/>
<circle cx="893.5" cy="1001.9" r="2.7"/>
<circle cx="939.4" cy="990" r="2.7"/>
<circle cx="996.3" cy="1014.6" r="2.7"/>
<circle cx="1116.5" cy="1020.1" r="2.7"/>
<circle cx="1128.2" cy="1024" r="2.7"/>
<circle cx="1161.5" cy="1017.3" r="2.7"/>
<circle cx="1164.9" cy="1019.7" r="2.7"/>
<circle cx="1185.7" cy="1011.3" r="2.7"/>
<circle cx="1189.5" cy="1017.1" r="2.7"/>
<circle cx="1199.3" cy="1011.9" r="2.7"/>
<circle cx="1283.9" cy="1011.1" r="2.7"/>
<circle cx="1288.4" cy="1006" r="2.7"/>
<circle cx="1364.6" cy="1003.6" r="2.7"/>
<circle cx="1381.3" cy="986.1" r="2.7"/>
<circle cx="1441" cy="988.7" r="2.7"/>
<circle cx="1460.8" cy="984.3" r="2.7"/>
<circle cx="125" cy="891" r="2.7"/>
<circle cx="125" cy="905" r="2.7"/>
<circle cx="125" cy="915" r="2.7"/>
<circle cx="125" cy="926" r="2.7"/>
<circle cx="144" cy="898" r="2.7"/>
<circle cx="144" cy="907" r="2.7"/>
<circle cx="144" cy="912" r="2.7"/>
<circle cx="144" cy="918" r="2.7"/>
<circle cx="164" cy="915" r="2.7"/>
<circle cx="164" cy="922" r="2.7"/>
<circle cx="213" cy="873" r="2.7"/>
<circle cx="226" cy="881" r="2.7"/>
<circle cx="226" cy="889" r="2.7"/>
<circle cx="248" cy="908" r="2.7"/>
<circle cx="248" cy="915" r="2.7"/>
<circle cx="211" cy="1011" r="2.7"/>
<circle cx="215" cy="1016" r="2.7"/>
<circle cx="220" cy="1021" r="2.7"/>
<circle cx="272" cy="814" r="2.7"/>
<circle cx="272" cy="835" r="2.7"/>
<circle cx="272" cy="841" r="2.7"/>
<circle cx="272" cy="855" r="2.7"/>
<circle cx="283" cy="851" r="2.7"/>
<circle cx="283" cy="858" r="2.7"/>
<circle cx="283" cy="862" r="2.7"/>
<circle cx="292" cy="836" r="2.7"/>
<circle cx="293" cy="845" r="2.7"/>
<circle cx="293" cy="853" r="2.7"/>
<circle cx="293" cy="865" r="2.7"/>
<circle cx="260" cy="876" r="2.7"/>
<circle cx="329" cy="859" r="2.7"/>
<circle cx="333" cy="863" r="2.7"/>
<circle cx="332" cy="873" r="2.7"/>
<circle cx="346" cy="885" r="2.7"/>
<circle cx="350" cy="877" r="2.7"/>
<circle cx="323" cy="894" r="2.7"/>
<circle cx="341" cy="893" r="2.7"/>
<circle cx="344" cy="900" r="2.7"/>
<circle cx="374" cy="927" r="2.7"/>
<circle cx="377" cy="927" r="2.7"/>
<circle cx="388" cy="927" r="2.7"/>
<circle cx="286" cy="1009" r="2.7"/>
<circle cx="258" cy="1019" r="2.7"/>
<circle cx="436" cy="943" r="2.7"/>
<circle cx="440" cy="948" r="2.7"/>
<circle cx="584" cy="756" r="2.7"/>
<circle cx="584" cy="780" r="2.7"/>
<circle cx="584" cy="800" r="2.7"/>
<circle cx="584" cy="808" r="2.7"/>
<circle cx="584" cy="820" r="2.7"/>
<circle cx="617" cy="800" r="2.7"/>
<circle cx="617" cy="815" r="2.7"/>
<circle cx="617" cy="835" r="2.7"/>
<circle cx="617" cy="860" r="2.7"/>
<circle cx="617" cy="875" r="2.7"/>
<circle cx="617" cy="900" r="2.7"/>
<circle cx="617" cy="918" r="2.7"/>
<circle cx="525" cy="787" r="2.7"/>
<circle cx="525" cy="797" r="2.7"/>
<circle cx="525" cy="810" r="2.7"/>
<circle cx="493" cy="762" r="2.7"/>
<circle cx="493" cy="770" r="2.7"/>
<circle cx="493" cy="788" r="2.7"/>
<circle cx="493" cy="805" r="2.7"/>
<circle cx="493" cy="822" r="2.7"/>
<circle cx="193.9" cy="900" r="2.8"/>
<circle cx="194.6" cy="898.5" r="2.8"/>
<circle cx="194.3" cy="896.9" r="2.8"/>
<circle cx="194" cy="895" r="2.8"/>
<circle cx="195.6" cy="893.1" r="2.8"/>
<circle cx="193.5" cy="890.5" r="2.8"/>
<circle cx="193.4" cy="886.5" r="2.8"/>
<circle cx="193.8" cy="881.2" r="2.8"/>
<circle cx="194.2" cy="877.4" r="2.8"/>
<circle cx="193.4" cy="871.9" r="2.8"/>
<circle cx="194.5" cy="858.8" r="2.8"/>
<circle cx="194" cy="853.7" r="2.8"/>
<circle cx="208.2" cy="890" r="2.8"/>
<circle cx="206.3" cy="888.5" r="2.8"/>
<circle cx="207.3" cy="886.9" r="2.8"/>
<circle cx="207.9" cy="885.2" r="2.8"/>
<circle cx="206" cy="882.9" r="2.8"/>
<circle cx="208.5" cy="880" r="2.8"/>
<circle cx="208.4" cy="876.8" r="2.8"/>
<circle cx="205.6" cy="873" r="2.8"/>
<circle cx="206.6" cy="868.2" r="2.8"/>
<circle cx="207" cy="859.7" r="2.8"/>
<circle cx="206.6" cy="846.9" r="2.8"/>
<circle cx="207" cy="839.7" r="2.8"/>
<circle cx="513.1" cy="900" r="2.8"/>
<circle cx="515.8" cy="898.5" r="2.8"/>
<circle cx="514" cy="897" r="2.8"/>
<circle cx="516.6" cy="895.4" r="2.8"/>
<circle cx="513.2" cy="893.8" r="2.8"/>
<circle cx="515.7" cy="891.9" r="2.8"/>
<circle cx="516.5" cy="890.2" r="2.8"/>
<circle cx="516.6" cy="888" r="2.8"/>
<circle cx="515.2" cy="885.6" r="2.8"/>
<circle cx="513.7" cy="883.1" r="2.8"/>
<circle cx="514.5" cy="880.4" r="2.8"/>
<circle cx="514.4" cy="878" r="2.8"/>
<circle cx="516" cy="875.8" r="2.8"/>
<circle cx="513.4" cy="872.2" r="2.8"/>
<circle cx="513.5" cy="868.7" r="2.8"/>
<circle cx="514" cy="864.9" r="2.8"/>
<circle cx="514.5" cy="859.4" r="2.8"/>
<circle cx="514.3" cy="854.7" r="2.8"/>
<circle cx="513.7" cy="847.8" r="2.8"/>
<circle cx="514.3" cy="843" r="2.8"/>
<circle cx="514.7" cy="835.3" r="2.8"/>
<circle cx="514.6" cy="825.6" r="2.8"/>
<circle cx="514.9" cy="820.3" r="2.8"/>
<circle cx="514.4" cy="815" r="2.8"/>
<circle cx="515.1" cy="805.2" r="2.8"/>
<circle cx="514.5" cy="797.5" r="2.8"/>
<circle cx="514.9" cy="785.4" r="2.8"/>
<circle cx="515.1" cy="772.1" r="2.8"/>
<circle cx="515" cy="766.7" r="2.8"/>
<circle cx="551.1" cy="795" r="2.8"/>
<circle cx="554.1" cy="793.5" r="2.8"/>
<circle cx="551.7" cy="792" r="2.8"/>
<circle cx="552.3" cy="790.4" r="2.8"/>
<circle cx="552.7" cy="788.7" r="2.8"/>
<circle cx="551.5" cy="787" r="2.8"/>
<circle cx="552" cy="785.4" r="2.8"/>
<circle cx="552.8" cy="783.6" r="2.8"/>
<circle cx="554.2" cy="781.5" r="2.8"/>
<circle cx="554.8" cy="779.5" r="2.8"/>
<circle cx="554.4" cy="777.1" r="2.8"/>
<circle cx="552.6" cy="775.3" r="2.8"/>
<circle cx="553.4" cy="773.4" r="2.8"/>
<circle cx="551.6" cy="771" r="2.8"/>
<circle cx="552.9" cy="769" r="2.8"/>
<circle cx="552.7" cy="766.3" r="2.8"/>
<circle cx="553.4" cy="763.6" r="2.8"/>
<circle cx="553.7" cy="760.4" r="2.8"/>
<circle cx="551.9" cy="757.5" r="2.8"/>
<circle cx="551.5" cy="753.5" r="2.8"/>
<circle cx="552" cy="750.7" r="2.8"/>
<circle cx="553.4" cy="746.8" r="2.8"/>
<circle cx="553" cy="744.1" r="2.8"/>
<circle cx="553.5" cy="739.8" r="2.8"/>
<circle cx="553.7" cy="736.9" r="2.8"/>
<circle cx="552.7" cy="733.1" r="2.8"/>
<circle cx="554" cy="729.8" r="2.8"/>
<circle cx="553.8" cy="724.2" r="2.8"/>
<circle cx="552" cy="718.7" r="2.8"/>
<circle cx="551.9" cy="713.4" r="2.8"/>
<circle cx="553.8" cy="709.4" r="2.8"/>
<circle cx="552.7" cy="705.9" r="2.8"/>
<circle cx="553.6" cy="701.9" r="2.8"/>
<circle cx="552" cy="691.5" r="2.8"/>
<circle cx="554" cy="684.5" r="2.8"/>
<circle cx="552.6" cy="678.1" r="2.8"/>
<circle cx="553.7" cy="664.5" r="2.8"/>
<circle cx="553.3" cy="655.4" r="2.8"/>
<circle cx="552.8" cy="640.9" r="2.8"/>
<circle cx="552.8" cy="635.1" r="2.8"/>
<circle cx="553.5" cy="619.5" r="2.8"/>
<circle cx="552.9" cy="606" r="2.8"/>
<circle cx="553" cy="600.7" r="2.8"/>
<circle cx="594.4" cy="817" r="2.8"/>
<circle cx="595.6" cy="815.5" r="2.8"/>
<circle cx="592.2" cy="814" r="2.8"/>
<circle cx="593.3" cy="812.4" r="2.8"/>
<circle cx="595" cy="810.9" r="2.8"/>
<circle cx="594.2" cy="809.1" r="2.8"/>
<circle cx="593" cy="807.2" r="2.8"/>
<circle cx="593.6" cy="805.5" r="2.8"/>
<circle cx="592.9" cy="803.7" r="2.8"/>
<circle cx="594.9" cy="801.4" r="2.8"/>
<circle cx="593" cy="799.5" r="2.8"/>
<circle cx="593.6" cy="797.5" r="2.8"/>
<circle cx="595" cy="795.1" r="2.8"/>
<circle cx="592.6" cy="792.2" r="2.8"/>
<circle cx="593.6" cy="790" r="2.8"/>
<circle cx="593.9" cy="786.7" r="2.8"/>
<circle cx="595.1" cy="783.4" r="2.8"/>
<circle cx="593.6" cy="780.4" r="2.8"/>
<circle cx="594.4" cy="776.5" r="2.8"/>
<circle cx="593.3" cy="771.8" r="2.8"/>
<circle cx="594" cy="766.7" r="2.8"/>
<circle cx="594.4" cy="761.3" r="2.8"/>
<circle cx="595" cy="756.5" r="2.8"/>
<circle cx="593.4" cy="753.3" r="2.8"/>
<circle cx="594.9" cy="748.2" r="2.8"/>
<circle cx="594.7" cy="744.2" r="2.8"/>
<circle cx="593.6" cy="740.5" r="2.8"/>
<circle cx="594.5" cy="734.6" r="2.8"/>
<circle cx="594.8" cy="727.9" r="2.8"/>
<circle cx="593.7" cy="719.4" r="2.8"/>
<circle cx="593.8" cy="711.4" r="2.8"/>
<circle cx="593.6" cy="699.7" r="2.8"/>
<circle cx="593.6" cy="693.3" r="2.8"/>
<circle cx="594.5" cy="685.7" r="2.8"/>
<circle cx="593.6" cy="672.8" r="2.8"/>
<circle cx="594.5" cy="661.7" r="2.8"/>
<circle cx="593.8" cy="642.2" r="2.8"/>
<circle cx="594" cy="630.7" r="2.8"/>
<circle cx="638.3" cy="909" r="2.8"/>
<circle cx="639.3" cy="907.5" r="2.8"/>
<circle cx="638.2" cy="905.9" r="2.8"/>
<circle cx="641.6" cy="904.3" r="2.8"/>
<circle cx="640.3" cy="902.5" r="2.8"/>
<circle cx="639" cy="900.8" r="2.8"/>
<circle cx="641.3" cy="898.6" r="2.8"/>
<circle cx="639.5" cy="896.7" r="2.8"/>
<circle cx="639.3" cy="894.3" r="2.8"/>
<circle cx="641.3" cy="892.2" r="2.8"/>
<circle cx="640.4" cy="890.1" r="2.8"/>
<circle cx="639.9" cy="887.5" r="2.8"/>
<circle cx="640.8" cy="883.7" r="2.8"/>
<circle cx="638.5" cy="879.7" r="2.8"/>
<circle cx="640.9" cy="875" r="2.8"/>
<circle cx="639.2" cy="872.3" r="2.8"/>
<circle cx="641" cy="866.9" r="2.8"/>
<circle cx="641" cy="861.5" r="2.8"/>
<circle cx="639.4" cy="857.7" r="2.8"/>
<circle cx="640.7" cy="849.6" r="2.8"/>
<circle cx="640.1" cy="844.2" r="2.8"/>
<circle cx="640.5" cy="836.7" r="2.8"/>
<circle cx="639.7" cy="828.6" r="2.8"/>
<circle cx="640.3" cy="815.7" r="2.8"/>
<circle cx="640.2" cy="805.5" r="2.8"/>
<circle cx="640" cy="795.4" r="2.8"/>
<circle cx="640" cy="788.7" r="2.8"/>
<circle cx="675.4" cy="914" r="2.8"/>
<circle cx="674.4" cy="912.5" r="2.8"/>
<circle cx="675.5" cy="910.9" r="2.8"/>
<circle cx="676" cy="909.2" r="2.8"/>
<circle cx="677.2" cy="907.1" r="2.8"/>
<circle cx="674.7" cy="905" r="2.8"/>
<circle cx="677.3" cy="903" r="2.8"/>
<circle cx="676.8" cy="899.7" r="2.8"/>
<circle cx="675.7" cy="895.5" r="2.8"/>
<circle cx="674.8" cy="892.4" r="2.8"/>
<circle cx="676.7" cy="888.1" r="2.8"/>
<circle cx="675.8" cy="884.5" r="2.8"/>
<circle cx="675.3" cy="880.7" r="2.8"/>
<circle cx="676.3" cy="873.2" r="2.8"/>
<circle cx="675.7" cy="860.5" r="2.8"/>
<circle cx="675.5" cy="852" r="2.8"/>
<circle cx="676" cy="845.7" r="2.8"/>
<circle cx="688.2" cy="921" r="2.8"/>
<circle cx="688.6" cy="919.5" r="2.8"/>
<circle cx="689.9" cy="917.4" r="2.8"/>
<circle cx="690" cy="913.4" r="2.8"/>
<circle cx="689.3" cy="909.6" r="2.8"/>
<circle cx="690" cy="904.7" r="2.8"/>
<circle cx="938.8" cy="985" r="2.8"/>
<circle cx="936" cy="983.5" r="2.8"/>
<circle cx="936.8" cy="981.9" r="2.8"/>
<circle cx="936.2" cy="980.1" r="2.8"/>
<circle cx="935.4" cy="978.2" r="2.8"/>
<circle cx="938.6" cy="975.4" r="2.8"/>
<circle cx="936.6" cy="971.6" r="2.8"/>
<circle cx="936.2" cy="967.4" r="2.8"/>
<circle cx="935.7" cy="964.2" r="2.8"/>
<circle cx="937.7" cy="959.5" r="2.8"/>
<circle cx="936.5" cy="952.7" r="2.8"/>
<circle cx="937.1" cy="944.3" r="2.8"/>
<circle cx="936.9" cy="936.8" r="2.8"/>
<circle cx="937" cy="929.7" r="2.8"/>
<circle cx="1374.8" cy="990" r="2.8"/>
<circle cx="1375.8" cy="988.5" r="2.8"/>
<circle cx="1376.5" cy="986.9" r="2.8"/>
<circle cx="1374.8" cy="985.1" r="2.8"/>
<circle cx="1375.6" cy="983.2" r="2.8"/>
<circle cx="1374.9" cy="981.2" r="2.8"/>
<circle cx="1374.7" cy="978.9" r="2.8"/>
<circle cx="1375.3" cy="974.9" r="2.8"/>
<circle cx="1375.3" cy="970.9" r="2.8"/>
<circle cx="1375.3" cy="965.5" r="2.8"/>
<circle cx="1374.3" cy="960.6" r="2.8"/>
<circle cx="1375.8" cy="952.5" r="2.8"/>
<circle cx="1375" cy="939.5" r="2.8"/>
<circle cx="1375" cy="931.7" r="2.8"/>
<circle cx="792.3" cy="990" r="2.8"/>
<circle cx="792" cy="988.5" r="2.8"/>
<circle cx="793.7" cy="986.7" r="2.8"/>
<circle cx="791" cy="984.9" r="2.8"/>
<circle cx="792.3" cy="982.2" r="2.8"/>
<circle cx="790.9" cy="977.7" r="2.8"/>
<circle cx="792" cy="974.2" r="2.8"/>
<circle cx="791.2" cy="965.9" r="2.8"/>
<circle cx="792.2" cy="957.1" r="2.8"/>
<circle cx="792" cy="955.7" r="2.8"/>
</g>
<polyline points="116,996 118,990.4 120,988 122,985.7 124,980 125,979.4 126,988 127,1001.5 128,1011 130,1009.1 132,1011 134,1008.9 136,1003 138.5,988.5 141,980 143,991.3 145,996 147,985.4 149,980 151,994.9 153,1003 155,998.1 157,996 159,994.2 161,984 163,978.2 165,978 167,984 169,984 171,987 173,994 175,997.3 177,994 179,994.1 181,998 183.5,992.3 186,982 188,977.4 190,976 192,963.3 194,939 196,952.8 198,978 200,976.7 202,972 204,945 206,923 208,953 210,976 212,967.8 214,964 216,970.4 218,968 220,958.3 222,960 224.5,962.1 227,954 229,960.7 231,976 233,979.5 235,972 237,973.3 239,980 241,980.6 243,976 245,970.4 247,970 249,979.1 251,980 252.5,977 254,980 256,970.5 258,956 260,955.5 262,964 264,974.8 266,972 268,943.1 270,927 272.5,940.2 275,943 277,938.7 279,947 281,958 283,960 285,962.5 287,974 289,952 291,919 293,938.4 295,964 297,974.1 299,976 301,968.5 303,968 305,975.7 307,978 309,975.3 311,980 313,972.4 315,960 317.5,954 320,958 322,962.7 324,962 326,946.2 328,939 330,949.9 332,956 334,954.3 336,962 338,963.3 340,960 342,953.3 344,958 346,958.1 348,954 350,955.8 352,968 354,974.6 356,976 358.5,975.8 361,984 363,988 365,988 367,982.4 369,980 371,977.8 373,968 375,971.8 377,980 379,987.1 381,988 382.5,984.6 384,986 386,980.4 388,970 390,969.1 392,975 394,992 396,1006 398,1007.5 400,1011 402,1009.3 404,1006 406.5,1009 409,1014 411,1013.4 413,1011 415,1005 417,1001 419,1004.8 421,1006 423,1006.8 425,1011 427,1007.6 429,999 431,992.1 433,991 435,995.3 437,993 439,991.7 441,996 443,1002.7 445,1006 447.5,1006.1 450,1011 452,1004.6 454,996 456,999.7 458,1006 460,1005.8 462,1004 464,1002.5 466,1006 468,1009.7 470,1009 472,1003.4 474,1001 476,1001.5 478,996 480,985.3 482,981 484,974.7 486,955 488,943.5 490,945 491.5,930.7 493,909 494,944 495,986 497,984.6 499,975 501,975.3 503,986 505,979 507,965 509,960.3 511,963 512,935.7 513,904 515,947.7 517,999 519,1004.4 521,999 522.5,947.3 524,904 526,928 528,940 530,961.5 532,996 534,979.7 536,950 538.5,949.3 541,960 543,977.3 545,986 547,943.9 549,909 551,876.2 553,830 554,876.5 555,935 556,893.2 557,840 559,908.1 561,981 563,987.1 565,983 567,969.3 569,965 571,953.8 573,937 575,937.3 577,945 579,972.3 581,991 583.5,962.2 586,940 588,972.1 590,999 592,924.2 594,855 596,914.3 598,965 600,948.8 602,937 604,957 606,965 608,973.9 610,991 612,986.5 614,975 616,961.8 618,955 620,983.4 622,1006 624.5,1007.7 627,1016 629,1022 631,1022 633,1015.3 635,1011 637,960.4 639,904 641,955.9 643,1016 645,1020.9 647,1022 649,1023.5 651,1027 653,1026.2 655,1023 656,995.2 657,970 658.5,991.9 660,1008 661.5,999 663,993 665,1009.1 667,1019 669,987.8 671,959 673,960.9 675,951 676.5,962.4 678,981 680,985.4 682,985 684,972.9 686,970 688,976.7 690,978 691.5,988.6 693,1004 694.5,1013.2 696,1019 698.5,1015.8 701,1015 703.5,1016 706,1015 709,1014.7 712,1017 716,1017.7 720,1015 723.5,1017.4 727,1023 731,1024.9 735,1025 738.5,1021.1 742,1019 746,1022 750,1023 753.5,1020.3 757,1019 761,1020.4 765,1019 768.5,1011.7 772,1008 776,1004.8 780,996 783,996.5 786,1003 787.5,1014.8 789,1022 790.5,1006.9 792,998 794,1009 796,1016 798,1015 800,1017 802,1020.9 804,1022 806.5,1016.6 809,1013 811.5,1014.6 814,1013 817,1007.8 820,1005 822.5,1008.3 825,1009 826.5,1011 828,1018 830,1021.3 832,1022 833.5,1014.2 835,1010 837,1017.9 839,1023 840.5,1017.2 842,1013 845,1012.4 848,1010 850,1014.3 852,1022 854.5,1022.1 857,1021 859.5,1019.8 862,1020 864.5,1022.7 867,1023 870,1022.5 873,1024 876,1025.3 879,1025 882.5,1024.2 886,1024 888.5,1024.5 891,1023 894,1017.7 897,1015 899,1020.6 901,1025 903.5,1024.7 906,1026 908.5,1026.1 911,1025 913.5,1023.6 916,1024 918,1023 920,1021 922.5,1018.7 925,1018 927,1016.5 929,1011 931,1008.9 933,1011 935,997.1 937,979 938.5,997 940,1019 942.5,1021.6 945,1023 947.5,1021.4 950,1022 952.5,1022.9 955,1023 957.5,1022 960,1022 962.5,1024.5 965,1026 967.5,1024.9 970,1025 973,1026.3 976,1027 978.5,1026 981,1026 983,1022.2 985,1017 987,1019.8 989,1024 993,1025 997,1025 1000,1025.7 1003,1027 1007,1027.8 1011,1027 1014.5,1027.2 1018,1028 1022.5,1028.3 1027,1028 1032.5,1027.8 1038,1029 1042.5,1028.9 1047,1028 1050,1026.7 1053,1027 1055,1025.1 1057,1022 1059.5,1025 1062,1029 1065,1029.4 1068,1029 1072,1027.1 1076,1026 1080,1028.2 1084,1029 1089,1028.1 1094,1028 1097,1029.1 1100,1029 1103,1028.7 1106,1029 1110.5,1028.3 1115,1027 1118.5,1028 1122,1030 1127.5,1030.5 1133,1030 1138,1030.3 1143,1031 1147,1030.8 1151,1030 1154.5,1026.9 1158,1025 1160.5,1028.1 1163,1030 1165.5,1028.1 1168,1027 1173,1029.6 1178,1031 1182.5,1026.7 1187,1023 1189.5,1026.5 1192,1029 1195,1027.6 1198,1027 1201,1028.4 1204,1028 1206.5,1027.8 1209,1029 1213,1027.5 1217,1025 1221.5,1025.8 1226,1028 1229.5,1028.4 1233,1028 1236.5,1026.4 1240,1026 1245.5,1024.5 1251,1022 1253.5,1024.2 1256,1028 1259.5,1028.5 1263,1028 1266,1026.2 1269,1026 1273,1027.4 1277,1028 1279.5,1025.5 1282,1024 1284,1026 1286,1026 1289,1026.4 1292,1028 1294.5,1027.3 1297,1025 1300.5,1025 1304,1027 1309.5,1025 1315,1022 1319,1023.1 1323,1026 1328,1024.6 1333,1022 1337,1020.4 1341,1020 1345,1021.7 1349,1022 1355,1018.3 1361,1017 1364,1021 1367,1023 1369,1015.6 1371,1010 1372.5,1000.8 1374,988 1375.5,994.5 1377,1005 1379.5,1011.5 1382,1016 1384,1010.9 1386,1010 1389,1015.8 1392,1019 1394.5,1014.1 1397,1012 1400,1019.5 1403,1024 1405,1020 1407,1017 1410.5,1019 1414,1019 1420,1014.6 1426,1013 1431.5,1012.1 1437,1010 1440.5,1008.3 1444,1009 1448.5,1007.1 1453,1002 1455.5,1003.5 1458,1008 1459.5,1008 1461,1005" fill="none" stroke="#ff7f0e" stroke-width="2.08" stroke-linejoin="round"/>
</g>
<rect x="116.5" y="576.5" width="1345" height="478" fill="none" stroke="#000" stroke-width="1.1"/>
<line x1="116.5" y1="1054.5" x2="116.5" y2="1059.4" stroke="#000" stroke-width="1.1"/>
<line x1="284.5" y1="1054.5" x2="284.5" y2="1059.4" stroke="#000" stroke-width="1.1"/>
<line x1="452.5" y1="1054.5" x2="452.5" y2="1059.4" stroke="#000" stroke-width="1.1"/>
<line x1="620.5" y1="1054.5" x2="620.5" y2="1059.4" stroke="#000" stroke-width="1.1"/>
<line x1="789.5" y1="1054.5" x2="789.5" y2="1059.4" stroke="#000" stroke-width="1.1"/>
<line x1="957.5" y1="1054.5" x2="957.5" y2="1059.4" stroke="#000" stroke-width="1.1"/>
<line x1="1125.5" y1="1054.5" x2="1125.5" y2="1059.4" stroke="#000" stroke-width="1.1"/>
<line x1="1293.5" y1="1054.5" x2="1293.5" y2="1059.4" stroke="#000" stroke-width="1.1"/>
<line x1="111.6" y1="1033.5" x2="116.5" y2="1033.5" stroke="#000" stroke-width="1.1"/>
<line x1="111.6" y1="976.5" x2="116.5" y2="976.5" stroke="#000" stroke-width="1.1"/>
<line x1="111.6" y1="919.5" x2="116.5" y2="919.5" stroke="#000" stroke-width="1.1"/>
<line x1="111.6" y1="862.5" x2="116.5" y2="862.5" stroke="#000" stroke-width="1.1"/>
<line x1="111.6" y1="805.5" x2="116.5" y2="805.5" stroke="#000" stroke-width="1.1"/>
<line x1="111.6" y1="748.5" x2="116.5" y2="748.5" stroke="#000" stroke-width="1.1"/>
<line x1="111.6" y1="691.5" x2="116.5" y2="691.5" stroke="#000" stroke-width="1.1"/>
<line x1="111.6" y1="634.5" x2="116.5" y2="634.5" stroke="#000" stroke-width="1.1"/>
<line x1="111.6" y1="577.5" x2="116.5" y2="577.5" stroke="#000" stroke-width="1.1"/>
<text x="105" y="1040.7" font-size="22.8" text-anchor="end" textLength="54" lengthAdjust="spacingAndGlyphs">0.00</text>
<text x="105" y="983.7" font-size="22.8" text-anchor="end" textLength="54" lengthAdjust="spacingAndGlyphs">0.02</text>
<text x="105" y="926.7" font-size="22.8" text-anchor="end" textLength="54" lengthAdjust="spacingAndGlyphs">0.04</text>
<text x="105" y="869.7" font-size="22.8" text-anchor="end" textLength="54" lengthAdjust="spacingAndGlyphs">0.06</text>
<text x="105" y="812.7" font-size="22.8" text-anchor="end" textLength="54" lengthAdjust="spacingAndGlyphs">0.08</text>
<text x="105" y="755.7" font-size="22.8" text-anchor="end" textLength="54" lengthAdjust="spacingAndGlyphs">0.10</text>
<text x="105" y="698.7" font-size="22.8" text-anchor="end" textLength="54" lengthAdjust="spacingAndGlyphs">0.12</text>
<text x="105" y="641.7" font-size="22.8" text-anchor="end" textLength="54" lengthAdjust="spacingAndGlyphs">0.14</text>
<text x="105" y="584.7" font-size="22.8" text-anchor="end" textLength="54" lengthAdjust="spacingAndGlyphs">0.16</text>
<rect x="1046.5" y="586.8" width="406.2" height="79.5" rx="3" fill="#fff" fill-opacity="0.8" stroke="#cccccc" stroke-width="1.1"/>
<circle cx="1072.4" cy="601.4" r="2.9" fill="#1f77b4"/>
<line x1="1053" y1="640" x2="1092" y2="640" stroke="#ff7f0e" stroke-width="2.08"/>
<text x="1105.5" y="606.9" font-size="17" text-anchor="start" textLength="98.5" lengthAdjust="spacingAndGlyphs">Raw Data</text>
<text x="1105.5" y="633.7" font-size="17" text-anchor="start" textLength="269.5" lengthAdjust="spacingAndGlyphs">Butterworth Filtered Data</text>
<text x="1105.5" y="653.4" font-size="17" text-anchor="start" textLength="338.5" lengthAdjust="spacingAndGlyphs">(N=6, Tc=3.3333 min, Type: low)</text>
<text x="116.5" y="568" font-size="28.3" text-anchor="start" textLength="40" lengthAdjust="spacingAndGlyphs">(b)</text>
<text x="783.8" y="30" font-size="29.2" text-anchor="middle" textLength="300" lengthAdjust="spacingAndGlyphs">10.0 MHz N0000044</text>
<text x="0" y="0" font-size="22.6" text-anchor="middle" textLength="223" lengthAdjust="spacingAndGlyphs" transform="translate(37.3,277.5) rotate(-90)">Doppler Shift [Hz]</text>
<text x="0" y="0" font-size="22.6" text-anchor="middle" textLength="207.5" lengthAdjust="spacingAndGlyphs" transform="translate(39.8,815.8) rotate(-90)">Peak Voltage [V]</text>
<text x="0" y="0" font-size="22.6" text-anchor="end" textLength="110" lengthAdjust="spacingAndGlyphs" transform="translate(113,1077.5) rotate(-30)">07-27 00</text>
<text x="0" y="0" font-size="22.6" text-anchor="end" textLength="110" lengthAdjust="spacingAndGlyphs" transform="translate(281,1077.5) rotate(-30)">07-27 03</text>
<text x="0" y="0" font-size="22.6" text-anchor="end" textLength="110" lengthAdjust="spacingAndGlyphs" transform="translate(449,1077.5) rotate(-30)">07-27 06</text>
<text x="0" y="0" font-size="22.6" text-anchor="end" textLength="110" lengthAdjust="spacingAndGlyphs" transform="translate(617,1077.5) rotate(-30)">07-27 09</text>
<text x="0" y="0" font-size="22.6" text-anchor="end" textLength="110" lengthAdjust="spacingAndGlyphs" transform="translate(786,1077.5) rotate(-30)">07-27 12</text>
<text x="0" y="0" font-size="22.6" text-anchor="end" textLength="110" lengthAdjust="spacingAndGlyphs" transform="translate(954,1077.5) rotate(-30)">07-27 15</text>
<text x="0" y="0" font-size="22.6" text-anchor="end" textLength="110" lengthAdjust="spacingAndGlyphs" transform="translate(1122,1077.5) rotate(-30)">07-27 18</text>
<text x="0" y="0" font-size="22.6" text-anchor="end" textLength="110" lengthAdjust="spacingAndGlyphs" transform="translate(1290,1077.5) rotate(-30)">07-27 21</text>
<text x="789.3" y="1157.6" font-size="23" text-anchor="middle" textLength="48.5" lengthAdjust="spacingAndGlyphs">UTC</text>
</svg></body></html>
